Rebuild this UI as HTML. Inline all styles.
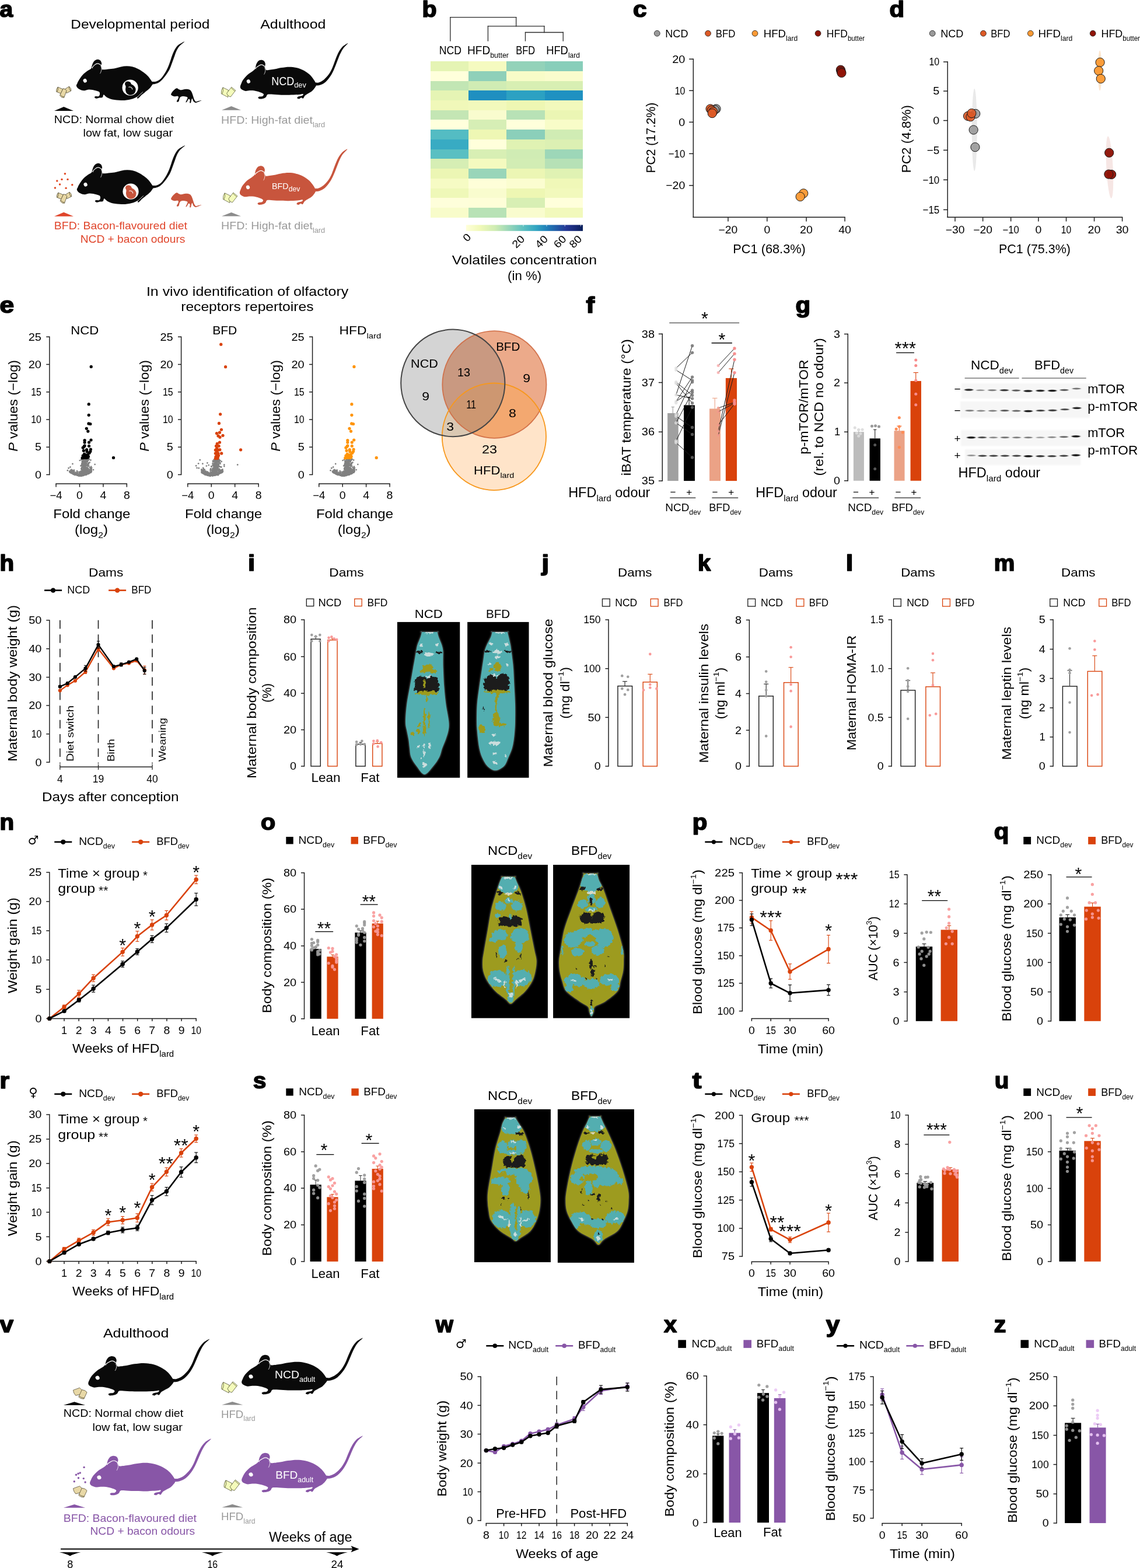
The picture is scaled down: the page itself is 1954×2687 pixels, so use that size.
<!DOCTYPE html>
<html lang="en"><head><meta charset="utf-8"><title>Figure</title>
<style>html,body{margin:0;padding:0;background:#fff}svg{display:block}text{font-family:"Liberation Sans", "DejaVu Sans", sans-serif;white-space:pre}</style>
</head><body>
<svg width="1954" height="2687" viewBox="0 0 1954 2687" font-family='"Liberation Sans", "DejaVu Sans", sans-serif'>
<rect width="1954" height="2687" fill="#fff"/>
<defs>
<path id="mouse" d="M299.6 510.9C298.4 502.7 305.1 496.2 308.7 488.1C312.3 480 312.5 476.2 321.3 462.4C330 448.6 347 421.4 361.3 405.2C375.6 389 392.7 376.2 407 365.2C421.3 354.3 438.9 348.1 447 339.5C455.1 330.9 452.2 323.3 455.5 313.8C458.9 304.3 461.7 291.9 467 282.4C472.2 272.9 478.9 262.9 487 256.7C495.1 250.5 506.5 245.2 515.5 245.2C524.6 245.2 534.8 250 541.3 256.7C547.7 263.3 552.7 276.2 554.4 285.2C556.1 294.3 551.4 302.4 551.5 310.9C551.7 319.5 553 330.3 555.5 336.7C558.1 343 553.6 348.3 567 349.2C580.3 350.2 614.6 344.7 635.5 342.4C656.5 340.1 673.6 339.1 692.7 335.5C711.7 331.9 730.8 324.3 749.8 320.7C768.9 317 787.9 314 807 313.8C826 313.6 845.1 314.9 864.1 319.5C883.1 324.1 902.2 331.7 921.2 341.2C940.3 350.8 961.2 364.1 978.4 376.7C995.5 389.2 1011.2 402.8 1024.1 416.7C1036.9 430.5 1048.9 450.4 1055.5 459.5C1062.1 468.6 1062.4 469.4 1063.8 471.4C1065.2 473.4 1056.7 471.9 1063.8 471.4C1071 470.9 1091.9 473.8 1106.7 468.5C1121.4 463.3 1137.2 455.2 1152.4 440C1167.6 424.7 1185.7 397.1 1198.1 377.1C1210.5 357.1 1218.1 340 1226.7 320C1235.2 300 1242.9 276.2 1249.5 257.1C1256.2 238.1 1259.1 224.8 1266.7 205.7C1274.3 186.7 1284.8 160.5 1295.2 142.8C1305.7 125.2 1314.8 112.4 1329.5 100C1344.3 87.6 1374.6 73 1383.8 68.6C1393 64.1 1392.6 65.5 1385 73.1C1377.3 80.8 1351 98.9 1338.1 114.3C1325.2 129.7 1316.7 146.7 1307.8 165.7C1299 184.8 1292.6 207.6 1285 228.6C1277.3 249.5 1269.2 272.4 1262.1 291.4C1255 310.5 1250.7 325.7 1242.1 342.8C1233.5 360 1223.5 376.2 1210.7 394.3C1197.8 412.4 1180.2 436.2 1165 451.4C1149.7 466.6 1135.2 477.9 1119.3 485.7C1103.3 493.5 1077.8 496.2 1069.5 498.3C1061.3 500.4 1071.4 495.7 1069.5 498.3C1067.7 500.9 1064 506.4 1058.4 513.8C1052.7 521.1 1046.9 531.4 1035.5 542.4C1024.1 553.3 1002.2 569.5 989.8 579.5C977.4 589.5 970.3 594.3 961.2 602.4C952.2 610.5 942.7 621.7 935.5 628.1C928.4 634.5 922.2 640.2 918.4 640.6C914.6 641.1 912.2 634.5 912.7 630.9C913.1 627.4 929.3 617.1 921.2 619.5C913.1 621.9 883.1 639 864.1 645.2C845.1 651.4 826 654.3 807 656.6C787.9 659 773.6 660.5 749.8 659.5C726 658.6 687.9 656.2 664.1 650.9C640.3 645.7 621.7 636.2 607 628.1C592.2 620 582.7 602.4 575.5 602.4C568.4 602.4 571.3 622.8 564.1 628.1C557 633.3 542.7 631.7 532.7 633.8C522.7 635.9 512.2 641.1 504.1 640.6C496 640.2 486.5 634.5 484.1 630.9C481.7 627.4 483.6 621.4 489.8 619.5C496 617.6 513.6 622.4 521.3 619.5C528.9 616.6 533.6 609.5 535.5 602.4C537.4 595.2 537 582.8 532.7 576.6C528.4 570.5 521.3 569 509.8 565.2C498.4 561.4 478.4 556.2 464.1 553.8C449.8 551.4 437.5 549.8 424.1 550.9C410.8 552.1 396.5 559.7 384.1 560.7C371.7 561.6 361.3 560.5 349.8 556.7C338.4 552.8 323.9 545.4 315.6 537.8C307.2 530.2 300.7 519.2 299.6 510.9Z"/>
<path id="mouse2" d="M305 520C305.8 511.7 310 501.7 315 490C320 478.3 324.2 465 335 450C345.8 435 364.2 414.2 380 400C395.8 385.8 417.5 375 430 365C442.5 355 449.2 350.8 455 340C460.8 329.2 460 312.5 465 300C470 287.5 476.7 273 485 265C493.3 257 505 252.5 515 252C525 251.5 537.8 255.7 545 262C552.2 268.3 556.3 280.3 558 290C559.7 299.7 554.3 310.8 555 320C555.7 329.2 558.7 339.2 562 345C565.3 350.8 560.3 355 575 355C589.7 355 625.8 349.2 650 345C674.2 340.8 695 333.8 720 330C745 326.2 775 322 800 322C825 322 846.7 324.5 870 330C893.3 335.5 918.3 344.2 940 355C961.7 365.8 983.3 380.8 1000 395C1016.7 409.2 1029.2 425.8 1040 440C1050.8 454.2 1060.8 473.3 1065 480C1069.2 486.7 1059.2 480.3 1065 480C1070.8 479.7 1085.8 483 1100 478C1114.2 473 1133.3 463.8 1150 450C1166.7 436.2 1185.8 415 1200 395C1214.2 375 1224.2 354.2 1235 330C1245.8 305.8 1254.2 276.7 1265 250C1275.8 223.3 1287.5 192.5 1300 170C1312.5 147.5 1325.8 129.2 1340 115C1354.2 100.8 1377.2 89.2 1385 85C1392.8 80.8 1393.7 81.7 1387 90C1380.3 98.3 1357.5 117.5 1345 135C1332.5 152.5 1322.5 172.5 1312 195C1301.5 217.5 1292.3 244.2 1282 270C1271.7 295.8 1261.2 325.8 1250 350C1238.8 374.2 1229.2 394.2 1215 415C1200.8 435.8 1182.5 460 1165 475C1147.5 490 1125.5 499.2 1110 505C1094.5 510.8 1078.3 509.2 1072 510C1065.7 510.8 1074 506.7 1072 510C1070 513.3 1067 520.8 1060 530C1053 539.2 1041.7 555 1030 565C1018.3 575 1001.7 582.5 990 590C978.3 597.5 968.3 601.7 960 610C951.7 618.3 946.7 636.3 940 640C933.3 643.7 926.7 631.2 920 632C913.3 632.8 906.7 644 900 645C893.3 646 881.7 641.8 880 638C878.3 634.2 881.7 626.3 890 622C898.3 617.7 921.7 616.5 930 612C938.3 607.5 945 597 940 595C935 593 923.3 598.3 900 600C876.7 601.7 833.3 604.5 800 605C766.7 605.5 730 604.2 700 603C670 601.8 640 598.5 620 598C600 597.5 589.2 595.5 580 600C570.8 604.5 571.7 618.3 565 625C558.3 631.7 550.8 636.7 540 640C529.2 643.3 509.2 646.3 500 645C490.8 643.7 485 635.8 485 632C485 628.2 492.5 624.3 500 622C507.5 619.7 523.3 622.5 530 618C536.7 613.5 545 602.2 540 595C535 587.8 515 580.5 500 575C485 569.5 466.7 564.5 450 562C433.3 559.5 415 559.5 400 560C385 560.5 371.7 565.8 360 565C348.3 564.2 338.3 559.2 330 555C321.7 550.8 314.2 545.8 310 540C305.8 534.2 304.2 528.3 305 520Z"/>
<path id="pup" d="M1255.2 597.1C1257.1 591.4 1262.9 580 1269.5 571.4C1276.2 562.8 1287.6 551.4 1295.2 545.7C1302.9 540 1308.6 536.6 1315.2 537.1C1321.9 537.6 1328.1 545.7 1335.2 548.5C1342.4 551.4 1348.6 554.4 1358.1 554.3C1367.6 554.1 1381 548.5 1392.4 547.4C1403.8 546.3 1417.1 545.8 1426.7 547.4C1436.2 549 1442.9 551.2 1449.5 557.1C1456.2 563 1461.9 572.8 1466.7 582.8C1471.4 592.8 1474.3 605.7 1478.1 617.1C1481.9 628.5 1485.2 642.3 1489.5 651.4C1493.8 660.4 1498.1 668.5 1503.8 671.4C1509.5 674.3 1514.8 670.4 1523.8 668.5C1532.8 666.6 1552.4 660.9 1558.1 660C1563.8 659 1563.8 660 1558.1 662.8C1552.4 665.7 1533.3 673.8 1523.8 677.1C1514.3 680.4 1508.1 684.3 1500.9 682.8C1493.8 681.4 1486.2 675.7 1480.9 668.5C1475.7 661.4 1472.9 641.9 1469.5 640C1466.2 638.1 1463.3 650 1460.9 657.1C1458.6 664.3 1458.1 678.5 1455.2 682.8C1452.4 687.1 1445.2 687.1 1443.8 682.8C1442.4 678.5 1448.6 663.3 1446.7 657.1C1444.8 650.9 1437.6 642.8 1432.4 645.7C1427.1 648.5 1420 669 1415.2 674.3C1410.5 679.5 1403.3 681.9 1403.8 677.1C1404.3 672.3 1415.2 653.8 1418.1 645.7C1421 637.6 1425.2 632.8 1421 628.5C1416.7 624.3 1401.9 621.4 1392.4 620C1382.9 618.5 1371.9 617.6 1363.8 620C1355.7 622.3 1349 625.7 1343.8 634.3C1338.6 642.8 1337.6 665.2 1332.4 671.4C1327.1 677.6 1312.9 677.6 1312.4 671.4C1311.9 665.2 1327.6 643.3 1329.5 634.3C1331.4 625.2 1330.5 619.5 1323.8 617.1C1317.1 614.7 1298.6 620.4 1289.5 620C1280.5 619.5 1274.8 616.6 1269.5 614.3C1264.3 611.9 1260.5 608.5 1258.1 605.7C1255.7 602.8 1253.3 602.8 1255.2 597.1Z"/>
<g id="pellet" stroke-width="13" stroke-linejoin="round"><path d="M290 395 L470 470 L400 625 L240 560 Q228 470 290 395 Z"/><path d="M290 395 Q320 480 262 570" fill="none"/><path d="M540 470 L690 375 Q775 440 760 530 L600 610 Z"/><path d="M690 375 Q670 460 745 535" fill="none"/><path d="M480 445 Q560 462 602 522 L510 770 Q430 790 360 690 Z"/><path d="M378 662 Q440 740 515 745" fill="none"/></g>
<g id="pellet2" stroke-width="13" stroke-linejoin="round"><path d="M350 410 L545 505 L530 755 L295 630 Q285 500 350 410 Z"/><path d="M350 410 Q385 520 325 645" fill="none"/><path d="M655 395 L800 515 L625 740 Q520 725 488 612 Z"/><path d="M640 425 L775 545" fill="none"/></g>
<g id="pellet3" stroke-width="3.6" stroke-linejoin="round"><path d="M150 602 L215 578 L240 602 L232 642 L175 656 Q152 632 150 602 Z"/><path d="M238 598 Q272 600 289 624 L258 690 Q225 692 205 670 Z"/><path d="M210 662 Q235 682 262 682" fill="none"/></g>
</defs>
<!-- panel_a -->
<text x="-0.4" y="29.3" font-size="38" textLength="22.6" lengthAdjust="spacingAndGlyphs" font-weight="bold" stroke="#000" stroke-width="1.7" stroke-linejoin="round">a</text>
<text x="121.27" y="48.83" font-size="21.5" textLength="238.14" lengthAdjust="spacingAndGlyphs">Developmental period</text>
<text x="446.27" y="48.83" font-size="21.5" textLength="112.07" lengthAdjust="spacingAndGlyphs">Adulthood</text>
<g transform="translate(80 60) scale(0.16980)">
<use href="#mouse" fill="#0a0a0a"/>
<path d="M463 332.1C452.7 329.7 478.2 306.9 487 299.5C495.7 292.2 506.5 288.1 515.5 288.1C524.6 288.1 535.7 295.2 541.3 299.5C546.8 303.8 561.7 308.4 548.7 313.8" fill="none" stroke="#fff" stroke-width="7" stroke-linecap="round"/>
<path d="M547 313.8C549.3 306.9 554.5 335.5 553.3 348.1C552 360.7 540.6 394.9 539.5 389.2" fill="none" stroke="#fff" stroke-width="4.5" stroke-linecap="round"/>
<path d="M920.1 621.2C920.1 621.2 969.8 574.9 969.8 574.9" fill="none" stroke="#fff" stroke-width="5" stroke-linecap="round"/>
<ellipse cx="386.98" cy="460.66" rx="18" ry="20" fill="#fff" transform="rotate(-25 386.98 460.66)"/>
<circle cx="842.96" cy="530.94" r="80" fill="#fff"/>
<path d="M798.4 473.8C804.1 469 816 467.1 824.1 468.1C832.2 469 841.7 474.8 847 479.5C852.2 484.3 849.8 490.9 855.5 496.7C861.2 502.4 874.1 506.2 881.2 513.8C888.4 521.4 896.5 531.9 898.4 542.4C900.3 552.8 897.4 567.1 892.7 576.6C887.9 586.2 879.3 594.7 869.8 599.5C860.3 604.3 846 607.1 835.5 605.2C825.1 603.3 813.6 596.6 807 588.1C800.3 579.5 797 565.2 795.5 553.8C794.1 542.4 799.3 529 798.4 519.5C797.4 510 789.8 504.3 789.8 496.7C789.8 489 792.7 478.6 798.4 473.8Z" fill="#0a0a0a"/>
<path d="M829.8 526.4C827.9 523 847 524.5 852.7 528.1C858.4 531.7 867.9 548.4 864.1 548.1" fill="none" stroke="#fff" stroke-width="6" stroke-linecap="round"/>
</g>
<use href="#pup" fill="#0a0a0a" transform="translate(80.02 60.01) scale(0.16980)"/>
<g transform="translate(360.01 60) scale(0.16980 0.16980)">
<use href="#mouse2" fill="#0a0a0a"/>
<path d="M462 340C451.5 337.3 480.3 318.7 490 312C499.7 305.3 510.8 300 520 300C529.2 300 539.5 307.3 545 312C550.5 316.7 566.8 323.3 553 328" fill="none" stroke="#fff" stroke-width="7" stroke-linecap="round"/>
<path d="M552 330C554.2 324 559.2 350.7 558 362C556.8 373.3 546 403.3 545 398" fill="none" stroke="#fff" stroke-width="4.5" stroke-linecap="round"/>
<ellipse cx="388" cy="468" rx="18" ry="20" fill="#fff" transform="rotate(-25 388 468)"/>
</g>
<g transform="translate(80.9 238) scale(0.16980)">
<use href="#mouse" fill="#0a0a0a"/>
<path d="M463 332.1C452.7 329.7 478.2 306.9 487 299.5C495.7 292.2 506.5 288.1 515.5 288.1C524.6 288.1 535.7 295.2 541.3 299.5C546.8 303.8 561.7 308.4 548.7 313.8" fill="none" stroke="#fff" stroke-width="7" stroke-linecap="round"/>
<path d="M547 313.8C549.3 306.9 554.5 335.5 553.3 348.1C552 360.7 540.6 394.9 539.5 389.2" fill="none" stroke="#fff" stroke-width="4.5" stroke-linecap="round"/>
<path d="M920.1 621.2C920.1 621.2 969.8 574.9 969.8 574.9" fill="none" stroke="#fff" stroke-width="5" stroke-linecap="round"/>
<ellipse cx="386.98" cy="460.66" rx="18" ry="20" fill="#fff" transform="rotate(-25 386.98 460.66)"/>
<circle cx="842.96" cy="530.94" r="80" fill="#fff"/>
<path d="M798.4 473.8C804.1 469 816 467.1 824.1 468.1C832.2 469 841.7 474.8 847 479.5C852.2 484.3 849.8 490.9 855.5 496.7C861.2 502.4 874.1 506.2 881.2 513.8C888.4 521.4 896.5 531.9 898.4 542.4C900.3 552.8 897.4 567.1 892.7 576.6C887.9 586.2 879.3 594.7 869.8 599.5C860.3 604.3 846 607.1 835.5 605.2C825.1 603.3 813.6 596.6 807 588.1C800.3 579.5 797 565.2 795.5 553.8C794.1 542.4 799.3 529 798.4 519.5C797.4 510 789.8 504.3 789.8 496.7C789.8 489 792.7 478.6 798.4 473.8Z" fill="#c8553d"/>
<path d="M829.8 526.4C827.9 523 847 524.5 852.7 528.1C858.4 531.7 867.9 548.4 864.1 548.1" fill="none" stroke="#fff" stroke-width="6" stroke-linecap="round"/>
</g>
<use href="#pup" fill="#c8553d" transform="translate(80.02 239.01) scale(0.16980)"/>
<g transform="translate(359.11 241.4) scale(0.16980 0.16980)">
<use href="#mouse2" fill="#c8553d"/>
<path d="M462 340C451.5 337.3 480.3 318.7 490 312C499.7 305.3 510.8 300 520 300C529.2 300 539.5 307.3 545 312C550.5 316.7 566.8 323.3 553 328" fill="none" stroke="#fff" stroke-width="7" stroke-linecap="round"/>
<path d="M552 330C554.2 324 559.2 350.7 558 362C556.8 373.3 546 403.3 545 398" fill="none" stroke="#fff" stroke-width="4.5" stroke-linecap="round"/>
<ellipse cx="388" cy="468" rx="18" ry="20" fill="#fff" transform="rotate(-25 388 468)"/>
</g>
<use href="#pellet" fill="#e8d8a6" stroke="#2a2412" transform="translate(85 130) scale(0.04851)"/>
<use href="#pellet" fill="#e8d8a6" stroke="#2a2412" transform="translate(85.7 311) scale(0.04851)"/>
<use href="#pellet2" fill="#f4fbbb" stroke="#3a3a1a" transform="translate(365 130) scale(0.04851)"/>
<use href="#pellet2" fill="#f4fbbb" stroke="#3a3a1a" transform="translate(368.1 310.9) scale(0.04851)"/>
<circle cx="111.41" cy="297.73" r="1.7" fill="#e0451f"/>
<circle cx="105.98" cy="307.41" r="1.7" fill="#e0451f"/>
<circle cx="116" cy="307.41" r="1.7" fill="#e0451f"/>
<circle cx="97.83" cy="309.96" r="1.7" fill="#e0451f"/>
<circle cx="102.58" cy="316.07" r="1.7" fill="#e0451f"/>
<circle cx="123.81" cy="316.75" r="1.7" fill="#e0451f"/>
<circle cx="94.43" cy="322.01" r="1.7" fill="#e0451f"/>
<circle cx="113.11" cy="322.35" r="1.7" fill="#e0451f"/>
<polygon points="93,189.9 109.3,183 126,189.9" fill="#0a0a0a"/>
<polygon points="380,188.7 396.5,182.1 413,188.7" fill="#8c8c8c"/>
<polygon points="93,370.7 109.3,363.8 126,370.7" fill="#e0452b"/>
<polygon points="380,370.5 396.5,363.9 413,370.5" fill="#8c8c8c"/>
<text x="92.86" y="210.93" font-size="19" textLength="205.32" lengthAdjust="spacingAndGlyphs">NCD: Normal chow diet</text>
<text x="142.49" y="233.74" font-size="19" textLength="153.69" lengthAdjust="spacingAndGlyphs">low fat, low sugar</text>
<text x="379.03" y="212.13" font-size="19" textLength="178.11" lengthAdjust="spacingAndGlyphs" fill="#9a9a9a">HFD: High-fat diet<tspan font-size="12.35" dy="5.7">lard</tspan><tspan dy="-5.7">&#8203;</tspan></text>
<text x="92.86" y="393.04" font-size="19" textLength="228.14" lengthAdjust="spacingAndGlyphs" fill="#e0452b">BFD: Bacon-flavoured diet</text>
<text x="137.68" y="416.25" font-size="19" textLength="179.71" lengthAdjust="spacingAndGlyphs" fill="#e0452b">NCD + bacon odours</text>
<text x="379.03" y="393.04" font-size="19" textLength="178.11" lengthAdjust="spacingAndGlyphs" fill="#9a9a9a">HFD: High-fat diet<tspan font-size="12.35" dy="5.7">lard</tspan><tspan dy="-5.7">&#8203;</tspan></text>
<text x="465.3" y="145.8" font-size="19.5" textLength="59.4" lengthAdjust="spacingAndGlyphs" fill="#fff">NCD<tspan font-size="13.65" dy="4.68">dev</tspan><tspan dy="-4.68">&#8203;</tspan></text>
<text x="466.1" y="324.4" font-size="14" textLength="48.1" lengthAdjust="spacingAndGlyphs" fill="#fff">BFD<tspan font-size="11.9" dy="3.92">dev</tspan><tspan dy="-3.92">&#8203;</tspan></text>
<!-- panel_b -->
<text x="723.6" y="29.3" font-size="38" textLength="25.1" lengthAdjust="spacingAndGlyphs" font-weight="bold" stroke="#000" stroke-width="1.7" stroke-linejoin="round">b</text>
<line x1="771.85" y1="29.65" x2="771.85" y2="70.04" stroke="#2a2a2a" stroke-width="1.3" stroke-linecap="square"/>
<line x1="771.85" y1="29.65" x2="884.65" y2="29.65" stroke="#2a2a2a" stroke-width="1.3" stroke-linecap="square"/>
<line x1="884.65" y1="29.65" x2="884.65" y2="44.94" stroke="#2a2a2a" stroke-width="1.3" stroke-linecap="square"/>
<line x1="836.43" y1="44.94" x2="932.86" y2="44.94" stroke="#2a2a2a" stroke-width="1.3" stroke-linecap="square"/>
<line x1="836.43" y1="44.94" x2="836.43" y2="70.04" stroke="#2a2a2a" stroke-width="1.3" stroke-linecap="square"/>
<line x1="932.86" y1="44.94" x2="932.86" y2="55.49" stroke="#2a2a2a" stroke-width="1.3" stroke-linecap="square"/>
<line x1="900.47" y1="55.49" x2="965.24" y2="55.49" stroke="#2a2a2a" stroke-width="1.3" stroke-linecap="square"/>
<line x1="900.47" y1="55.49" x2="900.47" y2="70.04" stroke="#2a2a2a" stroke-width="1.3" stroke-linecap="square"/>
<line x1="965.24" y1="55.49" x2="965.24" y2="70.04" stroke="#2a2a2a" stroke-width="1.3" stroke-linecap="square"/>
<text x="752.75" y="92.78" font-size="19.5" textLength="38.2" lengthAdjust="spacingAndGlyphs">NCD</text>
<text x="800.96" y="92.78" font-size="19.5" textLength="70.95" lengthAdjust="spacingAndGlyphs">HFD<tspan font-size="12.68" dy="5.85">butter</tspan><tspan dy="-5.85">&#8203;</tspan></text>
<text x="884.28" y="92.78" font-size="19.5" textLength="32.75" lengthAdjust="spacingAndGlyphs">BFD</text>
<text x="936.13" y="92.78" font-size="19.5" textLength="57.67" lengthAdjust="spacingAndGlyphs">HFD<tspan font-size="12.68" dy="5.85">lard</tspan><tspan dy="-5.85">&#8203;</tspan></text>
<g shape-rendering="crispEdges">
<rect x="738.2" y="105.1" width="65.42" height="17.03" fill="#e5f4b4"/>
<rect x="803.33" y="105.1" width="65.42" height="17.03" fill="#f5fac0"/>
<rect x="868.45" y="105.1" width="65.42" height="17.03" fill="#93d2b9"/>
<rect x="933.58" y="105.1" width="65.42" height="17.03" fill="#88ceba"/>
<rect x="738.2" y="121.82" width="65.42" height="17.03" fill="#ffffdb"/>
<rect x="803.33" y="121.82" width="65.42" height="17.03" fill="#8fd0b9"/>
<rect x="868.45" y="121.82" width="65.42" height="17.03" fill="#f8fcc8"/>
<rect x="933.58" y="121.82" width="65.42" height="17.03" fill="#fafccd"/>
<rect x="738.2" y="138.55" width="65.42" height="17.03" fill="#c2e6b4"/>
<rect x="803.33" y="138.55" width="65.42" height="17.03" fill="#d0ecb4"/>
<rect x="868.45" y="138.55" width="65.42" height="17.03" fill="#d8efb3"/>
<rect x="933.58" y="138.55" width="65.42" height="17.03" fill="#d8efb3"/>
<rect x="738.2" y="155.28" width="65.42" height="17.03" fill="#e5f4b4"/>
<rect x="803.33" y="155.28" width="65.42" height="17.03" fill="#1f8fc0"/>
<rect x="868.45" y="155.28" width="65.42" height="17.03" fill="#2ca1c2"/>
<rect x="933.58" y="155.28" width="65.42" height="17.03" fill="#1f91c1"/>
<rect x="738.2" y="172" width="65.42" height="17.03" fill="#f0f8b9"/>
<rect x="803.33" y="172" width="65.42" height="17.03" fill="#f2f9bc"/>
<rect x="868.45" y="172" width="65.42" height="17.03" fill="#eef7b3"/>
<rect x="933.58" y="172" width="65.42" height="17.03" fill="#f2f9bc"/>
<rect x="738.2" y="188.72" width="65.42" height="17.03" fill="#c4e6b4"/>
<rect x="803.33" y="188.72" width="65.42" height="17.03" fill="#f9fcce"/>
<rect x="868.45" y="188.72" width="65.42" height="17.03" fill="#b8e2b6"/>
<rect x="933.58" y="188.72" width="65.42" height="17.03" fill="#ebf6b4"/>
<rect x="738.2" y="205.45" width="65.42" height="17.03" fill="#ffffdc"/>
<rect x="803.33" y="205.45" width="65.42" height="17.03" fill="#d6eeb5"/>
<rect x="868.45" y="205.45" width="65.42" height="17.03" fill="#ffffdb"/>
<rect x="933.58" y="205.45" width="65.42" height="17.03" fill="#f8fcc8"/>
<rect x="738.2" y="222.18" width="65.42" height="17.03" fill="#54bcc3"/>
<rect x="803.33" y="222.18" width="65.42" height="17.03" fill="#eef7b4"/>
<rect x="868.45" y="222.18" width="65.42" height="17.03" fill="#8bcfba"/>
<rect x="933.58" y="222.18" width="65.42" height="17.03" fill="#d0ecb4"/>
<rect x="738.2" y="238.9" width="65.42" height="17.03" fill="#38abc3"/>
<rect x="803.33" y="238.9" width="65.42" height="17.03" fill="#ffffdb"/>
<rect x="868.45" y="238.9" width="65.42" height="17.03" fill="#e0f2b3"/>
<rect x="933.58" y="238.9" width="65.42" height="17.03" fill="#dcf0b3"/>
<rect x="738.2" y="255.62" width="65.42" height="17.03" fill="#5abfc2"/>
<rect x="803.33" y="255.62" width="65.42" height="17.03" fill="#d8efb4"/>
<rect x="868.45" y="255.62" width="65.42" height="17.03" fill="#d0ecb4"/>
<rect x="933.58" y="255.62" width="65.42" height="17.03" fill="#9dd7b8"/>
<rect x="738.2" y="272.35" width="65.42" height="17.03" fill="#d6eeb4"/>
<rect x="803.33" y="272.35" width="65.42" height="17.03" fill="#f4fabf"/>
<rect x="868.45" y="272.35" width="65.42" height="17.03" fill="#d2edb4"/>
<rect x="933.58" y="272.35" width="65.42" height="17.03" fill="#b6e1b6"/>
<rect x="738.2" y="289.08" width="65.42" height="17.03" fill="#ecf6b4"/>
<rect x="803.33" y="289.08" width="65.42" height="17.03" fill="#99d5b9"/>
<rect x="868.45" y="289.08" width="65.42" height="17.03" fill="#ecf6b4"/>
<rect x="933.58" y="289.08" width="65.42" height="17.03" fill="#e0f2b3"/>
<rect x="738.2" y="305.8" width="65.42" height="17.03" fill="#f6fbc4"/>
<rect x="803.33" y="305.8" width="65.42" height="17.03" fill="#fefed8"/>
<rect x="868.45" y="305.8" width="65.42" height="17.03" fill="#fbfdd0"/>
<rect x="933.58" y="305.8" width="65.42" height="17.03" fill="#f0f8b8"/>
<rect x="738.2" y="322.52" width="65.42" height="17.03" fill="#eff8b8"/>
<rect x="803.33" y="322.52" width="65.42" height="17.03" fill="#f9fcce"/>
<rect x="868.45" y="322.52" width="65.42" height="17.03" fill="#eef7b3"/>
<rect x="933.58" y="322.52" width="65.42" height="17.03" fill="#f2f9bc"/>
<rect x="738.2" y="339.25" width="65.42" height="17.03" fill="#fefeda"/>
<rect x="803.33" y="339.25" width="65.42" height="17.03" fill="#fefed8"/>
<rect x="868.45" y="339.25" width="65.42" height="17.03" fill="#d8efb4"/>
<rect x="933.58" y="339.25" width="65.42" height="17.03" fill="#ffffdb"/>
<rect x="738.2" y="355.98" width="65.42" height="17.03" fill="#f8fcca"/>
<rect x="803.33" y="355.98" width="65.42" height="17.03" fill="#b8e2b6"/>
<rect x="868.45" y="355.98" width="65.42" height="17.03" fill="#f9fcce"/>
<rect x="933.58" y="355.98" width="65.42" height="17.03" fill="#f2f9bc"/>
</g>
<defs><linearGradient id="cbar" x1="0" x2="1" y1="0" y2="0"><stop offset="0" stop-color="#ffffd9"/><stop offset="0.12" stop-color="#f0f9b8"/><stop offset="0.25" stop-color="#cfecb3"/><stop offset="0.37" stop-color="#97d6b9"/><stop offset="0.49" stop-color="#5dc0c0"/><stop offset="0.60" stop-color="#32a5c2"/><stop offset="0.69" stop-color="#2080b9"/><stop offset="0.78" stop-color="#2259a6"/><stop offset="0.86" stop-color="#253795"/><stop offset="0.94" stop-color="#172875"/><stop offset="1" stop-color="#081d58"/></linearGradient></defs>
<rect x="798.9" y="385.43" width="200.12" height="10.41" fill="url(#cbar)"/>
<line x1="896.96" y1="385.43" x2="896.96" y2="387.84" stroke="#fff" stroke-width="0.8"/>
<line x1="936.98" y1="385.43" x2="936.98" y2="387.84" stroke="#fff" stroke-width="0.8"/>
<line x1="968.2" y1="385.43" x2="968.2" y2="387.84" stroke="#fff" stroke-width="0.8"/>
<line x1="995.42" y1="385.43" x2="995.42" y2="387.84" stroke="#fff" stroke-width="0.8"/>
<text font-size="18" text-anchor="end" textLength="11.01" lengthAdjust="spacingAndGlyphs" transform="translate(808.5 407.45) rotate(-45)">0</text>
<text font-size="18" text-anchor="end" textLength="22.02" lengthAdjust="spacingAndGlyphs" transform="translate(900.56 410.65) rotate(-45)">20</text>
<text font-size="18" text-anchor="end" textLength="22.02" lengthAdjust="spacingAndGlyphs" transform="translate(940.18 410.65) rotate(-45)">40</text>
<text font-size="18" text-anchor="end" textLength="22.02" lengthAdjust="spacingAndGlyphs" transform="translate(971.8 410.65) rotate(-45)">60</text>
<text font-size="18" text-anchor="end" textLength="22.02" lengthAdjust="spacingAndGlyphs" transform="translate(998.62 410.65) rotate(-45)">80</text>
<text x="774.88" y="453.07" font-size="21.5" textLength="248.15" lengthAdjust="spacingAndGlyphs">Volatiles concentration</text>
<text x="870.14" y="480.29" font-size="21.5" textLength="58.04" lengthAdjust="spacingAndGlyphs">(in %)</text>
<!-- panel_c -->
<text x="1085.1" y="29.3" font-size="38" textLength="23.6" lengthAdjust="spacingAndGlyphs" font-weight="bold" stroke="#000" stroke-width="1.7" stroke-linejoin="round">c</text>
<circle cx="1126.29" cy="57.23" r="4.9" fill="#999999" stroke="#1a1a1a" stroke-width="0.8"/>
<text x="1140.3" y="64.04" font-size="19" textLength="39.22" lengthAdjust="spacingAndGlyphs">NCD</text>
<circle cx="1213.55" cy="57.23" r="4.9" fill="#dd5a26" stroke="#1a1a1a" stroke-width="0.8"/>
<text x="1226.76" y="64.04" font-size="19" textLength="33.62" lengthAdjust="spacingAndGlyphs">BFD</text>
<circle cx="1294" cy="57.23" r="4.9" fill="#fb9a35" stroke="#1a1a1a" stroke-width="0.8"/>
<text x="1308.81" y="64.04" font-size="19" textLength="58.44" lengthAdjust="spacingAndGlyphs">HFD<tspan font-size="12.35" dy="5.7">lard</tspan><tspan dy="-5.7">&#8203;</tspan></text>
<circle cx="1402.07" cy="57.23" r="4.9" fill="#8f1407" stroke="#1a1a1a" stroke-width="0.8"/>
<text x="1416.87" y="64.04" font-size="19" textLength="65.24" lengthAdjust="spacingAndGlyphs">HFD<tspan font-size="12.35" dy="5.7">butter</tspan><tspan dy="-5.7">&#8203;</tspan></text>
<line x1="1188.33" y1="100.54" x2="1188.33" y2="372.95" stroke="#1a1a1a" stroke-width="1.45"/>
<line x1="1181.13" y1="101.26" x2="1188.33" y2="101.26" stroke="#1a1a1a" stroke-width="1.45"/>
<text x="1174.33" y="107.57" font-size="18.29" text-anchor="end" textLength="22.18" lengthAdjust="spacingAndGlyphs">20</text>
<line x1="1181.13" y1="155.29" x2="1188.33" y2="155.29" stroke="#1a1a1a" stroke-width="1.45"/>
<text x="1174.33" y="161.6" font-size="18.29" text-anchor="end" textLength="17.69" lengthAdjust="spacingAndGlyphs">10</text>
<line x1="1181.13" y1="209.33" x2="1188.33" y2="209.33" stroke="#1a1a1a" stroke-width="1.45"/>
<text x="1174.33" y="215.64" font-size="18.29" text-anchor="end" textLength="10.98" lengthAdjust="spacingAndGlyphs">0</text>
<line x1="1181.13" y1="263.36" x2="1188.33" y2="263.36" stroke="#1a1a1a" stroke-width="1.45"/>
<text x="1174.33" y="269.67" font-size="18.29" text-anchor="end" textLength="28.68" lengthAdjust="spacingAndGlyphs">−10</text>
<line x1="1181.13" y1="317.79" x2="1188.33" y2="317.79" stroke="#1a1a1a" stroke-width="1.45"/>
<text x="1174.33" y="324.1" font-size="18.29" text-anchor="end" textLength="33.18" lengthAdjust="spacingAndGlyphs">−20</text>
<line x1="1187.61" y1="372.23" x2="1448.82" y2="372.23" stroke="#1a1a1a" stroke-width="1.45"/>
<line x1="1247.97" y1="372.23" x2="1247.97" y2="379.43" stroke="#1a1a1a" stroke-width="1.45"/>
<text x="1247.97" y="400.24" font-size="18.03" text-anchor="middle" textLength="32.7" lengthAdjust="spacingAndGlyphs">−20</text>
<line x1="1314.81" y1="372.23" x2="1314.81" y2="379.43" stroke="#1a1a1a" stroke-width="1.45"/>
<text x="1314.81" y="400.24" font-size="18.03" text-anchor="middle" textLength="10.83" lengthAdjust="spacingAndGlyphs">0</text>
<line x1="1382.05" y1="372.23" x2="1382.05" y2="379.43" stroke="#1a1a1a" stroke-width="1.45"/>
<text x="1382.05" y="400.24" font-size="18.03" text-anchor="middle" textLength="21.87" lengthAdjust="spacingAndGlyphs">20</text>
<line x1="1448.09" y1="372.23" x2="1448.09" y2="379.43" stroke="#1a1a1a" stroke-width="1.45"/>
<text x="1448.09" y="400.24" font-size="18.03" text-anchor="middle" textLength="21.87" lengthAdjust="spacingAndGlyphs">40</text>
<text font-size="22" text-anchor="middle" textLength="120.87" lengthAdjust="spacingAndGlyphs" transform="translate(1122.79 236.14) rotate(-90)">PC2 (17.2%)</text>
<text x="1318.61" y="434.26" font-size="22" text-anchor="middle" textLength="124.48" lengthAdjust="spacingAndGlyphs">PC1 (68.3%)</text>
<circle cx="1227.56" cy="186.51" r="7.6" fill="#999999" stroke="#1a1a1a" stroke-width="1" fill-opacity="0.9700000000000001"/>
<circle cx="1225.15" cy="188.11" r="7.6" fill="#999999" stroke="#1a1a1a" stroke-width="1" fill-opacity="0.9700000000000001"/>
<circle cx="1217.55" cy="186.51" r="7.6" fill="#dd5a26" stroke="#1a1a1a" stroke-width="1" fill-opacity="0.9700000000000001"/>
<circle cx="1219.95" cy="188.91" r="7.6" fill="#dd5a26" stroke="#1a1a1a" stroke-width="1" fill-opacity="0.9700000000000001"/>
<circle cx="1222.35" cy="191.32" r="7.6" fill="#dd5a26" stroke="#1a1a1a" stroke-width="1" fill-opacity="0.9700000000000001"/>
<circle cx="1220.75" cy="194.12" r="7.6" fill="#dd5a26" stroke="#1a1a1a" stroke-width="1" fill-opacity="0.9700000000000001"/>
<circle cx="1440.89" cy="119.67" r="7.6" fill="#8f1407" stroke="#1a1a1a" stroke-width="1" fill-opacity="0.9700000000000001"/>
<circle cx="1441.69" cy="122.47" r="7.6" fill="#8f1407" stroke="#1a1a1a" stroke-width="1" fill-opacity="0.9700000000000001"/>
<circle cx="1442.49" cy="124.88" r="7.6" fill="#8f1407" stroke="#1a1a1a" stroke-width="1" fill-opacity="0.9700000000000001"/>
<circle cx="1377.25" cy="331.4" r="7.6" fill="#fb9a35" stroke="#1a1a1a" stroke-width="1" fill-opacity="0.9700000000000001"/>
<circle cx="1371.65" cy="337" r="7.6" fill="#fb9a35" stroke="#1a1a1a" stroke-width="1" fill-opacity="0.9700000000000001"/>
<!-- panel_d -->
<text x="1524.6" y="29.3" font-size="38" textLength="25.6" lengthAdjust="spacingAndGlyphs" font-weight="bold" stroke="#000" stroke-width="1.7" stroke-linejoin="round">d</text>
<circle cx="1598.18" cy="57.23" r="4.9" fill="#999999" stroke="#1a1a1a" stroke-width="0.8"/>
<text x="1612.19" y="64.04" font-size="19" textLength="39.22" lengthAdjust="spacingAndGlyphs">NCD</text>
<circle cx="1685.44" cy="57.23" r="4.9" fill="#dd5a26" stroke="#1a1a1a" stroke-width="0.8"/>
<text x="1698.24" y="64.04" font-size="19" textLength="33.22" lengthAdjust="spacingAndGlyphs">BFD</text>
<circle cx="1766.29" cy="57.23" r="4.9" fill="#fb9a35" stroke="#1a1a1a" stroke-width="0.8"/>
<text x="1779.49" y="64.04" font-size="19" textLength="58.84" lengthAdjust="spacingAndGlyphs">HFD<tspan font-size="12.35" dy="5.7">lard</tspan><tspan dy="-5.7">&#8203;</tspan></text>
<circle cx="1873.15" cy="57.23" r="4.9" fill="#8f1407" stroke="#1a1a1a" stroke-width="0.8"/>
<text x="1887.56" y="64.04" font-size="19" textLength="66.44" lengthAdjust="spacingAndGlyphs">HFD<tspan font-size="12.35" dy="5.7">butter</tspan><tspan dy="-5.7">&#8203;</tspan></text>
<line x1="1624.2" y1="105.34" x2="1624.2" y2="372.95" stroke="#1a1a1a" stroke-width="1.45"/>
<line x1="1617" y1="106.06" x2="1624.2" y2="106.06" stroke="#1a1a1a" stroke-width="1.45"/>
<text x="1610.2" y="112.37" font-size="18.29" text-anchor="end" textLength="17.69" lengthAdjust="spacingAndGlyphs">10</text>
<line x1="1617" y1="156.09" x2="1624.2" y2="156.09" stroke="#1a1a1a" stroke-width="1.45"/>
<text x="1610.2" y="162.4" font-size="18.29" text-anchor="end" textLength="10.98" lengthAdjust="spacingAndGlyphs">5</text>
<line x1="1617" y1="206.53" x2="1624.2" y2="206.53" stroke="#1a1a1a" stroke-width="1.45"/>
<text x="1610.2" y="212.83" font-size="18.29" text-anchor="end" textLength="10.98" lengthAdjust="spacingAndGlyphs">0</text>
<line x1="1617" y1="257.36" x2="1624.2" y2="257.36" stroke="#1a1a1a" stroke-width="1.45"/>
<text x="1610.2" y="263.67" font-size="18.29" text-anchor="end" textLength="21.49" lengthAdjust="spacingAndGlyphs">−5</text>
<line x1="1617" y1="308.19" x2="1624.2" y2="308.19" stroke="#1a1a1a" stroke-width="1.45"/>
<text x="1610.2" y="314.5" font-size="18.29" text-anchor="end" textLength="28.68" lengthAdjust="spacingAndGlyphs">−10</text>
<line x1="1617" y1="359.42" x2="1624.2" y2="359.42" stroke="#1a1a1a" stroke-width="1.45"/>
<text x="1610.2" y="365.73" font-size="18.29" text-anchor="end" textLength="28.68" lengthAdjust="spacingAndGlyphs">−15</text>
<line x1="1623.48" y1="372.23" x2="1924.31" y2="372.23" stroke="#1a1a1a" stroke-width="1.45"/>
<line x1="1637.01" y1="372.23" x2="1637.01" y2="379.43" stroke="#1a1a1a" stroke-width="1.45"/>
<text x="1637.01" y="400.24" font-size="18.03" text-anchor="middle" textLength="32.7" lengthAdjust="spacingAndGlyphs">−30</text>
<line x1="1684.64" y1="372.23" x2="1684.64" y2="379.43" stroke="#1a1a1a" stroke-width="1.45"/>
<text x="1684.64" y="400.24" font-size="18.03" text-anchor="middle" textLength="32.7" lengthAdjust="spacingAndGlyphs">−20</text>
<line x1="1732.67" y1="372.23" x2="1732.67" y2="379.43" stroke="#1a1a1a" stroke-width="1.45"/>
<text x="1732.67" y="400.24" font-size="18.03" text-anchor="middle" textLength="28.27" lengthAdjust="spacingAndGlyphs">−10</text>
<line x1="1779.89" y1="372.23" x2="1779.89" y2="379.43" stroke="#1a1a1a" stroke-width="1.45"/>
<text x="1779.89" y="400.24" font-size="18.03" text-anchor="middle" textLength="10.83" lengthAdjust="spacingAndGlyphs">0</text>
<line x1="1827.52" y1="372.23" x2="1827.52" y2="379.43" stroke="#1a1a1a" stroke-width="1.45"/>
<text x="1827.52" y="400.24" font-size="18.03" text-anchor="middle" textLength="17.43" lengthAdjust="spacingAndGlyphs">10</text>
<line x1="1875.55" y1="372.23" x2="1875.55" y2="379.43" stroke="#1a1a1a" stroke-width="1.45"/>
<text x="1875.55" y="400.24" font-size="18.03" text-anchor="middle" textLength="21.87" lengthAdjust="spacingAndGlyphs">20</text>
<line x1="1923.58" y1="372.23" x2="1923.58" y2="379.43" stroke="#1a1a1a" stroke-width="1.45"/>
<text x="1923.58" y="400.24" font-size="18.03" text-anchor="middle" textLength="21.87" lengthAdjust="spacingAndGlyphs">30</text>
<text font-size="22" text-anchor="middle" textLength="116.07" lengthAdjust="spacingAndGlyphs" transform="translate(1561.46 238.14) rotate(-90)">PC2 (4.8%)</text>
<text x="1773.49" y="434.26" font-size="22" text-anchor="middle" textLength="122.87" lengthAdjust="spacingAndGlyphs">PC1 (75.3%)</text>
<ellipse cx="1670.23" cy="222.53" rx="4.4" ry="70.44" fill="#e9e9e9"/>
<ellipse cx="1885.16" cy="120.87" rx="3.2" ry="34.42" fill="#fde6cf"/>
<ellipse cx="1901.97" cy="286.57" rx="5.6" ry="53.23" fill="#f6e6e4" transform="rotate(-3 1901.97 286.57)"/>
<circle cx="1672.23" cy="194.92" r="7.6" fill="#999999" stroke="#1a1a1a" stroke-width="1" fill-opacity="0.9"/>
<circle cx="1668.63" cy="222.53" r="7.6" fill="#999999" stroke="#1a1a1a" stroke-width="1" fill-opacity="0.9"/>
<circle cx="1671.43" cy="252.15" r="7.6" fill="#999999" stroke="#1a1a1a" stroke-width="1" fill-opacity="0.9"/>
<circle cx="1659.02" cy="198.92" r="7.6" fill="#dd5a26" stroke="#1a1a1a" stroke-width="1" fill-opacity="0.9"/>
<circle cx="1663.42" cy="200.12" r="7.6" fill="#dd5a26" stroke="#1a1a1a" stroke-width="1" fill-opacity="0.9"/>
<circle cx="1665.43" cy="194.12" r="7.6" fill="#dd5a26" stroke="#1a1a1a" stroke-width="1" fill-opacity="0.9"/>
<circle cx="1885.56" cy="106.86" r="7.6" fill="#fb9a35" stroke="#1a1a1a" stroke-width="1" fill-opacity="0.9700000000000001"/>
<circle cx="1883.16" cy="121.27" r="7.6" fill="#fb9a35" stroke="#1a1a1a" stroke-width="1" fill-opacity="0.9700000000000001"/>
<circle cx="1886.76" cy="134.88" r="7.6" fill="#fb9a35" stroke="#1a1a1a" stroke-width="1" fill-opacity="0.9700000000000001"/>
<circle cx="1901.17" cy="261.76" r="7.6" fill="#8f1407" stroke="#1a1a1a" stroke-width="1" fill-opacity="0.9700000000000001"/>
<circle cx="1905.17" cy="298.98" r="7.6" fill="#8f1407" stroke="#1a1a1a" stroke-width="1" fill-opacity="0.9700000000000001"/>
<circle cx="1900.37" cy="298.58" r="7.6" fill="#8f1407" stroke="#1a1a1a" stroke-width="1" fill-opacity="0.9700000000000001"/>
<!-- panel_e -->
<text x="-0.4" y="536.3" font-size="38" textLength="24.6" lengthAdjust="spacingAndGlyphs" font-weight="bold" stroke="#000" stroke-width="1.7" stroke-linejoin="round">e</text>
<text x="250.95" y="507.22" font-size="22" textLength="346.21" lengthAdjust="spacingAndGlyphs">In vivo identification of olfactory</text>
<text x="310.19" y="533.24" font-size="22" textLength="227.34" lengthAdjust="spacingAndGlyphs">receptors repertoires</text>
<line x1="84.85" y1="576.54" x2="84.85" y2="814.13" stroke="#1a1a1a" stroke-width="1.45"/>
<line x1="79.25" y1="577.27" x2="84.85" y2="577.27" stroke="#1a1a1a" stroke-width="1.45"/>
<text x="70.95" y="583.57" font-size="18.29" text-anchor="end" textLength="22.18" lengthAdjust="spacingAndGlyphs">25</text>
<line x1="79.25" y1="624.49" x2="84.85" y2="624.49" stroke="#1a1a1a" stroke-width="1.45"/>
<text x="70.95" y="630.8" font-size="18.29" text-anchor="end" textLength="22.18" lengthAdjust="spacingAndGlyphs">20</text>
<line x1="79.25" y1="671.72" x2="84.85" y2="671.72" stroke="#1a1a1a" stroke-width="1.45"/>
<text x="70.95" y="678.03" font-size="18.29" text-anchor="end" textLength="17.69" lengthAdjust="spacingAndGlyphs">15</text>
<line x1="79.25" y1="718.95" x2="84.85" y2="718.95" stroke="#1a1a1a" stroke-width="1.45"/>
<text x="70.95" y="725.26" font-size="18.29" text-anchor="end" textLength="17.69" lengthAdjust="spacingAndGlyphs">10</text>
<line x1="79.25" y1="766.18" x2="84.85" y2="766.18" stroke="#1a1a1a" stroke-width="1.45"/>
<text x="70.95" y="772.49" font-size="18.29" text-anchor="end" textLength="10.98" lengthAdjust="spacingAndGlyphs">5</text>
<line x1="79.25" y1="813.41" x2="84.85" y2="813.41" stroke="#1a1a1a" stroke-width="1.45"/>
<text x="70.95" y="819.72" font-size="18.29" text-anchor="end" textLength="10.98" lengthAdjust="spacingAndGlyphs">0</text>
<line x1="95.33" y1="829.02" x2="218.06" y2="829.02" stroke="#1a1a1a" stroke-width="1.45"/>
<line x1="96.06" y1="829.02" x2="96.06" y2="834.62" stroke="#1a1a1a" stroke-width="1.45"/>
<text x="96.06" y="855.03" font-size="18.03" text-anchor="middle" textLength="21.18" lengthAdjust="spacingAndGlyphs">−4</text>
<line x1="136.48" y1="829.02" x2="136.48" y2="834.62" stroke="#1a1a1a" stroke-width="1.45"/>
<text x="136.48" y="855.03" font-size="18.03" text-anchor="middle" textLength="10.83" lengthAdjust="spacingAndGlyphs">0</text>
<line x1="176.91" y1="829.02" x2="176.91" y2="834.62" stroke="#1a1a1a" stroke-width="1.45"/>
<text x="176.91" y="855.03" font-size="18.03" text-anchor="middle" textLength="10.83" lengthAdjust="spacingAndGlyphs">4</text>
<line x1="217.33" y1="829.02" x2="217.33" y2="834.62" stroke="#1a1a1a" stroke-width="1.45"/>
<text x="217.33" y="855.03" font-size="18.03" text-anchor="middle" textLength="10.83" lengthAdjust="spacingAndGlyphs">8</text>
<text font-size="22" text-anchor="middle" textLength="156.9" lengthAdjust="spacingAndGlyphs" transform="translate(29.72 695.34) rotate(-90)"><tspan font-style="italic">P</tspan> values (−log)</text>
<text x="157.3" y="888.25" font-size="22" text-anchor="middle" textLength="132.08" lengthAdjust="spacingAndGlyphs">Fold change</text>
<text x="156.49" y="915.07" font-size="22" text-anchor="middle" textLength="56.83" lengthAdjust="spacingAndGlyphs">(log<tspan font-size="14.3" dy="6.6">2</tspan><tspan dy="-6.6">&#8203;</tspan>)</text>
<text x="121.27" y="573.26" font-size="21" textLength="48.03" lengthAdjust="spacingAndGlyphs">NCD</text>
<g fill="#808080">
<circle cx="142.38" cy="793.24" r="1.35"/>
<circle cx="143.6" cy="803.31" r="1.35"/>
<circle cx="144.96" cy="803.91" r="1.35"/>
<circle cx="144.07" cy="809.73" r="1.35"/>
<circle cx="146.61" cy="793.82" r="1.35"/>
<circle cx="156.18" cy="799.63" r="1.35"/>
<circle cx="138.99" cy="809.7" r="1.35"/>
<circle cx="146.54" cy="790.83" r="1.35"/>
<circle cx="147.25" cy="804.16" r="1.35"/>
<circle cx="141.03" cy="807.08" r="1.35"/>
<circle cx="149.65" cy="805.16" r="1.35"/>
<circle cx="146.82" cy="802.95" r="1.35"/>
<circle cx="152.14" cy="794.98" r="1.35"/>
<circle cx="146.22" cy="799.7" r="1.35"/>
<circle cx="148.12" cy="806.47" r="1.35"/>
<circle cx="139.85" cy="812.03" r="1.35"/>
<circle cx="146.28" cy="797.56" r="1.35"/>
<circle cx="140.02" cy="812.43" r="1.35"/>
<circle cx="145.24" cy="810.87" r="1.35"/>
<circle cx="146.69" cy="792.66" r="1.35"/>
<circle cx="139.03" cy="813.25" r="1.35"/>
<circle cx="147.26" cy="794.97" r="1.35"/>
<circle cx="142.38" cy="800.65" r="1.35"/>
<circle cx="146.67" cy="802.79" r="1.35"/>
<circle cx="148.86" cy="802.76" r="1.35"/>
<circle cx="140.63" cy="812.25" r="1.35"/>
<circle cx="148.91" cy="810.25" r="1.35"/>
<circle cx="145.48" cy="791.18" r="1.35"/>
<circle cx="151.05" cy="810.37" r="1.35"/>
<circle cx="142.97" cy="802.35" r="1.35"/>
<circle cx="145.77" cy="806.33" r="1.35"/>
<circle cx="150.9" cy="802.47" r="1.35"/>
<circle cx="151.64" cy="794.53" r="1.35"/>
<circle cx="146.02" cy="813.92" r="1.35"/>
<circle cx="147.09" cy="789.12" r="1.35"/>
<circle cx="142.45" cy="790.84" r="1.35"/>
<circle cx="146.22" cy="794.77" r="1.35"/>
<circle cx="139.18" cy="787.9" r="1.35"/>
<circle cx="149.74" cy="803.6" r="1.35"/>
<circle cx="146.82" cy="795.79" r="1.35"/>
<circle cx="147.77" cy="810.93" r="1.35"/>
<circle cx="142.88" cy="814.16" r="1.35"/>
<circle cx="149.48" cy="795.21" r="1.35"/>
<circle cx="148.32" cy="787.55" r="1.35"/>
<circle cx="141.72" cy="792.12" r="1.35"/>
<circle cx="148.38" cy="790.99" r="1.35"/>
<circle cx="148.13" cy="787.86" r="1.35"/>
<circle cx="141.29" cy="813.07" r="1.35"/>
<circle cx="140.92" cy="811.36" r="1.35"/>
<circle cx="147.41" cy="801" r="1.35"/>
<circle cx="140.77" cy="804.41" r="1.35"/>
<circle cx="141.97" cy="803.75" r="1.35"/>
<circle cx="139.9" cy="812.57" r="1.35"/>
<circle cx="144.02" cy="806.51" r="1.35"/>
<circle cx="142.57" cy="793.23" r="1.35"/>
<circle cx="153.76" cy="801.03" r="1.35"/>
<circle cx="148.22" cy="801.78" r="1.35"/>
<circle cx="144.84" cy="802.65" r="1.35"/>
<circle cx="142.55" cy="787.24" r="1.35"/>
<circle cx="142.83" cy="788.34" r="1.35"/>
<circle cx="139.37" cy="803.95" r="1.35"/>
<circle cx="146.32" cy="796.39" r="1.35"/>
<circle cx="144.16" cy="806.14" r="1.35"/>
<circle cx="145.34" cy="788.35" r="1.35"/>
<circle cx="146.85" cy="805.29" r="1.35"/>
<circle cx="144.34" cy="799.24" r="1.35"/>
<circle cx="143.15" cy="803" r="1.35"/>
<circle cx="148.31" cy="795.29" r="1.35"/>
<circle cx="142.79" cy="796.85" r="1.35"/>
<circle cx="143.52" cy="797.07" r="1.35"/>
<circle cx="148.43" cy="807.94" r="1.35"/>
<circle cx="144.89" cy="806.92" r="1.35"/>
<circle cx="146.42" cy="795.22" r="1.35"/>
<circle cx="151.67" cy="793.26" r="1.35"/>
<circle cx="140.82" cy="791.84" r="1.35"/>
<circle cx="148.06" cy="789.49" r="1.35"/>
<circle cx="142.05" cy="795.55" r="1.35"/>
<circle cx="150.62" cy="798.75" r="1.35"/>
<circle cx="145.3" cy="810.23" r="1.35"/>
<circle cx="147.1" cy="804.58" r="1.35"/>
<circle cx="141.36" cy="811.04" r="1.35"/>
<circle cx="146.64" cy="790.02" r="1.35"/>
<circle cx="146.99" cy="801.26" r="1.35"/>
<circle cx="149.65" cy="809.76" r="1.35"/>
<circle cx="144.6" cy="791.74" r="1.35"/>
<circle cx="150.54" cy="804.35" r="1.35"/>
<circle cx="142.91" cy="808.87" r="1.35"/>
<circle cx="146.9" cy="794.72" r="1.35"/>
<circle cx="143.55" cy="808.53" r="1.35"/>
<circle cx="148.19" cy="798.16" r="1.35"/>
<circle cx="138.51" cy="798.24" r="1.35"/>
<circle cx="149.96" cy="790.98" r="1.35"/>
<circle cx="152.87" cy="786.82" r="1.35"/>
<circle cx="140.94" cy="813.84" r="1.35"/>
<circle cx="152.49" cy="798.64" r="1.35"/>
<circle cx="143.18" cy="792.8" r="1.35"/>
<circle cx="146.73" cy="807.2" r="1.35"/>
<circle cx="140.42" cy="800.97" r="1.35"/>
<circle cx="144.08" cy="794.64" r="1.35"/>
<circle cx="148.12" cy="788.56" r="1.35"/>
<circle cx="143.11" cy="802.89" r="1.35"/>
<circle cx="152.21" cy="787.93" r="1.35"/>
<circle cx="140.95" cy="811.55" r="1.35"/>
<circle cx="136.35" cy="811.36" r="1.35"/>
<circle cx="143.17" cy="811.44" r="1.35"/>
<circle cx="143.85" cy="807.2" r="1.35"/>
<circle cx="144.19" cy="791.42" r="1.35"/>
<circle cx="149.56" cy="801.13" r="1.35"/>
<circle cx="149.45" cy="798.07" r="1.35"/>
<circle cx="143.49" cy="796.08" r="1.35"/>
<circle cx="148.05" cy="793.63" r="1.35"/>
<circle cx="141.01" cy="808.21" r="1.35"/>
<circle cx="146.62" cy="796.37" r="1.35"/>
<circle cx="147.92" cy="809.16" r="1.35"/>
<circle cx="147.76" cy="791.4" r="1.35"/>
<circle cx="136.43" cy="808.87" r="1.35"/>
<circle cx="148.72" cy="809.35" r="1.35"/>
<circle cx="144" cy="810.42" r="1.35"/>
<circle cx="145.73" cy="788.06" r="1.35"/>
<circle cx="147.43" cy="801.2" r="1.35"/>
<circle cx="139.16" cy="798.33" r="1.35"/>
<circle cx="147.25" cy="786.74" r="1.35"/>
<circle cx="147.32" cy="788.2" r="1.35"/>
<circle cx="147.32" cy="788.57" r="1.35"/>
<circle cx="144.34" cy="813.51" r="1.35"/>
<circle cx="143.65" cy="800.5" r="1.35"/>
<circle cx="144.07" cy="795.38" r="1.35"/>
<circle cx="147.33" cy="804.49" r="1.35"/>
<circle cx="143.12" cy="802.83" r="1.35"/>
<circle cx="147.02" cy="795.73" r="1.35"/>
<circle cx="140.76" cy="790.09" r="1.35"/>
<circle cx="143.29" cy="797.15" r="1.35"/>
<circle cx="147.46" cy="788.89" r="1.35"/>
<circle cx="147.51" cy="803.32" r="1.35"/>
<circle cx="139.49" cy="808.22" r="1.35"/>
<circle cx="148.68" cy="803.83" r="1.35"/>
<circle cx="142.2" cy="798.56" r="1.35"/>
<circle cx="147.12" cy="806.03" r="1.35"/>
<circle cx="143.72" cy="798.26" r="1.35"/>
<circle cx="141.95" cy="793.43" r="1.35"/>
<circle cx="144.26" cy="801.43" r="1.35"/>
<circle cx="143.78" cy="798.38" r="1.35"/>
<circle cx="150.9" cy="798.41" r="1.35"/>
<circle cx="139.63" cy="796.99" r="1.35"/>
<circle cx="144.35" cy="811.39" r="1.35"/>
<circle cx="142.32" cy="799.46" r="1.35"/>
<circle cx="147.85" cy="790.08" r="1.35"/>
<circle cx="139.03" cy="811.1" r="1.35"/>
<circle cx="141.2" cy="808.49" r="1.35"/>
<circle cx="139.76" cy="802.2" r="1.35"/>
<circle cx="145.66" cy="789.53" r="1.35"/>
<circle cx="145.65" cy="790.64" r="1.35"/>
<circle cx="145.47" cy="807.99" r="1.35"/>
<circle cx="146.37" cy="789.42" r="1.35"/>
<circle cx="144.04" cy="810.91" r="1.35"/>
<circle cx="144.51" cy="809.84" r="1.35"/>
<circle cx="148.76" cy="790.03" r="1.35"/>
<circle cx="139.57" cy="809.7" r="1.35"/>
<circle cx="138.1" cy="812.89" r="1.35"/>
<circle cx="143.2" cy="787.69" r="1.35"/>
<circle cx="138.61" cy="807.8" r="1.35"/>
<circle cx="145.55" cy="789.63" r="1.35"/>
<circle cx="145.22" cy="807.3" r="1.35"/>
<circle cx="144.82" cy="795.61" r="1.35"/>
<circle cx="145.83" cy="802.21" r="1.35"/>
<circle cx="143.47" cy="791.63" r="1.35"/>
<circle cx="141.23" cy="793.57" r="1.35"/>
<circle cx="141.28" cy="797.52" r="1.35"/>
<circle cx="142.64" cy="796.8" r="1.35"/>
<circle cx="146.97" cy="798.2" r="1.35"/>
<circle cx="136.76" cy="788.98" r="1.35"/>
<circle cx="145.04" cy="798.05" r="1.35"/>
<circle cx="146.91" cy="807.25" r="1.35"/>
<circle cx="148.54" cy="807.49" r="1.35"/>
<circle cx="140.38" cy="805.23" r="1.35"/>
<circle cx="143.98" cy="804.38" r="1.35"/>
<circle cx="144.58" cy="811.38" r="1.35"/>
<circle cx="145.34" cy="807.27" r="1.35"/>
<circle cx="139.92" cy="811.91" r="1.35"/>
<circle cx="143.78" cy="806.47" r="1.35"/>
<circle cx="145.46" cy="791.81" r="1.35"/>
<circle cx="146.84" cy="802.8" r="1.35"/>
<circle cx="145.92" cy="795.35" r="1.35"/>
<circle cx="148.75" cy="812.92" r="1.35"/>
<circle cx="144.41" cy="794.83" r="1.35"/>
<circle cx="140.38" cy="810.18" r="1.35"/>
<circle cx="144.31" cy="802.78" r="1.35"/>
<circle cx="148.57" cy="787.32" r="1.35"/>
<circle cx="143.3" cy="799.88" r="1.35"/>
<circle cx="146.63" cy="796.61" r="1.35"/>
<circle cx="145.61" cy="795.55" r="1.35"/>
<circle cx="141.51" cy="813.96" r="1.35"/>
<circle cx="141.73" cy="799.88" r="1.35"/>
<circle cx="141.6" cy="809.65" r="1.35"/>
<circle cx="140.2" cy="809.3" r="1.35"/>
<circle cx="142.79" cy="806.52" r="1.35"/>
<circle cx="139.26" cy="810.26" r="1.35"/>
<circle cx="146.77" cy="813.11" r="1.35"/>
<circle cx="145.22" cy="799.55" r="1.35"/>
<circle cx="146.68" cy="806.44" r="1.35"/>
<circle cx="150.83" cy="805.27" r="1.35"/>
<circle cx="143.82" cy="793.35" r="1.35"/>
<circle cx="145.58" cy="791.91" r="1.35"/>
<circle cx="146.43" cy="806.08" r="1.35"/>
<circle cx="145.91" cy="810.31" r="1.35"/>
<circle cx="142.21" cy="810.49" r="1.35"/>
<circle cx="140.42" cy="795.31" r="1.35"/>
<circle cx="148.57" cy="789.05" r="1.35"/>
<circle cx="147.41" cy="789.24" r="1.35"/>
<circle cx="142.75" cy="796.5" r="1.35"/>
<circle cx="144.4" cy="802.66" r="1.35"/>
<circle cx="144.92" cy="795.9" r="1.35"/>
<circle cx="142.64" cy="798.69" r="1.35"/>
<circle cx="144.77" cy="802.79" r="1.35"/>
<circle cx="140.17" cy="812.97" r="1.35"/>
<circle cx="148.63" cy="789.97" r="1.35"/>
<circle cx="144.6" cy="794.25" r="1.35"/>
<circle cx="142.25" cy="811.1" r="1.35"/>
<circle cx="150.36" cy="811.69" r="1.35"/>
<circle cx="149.85" cy="796.99" r="1.35"/>
<circle cx="144.16" cy="807.94" r="1.35"/>
<circle cx="141.43" cy="805.29" r="1.35"/>
<circle cx="145.3" cy="804.69" r="1.35"/>
<circle cx="141.54" cy="807.44" r="1.35"/>
<circle cx="141.5" cy="813.14" r="1.35"/>
<circle cx="142.15" cy="789.81" r="1.35"/>
<circle cx="141.55" cy="800.28" r="1.35"/>
<circle cx="148.68" cy="805.36" r="1.35"/>
<circle cx="146.67" cy="802.27" r="1.35"/>
<circle cx="148.94" cy="804.05" r="1.35"/>
<circle cx="149.6" cy="791.62" r="1.35"/>
<circle cx="142.69" cy="790.08" r="1.35"/>
<circle cx="145.52" cy="812.33" r="1.35"/>
<circle cx="146.57" cy="806.51" r="1.35"/>
<circle cx="139.86" cy="803.13" r="1.35"/>
<circle cx="143.25" cy="799.28" r="1.35"/>
<circle cx="145.93" cy="795.29" r="1.35"/>
<circle cx="145.35" cy="806.38" r="1.35"/>
<circle cx="138.64" cy="807.45" r="1.35"/>
<circle cx="143.7" cy="796.57" r="1.35"/>
<circle cx="140.29" cy="794" r="1.35"/>
<circle cx="150.79" cy="787.85" r="1.35"/>
<circle cx="144.9" cy="800.58" r="1.35"/>
<circle cx="151.11" cy="796.43" r="1.35"/>
<circle cx="141.76" cy="795.85" r="1.35"/>
<circle cx="146.48" cy="807.92" r="1.35"/>
<circle cx="146.19" cy="796.4" r="1.35"/>
<circle cx="144.09" cy="794.13" r="1.35"/>
<circle cx="150.5" cy="789.43" r="1.35"/>
<circle cx="148.04" cy="806.7" r="1.35"/>
<circle cx="147.04" cy="791.77" r="1.35"/>
<circle cx="147.42" cy="807.14" r="1.35"/>
<circle cx="143.87" cy="809.13" r="1.35"/>
<circle cx="141.22" cy="790.72" r="1.35"/>
<circle cx="146.56" cy="797.65" r="1.35"/>
<circle cx="148.56" cy="802.33" r="1.35"/>
<circle cx="145.66" cy="792.25" r="1.35"/>
<circle cx="152.16" cy="787.52" r="1.35"/>
<circle cx="150.45" cy="808.79" r="1.35"/>
<circle cx="139.84" cy="797.23" r="1.35"/>
<circle cx="140.21" cy="811.75" r="1.35"/>
<circle cx="156.26" cy="807.18" r="1.35"/>
<circle cx="145.28" cy="812.62" r="1.35"/>
<circle cx="137.61" cy="809.95" r="1.35"/>
<circle cx="142.05" cy="815.13" r="1.35"/>
<circle cx="148.45" cy="813.16" r="1.35"/>
<circle cx="144.34" cy="811.05" r="1.35"/>
<circle cx="136.72" cy="815.39" r="1.35"/>
<circle cx="126.62" cy="812.44" r="1.35"/>
<circle cx="138.23" cy="815.41" r="1.35"/>
<circle cx="143.74" cy="811.2" r="1.35"/>
<circle cx="155.58" cy="808.4" r="1.35"/>
<circle cx="153.05" cy="807.74" r="1.35"/>
<circle cx="142.88" cy="811.03" r="1.35"/>
<circle cx="121.21" cy="808.82" r="1.35"/>
<circle cx="122.24" cy="809.21" r="1.35"/>
<circle cx="139.69" cy="813.08" r="1.35"/>
<circle cx="152.23" cy="810.53" r="1.35"/>
<circle cx="145.58" cy="810.43" r="1.35"/>
<circle cx="142.04" cy="810.75" r="1.35"/>
<circle cx="154.37" cy="809.43" r="1.35"/>
<circle cx="132.3" cy="810.31" r="1.35"/>
<circle cx="149.82" cy="807.41" r="1.35"/>
<circle cx="135.83" cy="813.08" r="1.35"/>
<circle cx="147.93" cy="812.14" r="1.35"/>
<circle cx="120.91" cy="809.87" r="1.35"/>
<circle cx="122.25" cy="810.34" r="1.35"/>
<circle cx="138.11" cy="813.88" r="1.35"/>
<circle cx="145.76" cy="811.25" r="1.35"/>
<circle cx="143.86" cy="814.06" r="1.35"/>
<circle cx="130.83" cy="809.86" r="1.35"/>
<circle cx="134.49" cy="814.33" r="1.35"/>
<circle cx="126.13" cy="809.19" r="1.35"/>
<circle cx="133.18" cy="812.45" r="1.35"/>
<circle cx="133.33" cy="811.33" r="1.35"/>
<circle cx="127.77" cy="813" r="1.35"/>
<circle cx="119.4" cy="807.58" r="1.35"/>
<circle cx="124.73" cy="807.29" r="1.35"/>
<circle cx="136.7" cy="814.89" r="1.35"/>
<circle cx="125.76" cy="810.92" r="1.35"/>
<circle cx="134.57" cy="815.1" r="1.35"/>
<circle cx="123.46" cy="811.01" r="1.35"/>
<circle cx="125.66" cy="811.76" r="1.35"/>
<circle cx="120.15" cy="809.4" r="1.35"/>
<circle cx="136.25" cy="811.68" r="1.35"/>
<circle cx="121.23" cy="807.68" r="1.35"/>
<circle cx="134.56" cy="814.89" r="1.35"/>
<circle cx="155.83" cy="809.15" r="1.35"/>
<circle cx="127.58" cy="810.85" r="1.35"/>
<circle cx="125.53" cy="810.85" r="1.35"/>
<circle cx="142.85" cy="814.14" r="1.35"/>
<circle cx="121.26" cy="808.98" r="1.35"/>
<circle cx="146.83" cy="813.13" r="1.35"/>
<circle cx="136.91" cy="810.4" r="1.35"/>
<circle cx="154.6" cy="809.62" r="1.35"/>
<circle cx="129.36" cy="812.16" r="1.35"/>
<circle cx="150.12" cy="810.78" r="1.35"/>
<circle cx="122.85" cy="809.27" r="1.35"/>
<circle cx="145.12" cy="810.55" r="1.35"/>
<circle cx="119.44" cy="808.17" r="1.35"/>
<circle cx="120.45" cy="808.14" r="1.35"/>
<circle cx="120.68" cy="808.86" r="1.35"/>
<circle cx="121.34" cy="806.67" r="1.35"/>
<circle cx="126.89" cy="808.09" r="1.35"/>
<circle cx="156.14" cy="804.04" r="1.35"/>
<circle cx="154.01" cy="809.9" r="1.35"/>
<circle cx="154.87" cy="807.68" r="1.35"/>
<circle cx="142.26" cy="814.58" r="1.35"/>
<circle cx="155.11" cy="807.9" r="1.35"/>
<circle cx="151.46" cy="810.74" r="1.35"/>
<circle cx="123.64" cy="809.66" r="1.35"/>
<circle cx="145.03" cy="812.78" r="1.35"/>
<circle cx="154.43" cy="808.2" r="1.35"/>
<circle cx="147.07" cy="809.52" r="1.35"/>
<circle cx="150.92" cy="805.92" r="1.35"/>
<circle cx="133.03" cy="813.01" r="1.35"/>
<circle cx="134.99" cy="814.82" r="1.35"/>
<circle cx="137.48" cy="810.44" r="1.35"/>
<circle cx="129.49" cy="812.05" r="1.35"/>
<circle cx="142.22" cy="810.96" r="1.35"/>
<circle cx="146.19" cy="811.55" r="1.35"/>
<circle cx="125.12" cy="810.28" r="1.35"/>
<circle cx="146.19" cy="810.85" r="1.35"/>
<circle cx="147.99" cy="813.06" r="1.35"/>
<circle cx="144.93" cy="812.73" r="1.35"/>
<circle cx="151.22" cy="810.9" r="1.35"/>
<circle cx="143.6" cy="810.48" r="1.35"/>
<circle cx="136.32" cy="811.39" r="1.35"/>
<circle cx="153.23" cy="810.83" r="1.35"/>
<circle cx="133.3" cy="812.61" r="1.35"/>
<circle cx="122.03" cy="804.74" r="1.35"/>
<circle cx="123.27" cy="807.11" r="1.35"/>
<circle cx="140.82" cy="814.4" r="1.35"/>
<circle cx="143.86" cy="814.01" r="1.35"/>
<circle cx="128.41" cy="812.34" r="1.35"/>
<circle cx="143.69" cy="814.31" r="1.35"/>
<circle cx="141.45" cy="813.1" r="1.35"/>
<circle cx="155.89" cy="809.37" r="1.35"/>
<circle cx="127.63" cy="810.8" r="1.35"/>
<circle cx="148.85" cy="812.02" r="1.35"/>
<circle cx="142.16" cy="814.25" r="1.35"/>
<circle cx="126.42" cy="809.57" r="1.35"/>
<circle cx="126.02" cy="808.08" r="1.35"/>
<circle cx="123.56" cy="809.02" r="1.35"/>
<circle cx="120.21" cy="807.56" r="1.35"/>
<circle cx="153.1" cy="810.77" r="1.35"/>
<circle cx="122.54" cy="809.01" r="1.35"/>
<circle cx="150.68" cy="811.95" r="1.35"/>
<circle cx="142.58" cy="811.89" r="1.35"/>
<circle cx="152.28" cy="807.7" r="1.35"/>
<circle cx="132.39" cy="812.53" r="1.35"/>
<circle cx="123.5" cy="809.69" r="1.35"/>
<circle cx="150.91" cy="807.77" r="1.35"/>
<circle cx="127.09" cy="810.39" r="1.35"/>
<circle cx="139.7" cy="810.77" r="1.35"/>
<circle cx="122.22" cy="809.8" r="1.35"/>
<circle cx="132.4" cy="813.97" r="1.35"/>
<circle cx="140.21" cy="815.3" r="1.35"/>
<circle cx="147.12" cy="810.04" r="1.35"/>
<circle cx="142.22" cy="813.12" r="1.35"/>
<circle cx="127.4" cy="807.77" r="1.35"/>
<circle cx="131.98" cy="807.08" r="1.35"/>
<circle cx="135.6" cy="813.73" r="1.35"/>
<circle cx="125.55" cy="811.69" r="1.35"/>
<circle cx="154.52" cy="809.48" r="1.35"/>
<circle cx="156.63" cy="803.04" r="1.35"/>
<circle cx="142.46" cy="811.73" r="1.35"/>
<circle cx="135.14" cy="813.96" r="1.35"/>
<circle cx="155.17" cy="804.01" r="1.35"/>
<circle cx="137.62" cy="811.41" r="1.35"/>
<circle cx="148.56" cy="804.77" r="1.35"/>
<circle cx="154.12" cy="804.96" r="1.35"/>
<circle cx="130.35" cy="812.87" r="1.35"/>
<circle cx="122.93" cy="810.54" r="1.35"/>
<circle cx="146.63" cy="813.03" r="1.35"/>
<circle cx="143.49" cy="811.41" r="1.35"/>
<circle cx="120.83" cy="809.88" r="1.35"/>
<circle cx="135.66" cy="813.14" r="1.35"/>
<circle cx="132.34" cy="814.86" r="1.35"/>
<circle cx="130.17" cy="809.63" r="1.35"/>
<circle cx="123.21" cy="810.54" r="1.35"/>
<circle cx="122.23" cy="807.96" r="1.35"/>
<circle cx="125.1" cy="812.15" r="1.35"/>
<circle cx="156.24" cy="804.69" r="1.35"/>
<circle cx="156.36" cy="807.17" r="1.35"/>
<circle cx="125.4" cy="810.65" r="1.35"/>
<circle cx="131.1" cy="811.27" r="1.35"/>
<circle cx="139.81" cy="814.62" r="1.35"/>
<circle cx="132.91" cy="813.74" r="1.35"/>
<circle cx="136.82" cy="813.63" r="1.35"/>
<circle cx="152.85" cy="810.44" r="1.35"/>
<circle cx="128.48" cy="811.66" r="1.35"/>
<circle cx="149.82" cy="811.22" r="1.35"/>
<circle cx="139.38" cy="815.39" r="1.35"/>
<circle cx="139.57" cy="814.99" r="1.35"/>
<circle cx="127.02" cy="812.59" r="1.35"/>
<circle cx="148.43" cy="805.26" r="1.35"/>
<circle cx="149.02" cy="811.37" r="1.35"/>
<circle cx="156.35" cy="807.37" r="1.35"/>
<circle cx="119.8" cy="808.79" r="1.35"/>
<circle cx="135.66" cy="815.03" r="1.35"/>
<circle cx="139.96" cy="814.62" r="1.35"/>
<circle cx="122.85" cy="810.41" r="1.35"/>
<circle cx="149.65" cy="810.8" r="1.35"/>
<circle cx="135.12" cy="815.44" r="1.35"/>
<circle cx="135.55" cy="814.64" r="1.35"/>
<circle cx="143.04" cy="811.99" r="1.35"/>
<circle cx="149.89" cy="806.9" r="1.35"/>
<circle cx="128.66" cy="810.76" r="1.35"/>
<circle cx="149.17" cy="809.3" r="1.35"/>
<circle cx="138.55" cy="813.7" r="1.35"/>
<circle cx="129.88" cy="811.18" r="1.35"/>
<circle cx="125.68" cy="808.56" r="1.35"/>
<circle cx="153.24" cy="810.66" r="1.35"/>
<circle cx="153.58" cy="806.6" r="1.35"/>
<circle cx="154.43" cy="809.53" r="1.35"/>
<circle cx="150.1" cy="810.22" r="1.35"/>
<circle cx="138.91" cy="813.67" r="1.35"/>
<circle cx="125.76" cy="811" r="1.35"/>
<circle cx="156.84" cy="804.78" r="1.35"/>
<circle cx="140" cy="813.11" r="1.35"/>
<circle cx="136.51" cy="814.06" r="1.35"/>
<circle cx="149.68" cy="805.65" r="1.35"/>
<circle cx="125.18" cy="810.34" r="1.35"/>
<circle cx="131.21" cy="811.8" r="1.35"/>
<circle cx="151.5" cy="811.6" r="1.35"/>
<circle cx="150.61" cy="808.72" r="1.35"/>
<circle cx="120.46" cy="807.97" r="1.35"/>
<circle cx="141.04" cy="812.03" r="1.35"/>
<circle cx="129.89" cy="813.42" r="1.35"/>
<circle cx="146.14" cy="813" r="1.35"/>
<circle cx="144.6" cy="813.88" r="1.35"/>
<circle cx="133.35" cy="808.97" r="1.35"/>
<circle cx="155.63" cy="809.1" r="1.35"/>
<circle cx="143.65" cy="812.57" r="1.35"/>
<circle cx="126.15" cy="806.72" r="1.35"/>
<circle cx="133.8" cy="814.13" r="1.35"/>
<circle cx="129.55" cy="812.08" r="1.35"/>
<circle cx="155.24" cy="807.49" r="1.35"/>
<circle cx="134.15" cy="814.5" r="1.35"/>
<circle cx="129.97" cy="812.97" r="1.35"/>
<circle cx="156.38" cy="807.54" r="1.35"/>
<circle cx="122.3" cy="810.67" r="1.35"/>
<circle cx="122.31" cy="808.95" r="1.35"/>
<circle cx="139.21" cy="815.25" r="1.35"/>
<circle cx="143.18" cy="809.26" r="1.35"/>
<circle cx="150.24" cy="810.19" r="1.35"/>
<circle cx="155.66" cy="809.59" r="1.35"/>
<circle cx="121.92" cy="810.3" r="1.35"/>
<circle cx="129.43" cy="810.93" r="1.35"/>
<circle cx="139.96" cy="813.35" r="1.35"/>
<circle cx="155.53" cy="809.12" r="1.35"/>
<circle cx="124.76" cy="810.79" r="1.35"/>
<circle cx="156.86" cy="807.84" r="1.35"/>
<circle cx="144.82" cy="813.56" r="1.35"/>
<circle cx="121.36" cy="808.99" r="1.35"/>
<circle cx="148.03" cy="812.66" r="1.35"/>
<circle cx="150.43" cy="810.8" r="1.35"/>
<circle cx="152.4" cy="804.33" r="1.35"/>
<circle cx="139.53" cy="813.19" r="1.35"/>
<circle cx="133.77" cy="813.03" r="1.35"/>
<circle cx="156.66" cy="807.17" r="1.35"/>
<circle cx="129.92" cy="813.36" r="1.35"/>
<circle cx="124.1" cy="810.76" r="1.35"/>
<circle cx="132.63" cy="814.13" r="1.35"/>
<circle cx="126.56" cy="812.61" r="1.35"/>
<circle cx="154.84" cy="801.85" r="1.35"/>
<circle cx="128.6" cy="813.89" r="1.35"/>
<circle cx="132.71" cy="811.9" r="1.35"/>
<circle cx="145.91" cy="813.2" r="1.35"/>
<circle cx="131.15" cy="812.11" r="1.35"/>
<circle cx="147.61" cy="813.32" r="1.35"/>
<circle cx="148.88" cy="810.17" r="1.35"/>
<circle cx="139.66" cy="814.07" r="1.35"/>
<circle cx="136.03" cy="810.05" r="1.35"/>
<circle cx="126.88" cy="812.15" r="1.35"/>
<circle cx="141.78" cy="809.92" r="1.35"/>
<circle cx="126.09" cy="810.63" r="1.35"/>
<circle cx="155.75" cy="808.65" r="1.35"/>
<circle cx="129.36" cy="812.78" r="1.35"/>
<circle cx="126.96" cy="805.59" r="1.35"/>
<circle cx="134.78" cy="812.77" r="1.35"/>
<circle cx="152.32" cy="811.23" r="1.35"/>
<circle cx="152.21" cy="811.34" r="1.35"/>
<circle cx="149.34" cy="808.48" r="1.35"/>
<circle cx="139.17" cy="815.26" r="1.35"/>
<circle cx="148.28" cy="810.33" r="1.35"/>
<circle cx="135.99" cy="813.51" r="1.35"/>
<circle cx="124.84" cy="810.26" r="1.35"/>
<circle cx="138.46" cy="813.99" r="1.35"/>
<circle cx="133.43" cy="814.13" r="1.35"/>
<circle cx="142.04" cy="812.6" r="1.35"/>
<circle cx="156.4" cy="803.73" r="1.35"/>
<circle cx="150.9" cy="809.99" r="1.35"/>
<circle cx="130.15" cy="812.22" r="1.35"/>
<circle cx="123.96" cy="811.56" r="1.35"/>
<circle cx="138.25" cy="815.25" r="1.35"/>
<circle cx="143.71" cy="812.12" r="1.35"/>
<circle cx="129.98" cy="811.3" r="1.35"/>
<circle cx="137.38" cy="814.9" r="1.35"/>
<circle cx="139.41" cy="809.3" r="1.35"/>
<circle cx="139.29" cy="809.3" r="1.35"/>
<circle cx="136.01" cy="814.72" r="1.35"/>
<circle cx="135.4" cy="814.76" r="1.35"/>
<circle cx="151.36" cy="811.91" r="1.35"/>
<circle cx="151.63" cy="810.93" r="1.35"/>
<circle cx="133.83" cy="812.53" r="1.35"/>
<circle cx="127.42" cy="813.26" r="1.35"/>
<circle cx="140.06" cy="813.07" r="1.35"/>
<circle cx="152.12" cy="809.6" r="1.35"/>
<circle cx="146.21" cy="812.53" r="1.35"/>
<circle cx="138.42" cy="813.62" r="1.35"/>
<circle cx="134.4" cy="812.41" r="1.35"/>
<circle cx="152.41" cy="808.45" r="1.35"/>
<circle cx="141.41" cy="813.98" r="1.35"/>
<circle cx="133.33" cy="813.61" r="1.35"/>
<circle cx="142.56" cy="814.28" r="1.35"/>
<circle cx="131.43" cy="813.96" r="1.35"/>
<circle cx="130.01" cy="810.87" r="1.35"/>
<circle cx="154.16" cy="809.91" r="1.35"/>
<circle cx="139.52" cy="815.04" r="1.35"/>
<circle cx="150.99" cy="806.69" r="1.35"/>
<circle cx="153.84" cy="806.56" r="1.35"/>
<circle cx="123.87" cy="810.23" r="1.35"/>
<circle cx="152.59" cy="809.02" r="1.35"/>
<circle cx="152.98" cy="808.91" r="1.35"/>
<circle cx="130.15" cy="812.51" r="1.35"/>
<circle cx="141.96" cy="810.01" r="1.35"/>
<circle cx="122.51" cy="808.32" r="1.35"/>
<circle cx="119.58" cy="808.56" r="1.35"/>
<circle cx="150.79" cy="811.39" r="1.35"/>
<circle cx="134.01" cy="813.2" r="1.35"/>
<circle cx="138.66" cy="811.71" r="1.35"/>
<circle cx="144.26" cy="812.96" r="1.35"/>
<circle cx="135.8" cy="808.75" r="1.35"/>
<circle cx="145.45" cy="809.63" r="1.35"/>
<circle cx="122.46" cy="806.36" r="1.35"/>
<circle cx="156.82" cy="807.12" r="1.35"/>
<circle cx="121.8" cy="807.19" r="1.35"/>
<circle cx="135.27" cy="815.31" r="1.35"/>
<circle cx="153.14" cy="809.93" r="1.35"/>
<circle cx="135.14" cy="813.13" r="1.35"/>
<circle cx="141.35" cy="813.77" r="1.35"/>
<circle cx="134.13" cy="814.06" r="1.35"/>
<circle cx="122.65" cy="810.7" r="1.35"/>
<circle cx="154.68" cy="809.75" r="1.35"/>
<circle cx="139.11" cy="814.38" r="1.35"/>
<circle cx="128.09" cy="813.29" r="1.35"/>
<circle cx="137.04" cy="813.26" r="1.35"/>
<circle cx="130.07" cy="811.63" r="1.35"/>
<circle cx="156.46" cy="807.23" r="1.35"/>
<circle cx="126.96" cy="810.29" r="1.35"/>
<circle cx="130.6" cy="813.4" r="1.35"/>
<circle cx="139.41" cy="814.55" r="1.35"/>
<circle cx="142.76" cy="811.9" r="1.35"/>
<circle cx="153.73" cy="806.81" r="1.35"/>
<circle cx="151.74" cy="811.75" r="1.35"/>
<circle cx="121.56" cy="808.44" r="1.35"/>
<circle cx="135.68" cy="814.79" r="1.35"/>
<circle cx="152.27" cy="809.82" r="1.35"/>
<circle cx="127.47" cy="810.51" r="1.35"/>
<circle cx="123.83" cy="805.53" r="1.35"/>
<circle cx="153.86" cy="809.12" r="1.35"/>
<circle cx="126.35" cy="811.89" r="1.35"/>
<circle cx="120.73" cy="806.94" r="1.35"/>
<circle cx="151.51" cy="811.99" r="1.35"/>
<circle cx="150.82" cy="809.52" r="1.35"/>
<circle cx="134.02" cy="814.32" r="1.35"/>
<circle cx="126.02" cy="812.96" r="1.35"/>
<circle cx="145.56" cy="812.02" r="1.35"/>
<circle cx="124.46" cy="794.94" r="1.35"/>
<circle cx="162.64" cy="795.86" r="1.35"/>
<circle cx="155.41" cy="788.41" r="1.35"/>
<circle cx="120.45" cy="800.45" r="1.35"/>
<circle cx="117.58" cy="802.17" r="1.35"/>
<circle cx="115.86" cy="806.18" r="1.35"/>
<circle cx="157.13" cy="801.59" r="1.35"/>
<circle cx="160" cy="805.03" r="1.35"/>
<circle cx="153.69" cy="792.42" r="1.35"/>
</g>
<g fill="#000">
<circle cx="156.22" cy="628.47" r="2.6"/>
<circle cx="152.2" cy="692.68" r="2.6"/>
<circle cx="152.2" cy="711.36" r="2.6"/>
<circle cx="151.97" cy="725.92" r="2.6"/>
<circle cx="154.84" cy="726.5" r="2.6"/>
<circle cx="148.31" cy="734.29" r="2.6"/>
<circle cx="150.83" cy="739.11" r="2.6"/>
<circle cx="155.99" cy="754.01" r="2.6"/>
<circle cx="145.1" cy="754.59" r="2.6"/>
<circle cx="145.1" cy="758.03" r="2.6"/>
<circle cx="152.55" cy="758.03" r="2.6"/>
<circle cx="145.1" cy="763.76" r="2.6"/>
<circle cx="152.55" cy="764.33" r="2.6"/>
<circle cx="142.23" cy="767.2" r="2.6"/>
<circle cx="144.29" cy="764.9" r="2.6"/>
<circle cx="155.41" cy="770.06" r="2.6"/>
<circle cx="148.54" cy="770.64" r="2.6"/>
<circle cx="143.38" cy="772.36" r="2.6"/>
<circle cx="154.84" cy="773.5" r="2.6"/>
<circle cx="149.11" cy="774.08" r="2.6"/>
<circle cx="153.12" cy="776.37" r="2.6"/>
<circle cx="144.52" cy="778.09" r="2.6"/>
<circle cx="146.82" cy="779.81" r="2.6"/>
<circle cx="150.25" cy="779.24" r="2.6"/>
<circle cx="142.23" cy="780.96" r="2.6"/>
<circle cx="145.67" cy="782.1" r="2.6"/>
<circle cx="149.11" cy="782.68" r="2.6"/>
<circle cx="151.4" cy="782.1" r="2.6"/>
<circle cx="143.38" cy="783.25" r="2.6"/>
<circle cx="141.08" cy="784.97" r="2.6"/>
<circle cx="145.1" cy="784.39" r="2.6"/>
<circle cx="148.54" cy="784.39" r="2.6"/>
<circle cx="150.83" cy="783.82" r="2.6"/>
<circle cx="194.51" cy="784.39" r="2.6"/>
</g>
<line x1="310.6" y1="576.54" x2="310.6" y2="814.13" stroke="#1a1a1a" stroke-width="1.45"/>
<line x1="305" y1="577.27" x2="310.6" y2="577.27" stroke="#1a1a1a" stroke-width="1.45"/>
<text x="296.7" y="583.57" font-size="18.29" text-anchor="end" textLength="22.18" lengthAdjust="spacingAndGlyphs">25</text>
<line x1="305" y1="624.49" x2="310.6" y2="624.49" stroke="#1a1a1a" stroke-width="1.45"/>
<text x="296.7" y="630.8" font-size="18.29" text-anchor="end" textLength="22.18" lengthAdjust="spacingAndGlyphs">20</text>
<line x1="305" y1="671.72" x2="310.6" y2="671.72" stroke="#1a1a1a" stroke-width="1.45"/>
<text x="296.7" y="678.03" font-size="18.29" text-anchor="end" textLength="17.69" lengthAdjust="spacingAndGlyphs">15</text>
<line x1="305" y1="718.95" x2="310.6" y2="718.95" stroke="#1a1a1a" stroke-width="1.45"/>
<text x="296.7" y="725.26" font-size="18.29" text-anchor="end" textLength="17.69" lengthAdjust="spacingAndGlyphs">10</text>
<line x1="305" y1="766.18" x2="310.6" y2="766.18" stroke="#1a1a1a" stroke-width="1.45"/>
<text x="296.7" y="772.49" font-size="18.29" text-anchor="end" textLength="10.98" lengthAdjust="spacingAndGlyphs">5</text>
<line x1="305" y1="813.41" x2="310.6" y2="813.41" stroke="#1a1a1a" stroke-width="1.45"/>
<text x="296.7" y="819.72" font-size="18.29" text-anchor="end" textLength="10.98" lengthAdjust="spacingAndGlyphs">0</text>
<line x1="321.08" y1="829.02" x2="443.81" y2="829.02" stroke="#1a1a1a" stroke-width="1.45"/>
<line x1="321.81" y1="829.02" x2="321.81" y2="834.62" stroke="#1a1a1a" stroke-width="1.45"/>
<text x="321.81" y="855.03" font-size="18.03" text-anchor="middle" textLength="21.18" lengthAdjust="spacingAndGlyphs">−4</text>
<line x1="362.23" y1="829.02" x2="362.23" y2="834.62" stroke="#1a1a1a" stroke-width="1.45"/>
<text x="362.23" y="855.03" font-size="18.03" text-anchor="middle" textLength="10.83" lengthAdjust="spacingAndGlyphs">0</text>
<line x1="402.66" y1="829.02" x2="402.66" y2="834.62" stroke="#1a1a1a" stroke-width="1.45"/>
<text x="402.66" y="855.03" font-size="18.03" text-anchor="middle" textLength="10.83" lengthAdjust="spacingAndGlyphs">4</text>
<line x1="443.08" y1="829.02" x2="443.08" y2="834.62" stroke="#1a1a1a" stroke-width="1.45"/>
<text x="443.08" y="855.03" font-size="18.03" text-anchor="middle" textLength="10.83" lengthAdjust="spacingAndGlyphs">8</text>
<text font-size="22" text-anchor="middle" textLength="156.9" lengthAdjust="spacingAndGlyphs" transform="translate(255.47 695.34) rotate(-90)"><tspan font-style="italic">P</tspan> values (−log)</text>
<text x="383.05" y="888.25" font-size="22" text-anchor="middle" textLength="132.08" lengthAdjust="spacingAndGlyphs">Fold change</text>
<text x="382.24" y="915.07" font-size="22" text-anchor="middle" textLength="56.83" lengthAdjust="spacingAndGlyphs">(log<tspan font-size="14.3" dy="6.6">2</tspan><tspan dy="-6.6">&#8203;</tspan>)</text>
<text x="364.23" y="573.26" font-size="21" textLength="42.03" lengthAdjust="spacingAndGlyphs">BFD</text>
<g fill="#808080">
<circle cx="368.99" cy="803.83" r="1.35"/>
<circle cx="362.27" cy="812.62" r="1.35"/>
<circle cx="369.71" cy="807.05" r="1.35"/>
<circle cx="369.37" cy="799.5" r="1.35"/>
<circle cx="364" cy="812.65" r="1.35"/>
<circle cx="364.81" cy="789.8" r="1.35"/>
<circle cx="369.84" cy="799.59" r="1.35"/>
<circle cx="373.75" cy="802.48" r="1.35"/>
<circle cx="371.63" cy="787.05" r="1.35"/>
<circle cx="371.19" cy="811.9" r="1.35"/>
<circle cx="372.2" cy="807.76" r="1.35"/>
<circle cx="375.87" cy="790.51" r="1.35"/>
<circle cx="369.47" cy="803.68" r="1.35"/>
<circle cx="368.74" cy="810.67" r="1.35"/>
<circle cx="372.6" cy="792.45" r="1.35"/>
<circle cx="378.14" cy="810.69" r="1.35"/>
<circle cx="374.42" cy="794.65" r="1.35"/>
<circle cx="368.12" cy="805.34" r="1.35"/>
<circle cx="375.42" cy="792.32" r="1.35"/>
<circle cx="366.41" cy="813.28" r="1.35"/>
<circle cx="367.55" cy="811.28" r="1.35"/>
<circle cx="373.72" cy="791.25" r="1.35"/>
<circle cx="373.35" cy="790.7" r="1.35"/>
<circle cx="370.52" cy="803.28" r="1.35"/>
<circle cx="369.72" cy="786.78" r="1.35"/>
<circle cx="367.39" cy="795.22" r="1.35"/>
<circle cx="365.77" cy="809.21" r="1.35"/>
<circle cx="370.07" cy="799.93" r="1.35"/>
<circle cx="377.83" cy="806.08" r="1.35"/>
<circle cx="374.3" cy="787.32" r="1.35"/>
<circle cx="369.31" cy="807.32" r="1.35"/>
<circle cx="368.29" cy="808.36" r="1.35"/>
<circle cx="369.63" cy="796.76" r="1.35"/>
<circle cx="370.74" cy="787.97" r="1.35"/>
<circle cx="372.76" cy="791.67" r="1.35"/>
<circle cx="368.29" cy="807.48" r="1.35"/>
<circle cx="371.38" cy="812.27" r="1.35"/>
<circle cx="368.95" cy="796.45" r="1.35"/>
<circle cx="369.85" cy="801.13" r="1.35"/>
<circle cx="367.32" cy="807.28" r="1.35"/>
<circle cx="369.4" cy="808.62" r="1.35"/>
<circle cx="367.66" cy="812.71" r="1.35"/>
<circle cx="368.28" cy="789.2" r="1.35"/>
<circle cx="372.44" cy="811.95" r="1.35"/>
<circle cx="373.95" cy="796.04" r="1.35"/>
<circle cx="368.22" cy="795.29" r="1.35"/>
<circle cx="370.79" cy="795.4" r="1.35"/>
<circle cx="371.91" cy="790.78" r="1.35"/>
<circle cx="371.16" cy="805.65" r="1.35"/>
<circle cx="370.91" cy="788.02" r="1.35"/>
<circle cx="364.83" cy="813.84" r="1.35"/>
<circle cx="369.68" cy="793.22" r="1.35"/>
<circle cx="371.14" cy="803.03" r="1.35"/>
<circle cx="366.52" cy="798.29" r="1.35"/>
<circle cx="371.7" cy="788.22" r="1.35"/>
<circle cx="369.23" cy="800.27" r="1.35"/>
<circle cx="372.49" cy="809.76" r="1.35"/>
<circle cx="372.45" cy="812.82" r="1.35"/>
<circle cx="369.67" cy="804.03" r="1.35"/>
<circle cx="368.26" cy="798.65" r="1.35"/>
<circle cx="372.28" cy="790.79" r="1.35"/>
<circle cx="367.41" cy="799.16" r="1.35"/>
<circle cx="373.86" cy="814.18" r="1.35"/>
<circle cx="362.27" cy="799.17" r="1.35"/>
<circle cx="369.19" cy="800.12" r="1.35"/>
<circle cx="366.36" cy="794.7" r="1.35"/>
<circle cx="371.96" cy="797.8" r="1.35"/>
<circle cx="370.92" cy="813.88" r="1.35"/>
<circle cx="365.52" cy="813.1" r="1.35"/>
<circle cx="367.23" cy="796" r="1.35"/>
<circle cx="370" cy="789.14" r="1.35"/>
<circle cx="374.55" cy="810.55" r="1.35"/>
<circle cx="371.39" cy="796.63" r="1.35"/>
<circle cx="363.31" cy="805.8" r="1.35"/>
<circle cx="369.39" cy="804.96" r="1.35"/>
<circle cx="365.81" cy="806.07" r="1.35"/>
<circle cx="364.42" cy="794.42" r="1.35"/>
<circle cx="369.64" cy="805.7" r="1.35"/>
<circle cx="374.94" cy="794.77" r="1.35"/>
<circle cx="367.76" cy="802.67" r="1.35"/>
<circle cx="368.56" cy="787.01" r="1.35"/>
<circle cx="368.41" cy="805.17" r="1.35"/>
<circle cx="371.79" cy="799.43" r="1.35"/>
<circle cx="364.27" cy="808.64" r="1.35"/>
<circle cx="366.62" cy="796.26" r="1.35"/>
<circle cx="364.29" cy="809.48" r="1.35"/>
<circle cx="373.92" cy="796.32" r="1.35"/>
<circle cx="363.32" cy="805.63" r="1.35"/>
<circle cx="372.3" cy="813.55" r="1.35"/>
<circle cx="368.45" cy="801.25" r="1.35"/>
<circle cx="374.81" cy="791.26" r="1.35"/>
<circle cx="362.8" cy="799.82" r="1.35"/>
<circle cx="368.06" cy="805.71" r="1.35"/>
<circle cx="365.13" cy="791.42" r="1.35"/>
<circle cx="364.41" cy="808.16" r="1.35"/>
<circle cx="367.41" cy="798.27" r="1.35"/>
<circle cx="370.06" cy="803.85" r="1.35"/>
<circle cx="364.19" cy="806.51" r="1.35"/>
<circle cx="373" cy="787.45" r="1.35"/>
<circle cx="372.36" cy="804.58" r="1.35"/>
<circle cx="368.56" cy="792.71" r="1.35"/>
<circle cx="366.5" cy="787.84" r="1.35"/>
<circle cx="369.91" cy="799.66" r="1.35"/>
<circle cx="371.84" cy="790.36" r="1.35"/>
<circle cx="371.12" cy="795.42" r="1.35"/>
<circle cx="373.04" cy="787.67" r="1.35"/>
<circle cx="366.3" cy="799.49" r="1.35"/>
<circle cx="372.63" cy="802.93" r="1.35"/>
<circle cx="370.51" cy="793.23" r="1.35"/>
<circle cx="369.86" cy="797.84" r="1.35"/>
<circle cx="368.86" cy="794.35" r="1.35"/>
<circle cx="369.62" cy="809.56" r="1.35"/>
<circle cx="374.64" cy="796.98" r="1.35"/>
<circle cx="371.89" cy="789.3" r="1.35"/>
<circle cx="367.11" cy="801.69" r="1.35"/>
<circle cx="372.18" cy="813.06" r="1.35"/>
<circle cx="363.24" cy="809.21" r="1.35"/>
<circle cx="372.32" cy="804.36" r="1.35"/>
<circle cx="372.94" cy="796.85" r="1.35"/>
<circle cx="373.08" cy="802.2" r="1.35"/>
<circle cx="372.96" cy="813.03" r="1.35"/>
<circle cx="369.14" cy="796.35" r="1.35"/>
<circle cx="370.17" cy="811.27" r="1.35"/>
<circle cx="369.48" cy="802.26" r="1.35"/>
<circle cx="372.4" cy="803.61" r="1.35"/>
<circle cx="372.29" cy="811.21" r="1.35"/>
<circle cx="367.77" cy="797.03" r="1.35"/>
<circle cx="371.28" cy="794.71" r="1.35"/>
<circle cx="361.92" cy="813.45" r="1.35"/>
<circle cx="374.48" cy="811.83" r="1.35"/>
<circle cx="368.79" cy="803.08" r="1.35"/>
<circle cx="379.33" cy="800.34" r="1.35"/>
<circle cx="365.73" cy="798.12" r="1.35"/>
<circle cx="378.67" cy="800.22" r="1.35"/>
<circle cx="368.54" cy="794.57" r="1.35"/>
<circle cx="369.56" cy="803.79" r="1.35"/>
<circle cx="368.22" cy="798.89" r="1.35"/>
<circle cx="374.5" cy="809.44" r="1.35"/>
<circle cx="368.36" cy="787.05" r="1.35"/>
<circle cx="367.85" cy="812.42" r="1.35"/>
<circle cx="368.92" cy="808.2" r="1.35"/>
<circle cx="373.36" cy="790.95" r="1.35"/>
<circle cx="367" cy="813.9" r="1.35"/>
<circle cx="374.27" cy="799.75" r="1.35"/>
<circle cx="364.74" cy="804.43" r="1.35"/>
<circle cx="367.31" cy="789.94" r="1.35"/>
<circle cx="367.58" cy="807.61" r="1.35"/>
<circle cx="374.16" cy="795.94" r="1.35"/>
<circle cx="366.47" cy="794.86" r="1.35"/>
<circle cx="369.34" cy="796.62" r="1.35"/>
<circle cx="368.17" cy="807.19" r="1.35"/>
<circle cx="369.86" cy="793.63" r="1.35"/>
<circle cx="376.02" cy="799.22" r="1.35"/>
<circle cx="365.93" cy="801.7" r="1.35"/>
<circle cx="371.69" cy="787.09" r="1.35"/>
<circle cx="365.87" cy="802.53" r="1.35"/>
<circle cx="366.4" cy="806.17" r="1.35"/>
<circle cx="365.57" cy="811.77" r="1.35"/>
<circle cx="364.76" cy="797.29" r="1.35"/>
<circle cx="374.75" cy="792.09" r="1.35"/>
<circle cx="370.86" cy="794.84" r="1.35"/>
<circle cx="367.58" cy="809.7" r="1.35"/>
<circle cx="366.52" cy="805.8" r="1.35"/>
<circle cx="370.01" cy="808.17" r="1.35"/>
<circle cx="370.93" cy="811.75" r="1.35"/>
<circle cx="372.58" cy="801.8" r="1.35"/>
<circle cx="368.7" cy="800.38" r="1.35"/>
<circle cx="371.15" cy="802.81" r="1.35"/>
<circle cx="371.03" cy="809.03" r="1.35"/>
<circle cx="369.78" cy="809.24" r="1.35"/>
<circle cx="368.42" cy="808.47" r="1.35"/>
<circle cx="368.35" cy="806.57" r="1.35"/>
<circle cx="373.63" cy="813.62" r="1.35"/>
<circle cx="370.9" cy="788.03" r="1.35"/>
<circle cx="369.63" cy="809.86" r="1.35"/>
<circle cx="373.23" cy="812.89" r="1.35"/>
<circle cx="370.95" cy="806.29" r="1.35"/>
<circle cx="370.6" cy="811.95" r="1.35"/>
<circle cx="367.93" cy="790.81" r="1.35"/>
<circle cx="368.35" cy="791.12" r="1.35"/>
<circle cx="370.89" cy="803.81" r="1.35"/>
<circle cx="370.45" cy="797.12" r="1.35"/>
<circle cx="375.1" cy="788.67" r="1.35"/>
<circle cx="370.56" cy="807.11" r="1.35"/>
<circle cx="371" cy="810.86" r="1.35"/>
<circle cx="372.92" cy="795.34" r="1.35"/>
<circle cx="361.27" cy="803.2" r="1.35"/>
<circle cx="370.55" cy="796.98" r="1.35"/>
<circle cx="370.29" cy="788.22" r="1.35"/>
<circle cx="367.42" cy="804.06" r="1.35"/>
<circle cx="373.34" cy="800.61" r="1.35"/>
<circle cx="366.98" cy="803.77" r="1.35"/>
<circle cx="367.84" cy="793.93" r="1.35"/>
<circle cx="368.1" cy="807.34" r="1.35"/>
<circle cx="371.29" cy="800.91" r="1.35"/>
<circle cx="371.9" cy="796.9" r="1.35"/>
<circle cx="371.32" cy="806.96" r="1.35"/>
<circle cx="374.12" cy="804.71" r="1.35"/>
<circle cx="370.11" cy="789.03" r="1.35"/>
<circle cx="369.43" cy="790.12" r="1.35"/>
<circle cx="369.89" cy="803.03" r="1.35"/>
<circle cx="376.74" cy="799.91" r="1.35"/>
<circle cx="370.41" cy="795.58" r="1.35"/>
<circle cx="368.21" cy="806.64" r="1.35"/>
<circle cx="375.89" cy="788.16" r="1.35"/>
<circle cx="376.02" cy="805.43" r="1.35"/>
<circle cx="377.33" cy="792.83" r="1.35"/>
<circle cx="375.34" cy="804.99" r="1.35"/>
<circle cx="371.82" cy="809.27" r="1.35"/>
<circle cx="373.78" cy="796.44" r="1.35"/>
<circle cx="368.05" cy="793.15" r="1.35"/>
<circle cx="374.2" cy="796.28" r="1.35"/>
<circle cx="374.23" cy="797.3" r="1.35"/>
<circle cx="374.14" cy="804.52" r="1.35"/>
<circle cx="362.65" cy="808.82" r="1.35"/>
<circle cx="372.34" cy="800.93" r="1.35"/>
<circle cx="364.33" cy="802.99" r="1.35"/>
<circle cx="367.45" cy="797.57" r="1.35"/>
<circle cx="373.08" cy="789.36" r="1.35"/>
<circle cx="371.46" cy="787.77" r="1.35"/>
<circle cx="362.77" cy="811.16" r="1.35"/>
<circle cx="371.78" cy="786.7" r="1.35"/>
<circle cx="373.42" cy="799.63" r="1.35"/>
<circle cx="366.81" cy="798.48" r="1.35"/>
<circle cx="371.37" cy="799.5" r="1.35"/>
<circle cx="371.81" cy="791.06" r="1.35"/>
<circle cx="364.68" cy="797" r="1.35"/>
<circle cx="375.32" cy="790.87" r="1.35"/>
<circle cx="370.01" cy="793.68" r="1.35"/>
<circle cx="372.28" cy="794.59" r="1.35"/>
<circle cx="369.55" cy="793.16" r="1.35"/>
<circle cx="368.54" cy="812.13" r="1.35"/>
<circle cx="374.89" cy="796.84" r="1.35"/>
<circle cx="367.17" cy="805.23" r="1.35"/>
<circle cx="371.36" cy="799.67" r="1.35"/>
<circle cx="368.6" cy="805.08" r="1.35"/>
<circle cx="367.72" cy="794.7" r="1.35"/>
<circle cx="365.68" cy="791.18" r="1.35"/>
<circle cx="372.98" cy="792.22" r="1.35"/>
<circle cx="371.26" cy="788.84" r="1.35"/>
<circle cx="373.17" cy="797.72" r="1.35"/>
<circle cx="369.66" cy="795.27" r="1.35"/>
<circle cx="368.6" cy="799.57" r="1.35"/>
<circle cx="374.5" cy="806.44" r="1.35"/>
<circle cx="370.93" cy="791.18" r="1.35"/>
<circle cx="373.52" cy="812.57" r="1.35"/>
<circle cx="360.75" cy="804.46" r="1.35"/>
<circle cx="375.03" cy="786.86" r="1.35"/>
<circle cx="371.56" cy="788.36" r="1.35"/>
<circle cx="367.49" cy="787.92" r="1.35"/>
<circle cx="373.67" cy="801.78" r="1.35"/>
<circle cx="369.82" cy="796.32" r="1.35"/>
<circle cx="377.46" cy="789.27" r="1.35"/>
<circle cx="372.87" cy="800.2" r="1.35"/>
<circle cx="370.83" cy="812.44" r="1.35"/>
<circle cx="371.8" cy="788.08" r="1.35"/>
<circle cx="372.41" cy="797.62" r="1.35"/>
<circle cx="370.9" cy="797.9" r="1.35"/>
<circle cx="371.12" cy="795.11" r="1.35"/>
<circle cx="368.61" cy="813.42" r="1.35"/>
<circle cx="351.88" cy="810.41" r="1.35"/>
<circle cx="364.79" cy="815.28" r="1.35"/>
<circle cx="348.39" cy="811.11" r="1.35"/>
<circle cx="365.18" cy="814.09" r="1.35"/>
<circle cx="379.1" cy="805.75" r="1.35"/>
<circle cx="353.16" cy="810.54" r="1.35"/>
<circle cx="345.93" cy="806.79" r="1.35"/>
<circle cx="366.26" cy="814.41" r="1.35"/>
<circle cx="359.11" cy="812.02" r="1.35"/>
<circle cx="378.79" cy="807.32" r="1.35"/>
<circle cx="356.58" cy="809.68" r="1.35"/>
<circle cx="353.51" cy="812.31" r="1.35"/>
<circle cx="349.54" cy="811.82" r="1.35"/>
<circle cx="373.63" cy="812.05" r="1.35"/>
<circle cx="375.36" cy="811.89" r="1.35"/>
<circle cx="348.3" cy="810.17" r="1.35"/>
<circle cx="354.28" cy="811.61" r="1.35"/>
<circle cx="366.46" cy="813.63" r="1.35"/>
<circle cx="354.3" cy="810.05" r="1.35"/>
<circle cx="347.06" cy="809.12" r="1.35"/>
<circle cx="352.63" cy="813.09" r="1.35"/>
<circle cx="348.91" cy="809.15" r="1.35"/>
<circle cx="360.73" cy="813.6" r="1.35"/>
<circle cx="365.7" cy="810.75" r="1.35"/>
<circle cx="378.17" cy="808.21" r="1.35"/>
<circle cx="366.38" cy="811.09" r="1.35"/>
<circle cx="361.52" cy="813.8" r="1.35"/>
<circle cx="380.32" cy="805.82" r="1.35"/>
<circle cx="372.01" cy="813.13" r="1.35"/>
<circle cx="375.09" cy="810.37" r="1.35"/>
<circle cx="359.33" cy="814.68" r="1.35"/>
<circle cx="351.51" cy="812.46" r="1.35"/>
<circle cx="354.93" cy="813.44" r="1.35"/>
<circle cx="347.63" cy="809.03" r="1.35"/>
<circle cx="373.32" cy="812.7" r="1.35"/>
<circle cx="347.15" cy="810.67" r="1.35"/>
<circle cx="350.07" cy="808.9" r="1.35"/>
<circle cx="380.12" cy="805.3" r="1.35"/>
<circle cx="367.75" cy="814.63" r="1.35"/>
<circle cx="358.59" cy="812.21" r="1.35"/>
<circle cx="357.42" cy="811.21" r="1.35"/>
<circle cx="375.63" cy="812.06" r="1.35"/>
<circle cx="371.96" cy="810.83" r="1.35"/>
<circle cx="351.58" cy="811.23" r="1.35"/>
<circle cx="371.32" cy="807.43" r="1.35"/>
<circle cx="374.45" cy="810.56" r="1.35"/>
<circle cx="349.63" cy="809.65" r="1.35"/>
<circle cx="362.21" cy="809.54" r="1.35"/>
<circle cx="361.22" cy="810.82" r="1.35"/>
<circle cx="379.65" cy="808.38" r="1.35"/>
<circle cx="364.84" cy="811.49" r="1.35"/>
<circle cx="349.1" cy="811.31" r="1.35"/>
<circle cx="375.17" cy="811.73" r="1.35"/>
<circle cx="381.18" cy="808.77" r="1.35"/>
<circle cx="346.5" cy="807.48" r="1.35"/>
<circle cx="377.65" cy="809.76" r="1.35"/>
<circle cx="359.7" cy="814.96" r="1.35"/>
<circle cx="352.68" cy="811.41" r="1.35"/>
<circle cx="365.93" cy="812.21" r="1.35"/>
<circle cx="354.16" cy="810.4" r="1.35"/>
<circle cx="358.2" cy="815.19" r="1.35"/>
<circle cx="376.12" cy="803.66" r="1.35"/>
<circle cx="376.47" cy="809.74" r="1.35"/>
<circle cx="350.54" cy="810.78" r="1.35"/>
<circle cx="375.81" cy="811.46" r="1.35"/>
<circle cx="351.52" cy="813.22" r="1.35"/>
<circle cx="348.92" cy="810.68" r="1.35"/>
<circle cx="352.61" cy="807.46" r="1.35"/>
<circle cx="374.54" cy="810.83" r="1.35"/>
<circle cx="376.96" cy="807.68" r="1.35"/>
<circle cx="368.16" cy="814.01" r="1.35"/>
<circle cx="345.67" cy="807.18" r="1.35"/>
<circle cx="364.07" cy="813.87" r="1.35"/>
<circle cx="359.57" cy="814.47" r="1.35"/>
<circle cx="356.93" cy="812.51" r="1.35"/>
<circle cx="359.34" cy="815" r="1.35"/>
<circle cx="362.76" cy="814.7" r="1.35"/>
<circle cx="381.34" cy="806.26" r="1.35"/>
<circle cx="375.22" cy="808.49" r="1.35"/>
<circle cx="369.88" cy="812.39" r="1.35"/>
<circle cx="364.99" cy="814.57" r="1.35"/>
<circle cx="367.07" cy="812.43" r="1.35"/>
<circle cx="370.22" cy="811.99" r="1.35"/>
<circle cx="348.15" cy="811.19" r="1.35"/>
<circle cx="348.5" cy="809.31" r="1.35"/>
<circle cx="373.16" cy="810.33" r="1.35"/>
<circle cx="371.51" cy="811.61" r="1.35"/>
<circle cx="355.37" cy="808.24" r="1.35"/>
<circle cx="371.57" cy="809.5" r="1.35"/>
<circle cx="369.87" cy="812.32" r="1.35"/>
<circle cx="380.4" cy="806.11" r="1.35"/>
<circle cx="376.05" cy="809.43" r="1.35"/>
<circle cx="372.39" cy="812.14" r="1.35"/>
<circle cx="364.25" cy="814.18" r="1.35"/>
<circle cx="378.17" cy="810.51" r="1.35"/>
<circle cx="365.25" cy="807.33" r="1.35"/>
<circle cx="359.73" cy="812.51" r="1.35"/>
<circle cx="351.83" cy="813.35" r="1.35"/>
<circle cx="369.26" cy="809.38" r="1.35"/>
<circle cx="367.8" cy="811.13" r="1.35"/>
<circle cx="359.48" cy="811.92" r="1.35"/>
<circle cx="365.6" cy="812.47" r="1.35"/>
<circle cx="371.54" cy="809.63" r="1.35"/>
<circle cx="353.1" cy="809.49" r="1.35"/>
<circle cx="356.51" cy="814.49" r="1.35"/>
<circle cx="378.21" cy="806.91" r="1.35"/>
<circle cx="351.44" cy="809.82" r="1.35"/>
<circle cx="353.54" cy="810.31" r="1.35"/>
<circle cx="347.6" cy="806.06" r="1.35"/>
<circle cx="377.53" cy="809.16" r="1.35"/>
<circle cx="372.01" cy="811.12" r="1.35"/>
<circle cx="364.7" cy="813.88" r="1.35"/>
<circle cx="378.49" cy="810.11" r="1.35"/>
<circle cx="367.51" cy="812.76" r="1.35"/>
<circle cx="380.76" cy="809.23" r="1.35"/>
<circle cx="349.54" cy="811.62" r="1.35"/>
<circle cx="365.94" cy="813.79" r="1.35"/>
<circle cx="352.28" cy="812.44" r="1.35"/>
<circle cx="367.11" cy="812.35" r="1.35"/>
<circle cx="372.04" cy="810.2" r="1.35"/>
<circle cx="347.55" cy="805.54" r="1.35"/>
<circle cx="380.41" cy="809.19" r="1.35"/>
<circle cx="356.98" cy="812.53" r="1.35"/>
<circle cx="379.3" cy="806.95" r="1.35"/>
<circle cx="353.7" cy="812.26" r="1.35"/>
<circle cx="362.79" cy="810.17" r="1.35"/>
<circle cx="348.99" cy="811.41" r="1.35"/>
<circle cx="348.7" cy="810.22" r="1.35"/>
<circle cx="350.87" cy="811.92" r="1.35"/>
<circle cx="373.11" cy="812.51" r="1.35"/>
<circle cx="372.31" cy="811.56" r="1.35"/>
<circle cx="371.46" cy="809.11" r="1.35"/>
<circle cx="379.2" cy="806.45" r="1.35"/>
<circle cx="380.7" cy="808.43" r="1.35"/>
<circle cx="349.09" cy="811.19" r="1.35"/>
<circle cx="352.87" cy="813.17" r="1.35"/>
<circle cx="359.03" cy="811.05" r="1.35"/>
<circle cx="372.55" cy="812.49" r="1.35"/>
<circle cx="348.37" cy="808.59" r="1.35"/>
<circle cx="359.06" cy="813.27" r="1.35"/>
<circle cx="349.61" cy="809.98" r="1.35"/>
<circle cx="370.38" cy="812.7" r="1.35"/>
<circle cx="363.48" cy="808.55" r="1.35"/>
<circle cx="347.94" cy="809.74" r="1.35"/>
<circle cx="373.17" cy="812.97" r="1.35"/>
<circle cx="349.58" cy="809.87" r="1.35"/>
<circle cx="362.87" cy="812.6" r="1.35"/>
<circle cx="378.99" cy="806.73" r="1.35"/>
<circle cx="359.31" cy="814.55" r="1.35"/>
<circle cx="370.86" cy="810.82" r="1.35"/>
<circle cx="374.24" cy="810.76" r="1.35"/>
<circle cx="357.66" cy="814.05" r="1.35"/>
<circle cx="376.41" cy="811.04" r="1.35"/>
<circle cx="360.73" cy="815.43" r="1.35"/>
<circle cx="354.02" cy="813.66" r="1.35"/>
<circle cx="355.24" cy="813.62" r="1.35"/>
<circle cx="348.82" cy="803.38" r="1.35"/>
<circle cx="365.16" cy="814.19" r="1.35"/>
<circle cx="359.47" cy="814.25" r="1.35"/>
<circle cx="358.35" cy="814.78" r="1.35"/>
<circle cx="375.04" cy="807.56" r="1.35"/>
<circle cx="358.54" cy="815.17" r="1.35"/>
<circle cx="345.9" cy="810.08" r="1.35"/>
<circle cx="359.34" cy="812.14" r="1.35"/>
<circle cx="364.25" cy="813.51" r="1.35"/>
<circle cx="381.04" cy="808.65" r="1.35"/>
<circle cx="361.54" cy="814.34" r="1.35"/>
<circle cx="355.54" cy="814.49" r="1.35"/>
<circle cx="380.32" cy="808.42" r="1.35"/>
<circle cx="347.24" cy="807.7" r="1.35"/>
<circle cx="359.7" cy="814.91" r="1.35"/>
<circle cx="367.07" cy="811.99" r="1.35"/>
<circle cx="378.4" cy="808.34" r="1.35"/>
<circle cx="346.62" cy="807.23" r="1.35"/>
<circle cx="346.17" cy="809.9" r="1.35"/>
<circle cx="377.37" cy="808.45" r="1.35"/>
<circle cx="375.59" cy="809.88" r="1.35"/>
<circle cx="381.95" cy="807.25" r="1.35"/>
<circle cx="373.04" cy="812.15" r="1.35"/>
<circle cx="373.95" cy="812.05" r="1.35"/>
<circle cx="360.78" cy="806.14" r="1.35"/>
<circle cx="353.25" cy="812.3" r="1.35"/>
<circle cx="360.76" cy="815.11" r="1.35"/>
<circle cx="355.81" cy="811.45" r="1.35"/>
<circle cx="369.75" cy="813.24" r="1.35"/>
<circle cx="362.09" cy="814.31" r="1.35"/>
<circle cx="348.01" cy="806.78" r="1.35"/>
<circle cx="377.78" cy="806.96" r="1.35"/>
<circle cx="352.51" cy="808.13" r="1.35"/>
<circle cx="380.54" cy="809" r="1.35"/>
<circle cx="367.27" cy="813.66" r="1.35"/>
<circle cx="379.06" cy="808.91" r="1.35"/>
<circle cx="379.69" cy="808.31" r="1.35"/>
<circle cx="361.04" cy="815.19" r="1.35"/>
<circle cx="355.08" cy="814.51" r="1.35"/>
<circle cx="373.74" cy="810.31" r="1.35"/>
<circle cx="350.87" cy="804.93" r="1.35"/>
<circle cx="371.05" cy="813.23" r="1.35"/>
<circle cx="348.6" cy="808.51" r="1.35"/>
<circle cx="359.05" cy="812.65" r="1.35"/>
<circle cx="358.82" cy="811.48" r="1.35"/>
<circle cx="380.73" cy="808.98" r="1.35"/>
<circle cx="354.13" cy="812.17" r="1.35"/>
<circle cx="365.3" cy="814.41" r="1.35"/>
<circle cx="372.13" cy="811.52" r="1.35"/>
<circle cx="371.19" cy="811.57" r="1.35"/>
<circle cx="345.59" cy="809.48" r="1.35"/>
<circle cx="363.79" cy="812.44" r="1.35"/>
<circle cx="367.69" cy="814.74" r="1.35"/>
<circle cx="363.66" cy="814.55" r="1.35"/>
<circle cx="346.7" cy="808.57" r="1.35"/>
<circle cx="346.08" cy="808.41" r="1.35"/>
<circle cx="356.22" cy="810.75" r="1.35"/>
<circle cx="379.22" cy="809.12" r="1.35"/>
<circle cx="358.89" cy="810.76" r="1.35"/>
<circle cx="379.68" cy="809.3" r="1.35"/>
<circle cx="380.14" cy="807.39" r="1.35"/>
<circle cx="351.41" cy="813.03" r="1.35"/>
<circle cx="379.48" cy="807.43" r="1.35"/>
<circle cx="372.31" cy="812.22" r="1.35"/>
<circle cx="364.69" cy="810.26" r="1.35"/>
<circle cx="356.27" cy="810.54" r="1.35"/>
<circle cx="365.54" cy="814.58" r="1.35"/>
<circle cx="358.17" cy="813.85" r="1.35"/>
<circle cx="363.43" cy="813.68" r="1.35"/>
<circle cx="361.95" cy="814.76" r="1.35"/>
<circle cx="347.49" cy="808.81" r="1.35"/>
<circle cx="350.57" cy="811.4" r="1.35"/>
<circle cx="380.79" cy="809.29" r="1.35"/>
<circle cx="374.05" cy="810.68" r="1.35"/>
<circle cx="372.49" cy="813.25" r="1.35"/>
<circle cx="368.25" cy="809.31" r="1.35"/>
<circle cx="359.55" cy="813.92" r="1.35"/>
<circle cx="354.96" cy="812.92" r="1.35"/>
<circle cx="377.45" cy="805.56" r="1.35"/>
<circle cx="351.79" cy="810.99" r="1.35"/>
<circle cx="350.33" cy="808.08" r="1.35"/>
<circle cx="365.89" cy="813.74" r="1.35"/>
<circle cx="345.65" cy="804.57" r="1.35"/>
<circle cx="363.43" cy="814.05" r="1.35"/>
<circle cx="377.26" cy="807.71" r="1.35"/>
<circle cx="349.6" cy="811.36" r="1.35"/>
<circle cx="371.75" cy="810.79" r="1.35"/>
<circle cx="353.42" cy="811.4" r="1.35"/>
<circle cx="380.11" cy="809.09" r="1.35"/>
<circle cx="370.39" cy="813.66" r="1.35"/>
<circle cx="348.7" cy="808.82" r="1.35"/>
<circle cx="369.1" cy="813.35" r="1.35"/>
<circle cx="378.02" cy="810.94" r="1.35"/>
<circle cx="368.89" cy="813.64" r="1.35"/>
<circle cx="376.25" cy="808.44" r="1.35"/>
<circle cx="354.79" cy="811.06" r="1.35"/>
<circle cx="356.25" cy="809.87" r="1.35"/>
<circle cx="364.22" cy="815.44" r="1.35"/>
<circle cx="378.39" cy="809.25" r="1.35"/>
<circle cx="353.24" cy="813.6" r="1.35"/>
<circle cx="354.96" cy="812.64" r="1.35"/>
<circle cx="348.53" cy="811.09" r="1.35"/>
<circle cx="358.24" cy="812.53" r="1.35"/>
<circle cx="368.1" cy="813.43" r="1.35"/>
<circle cx="369.17" cy="813.94" r="1.35"/>
<circle cx="363.32" cy="814.1" r="1.35"/>
<circle cx="370.51" cy="810.64" r="1.35"/>
<circle cx="378.76" cy="809.47" r="1.35"/>
<circle cx="350.62" cy="812.46" r="1.35"/>
<circle cx="364.96" cy="811.96" r="1.35"/>
<circle cx="378.32" cy="806.85" r="1.35"/>
<circle cx="360.69" cy="814.05" r="1.35"/>
<circle cx="374.07" cy="811.78" r="1.35"/>
<circle cx="349.25" cy="810.02" r="1.35"/>
<circle cx="354.81" cy="810.58" r="1.35"/>
<circle cx="355" cy="809.67" r="1.35"/>
<circle cx="368.39" cy="810.14" r="1.35"/>
<circle cx="349.57" cy="806.56" r="1.35"/>
<circle cx="373.54" cy="812.55" r="1.35"/>
<circle cx="368.48" cy="813.65" r="1.35"/>
<circle cx="376.27" cy="811.23" r="1.35"/>
<circle cx="380.96" cy="808.91" r="1.35"/>
<circle cx="359.39" cy="812.31" r="1.35"/>
<circle cx="354.86" cy="810.9" r="1.35"/>
<circle cx="360.28" cy="814.88" r="1.35"/>
<circle cx="347.66" cy="810.06" r="1.35"/>
<circle cx="371.6" cy="808.89" r="1.35"/>
<circle cx="347.6" cy="807.99" r="1.35"/>
<circle cx="356.35" cy="811.88" r="1.35"/>
<circle cx="374.3" cy="806.49" r="1.35"/>
<circle cx="378.18" cy="809.66" r="1.35"/>
<circle cx="360.56" cy="815.48" r="1.35"/>
<circle cx="353.59" cy="810.31" r="1.35"/>
<circle cx="355.93" cy="814.17" r="1.35"/>
<circle cx="349.25" cy="805.24" r="1.35"/>
<circle cx="380" cy="809.49" r="1.35"/>
<circle cx="362.4" cy="811.5" r="1.35"/>
<circle cx="349.51" cy="809.22" r="1.35"/>
<circle cx="365.01" cy="807.8" r="1.35"/>
<circle cx="365.21" cy="810.98" r="1.35"/>
<circle cx="361.35" cy="815.05" r="1.35"/>
<circle cx="380.99" cy="805.63" r="1.35"/>
<circle cx="360.99" cy="814.65" r="1.35"/>
<circle cx="378.98" cy="807.14" r="1.35"/>
<circle cx="359.3" cy="810.98" r="1.35"/>
<circle cx="357.24" cy="810.13" r="1.35"/>
<circle cx="375.05" cy="811.03" r="1.35"/>
<circle cx="347.26" cy="810.69" r="1.35"/>
<circle cx="379.75" cy="807" r="1.35"/>
<circle cx="378.96" cy="809.93" r="1.35"/>
<circle cx="366.35" cy="812.81" r="1.35"/>
<circle cx="372.6" cy="813.63" r="1.35"/>
<circle cx="354.7" cy="809.53" r="1.35"/>
<circle cx="367.49" cy="814.12" r="1.35"/>
<circle cx="350.22" cy="811.31" r="1.35"/>
<circle cx="372.04" cy="809.44" r="1.35"/>
<circle cx="349.06" cy="810.45" r="1.35"/>
<circle cx="351.45" cy="813.21" r="1.35"/>
<circle cx="348.59" cy="807.87" r="1.35"/>
<circle cx="376.75" cy="810.45" r="1.35"/>
<circle cx="351.28" cy="812.72" r="1.35"/>
<circle cx="366.59" cy="813.87" r="1.35"/>
<circle cx="354.54" cy="813.81" r="1.35"/>
<circle cx="371.73" cy="813.17" r="1.35"/>
<circle cx="349.78" cy="812.19" r="1.35"/>
<circle cx="367" cy="812.45" r="1.35"/>
<circle cx="368.74" cy="808.74" r="1.35"/>
<circle cx="379.03" cy="810.15" r="1.35"/>
<circle cx="355.64" cy="811.67" r="1.35"/>
<circle cx="350.17" cy="807.35" r="1.35"/>
<circle cx="360.71" cy="808.53" r="1.35"/>
<circle cx="350" cy="808.38" r="1.35"/>
<circle cx="369.33" cy="814.43" r="1.35"/>
<circle cx="345.33" cy="804.9" r="1.35"/>
<circle cx="342.77" cy="788.18" r="1.35"/>
<circle cx="340.14" cy="794.37" r="1.35"/>
<circle cx="347.36" cy="794.71" r="1.35"/>
<circle cx="355.39" cy="793.34" r="1.35"/>
<circle cx="336.12" cy="798.15" r="1.35"/>
<circle cx="357.68" cy="797.01" r="1.35"/>
<circle cx="353.89" cy="798.5" r="1.35"/>
<circle cx="337.5" cy="801.82" r="1.35"/>
<circle cx="340.71" cy="802.17" r="1.35"/>
<circle cx="348.16" cy="801.82" r="1.35"/>
<circle cx="384.28" cy="796.43" r="1.35"/>
<circle cx="384.28" cy="799.07" r="1.35"/>
<circle cx="379.69" cy="790.93" r="1.35"/>
<circle cx="407.21" cy="796.43" r="1.35"/>
<circle cx="377.4" cy="794.71" r="1.35"/>
<circle cx="381.41" cy="804.46" r="1.35"/>
<circle cx="381.41" cy="807.9" r="1.35"/>
</g>
<g fill="#d9420b">
<circle cx="378.77" cy="590.18" r="2.6"/>
<circle cx="386.57" cy="628.7" r="2.6"/>
<circle cx="377.63" cy="709.87" r="2.6"/>
<circle cx="375.45" cy="725.46" r="2.6"/>
<circle cx="379.46" cy="736.24" r="2.6"/>
<circle cx="376.48" cy="741.17" r="2.6"/>
<circle cx="371.44" cy="742.55" r="2.6"/>
<circle cx="381.98" cy="746.33" r="2.6"/>
<circle cx="373.96" cy="746.9" r="2.6"/>
<circle cx="376.94" cy="749.2" r="2.6"/>
<circle cx="376.48" cy="758.03" r="2.6"/>
<circle cx="372.24" cy="760.32" r="2.6"/>
<circle cx="370.52" cy="764.33" r="2.6"/>
<circle cx="375.1" cy="764.33" r="2.6"/>
<circle cx="371.67" cy="768.34" r="2.6"/>
<circle cx="369.37" cy="771.21" r="2.6"/>
<circle cx="373.96" cy="771.21" r="2.6"/>
<circle cx="376.82" cy="770.64" r="2.6"/>
<circle cx="371.67" cy="774.08" r="2.6"/>
<circle cx="369.37" cy="776.94" r="2.6"/>
<circle cx="373.96" cy="776.94" r="2.6"/>
<circle cx="379.69" cy="776.94" r="2.6"/>
<circle cx="371.67" cy="779.81" r="2.6"/>
<circle cx="374.53" cy="780.38" r="2.6"/>
<circle cx="369.95" cy="782.68" r="2.6"/>
<circle cx="373.39" cy="783.25" r="2.6"/>
<circle cx="369.37" cy="785.54" r="2.6"/>
<circle cx="372.81" cy="785.54" r="2.6"/>
<circle cx="412.6" cy="770.87" r="2.6"/>
</g>
<line x1="535.55" y1="576.54" x2="535.55" y2="814.13" stroke="#1a1a1a" stroke-width="1.45"/>
<line x1="529.95" y1="577.27" x2="535.55" y2="577.27" stroke="#1a1a1a" stroke-width="1.45"/>
<text x="521.65" y="583.57" font-size="18.29" text-anchor="end" textLength="22.18" lengthAdjust="spacingAndGlyphs">25</text>
<line x1="529.95" y1="624.49" x2="535.55" y2="624.49" stroke="#1a1a1a" stroke-width="1.45"/>
<text x="521.65" y="630.8" font-size="18.29" text-anchor="end" textLength="22.18" lengthAdjust="spacingAndGlyphs">20</text>
<line x1="529.95" y1="671.72" x2="535.55" y2="671.72" stroke="#1a1a1a" stroke-width="1.45"/>
<text x="521.65" y="678.03" font-size="18.29" text-anchor="end" textLength="17.69" lengthAdjust="spacingAndGlyphs">15</text>
<line x1="529.95" y1="718.95" x2="535.55" y2="718.95" stroke="#1a1a1a" stroke-width="1.45"/>
<text x="521.65" y="725.26" font-size="18.29" text-anchor="end" textLength="17.69" lengthAdjust="spacingAndGlyphs">10</text>
<line x1="529.95" y1="766.18" x2="535.55" y2="766.18" stroke="#1a1a1a" stroke-width="1.45"/>
<text x="521.65" y="772.49" font-size="18.29" text-anchor="end" textLength="10.98" lengthAdjust="spacingAndGlyphs">5</text>
<line x1="529.95" y1="813.41" x2="535.55" y2="813.41" stroke="#1a1a1a" stroke-width="1.45"/>
<text x="521.65" y="819.72" font-size="18.29" text-anchor="end" textLength="10.98" lengthAdjust="spacingAndGlyphs">0</text>
<line x1="546.03" y1="829.02" x2="668.76" y2="829.02" stroke="#1a1a1a" stroke-width="1.45"/>
<line x1="546.76" y1="829.02" x2="546.76" y2="834.62" stroke="#1a1a1a" stroke-width="1.45"/>
<text x="546.76" y="855.03" font-size="18.03" text-anchor="middle" textLength="21.18" lengthAdjust="spacingAndGlyphs">−4</text>
<line x1="587.18" y1="829.02" x2="587.18" y2="834.62" stroke="#1a1a1a" stroke-width="1.45"/>
<text x="587.18" y="855.03" font-size="18.03" text-anchor="middle" textLength="10.83" lengthAdjust="spacingAndGlyphs">0</text>
<line x1="627.61" y1="829.02" x2="627.61" y2="834.62" stroke="#1a1a1a" stroke-width="1.45"/>
<text x="627.61" y="855.03" font-size="18.03" text-anchor="middle" textLength="10.83" lengthAdjust="spacingAndGlyphs">4</text>
<line x1="668.03" y1="829.02" x2="668.03" y2="834.62" stroke="#1a1a1a" stroke-width="1.45"/>
<text x="668.03" y="855.03" font-size="18.03" text-anchor="middle" textLength="10.83" lengthAdjust="spacingAndGlyphs">8</text>
<text font-size="22" text-anchor="middle" textLength="156.9" lengthAdjust="spacingAndGlyphs" transform="translate(480.42 695.34) rotate(-90)"><tspan font-style="italic">P</tspan> values (−log)</text>
<text x="608" y="888.25" font-size="22" text-anchor="middle" textLength="132.08" lengthAdjust="spacingAndGlyphs">Fold change</text>
<text x="607.19" y="915.07" font-size="22" text-anchor="middle" textLength="56.83" lengthAdjust="spacingAndGlyphs">(log<tspan font-size="14.3" dy="6.6">2</tspan><tspan dy="-6.6">&#8203;</tspan>)</text>
<text x="581.58" y="573.26" font-size="21" textLength="71.64" lengthAdjust="spacingAndGlyphs">HFD<tspan font-size="13.65" dy="6.3">lard</tspan><tspan dy="-6.3">&#8203;</tspan></text>
<g fill="#808080">
<circle cx="593.08" cy="793.24" r="1.35"/>
<circle cx="594.3" cy="803.31" r="1.35"/>
<circle cx="595.66" cy="803.91" r="1.35"/>
<circle cx="594.77" cy="809.73" r="1.35"/>
<circle cx="597.31" cy="793.82" r="1.35"/>
<circle cx="606.88" cy="799.63" r="1.35"/>
<circle cx="589.69" cy="809.7" r="1.35"/>
<circle cx="597.24" cy="790.83" r="1.35"/>
<circle cx="597.95" cy="804.16" r="1.35"/>
<circle cx="591.73" cy="807.08" r="1.35"/>
<circle cx="600.35" cy="805.16" r="1.35"/>
<circle cx="597.52" cy="802.95" r="1.35"/>
<circle cx="602.84" cy="794.98" r="1.35"/>
<circle cx="596.92" cy="799.7" r="1.35"/>
<circle cx="598.82" cy="806.47" r="1.35"/>
<circle cx="590.55" cy="812.03" r="1.35"/>
<circle cx="596.98" cy="797.56" r="1.35"/>
<circle cx="590.72" cy="812.43" r="1.35"/>
<circle cx="595.94" cy="810.87" r="1.35"/>
<circle cx="597.39" cy="792.66" r="1.35"/>
<circle cx="589.73" cy="813.25" r="1.35"/>
<circle cx="597.96" cy="794.97" r="1.35"/>
<circle cx="593.08" cy="800.65" r="1.35"/>
<circle cx="597.37" cy="802.79" r="1.35"/>
<circle cx="599.56" cy="802.76" r="1.35"/>
<circle cx="591.33" cy="812.25" r="1.35"/>
<circle cx="599.61" cy="810.25" r="1.35"/>
<circle cx="596.18" cy="791.18" r="1.35"/>
<circle cx="601.75" cy="810.37" r="1.35"/>
<circle cx="593.67" cy="802.35" r="1.35"/>
<circle cx="596.47" cy="806.33" r="1.35"/>
<circle cx="601.6" cy="802.47" r="1.35"/>
<circle cx="602.34" cy="794.53" r="1.35"/>
<circle cx="596.72" cy="813.92" r="1.35"/>
<circle cx="597.79" cy="789.12" r="1.35"/>
<circle cx="593.15" cy="790.84" r="1.35"/>
<circle cx="596.92" cy="794.77" r="1.35"/>
<circle cx="589.88" cy="787.9" r="1.35"/>
<circle cx="600.44" cy="803.6" r="1.35"/>
<circle cx="597.52" cy="795.79" r="1.35"/>
<circle cx="598.47" cy="810.93" r="1.35"/>
<circle cx="593.58" cy="814.16" r="1.35"/>
<circle cx="600.18" cy="795.21" r="1.35"/>
<circle cx="599.02" cy="787.55" r="1.35"/>
<circle cx="592.42" cy="792.12" r="1.35"/>
<circle cx="599.08" cy="790.99" r="1.35"/>
<circle cx="598.83" cy="787.86" r="1.35"/>
<circle cx="591.99" cy="813.07" r="1.35"/>
<circle cx="591.62" cy="811.36" r="1.35"/>
<circle cx="598.11" cy="801" r="1.35"/>
<circle cx="591.47" cy="804.41" r="1.35"/>
<circle cx="592.67" cy="803.75" r="1.35"/>
<circle cx="590.6" cy="812.57" r="1.35"/>
<circle cx="594.72" cy="806.51" r="1.35"/>
<circle cx="593.27" cy="793.23" r="1.35"/>
<circle cx="604.46" cy="801.03" r="1.35"/>
<circle cx="598.92" cy="801.78" r="1.35"/>
<circle cx="595.54" cy="802.65" r="1.35"/>
<circle cx="593.25" cy="787.24" r="1.35"/>
<circle cx="593.53" cy="788.34" r="1.35"/>
<circle cx="590.07" cy="803.95" r="1.35"/>
<circle cx="597.02" cy="796.39" r="1.35"/>
<circle cx="594.86" cy="806.14" r="1.35"/>
<circle cx="596.04" cy="788.35" r="1.35"/>
<circle cx="597.55" cy="805.29" r="1.35"/>
<circle cx="595.04" cy="799.24" r="1.35"/>
<circle cx="593.85" cy="803" r="1.35"/>
<circle cx="599.01" cy="795.29" r="1.35"/>
<circle cx="593.49" cy="796.85" r="1.35"/>
<circle cx="594.22" cy="797.07" r="1.35"/>
<circle cx="599.13" cy="807.94" r="1.35"/>
<circle cx="595.59" cy="806.92" r="1.35"/>
<circle cx="597.12" cy="795.22" r="1.35"/>
<circle cx="602.37" cy="793.26" r="1.35"/>
<circle cx="591.52" cy="791.84" r="1.35"/>
<circle cx="598.76" cy="789.49" r="1.35"/>
<circle cx="592.75" cy="795.55" r="1.35"/>
<circle cx="601.32" cy="798.75" r="1.35"/>
<circle cx="596" cy="810.23" r="1.35"/>
<circle cx="597.8" cy="804.58" r="1.35"/>
<circle cx="592.06" cy="811.04" r="1.35"/>
<circle cx="597.34" cy="790.02" r="1.35"/>
<circle cx="597.69" cy="801.26" r="1.35"/>
<circle cx="600.35" cy="809.76" r="1.35"/>
<circle cx="595.3" cy="791.74" r="1.35"/>
<circle cx="601.24" cy="804.35" r="1.35"/>
<circle cx="593.61" cy="808.87" r="1.35"/>
<circle cx="597.6" cy="794.72" r="1.35"/>
<circle cx="594.25" cy="808.53" r="1.35"/>
<circle cx="598.89" cy="798.16" r="1.35"/>
<circle cx="589.21" cy="798.24" r="1.35"/>
<circle cx="600.66" cy="790.98" r="1.35"/>
<circle cx="603.57" cy="786.82" r="1.35"/>
<circle cx="591.64" cy="813.84" r="1.35"/>
<circle cx="603.19" cy="798.64" r="1.35"/>
<circle cx="593.88" cy="792.8" r="1.35"/>
<circle cx="597.43" cy="807.2" r="1.35"/>
<circle cx="591.12" cy="800.97" r="1.35"/>
<circle cx="594.78" cy="794.64" r="1.35"/>
<circle cx="598.82" cy="788.56" r="1.35"/>
<circle cx="593.81" cy="802.89" r="1.35"/>
<circle cx="602.91" cy="787.93" r="1.35"/>
<circle cx="591.65" cy="811.55" r="1.35"/>
<circle cx="587.05" cy="811.36" r="1.35"/>
<circle cx="593.87" cy="811.44" r="1.35"/>
<circle cx="594.55" cy="807.2" r="1.35"/>
<circle cx="594.89" cy="791.42" r="1.35"/>
<circle cx="600.26" cy="801.13" r="1.35"/>
<circle cx="600.15" cy="798.07" r="1.35"/>
<circle cx="594.19" cy="796.08" r="1.35"/>
<circle cx="598.75" cy="793.63" r="1.35"/>
<circle cx="591.71" cy="808.21" r="1.35"/>
<circle cx="597.32" cy="796.37" r="1.35"/>
<circle cx="598.62" cy="809.16" r="1.35"/>
<circle cx="598.46" cy="791.4" r="1.35"/>
<circle cx="587.13" cy="808.87" r="1.35"/>
<circle cx="599.42" cy="809.35" r="1.35"/>
<circle cx="594.7" cy="810.42" r="1.35"/>
<circle cx="596.43" cy="788.06" r="1.35"/>
<circle cx="598.13" cy="801.2" r="1.35"/>
<circle cx="589.86" cy="798.33" r="1.35"/>
<circle cx="597.95" cy="786.74" r="1.35"/>
<circle cx="598.02" cy="788.2" r="1.35"/>
<circle cx="598.02" cy="788.57" r="1.35"/>
<circle cx="595.04" cy="813.51" r="1.35"/>
<circle cx="594.35" cy="800.5" r="1.35"/>
<circle cx="594.77" cy="795.38" r="1.35"/>
<circle cx="598.03" cy="804.49" r="1.35"/>
<circle cx="593.82" cy="802.83" r="1.35"/>
<circle cx="597.72" cy="795.73" r="1.35"/>
<circle cx="591.46" cy="790.09" r="1.35"/>
<circle cx="593.99" cy="797.15" r="1.35"/>
<circle cx="598.16" cy="788.89" r="1.35"/>
<circle cx="598.21" cy="803.32" r="1.35"/>
<circle cx="590.19" cy="808.22" r="1.35"/>
<circle cx="599.38" cy="803.83" r="1.35"/>
<circle cx="592.9" cy="798.56" r="1.35"/>
<circle cx="597.82" cy="806.03" r="1.35"/>
<circle cx="594.42" cy="798.26" r="1.35"/>
<circle cx="592.65" cy="793.43" r="1.35"/>
<circle cx="594.96" cy="801.43" r="1.35"/>
<circle cx="594.48" cy="798.38" r="1.35"/>
<circle cx="601.6" cy="798.41" r="1.35"/>
<circle cx="590.33" cy="796.99" r="1.35"/>
<circle cx="595.05" cy="811.39" r="1.35"/>
<circle cx="593.02" cy="799.46" r="1.35"/>
<circle cx="598.55" cy="790.08" r="1.35"/>
<circle cx="589.73" cy="811.1" r="1.35"/>
<circle cx="591.9" cy="808.49" r="1.35"/>
<circle cx="590.46" cy="802.2" r="1.35"/>
<circle cx="596.36" cy="789.53" r="1.35"/>
<circle cx="596.35" cy="790.64" r="1.35"/>
<circle cx="596.17" cy="807.99" r="1.35"/>
<circle cx="597.07" cy="789.42" r="1.35"/>
<circle cx="594.74" cy="810.91" r="1.35"/>
<circle cx="595.21" cy="809.84" r="1.35"/>
<circle cx="599.46" cy="790.03" r="1.35"/>
<circle cx="590.27" cy="809.7" r="1.35"/>
<circle cx="588.8" cy="812.89" r="1.35"/>
<circle cx="593.9" cy="787.69" r="1.35"/>
<circle cx="589.31" cy="807.8" r="1.35"/>
<circle cx="596.25" cy="789.63" r="1.35"/>
<circle cx="595.92" cy="807.3" r="1.35"/>
<circle cx="595.52" cy="795.61" r="1.35"/>
<circle cx="596.53" cy="802.21" r="1.35"/>
<circle cx="594.17" cy="791.63" r="1.35"/>
<circle cx="591.93" cy="793.57" r="1.35"/>
<circle cx="591.98" cy="797.52" r="1.35"/>
<circle cx="593.34" cy="796.8" r="1.35"/>
<circle cx="597.67" cy="798.2" r="1.35"/>
<circle cx="587.46" cy="788.98" r="1.35"/>
<circle cx="595.74" cy="798.05" r="1.35"/>
<circle cx="597.61" cy="807.25" r="1.35"/>
<circle cx="599.24" cy="807.49" r="1.35"/>
<circle cx="591.08" cy="805.23" r="1.35"/>
<circle cx="594.68" cy="804.38" r="1.35"/>
<circle cx="595.28" cy="811.38" r="1.35"/>
<circle cx="596.04" cy="807.27" r="1.35"/>
<circle cx="590.62" cy="811.91" r="1.35"/>
<circle cx="594.48" cy="806.47" r="1.35"/>
<circle cx="596.16" cy="791.81" r="1.35"/>
<circle cx="597.54" cy="802.8" r="1.35"/>
<circle cx="596.62" cy="795.35" r="1.35"/>
<circle cx="599.45" cy="812.92" r="1.35"/>
<circle cx="595.11" cy="794.83" r="1.35"/>
<circle cx="591.08" cy="810.18" r="1.35"/>
<circle cx="595.01" cy="802.78" r="1.35"/>
<circle cx="599.27" cy="787.32" r="1.35"/>
<circle cx="594" cy="799.88" r="1.35"/>
<circle cx="597.33" cy="796.61" r="1.35"/>
<circle cx="596.31" cy="795.55" r="1.35"/>
<circle cx="592.21" cy="813.96" r="1.35"/>
<circle cx="592.43" cy="799.88" r="1.35"/>
<circle cx="592.3" cy="809.65" r="1.35"/>
<circle cx="590.9" cy="809.3" r="1.35"/>
<circle cx="593.49" cy="806.52" r="1.35"/>
<circle cx="589.96" cy="810.26" r="1.35"/>
<circle cx="597.47" cy="813.11" r="1.35"/>
<circle cx="595.92" cy="799.55" r="1.35"/>
<circle cx="597.38" cy="806.44" r="1.35"/>
<circle cx="601.53" cy="805.27" r="1.35"/>
<circle cx="594.52" cy="793.35" r="1.35"/>
<circle cx="596.28" cy="791.91" r="1.35"/>
<circle cx="597.13" cy="806.08" r="1.35"/>
<circle cx="596.61" cy="810.31" r="1.35"/>
<circle cx="592.91" cy="810.49" r="1.35"/>
<circle cx="591.12" cy="795.31" r="1.35"/>
<circle cx="599.27" cy="789.05" r="1.35"/>
<circle cx="598.11" cy="789.24" r="1.35"/>
<circle cx="593.45" cy="796.5" r="1.35"/>
<circle cx="595.1" cy="802.66" r="1.35"/>
<circle cx="595.62" cy="795.9" r="1.35"/>
<circle cx="593.34" cy="798.69" r="1.35"/>
<circle cx="595.47" cy="802.79" r="1.35"/>
<circle cx="590.87" cy="812.97" r="1.35"/>
<circle cx="599.33" cy="789.97" r="1.35"/>
<circle cx="595.3" cy="794.25" r="1.35"/>
<circle cx="592.95" cy="811.1" r="1.35"/>
<circle cx="601.06" cy="811.69" r="1.35"/>
<circle cx="600.55" cy="796.99" r="1.35"/>
<circle cx="594.86" cy="807.94" r="1.35"/>
<circle cx="592.13" cy="805.29" r="1.35"/>
<circle cx="596" cy="804.69" r="1.35"/>
<circle cx="592.24" cy="807.44" r="1.35"/>
<circle cx="592.2" cy="813.14" r="1.35"/>
<circle cx="592.85" cy="789.81" r="1.35"/>
<circle cx="592.25" cy="800.28" r="1.35"/>
<circle cx="599.38" cy="805.36" r="1.35"/>
<circle cx="597.37" cy="802.27" r="1.35"/>
<circle cx="599.64" cy="804.05" r="1.35"/>
<circle cx="600.3" cy="791.62" r="1.35"/>
<circle cx="593.39" cy="790.08" r="1.35"/>
<circle cx="596.22" cy="812.33" r="1.35"/>
<circle cx="597.27" cy="806.51" r="1.35"/>
<circle cx="590.56" cy="803.13" r="1.35"/>
<circle cx="593.95" cy="799.28" r="1.35"/>
<circle cx="596.63" cy="795.29" r="1.35"/>
<circle cx="596.05" cy="806.38" r="1.35"/>
<circle cx="589.34" cy="807.45" r="1.35"/>
<circle cx="594.4" cy="796.57" r="1.35"/>
<circle cx="590.99" cy="794" r="1.35"/>
<circle cx="601.49" cy="787.85" r="1.35"/>
<circle cx="595.6" cy="800.58" r="1.35"/>
<circle cx="601.81" cy="796.43" r="1.35"/>
<circle cx="592.46" cy="795.85" r="1.35"/>
<circle cx="597.18" cy="807.92" r="1.35"/>
<circle cx="596.89" cy="796.4" r="1.35"/>
<circle cx="594.79" cy="794.13" r="1.35"/>
<circle cx="601.2" cy="789.43" r="1.35"/>
<circle cx="598.74" cy="806.7" r="1.35"/>
<circle cx="597.74" cy="791.77" r="1.35"/>
<circle cx="598.12" cy="807.14" r="1.35"/>
<circle cx="594.57" cy="809.13" r="1.35"/>
<circle cx="591.92" cy="790.72" r="1.35"/>
<circle cx="597.26" cy="797.65" r="1.35"/>
<circle cx="599.26" cy="802.33" r="1.35"/>
<circle cx="596.36" cy="792.25" r="1.35"/>
<circle cx="602.86" cy="787.52" r="1.35"/>
<circle cx="601.15" cy="808.79" r="1.35"/>
<circle cx="590.54" cy="797.23" r="1.35"/>
<circle cx="590.91" cy="811.75" r="1.35"/>
<circle cx="606.96" cy="807.18" r="1.35"/>
<circle cx="595.98" cy="812.62" r="1.35"/>
<circle cx="588.31" cy="809.95" r="1.35"/>
<circle cx="592.75" cy="815.13" r="1.35"/>
<circle cx="599.15" cy="813.16" r="1.35"/>
<circle cx="595.04" cy="811.05" r="1.35"/>
<circle cx="587.42" cy="815.39" r="1.35"/>
<circle cx="577.32" cy="812.44" r="1.35"/>
<circle cx="588.93" cy="815.41" r="1.35"/>
<circle cx="594.44" cy="811.2" r="1.35"/>
<circle cx="606.28" cy="808.4" r="1.35"/>
<circle cx="603.75" cy="807.74" r="1.35"/>
<circle cx="593.58" cy="811.03" r="1.35"/>
<circle cx="571.91" cy="808.82" r="1.35"/>
<circle cx="572.94" cy="809.21" r="1.35"/>
<circle cx="590.39" cy="813.08" r="1.35"/>
<circle cx="602.93" cy="810.53" r="1.35"/>
<circle cx="596.28" cy="810.43" r="1.35"/>
<circle cx="592.74" cy="810.75" r="1.35"/>
<circle cx="605.07" cy="809.43" r="1.35"/>
<circle cx="583" cy="810.31" r="1.35"/>
<circle cx="600.52" cy="807.41" r="1.35"/>
<circle cx="586.53" cy="813.08" r="1.35"/>
<circle cx="598.63" cy="812.14" r="1.35"/>
<circle cx="571.61" cy="809.87" r="1.35"/>
<circle cx="572.95" cy="810.34" r="1.35"/>
<circle cx="588.81" cy="813.88" r="1.35"/>
<circle cx="596.46" cy="811.25" r="1.35"/>
<circle cx="594.56" cy="814.06" r="1.35"/>
<circle cx="581.53" cy="809.86" r="1.35"/>
<circle cx="585.19" cy="814.33" r="1.35"/>
<circle cx="576.83" cy="809.19" r="1.35"/>
<circle cx="583.88" cy="812.45" r="1.35"/>
<circle cx="584.03" cy="811.33" r="1.35"/>
<circle cx="578.47" cy="813" r="1.35"/>
<circle cx="570.1" cy="807.58" r="1.35"/>
<circle cx="575.43" cy="807.29" r="1.35"/>
<circle cx="587.4" cy="814.89" r="1.35"/>
<circle cx="576.46" cy="810.92" r="1.35"/>
<circle cx="585.27" cy="815.1" r="1.35"/>
<circle cx="574.16" cy="811.01" r="1.35"/>
<circle cx="576.36" cy="811.76" r="1.35"/>
<circle cx="570.85" cy="809.4" r="1.35"/>
<circle cx="586.95" cy="811.68" r="1.35"/>
<circle cx="571.93" cy="807.68" r="1.35"/>
<circle cx="585.26" cy="814.89" r="1.35"/>
<circle cx="606.53" cy="809.15" r="1.35"/>
<circle cx="578.28" cy="810.85" r="1.35"/>
<circle cx="576.23" cy="810.85" r="1.35"/>
<circle cx="593.55" cy="814.14" r="1.35"/>
<circle cx="571.96" cy="808.98" r="1.35"/>
<circle cx="597.53" cy="813.13" r="1.35"/>
<circle cx="587.61" cy="810.4" r="1.35"/>
<circle cx="605.3" cy="809.62" r="1.35"/>
<circle cx="580.06" cy="812.16" r="1.35"/>
<circle cx="600.82" cy="810.78" r="1.35"/>
<circle cx="573.55" cy="809.27" r="1.35"/>
<circle cx="595.82" cy="810.55" r="1.35"/>
<circle cx="570.14" cy="808.17" r="1.35"/>
<circle cx="571.15" cy="808.14" r="1.35"/>
<circle cx="571.38" cy="808.86" r="1.35"/>
<circle cx="572.04" cy="806.67" r="1.35"/>
<circle cx="577.59" cy="808.09" r="1.35"/>
<circle cx="606.84" cy="804.04" r="1.35"/>
<circle cx="604.71" cy="809.9" r="1.35"/>
<circle cx="605.57" cy="807.68" r="1.35"/>
<circle cx="592.96" cy="814.58" r="1.35"/>
<circle cx="605.81" cy="807.9" r="1.35"/>
<circle cx="602.16" cy="810.74" r="1.35"/>
<circle cx="574.34" cy="809.66" r="1.35"/>
<circle cx="595.73" cy="812.78" r="1.35"/>
<circle cx="605.13" cy="808.2" r="1.35"/>
<circle cx="597.77" cy="809.52" r="1.35"/>
<circle cx="601.62" cy="805.92" r="1.35"/>
<circle cx="583.73" cy="813.01" r="1.35"/>
<circle cx="585.69" cy="814.82" r="1.35"/>
<circle cx="588.18" cy="810.44" r="1.35"/>
<circle cx="580.19" cy="812.05" r="1.35"/>
<circle cx="592.92" cy="810.96" r="1.35"/>
<circle cx="596.89" cy="811.55" r="1.35"/>
<circle cx="575.82" cy="810.28" r="1.35"/>
<circle cx="596.89" cy="810.85" r="1.35"/>
<circle cx="598.69" cy="813.06" r="1.35"/>
<circle cx="595.63" cy="812.73" r="1.35"/>
<circle cx="601.92" cy="810.9" r="1.35"/>
<circle cx="594.3" cy="810.48" r="1.35"/>
<circle cx="587.02" cy="811.39" r="1.35"/>
<circle cx="603.93" cy="810.83" r="1.35"/>
<circle cx="584" cy="812.61" r="1.35"/>
<circle cx="572.73" cy="804.74" r="1.35"/>
<circle cx="573.97" cy="807.11" r="1.35"/>
<circle cx="591.52" cy="814.4" r="1.35"/>
<circle cx="594.56" cy="814.01" r="1.35"/>
<circle cx="579.11" cy="812.34" r="1.35"/>
<circle cx="594.39" cy="814.31" r="1.35"/>
<circle cx="592.15" cy="813.1" r="1.35"/>
<circle cx="606.59" cy="809.37" r="1.35"/>
<circle cx="578.33" cy="810.8" r="1.35"/>
<circle cx="599.55" cy="812.02" r="1.35"/>
<circle cx="592.86" cy="814.25" r="1.35"/>
<circle cx="577.12" cy="809.57" r="1.35"/>
<circle cx="576.72" cy="808.08" r="1.35"/>
<circle cx="574.26" cy="809.02" r="1.35"/>
<circle cx="570.91" cy="807.56" r="1.35"/>
<circle cx="603.8" cy="810.77" r="1.35"/>
<circle cx="573.24" cy="809.01" r="1.35"/>
<circle cx="601.38" cy="811.95" r="1.35"/>
<circle cx="593.28" cy="811.89" r="1.35"/>
<circle cx="602.98" cy="807.7" r="1.35"/>
<circle cx="583.09" cy="812.53" r="1.35"/>
<circle cx="574.2" cy="809.69" r="1.35"/>
<circle cx="601.61" cy="807.77" r="1.35"/>
<circle cx="577.79" cy="810.39" r="1.35"/>
<circle cx="590.4" cy="810.77" r="1.35"/>
<circle cx="572.92" cy="809.8" r="1.35"/>
<circle cx="583.1" cy="813.97" r="1.35"/>
<circle cx="590.91" cy="815.3" r="1.35"/>
<circle cx="597.82" cy="810.04" r="1.35"/>
<circle cx="592.92" cy="813.12" r="1.35"/>
<circle cx="578.1" cy="807.77" r="1.35"/>
<circle cx="582.68" cy="807.08" r="1.35"/>
<circle cx="586.3" cy="813.73" r="1.35"/>
<circle cx="576.25" cy="811.69" r="1.35"/>
<circle cx="605.22" cy="809.48" r="1.35"/>
<circle cx="607.33" cy="803.04" r="1.35"/>
<circle cx="593.16" cy="811.73" r="1.35"/>
<circle cx="585.84" cy="813.96" r="1.35"/>
<circle cx="605.87" cy="804.01" r="1.35"/>
<circle cx="588.32" cy="811.41" r="1.35"/>
<circle cx="599.26" cy="804.77" r="1.35"/>
<circle cx="604.82" cy="804.96" r="1.35"/>
<circle cx="581.05" cy="812.87" r="1.35"/>
<circle cx="573.63" cy="810.54" r="1.35"/>
<circle cx="597.33" cy="813.03" r="1.35"/>
<circle cx="594.19" cy="811.41" r="1.35"/>
<circle cx="571.53" cy="809.88" r="1.35"/>
<circle cx="586.36" cy="813.14" r="1.35"/>
<circle cx="583.04" cy="814.86" r="1.35"/>
<circle cx="580.87" cy="809.63" r="1.35"/>
<circle cx="573.91" cy="810.54" r="1.35"/>
<circle cx="572.93" cy="807.96" r="1.35"/>
<circle cx="575.8" cy="812.15" r="1.35"/>
<circle cx="606.94" cy="804.69" r="1.35"/>
<circle cx="607.06" cy="807.17" r="1.35"/>
<circle cx="576.1" cy="810.65" r="1.35"/>
<circle cx="581.8" cy="811.27" r="1.35"/>
<circle cx="590.51" cy="814.62" r="1.35"/>
<circle cx="583.61" cy="813.74" r="1.35"/>
<circle cx="587.52" cy="813.63" r="1.35"/>
<circle cx="603.55" cy="810.44" r="1.35"/>
<circle cx="579.18" cy="811.66" r="1.35"/>
<circle cx="600.52" cy="811.22" r="1.35"/>
<circle cx="590.08" cy="815.39" r="1.35"/>
<circle cx="590.27" cy="814.99" r="1.35"/>
<circle cx="577.72" cy="812.59" r="1.35"/>
<circle cx="599.13" cy="805.26" r="1.35"/>
<circle cx="599.72" cy="811.37" r="1.35"/>
<circle cx="607.05" cy="807.37" r="1.35"/>
<circle cx="570.5" cy="808.79" r="1.35"/>
<circle cx="586.36" cy="815.03" r="1.35"/>
<circle cx="590.66" cy="814.62" r="1.35"/>
<circle cx="573.55" cy="810.41" r="1.35"/>
<circle cx="600.35" cy="810.8" r="1.35"/>
<circle cx="585.82" cy="815.44" r="1.35"/>
<circle cx="586.25" cy="814.64" r="1.35"/>
<circle cx="593.74" cy="811.99" r="1.35"/>
<circle cx="600.59" cy="806.9" r="1.35"/>
<circle cx="579.36" cy="810.76" r="1.35"/>
<circle cx="599.87" cy="809.3" r="1.35"/>
<circle cx="589.25" cy="813.7" r="1.35"/>
<circle cx="580.58" cy="811.18" r="1.35"/>
<circle cx="576.38" cy="808.56" r="1.35"/>
<circle cx="603.94" cy="810.66" r="1.35"/>
<circle cx="604.28" cy="806.6" r="1.35"/>
<circle cx="605.13" cy="809.53" r="1.35"/>
<circle cx="600.8" cy="810.22" r="1.35"/>
<circle cx="589.61" cy="813.67" r="1.35"/>
<circle cx="576.46" cy="811" r="1.35"/>
<circle cx="607.54" cy="804.78" r="1.35"/>
<circle cx="590.7" cy="813.11" r="1.35"/>
<circle cx="587.21" cy="814.06" r="1.35"/>
<circle cx="600.38" cy="805.65" r="1.35"/>
<circle cx="575.88" cy="810.34" r="1.35"/>
<circle cx="581.91" cy="811.8" r="1.35"/>
<circle cx="602.2" cy="811.6" r="1.35"/>
<circle cx="601.31" cy="808.72" r="1.35"/>
<circle cx="571.16" cy="807.97" r="1.35"/>
<circle cx="591.74" cy="812.03" r="1.35"/>
<circle cx="580.59" cy="813.42" r="1.35"/>
<circle cx="596.84" cy="813" r="1.35"/>
<circle cx="595.3" cy="813.88" r="1.35"/>
<circle cx="584.05" cy="808.97" r="1.35"/>
<circle cx="606.33" cy="809.1" r="1.35"/>
<circle cx="594.35" cy="812.57" r="1.35"/>
<circle cx="576.85" cy="806.72" r="1.35"/>
<circle cx="584.5" cy="814.13" r="1.35"/>
<circle cx="580.25" cy="812.08" r="1.35"/>
<circle cx="605.94" cy="807.49" r="1.35"/>
<circle cx="584.85" cy="814.5" r="1.35"/>
<circle cx="580.67" cy="812.97" r="1.35"/>
<circle cx="607.08" cy="807.54" r="1.35"/>
<circle cx="573" cy="810.67" r="1.35"/>
<circle cx="573.01" cy="808.95" r="1.35"/>
<circle cx="589.91" cy="815.25" r="1.35"/>
<circle cx="593.88" cy="809.26" r="1.35"/>
<circle cx="600.94" cy="810.19" r="1.35"/>
<circle cx="606.36" cy="809.59" r="1.35"/>
<circle cx="572.62" cy="810.3" r="1.35"/>
<circle cx="580.13" cy="810.93" r="1.35"/>
<circle cx="590.66" cy="813.35" r="1.35"/>
<circle cx="606.23" cy="809.12" r="1.35"/>
<circle cx="575.46" cy="810.79" r="1.35"/>
<circle cx="607.56" cy="807.84" r="1.35"/>
<circle cx="595.52" cy="813.56" r="1.35"/>
<circle cx="572.06" cy="808.99" r="1.35"/>
<circle cx="598.73" cy="812.66" r="1.35"/>
<circle cx="601.13" cy="810.8" r="1.35"/>
<circle cx="603.1" cy="804.33" r="1.35"/>
<circle cx="590.23" cy="813.19" r="1.35"/>
<circle cx="584.47" cy="813.03" r="1.35"/>
<circle cx="607.36" cy="807.17" r="1.35"/>
<circle cx="580.62" cy="813.36" r="1.35"/>
<circle cx="574.8" cy="810.76" r="1.35"/>
<circle cx="583.33" cy="814.13" r="1.35"/>
<circle cx="577.26" cy="812.61" r="1.35"/>
<circle cx="605.54" cy="801.85" r="1.35"/>
<circle cx="579.3" cy="813.89" r="1.35"/>
<circle cx="583.41" cy="811.9" r="1.35"/>
<circle cx="596.61" cy="813.2" r="1.35"/>
<circle cx="581.85" cy="812.11" r="1.35"/>
<circle cx="598.31" cy="813.32" r="1.35"/>
<circle cx="599.58" cy="810.17" r="1.35"/>
<circle cx="590.36" cy="814.07" r="1.35"/>
<circle cx="586.73" cy="810.05" r="1.35"/>
<circle cx="577.58" cy="812.15" r="1.35"/>
<circle cx="592.48" cy="809.92" r="1.35"/>
<circle cx="576.79" cy="810.63" r="1.35"/>
<circle cx="606.45" cy="808.65" r="1.35"/>
<circle cx="580.06" cy="812.78" r="1.35"/>
<circle cx="577.66" cy="805.59" r="1.35"/>
<circle cx="585.48" cy="812.77" r="1.35"/>
<circle cx="603.02" cy="811.23" r="1.35"/>
<circle cx="602.91" cy="811.34" r="1.35"/>
<circle cx="600.04" cy="808.48" r="1.35"/>
<circle cx="589.87" cy="815.26" r="1.35"/>
<circle cx="598.98" cy="810.33" r="1.35"/>
<circle cx="586.69" cy="813.51" r="1.35"/>
<circle cx="575.54" cy="810.26" r="1.35"/>
<circle cx="589.16" cy="813.99" r="1.35"/>
<circle cx="584.13" cy="814.13" r="1.35"/>
<circle cx="592.74" cy="812.6" r="1.35"/>
<circle cx="607.1" cy="803.73" r="1.35"/>
<circle cx="601.6" cy="809.99" r="1.35"/>
<circle cx="580.85" cy="812.22" r="1.35"/>
<circle cx="574.66" cy="811.56" r="1.35"/>
<circle cx="588.95" cy="815.25" r="1.35"/>
<circle cx="594.41" cy="812.12" r="1.35"/>
<circle cx="580.68" cy="811.3" r="1.35"/>
<circle cx="588.08" cy="814.9" r="1.35"/>
<circle cx="590.11" cy="809.3" r="1.35"/>
<circle cx="589.99" cy="809.3" r="1.35"/>
<circle cx="586.71" cy="814.72" r="1.35"/>
<circle cx="586.1" cy="814.76" r="1.35"/>
<circle cx="602.06" cy="811.91" r="1.35"/>
<circle cx="602.33" cy="810.93" r="1.35"/>
<circle cx="584.53" cy="812.53" r="1.35"/>
<circle cx="578.12" cy="813.26" r="1.35"/>
<circle cx="590.76" cy="813.07" r="1.35"/>
<circle cx="602.82" cy="809.6" r="1.35"/>
<circle cx="596.91" cy="812.53" r="1.35"/>
<circle cx="589.12" cy="813.62" r="1.35"/>
<circle cx="585.1" cy="812.41" r="1.35"/>
<circle cx="603.11" cy="808.45" r="1.35"/>
<circle cx="592.11" cy="813.98" r="1.35"/>
<circle cx="584.03" cy="813.61" r="1.35"/>
<circle cx="593.26" cy="814.28" r="1.35"/>
<circle cx="582.13" cy="813.96" r="1.35"/>
<circle cx="580.71" cy="810.87" r="1.35"/>
<circle cx="604.86" cy="809.91" r="1.35"/>
<circle cx="590.22" cy="815.04" r="1.35"/>
<circle cx="601.69" cy="806.69" r="1.35"/>
<circle cx="604.54" cy="806.56" r="1.35"/>
<circle cx="574.57" cy="810.23" r="1.35"/>
<circle cx="603.29" cy="809.02" r="1.35"/>
<circle cx="603.68" cy="808.91" r="1.35"/>
<circle cx="580.85" cy="812.51" r="1.35"/>
<circle cx="592.66" cy="810.01" r="1.35"/>
<circle cx="573.21" cy="808.32" r="1.35"/>
<circle cx="570.28" cy="808.56" r="1.35"/>
<circle cx="601.49" cy="811.39" r="1.35"/>
<circle cx="584.71" cy="813.2" r="1.35"/>
<circle cx="589.36" cy="811.71" r="1.35"/>
<circle cx="594.96" cy="812.96" r="1.35"/>
<circle cx="586.5" cy="808.75" r="1.35"/>
<circle cx="596.15" cy="809.63" r="1.35"/>
<circle cx="573.16" cy="806.36" r="1.35"/>
<circle cx="607.52" cy="807.12" r="1.35"/>
<circle cx="572.5" cy="807.19" r="1.35"/>
<circle cx="585.97" cy="815.31" r="1.35"/>
<circle cx="603.84" cy="809.93" r="1.35"/>
<circle cx="585.84" cy="813.13" r="1.35"/>
<circle cx="592.05" cy="813.77" r="1.35"/>
<circle cx="584.83" cy="814.06" r="1.35"/>
<circle cx="573.35" cy="810.7" r="1.35"/>
<circle cx="605.38" cy="809.75" r="1.35"/>
<circle cx="589.81" cy="814.38" r="1.35"/>
<circle cx="578.79" cy="813.29" r="1.35"/>
<circle cx="587.74" cy="813.26" r="1.35"/>
<circle cx="580.77" cy="811.63" r="1.35"/>
<circle cx="607.16" cy="807.23" r="1.35"/>
<circle cx="577.66" cy="810.29" r="1.35"/>
<circle cx="581.3" cy="813.4" r="1.35"/>
<circle cx="590.11" cy="814.55" r="1.35"/>
<circle cx="593.46" cy="811.9" r="1.35"/>
<circle cx="604.43" cy="806.81" r="1.35"/>
<circle cx="602.44" cy="811.75" r="1.35"/>
<circle cx="572.26" cy="808.44" r="1.35"/>
<circle cx="586.38" cy="814.79" r="1.35"/>
<circle cx="602.97" cy="809.82" r="1.35"/>
<circle cx="578.17" cy="810.51" r="1.35"/>
<circle cx="574.53" cy="805.53" r="1.35"/>
<circle cx="604.56" cy="809.12" r="1.35"/>
<circle cx="577.05" cy="811.89" r="1.35"/>
<circle cx="571.43" cy="806.94" r="1.35"/>
<circle cx="602.21" cy="811.99" r="1.35"/>
<circle cx="601.52" cy="809.52" r="1.35"/>
<circle cx="584.72" cy="814.32" r="1.35"/>
<circle cx="576.72" cy="812.96" r="1.35"/>
<circle cx="596.26" cy="812.02" r="1.35"/>
<circle cx="575.16" cy="794.94" r="1.35"/>
<circle cx="613.34" cy="795.86" r="1.35"/>
<circle cx="606.11" cy="788.41" r="1.35"/>
<circle cx="571.15" cy="800.45" r="1.35"/>
<circle cx="568.28" cy="802.17" r="1.35"/>
<circle cx="566.56" cy="806.18" r="1.35"/>
<circle cx="607.83" cy="801.59" r="1.35"/>
<circle cx="610.7" cy="805.03" r="1.35"/>
<circle cx="604.39" cy="792.42" r="1.35"/>
</g>
<g fill="#ff9407">
<circle cx="606.92" cy="628.47" r="2.6"/>
<circle cx="602.9" cy="692.68" r="2.6"/>
<circle cx="602.9" cy="711.36" r="2.6"/>
<circle cx="602.67" cy="725.92" r="2.6"/>
<circle cx="605.54" cy="726.5" r="2.6"/>
<circle cx="599.01" cy="734.29" r="2.6"/>
<circle cx="601.53" cy="739.11" r="2.6"/>
<circle cx="606.69" cy="754.01" r="2.6"/>
<circle cx="595.8" cy="754.59" r="2.6"/>
<circle cx="595.8" cy="758.03" r="2.6"/>
<circle cx="603.25" cy="758.03" r="2.6"/>
<circle cx="595.8" cy="763.76" r="2.6"/>
<circle cx="603.25" cy="764.33" r="2.6"/>
<circle cx="592.93" cy="767.2" r="2.6"/>
<circle cx="594.99" cy="764.9" r="2.6"/>
<circle cx="606.11" cy="770.06" r="2.6"/>
<circle cx="599.24" cy="770.64" r="2.6"/>
<circle cx="594.08" cy="772.36" r="2.6"/>
<circle cx="605.54" cy="773.5" r="2.6"/>
<circle cx="599.81" cy="774.08" r="2.6"/>
<circle cx="603.82" cy="776.37" r="2.6"/>
<circle cx="595.22" cy="778.09" r="2.6"/>
<circle cx="597.52" cy="779.81" r="2.6"/>
<circle cx="600.95" cy="779.24" r="2.6"/>
<circle cx="592.93" cy="780.96" r="2.6"/>
<circle cx="596.37" cy="782.1" r="2.6"/>
<circle cx="599.81" cy="782.68" r="2.6"/>
<circle cx="602.1" cy="782.1" r="2.6"/>
<circle cx="594.08" cy="783.25" r="2.6"/>
<circle cx="591.78" cy="784.97" r="2.6"/>
<circle cx="595.8" cy="784.39" r="2.6"/>
<circle cx="599.24" cy="784.39" r="2.6"/>
<circle cx="601.53" cy="783.82" r="2.6"/>
<circle cx="645.21" cy="784.39" r="2.6"/>
</g>
<!-- panel_e2 -->
<defs>
<clipPath id="vN">
<ellipse cx="776.3" cy="656.4" rx="89.1" ry="91.8" />
</clipPath>
<clipPath id="vB">
<ellipse cx="847.4" cy="659" rx="89.1" ry="91.8" />
</clipPath>
<clipPath id="vH">
<ellipse cx="846.9" cy="748.3" rx="89.1" ry="91.8" />
</clipPath>
</defs>
<ellipse cx="846.9" cy="748.3" rx="89.1" ry="91.8" fill="#ffe4c9"/>
<ellipse cx="847.4" cy="659" rx="89.1" ry="91.8" fill="#ecaa8a"/>
<g clip-path="url(#vH)">
<ellipse cx="847.4" cy="659" rx="89.1" ry="91.8" fill="#f3a870"/>
</g>
<ellipse cx="776.3" cy="656.4" rx="89.1" ry="91.8" fill="#d4d4d4"/>
<g clip-path="url(#vB)">
<ellipse cx="776.3" cy="656.4" rx="89.1" ry="91.8" fill="#c99981"/>
</g>
<g clip-path="url(#vH)">
<ellipse cx="776.3" cy="656.4" rx="89.1" ry="91.8" fill="#dac8b2"/>
</g>
<g clip-path="url(#vH)">
<g clip-path="url(#vB)">
<ellipse cx="776.3" cy="656.4" rx="89.1" ry="91.8" fill="#cd9771"/>
</g>
</g>
<ellipse cx="847.4" cy="659" rx="89.1" ry="91.8" fill="none" stroke="#cf6a42" stroke-width="1.8" stroke-opacity="0.9"/>
<ellipse cx="846.9" cy="748.3" rx="89.1" ry="91.8" fill="none" stroke="#f7981d" stroke-width="1.8"/>
<ellipse cx="776.3" cy="656.4" rx="89.1" ry="91.8" fill="none" stroke="#454545" stroke-width="2"/>
<text x="704.04" y="630.1" font-size="21" textLength="46.83" lengthAdjust="spacingAndGlyphs">NCD</text>
<text x="850.13" y="600.88" font-size="21" textLength="41.22" lengthAdjust="spacingAndGlyphs">BFD</text>
<text x="784.09" y="645.31" font-size="21" textLength="22.01" lengthAdjust="spacingAndGlyphs">13</text>
<text x="896.16" y="654.91" font-size="21" textLength="12.81" lengthAdjust="spacingAndGlyphs">9</text>
<text x="723.25" y="686.13" font-size="21" textLength="12.81" lengthAdjust="spacingAndGlyphs">9</text>
<text x="799.3" y="700.14" font-size="21" textLength="16.81" lengthAdjust="spacingAndGlyphs">11</text>
<text x="872.14" y="714.95" font-size="21" textLength="12.81" lengthAdjust="spacingAndGlyphs">8</text>
<text x="765.28" y="738.16" font-size="21" textLength="12.81" lengthAdjust="spacingAndGlyphs">3</text>
<text x="826.11" y="777.39" font-size="21" textLength="26.02" lengthAdjust="spacingAndGlyphs">23</text>
<text x="812.1" y="813.01" font-size="21" textLength="69.24" lengthAdjust="spacingAndGlyphs">HFD<tspan font-size="13.65" dy="6.3">lard</tspan><tspan dy="-6.3">&#8203;</tspan></text>
<!-- panel_f -->
<text x="1004.6" y="536.3" font-size="38" textLength="14.6" lengthAdjust="spacingAndGlyphs" font-weight="bold" stroke="#000" stroke-width="1.7" stroke-linejoin="round">f</text>
<line x1="1135.26" y1="571.59" x2="1135.26" y2="824.8" stroke="#1a1a1a" stroke-width="1.45"/>
<line x1="1128.86" y1="572.31" x2="1135.26" y2="572.31" stroke="#1a1a1a" stroke-width="1.45"/>
<text x="1122.06" y="578.62" font-size="18.29" text-anchor="end" textLength="22.18" lengthAdjust="spacingAndGlyphs">38</text>
<line x1="1128.86" y1="655.53" x2="1135.26" y2="655.53" stroke="#1a1a1a" stroke-width="1.45"/>
<text x="1122.06" y="661.84" font-size="18.29" text-anchor="end" textLength="22.18" lengthAdjust="spacingAndGlyphs">37</text>
<line x1="1128.86" y1="740.16" x2="1135.26" y2="740.16" stroke="#1a1a1a" stroke-width="1.45"/>
<text x="1122.06" y="746.46" font-size="18.29" text-anchor="end" textLength="22.18" lengthAdjust="spacingAndGlyphs">36</text>
<line x1="1128.86" y1="824.08" x2="1135.26" y2="824.08" stroke="#1a1a1a" stroke-width="1.45"/>
<text x="1122.06" y="830.39" font-size="18.29" text-anchor="end" textLength="22.18" lengthAdjust="spacingAndGlyphs">35</text>
<text font-size="22" text-anchor="middle" textLength="234.14" lengthAdjust="spacingAndGlyphs" transform="translate(1080.77 698.14) rotate(-90)">iBAT temperature (°C)</text>
<rect x="1144.15" y="708" width="18.62" height="116.08" fill="#a0a0a0"/>
<rect x="1172.07" y="694.32" width="18.9" height="129.76" fill="#000"/>
<rect x="1216.08" y="700.38" width="18.9" height="123.7" fill="#eba286"/>
<rect x="1243.86" y="647.91" width="19.18" height="176.16" fill="#d9420b"/>
<line x1="1153.31" y1="697.42" x2="1153.31" y2="708" stroke="#a0a0a0" stroke-width="1.1"/>
<line x1="1150.71" y1="697.42" x2="1155.91" y2="697.42" stroke="#a0a0a0" stroke-width="1.1"/>
<line x1="1181.1" y1="680.63" x2="1181.1" y2="694.32" stroke="#222" stroke-width="1.1"/>
<line x1="1178.5" y1="680.63" x2="1183.7" y2="680.63" stroke="#222" stroke-width="1.1"/>
<line x1="1225.25" y1="682.33" x2="1225.25" y2="700.38" stroke="#eba286" stroke-width="1.1"/>
<line x1="1221.05" y1="682.33" x2="1229.45" y2="682.33" stroke="#eba286" stroke-width="1.1"/>
<line x1="1253.46" y1="631.97" x2="1253.46" y2="647.91" stroke="#d9420b" stroke-width="1.1"/>
<line x1="1249.26" y1="631.97" x2="1257.66" y2="631.97" stroke="#d9420b" stroke-width="1.1"/>
<line x1="1158.82" y1="630.85" x2="1186.6" y2="604.33" stroke="#1c1c1c" stroke-width="1"/>
<line x1="1158.82" y1="634.09" x2="1186.6" y2="652" stroke="#1c1c1c" stroke-width="1"/>
<line x1="1158.82" y1="654.82" x2="1186.6" y2="677.39" stroke="#1c1c1c" stroke-width="1"/>
<line x1="1158.82" y1="656.94" x2="1186.6" y2="690.79" stroke="#1c1c1c" stroke-width="1"/>
<line x1="1158.82" y1="676.69" x2="1186.6" y2="592.48" stroke="#1c1c1c" stroke-width="1"/>
<line x1="1158.82" y1="676.69" x2="1186.6" y2="683.03" stroke="#1c1c1c" stroke-width="1"/>
<line x1="1158.82" y1="687.97" x2="1186.6" y2="646.08" stroke="#1c1c1c" stroke-width="1"/>
<line x1="1158.82" y1="687.97" x2="1186.6" y2="668.93" stroke="#1c1c1c" stroke-width="1"/>
<line x1="1158.82" y1="710.25" x2="1186.6" y2="652" stroke="#1c1c1c" stroke-width="1"/>
<line x1="1158.82" y1="713.36" x2="1186.6" y2="732.4" stroke="#1c1c1c" stroke-width="1"/>
<line x1="1158.82" y1="724.64" x2="1186.6" y2="672.45" stroke="#1c1c1c" stroke-width="1"/>
<line x1="1158.82" y1="724.64" x2="1186.6" y2="744.39" stroke="#1c1c1c" stroke-width="1"/>
<line x1="1158.82" y1="755.67" x2="1186.6" y2="698.12" stroke="#1c1c1c" stroke-width="1"/>
<line x1="1158.82" y1="758.49" x2="1186.6" y2="783.88" stroke="#1c1c1c" stroke-width="1"/>
<line x1="1231.17" y1="626.61" x2="1258.96" y2="597" stroke="#1c1c1c" stroke-width="1"/>
<line x1="1231.17" y1="638.6" x2="1258.96" y2="606.16" stroke="#1c1c1c" stroke-width="1"/>
<line x1="1231.17" y1="699.25" x2="1258.96" y2="689.38" stroke="#1c1c1c" stroke-width="1"/>
<line x1="1231.17" y1="705.6" x2="1258.96" y2="690.79" stroke="#1c1c1c" stroke-width="1"/>
<line x1="1231.17" y1="728.17" x2="1258.96" y2="692.2" stroke="#1c1c1c" stroke-width="1"/>
<line x1="1231.17" y1="738.74" x2="1258.96" y2="616.32" stroke="#1c1c1c" stroke-width="1"/>
<line x1="1231.17" y1="745.8" x2="1258.96" y2="638.6" stroke="#1c1c1c" stroke-width="1"/>
<g fill="#e0e0e0" fill-opacity="0.8">
<circle cx="1158.82" cy="630.85" r="2.7"/>
<circle cx="1158.82" cy="634.09" r="2.7"/>
<circle cx="1158.82" cy="654.82" r="2.7"/>
<circle cx="1158.82" cy="656.94" r="2.7"/>
<circle cx="1158.82" cy="676.69" r="2.7"/>
<circle cx="1158.82" cy="687.97" r="2.7"/>
<circle cx="1158.82" cy="690.51" r="2.7"/>
<circle cx="1158.82" cy="710.25" r="2.7"/>
<circle cx="1158.82" cy="713.36" r="2.7"/>
<circle cx="1158.82" cy="724.64" r="2.7"/>
<circle cx="1158.82" cy="755.67" r="2.7"/>
<circle cx="1158.82" cy="758.49" r="2.7"/>
</g>
<g fill="#7a7a7a" fill-opacity="0.9">
<circle cx="1186.6" cy="592.48" r="2.7"/>
<circle cx="1186.6" cy="604.33" r="2.7"/>
<circle cx="1186.6" cy="646.08" r="2.7"/>
<circle cx="1186.6" cy="652" r="2.7"/>
<circle cx="1186.6" cy="654.82" r="2.7"/>
<circle cx="1186.6" cy="668.93" r="2.7"/>
<circle cx="1186.6" cy="672.45" r="2.7"/>
<circle cx="1186.6" cy="677.39" r="2.7"/>
<circle cx="1186.6" cy="683.03" r="2.7"/>
<circle cx="1186.6" cy="690.79" r="2.7"/>
</g>
<g fill="#555">
<circle cx="1186.6" cy="698.12" r="2.7"/>
<circle cx="1186.6" cy="732.4" r="2.7"/>
<circle cx="1186.6" cy="744.39" r="2.7"/>
<circle cx="1186.6" cy="783.88" r="2.7"/>
</g>
<g fill="#f9b4b4" fill-opacity="0.9">
<circle cx="1231.17" cy="626.61" r="2.5"/>
<circle cx="1231.17" cy="638.6" r="2.5"/>
</g>
<g fill="#f49a8c" fill-opacity="0.8">
<circle cx="1231.17" cy="699.25" r="2.5"/>
<circle cx="1231.17" cy="705.6" r="2.5"/>
<circle cx="1231.17" cy="728.17" r="2.5"/>
<circle cx="1231.17" cy="738.74" r="2.5"/>
<circle cx="1231.17" cy="745.8" r="2.5"/>
</g>
<g fill="#f88c8c" fill-opacity="0.95">
<circle cx="1258.96" cy="597" r="2.7"/>
<circle cx="1258.96" cy="606.16" r="2.7"/>
<circle cx="1258.96" cy="616.32" r="2.7"/>
<circle cx="1258.96" cy="638.6" r="2.7"/>
<circle cx="1258.96" cy="685.85" r="2.7"/>
<circle cx="1258.96" cy="689.38" r="2.7"/>
<circle cx="1258.96" cy="692.2" r="2.7"/>
</g>
<line x1="1147.25" y1="553.27" x2="1267.14" y2="553.27" stroke="#000" stroke-width="0.9"/>
<text x="1207.9" y="556.92" font-size="30.43" text-anchor="middle">*</text>
<line x1="1219.61" y1="587.83" x2="1254.87" y2="587.83" stroke="#000" stroke-width="1.5"/>
<text x="1237.52" y="592.61" font-size="30.43" text-anchor="middle">*</text>
<text x="1153.51" y="848.81" font-size="17" text-anchor="middle">−</text>
<text x="1181.13" y="848.81" font-size="17" text-anchor="middle">+</text>
<text x="1225.55" y="848.81" font-size="17" text-anchor="middle">−</text>
<text x="1253.17" y="848.81" font-size="17" text-anchor="middle">+</text>
<line x1="1148.31" y1="853.03" x2="1192.33" y2="853.03" stroke="#222" stroke-width="1.2"/>
<line x1="1220.35" y1="853.03" x2="1265.18" y2="853.03" stroke="#222" stroke-width="1.2"/>
<text x="1140.3" y="876.25" font-size="19" textLength="60.84" lengthAdjust="spacingAndGlyphs">NCD<tspan font-size="12.35" dy="5.7">dev</tspan><tspan dy="-5.7">&#8203;</tspan></text>
<text x="1215.15" y="876.25" font-size="19" textLength="55.23" lengthAdjust="spacingAndGlyphs">BFD<tspan font-size="12.35" dy="5.7">dev</tspan><tspan dy="-5.7">&#8203;</tspan></text>
<text x="974.2" y="852.23" font-size="23" textLength="140.08" lengthAdjust="spacingAndGlyphs">HFD<tspan font-size="14.95" dy="6.9">lard</tspan><tspan dy="-6.9">&#8203;</tspan> odour</text>
<!-- panel_g -->
<text x="1363.64" y="536.3" font-size="38" textLength="25.6" lengthAdjust="spacingAndGlyphs" font-weight="bold" stroke="#000" stroke-width="1.7" stroke-linejoin="round">g</text>
<line x1="1453.3" y1="571.74" x2="1453.3" y2="824.54" stroke="#1a1a1a" stroke-width="1.45"/>
<line x1="1446.9" y1="572.46" x2="1453.3" y2="572.46" stroke="#1a1a1a" stroke-width="1.45"/>
<text x="1440.1" y="578.77" font-size="18.29" text-anchor="end" textLength="10.98" lengthAdjust="spacingAndGlyphs">3</text>
<line x1="1446.9" y1="656.11" x2="1453.3" y2="656.11" stroke="#1a1a1a" stroke-width="1.45"/>
<text x="1440.1" y="662.42" font-size="18.29" text-anchor="end" textLength="10.98" lengthAdjust="spacingAndGlyphs">2</text>
<line x1="1446.9" y1="740.16" x2="1453.3" y2="740.16" stroke="#1a1a1a" stroke-width="1.45"/>
<text x="1440.1" y="746.47" font-size="18.29" text-anchor="end">1</text>
<line x1="1446.9" y1="823.81" x2="1453.3" y2="823.81" stroke="#1a1a1a" stroke-width="1.45"/>
<text x="1440.1" y="830.12" font-size="18.29" text-anchor="end" textLength="10.98" lengthAdjust="spacingAndGlyphs">0</text>
<text font-size="22" text-anchor="middle" textLength="162.1" lengthAdjust="spacingAndGlyphs" transform="translate(1385.36 697.34) rotate(-90)">p-mTOR/mTOR</text>
<text font-size="22" text-anchor="middle" textLength="236.14" lengthAdjust="spacingAndGlyphs" transform="translate(1410.57 697.34) rotate(-90)">(rel. to NCD no odour)</text>
<rect x="1462.9" y="740.16" width="18.01" height="83.65" fill="#bcbcbc"/>
<rect x="1490.52" y="751.37" width="18.41" height="72.44" fill="#000"/>
<rect x="1532.54" y="738.16" width="18.01" height="85.65" fill="#eba286"/>
<rect x="1560.56" y="652.91" width="18.41" height="170.9" fill="#d9420b"/>
<line x1="1471.71" y1="736.96" x2="1471.71" y2="740.16" stroke="#bcbcbc" stroke-width="1.1"/>
<line x1="1469.11" y1="736.96" x2="1474.31" y2="736.96" stroke="#bcbcbc" stroke-width="1.1"/>
<line x1="1499.72" y1="736.16" x2="1499.72" y2="751.37" stroke="#222" stroke-width="1.1"/>
<line x1="1497.12" y1="736.16" x2="1502.32" y2="736.16" stroke="#222" stroke-width="1.1"/>
<line x1="1541.35" y1="730.16" x2="1541.35" y2="738.16" stroke="#f0703a" stroke-width="1.1"/>
<line x1="1537.15" y1="730.16" x2="1545.55" y2="730.16" stroke="#f0703a" stroke-width="1.1"/>
<line x1="1569.77" y1="638.5" x2="1569.77" y2="652.91" stroke="#d9420b" stroke-width="1.1"/>
<line x1="1565.57" y1="638.5" x2="1573.97" y2="638.5" stroke="#d9420b" stroke-width="1.1"/>
<g fill="#dcdcdc" fill-opacity="0.9">
<circle cx="1465.3" cy="732.96" r="2.5"/>
<circle cx="1471.71" cy="736.16" r="2.5"/>
<circle cx="1478.11" cy="736.16" r="2.5"/>
<circle cx="1468.51" cy="742.16" r="2.5"/>
<circle cx="1474.91" cy="743.37" r="2.5"/>
<circle cx="1471.71" cy="747.37" r="2.5"/>
</g>
<g fill="#999">
<circle cx="1494.52" cy="730.16" r="2.5"/>
<circle cx="1500.53" cy="729.76" r="2.5"/>
<circle cx="1506.53" cy="730.96" r="2.5"/>
</g>
<g fill="#555">
<circle cx="1499.72" cy="762.58" r="2.5"/>
<circle cx="1499.72" cy="803.4" r="2.5"/>
</g>
<g fill="#ff8c55">
<circle cx="1541.35" cy="715.75" r="2.5"/>
<circle cx="1536.15" cy="735.36" r="2.5"/>
<circle cx="1541.35" cy="730.96" r="2.5"/>
<circle cx="1547.35" cy="740.96" r="2.5"/>
<circle cx="1541.35" cy="766.58" r="2.5"/>
</g>
<g fill="#f88c8c">
<circle cx="1569.77" cy="616.89" r="2.5"/>
<circle cx="1569.77" cy="626.49" r="2.5"/>
</g>
<g fill="#f88c8c">
<circle cx="1569.77" cy="652.11" r="2.5"/>
<circle cx="1569.77" cy="675.32" r="2.5"/>
<circle cx="1569.77" cy="693.74" r="2.5"/>
</g>
<line x1="1536.15" y1="604.48" x2="1566.97" y2="604.48" stroke="#000" stroke-width="1.3"/>
<text x="1551.76" y="607.87" font-size="30.43" text-anchor="middle" textLength="36.64" lengthAdjust="spacingAndGlyphs">***</text>
<text x="1466.9" y="848.81" font-size="17" text-anchor="middle">−</text>
<text x="1494.52" y="848.81" font-size="17" text-anchor="middle">+</text>
<text x="1539.35" y="848.81" font-size="17" text-anchor="middle">−</text>
<text x="1566.57" y="848.81" font-size="17" text-anchor="middle">+</text>
<line x1="1461.3" y1="853.03" x2="1506.13" y2="853.03" stroke="#222" stroke-width="1.2"/>
<line x1="1533.35" y1="853.03" x2="1578.17" y2="853.03" stroke="#222" stroke-width="1.2"/>
<text x="1453.3" y="876.25" font-size="19" textLength="60.84" lengthAdjust="spacingAndGlyphs">NCD<tspan font-size="12.35" dy="5.7">dev</tspan><tspan dy="-5.7">&#8203;</tspan></text>
<text x="1528.14" y="876.25" font-size="19" textLength="56.03" lengthAdjust="spacingAndGlyphs">BFD<tspan font-size="12.35" dy="5.7">dev</tspan><tspan dy="-5.7">&#8203;</tspan></text>
<text x="1295.2" y="852.23" font-size="23" textLength="139.68" lengthAdjust="spacingAndGlyphs">HFD<tspan font-size="14.95" dy="6.9">lard</tspan><tspan dy="-6.9">&#8203;</tspan> odour</text>
<!-- panel_g2 -->
<defs><filter id="blur1" x="-20%" y="-60%" width="140%" height="220%"><feGaussianBlur stdDeviation="1.0 0.65"/></filter><filter id="blur2" x="-5%" y="-5%" width="110%" height="110%"><feGaussianBlur stdDeviation="1.2"/></filter></defs>
<text x="1664.02" y="633.02" font-size="22.5" textLength="72.44" lengthAdjust="spacingAndGlyphs">NCD<tspan font-size="14.62" dy="6.75">dev</tspan><tspan dy="-6.75">&#8203;</tspan></text>
<text x="1773.09" y="633.02" font-size="22.5" textLength="67.04" lengthAdjust="spacingAndGlyphs">BFD<tspan font-size="14.62" dy="6.75">dev</tspan><tspan dy="-6.75">&#8203;</tspan></text>
<line x1="1653.62" y1="648.03" x2="1746.67" y2="648.03" stroke="#333" stroke-width="1.1"/>
<line x1="1751.48" y1="648.03" x2="1861.74" y2="648.03" stroke="#333" stroke-width="1.1"/>
<rect x="1648.01" y="657.03" width="221.13" height="26.02" fill="#f6f6f6" filter="url(#blur2)"/>
<g filter="url(#blur1)">
<ellipse cx="1660.62" cy="668.04" rx="7.4" ry="1.73" fill="rgb(43,43,43)"/>
<ellipse cx="1680.43" cy="668.64" rx="7.4" ry="1.42" fill="rgb(149,149,149)"/>
<ellipse cx="1700.65" cy="668.64" rx="7.4" ry="1.49" fill="rgb(125,125,125)"/>
<ellipse cx="1721.46" cy="668.64" rx="7.4" ry="1.7" fill="rgb(55,55,55)"/>
<ellipse cx="1741.67" cy="669.04" rx="7.4" ry="1.59" fill="rgb(90,90,90)"/>
<ellipse cx="1762.08" cy="670.04" rx="7.4" ry="1.77" fill="rgb(31,31,31)"/>
<ellipse cx="1783.1" cy="669.44" rx="7.4" ry="1.73" fill="rgb(43,43,43)"/>
<ellipse cx="1803.71" cy="669.44" rx="7.4" ry="1.77" fill="rgb(31,31,31)"/>
<ellipse cx="1824.12" cy="668.44" rx="7.4" ry="1.59" fill="rgb(90,90,90)"/>
<ellipse cx="1845.13" cy="666.04" rx="7.4" ry="1.52" fill="rgb(114,114,114)"/>
</g>
<rect x="1646.01" y="688.05" width="222.13" height="28.02" fill="#f6f6f6" filter="url(#blur2)"/>
<g filter="url(#blur1)">
<ellipse cx="1662.02" cy="703.66" rx="7.4" ry="1.49" fill="rgb(125,125,125)"/>
<ellipse cx="1681.43" cy="704.06" rx="7.4" ry="1.45" fill="rgb(137,137,137)"/>
<ellipse cx="1701.45" cy="704.06" rx="7.4" ry="1.49" fill="rgb(125,125,125)"/>
<ellipse cx="1722.06" cy="703.66" rx="7.4" ry="1.59" fill="rgb(90,90,90)"/>
<ellipse cx="1742.07" cy="704.06" rx="7.4" ry="1.56" fill="rgb(102,102,102)"/>
<ellipse cx="1762.48" cy="704.46" rx="7.4" ry="1.77" fill="rgb(31,31,31)"/>
<ellipse cx="1783.5" cy="703.66" rx="7.4" ry="1.66" fill="rgb(67,67,67)"/>
<ellipse cx="1804.11" cy="703.26" rx="7.4" ry="1.66" fill="rgb(67,67,67)"/>
<ellipse cx="1825.12" cy="701.66" rx="7.4" ry="1.63" fill="rgb(78,78,78)"/>
<ellipse cx="1845.73" cy="699.26" rx="7.4" ry="1.73" fill="rgb(43,43,43)"/>
</g>
<rect x="1647.01" y="737.08" width="222.13" height="27.02" fill="#f6f6f6" filter="url(#blur2)"/>
<g filter="url(#blur1)">
<ellipse cx="1664.62" cy="749.69" rx="7.4" ry="1.8" fill="rgb(20,20,20)"/>
<ellipse cx="1683.44" cy="749.69" rx="7.4" ry="1.63" fill="rgb(78,78,78)"/>
<ellipse cx="1702.65" cy="749.69" rx="7.4" ry="1.45" fill="rgb(137,137,137)"/>
<ellipse cx="1722.46" cy="749.69" rx="7.4" ry="1.52" fill="rgb(114,114,114)"/>
<ellipse cx="1742.47" cy="749.69" rx="7.4" ry="1.49" fill="rgb(125,125,125)"/>
<ellipse cx="1762.48" cy="749.69" rx="7.4" ry="1.49" fill="rgb(125,125,125)"/>
<ellipse cx="1783.1" cy="749.69" rx="7.4" ry="1.38" fill="rgb(161,161,161)"/>
<ellipse cx="1803.11" cy="749.29" rx="7.4" ry="1.45" fill="rgb(137,137,137)"/>
<ellipse cx="1823.52" cy="748.69" rx="7.4" ry="1.56" fill="rgb(102,102,102)"/>
<ellipse cx="1844.13" cy="747.69" rx="7.4" ry="1.77" fill="rgb(31,31,31)"/>
</g>
<rect x="1654.02" y="770.1" width="198.12" height="27.02" fill="#f6f6f6" filter="url(#blur2)"/>
<g filter="url(#blur1)">
<ellipse cx="1665.02" cy="780.51" rx="7.4" ry="1.42" fill="rgb(149,149,149)"/>
<ellipse cx="1684.04" cy="781.11" rx="7.4" ry="1.66" fill="rgb(67,67,67)"/>
<ellipse cx="1703.05" cy="781.11" rx="7.4" ry="1.66" fill="rgb(67,67,67)"/>
<ellipse cx="1722.46" cy="781.11" rx="7.4" ry="1.66" fill="rgb(67,67,67)"/>
<ellipse cx="1742.47" cy="781.11" rx="7.4" ry="1.66" fill="rgb(67,67,67)"/>
<ellipse cx="1762.48" cy="781.71" rx="7.4" ry="1.8" fill="rgb(20,20,20)"/>
<ellipse cx="1783.1" cy="781.71" rx="7.4" ry="1.7" fill="rgb(55,55,55)"/>
<ellipse cx="1803.11" cy="781.71" rx="7.4" ry="1.66" fill="rgb(67,67,67)"/>
<ellipse cx="1823.52" cy="781.11" rx="7.4" ry="1.66" fill="rgb(67,67,67)"/>
<ellipse cx="1844.13" cy="780.11" rx="7.4" ry="1.77" fill="rgb(31,31,31)"/>
</g>
<text x="1864.15" y="673.64" font-size="22" textLength="64.04" lengthAdjust="spacingAndGlyphs">mTOR</text>
<text x="1864.15" y="704.06" font-size="22" textLength="86.05" lengthAdjust="spacingAndGlyphs">p-mTOR</text>
<text x="1864.15" y="748.69" font-size="22" textLength="64.04" lengthAdjust="spacingAndGlyphs">mTOR</text>
<text x="1864.15" y="778.71" font-size="22" textLength="86.05" lengthAdjust="spacingAndGlyphs">p-mTOR</text>
<text x="1641.01" y="673.1" font-size="19" text-anchor="middle">−</text>
<text x="1641.01" y="710.12" font-size="19" text-anchor="middle">−</text>
<text x="1641.01" y="757.55" font-size="19" text-anchor="middle">+</text>
<text x="1641.01" y="786.97" font-size="19" text-anchor="middle">+</text>
<text x="1642.41" y="818.13" font-size="23" textLength="140.69" lengthAdjust="spacingAndGlyphs">HFD<tspan font-size="14.95" dy="6.9">lard</tspan><tspan dy="-6.9">&#8203;</tspan> odour</text>
<!-- panel_h -->
<text x="-0.4" y="978.3" font-size="38" textLength="24.6" lengthAdjust="spacingAndGlyphs" font-weight="bold" stroke="#000" stroke-width="1.7" stroke-linejoin="round">h</text>
<text x="152.09" y="988.03" font-size="21" textLength="59.24" lengthAdjust="spacingAndGlyphs">Dams</text>
<line x1="76.05" y1="1011.64" x2="106.06" y2="1011.64" stroke="#000" stroke-width="2.6"/>
<circle cx="91.06" cy="1011.64" r="4.2" fill="#000"/>
<text x="115.27" y="1017.25" font-size="18.5" textLength="38.82" lengthAdjust="spacingAndGlyphs">NCD</text>
<line x1="186.11" y1="1011.64" x2="216.13" y2="1011.64" stroke="#d9420b" stroke-width="2.6"/>
<circle cx="201.12" cy="1011.64" r="4.2" fill="#d9420b"/>
<text x="225.34" y="1017.25" font-size="18.5" textLength="34.02" lengthAdjust="spacingAndGlyphs">BFD</text>
<line x1="84.85" y1="1062.15" x2="84.85" y2="1306.95" stroke="#1a1a1a" stroke-width="1.45"/>
<line x1="79.25" y1="1062.87" x2="84.85" y2="1062.87" stroke="#1a1a1a" stroke-width="1.45"/>
<text x="71.45" y="1069.18" font-size="18.29" text-anchor="end" textLength="22.18" lengthAdjust="spacingAndGlyphs">50</text>
<line x1="79.25" y1="1111.7" x2="84.85" y2="1111.7" stroke="#1a1a1a" stroke-width="1.45"/>
<text x="71.45" y="1118.01" font-size="18.29" text-anchor="end" textLength="22.18" lengthAdjust="spacingAndGlyphs">40</text>
<line x1="79.25" y1="1160.53" x2="84.85" y2="1160.53" stroke="#1a1a1a" stroke-width="1.45"/>
<text x="71.45" y="1166.84" font-size="18.29" text-anchor="end" textLength="22.18" lengthAdjust="spacingAndGlyphs">30</text>
<line x1="79.25" y1="1208.96" x2="84.85" y2="1208.96" stroke="#1a1a1a" stroke-width="1.45"/>
<text x="71.45" y="1215.27" font-size="18.29" text-anchor="end" textLength="22.18" lengthAdjust="spacingAndGlyphs">20</text>
<line x1="79.25" y1="1257.79" x2="84.85" y2="1257.79" stroke="#1a1a1a" stroke-width="1.45"/>
<text x="71.45" y="1264.1" font-size="18.29" text-anchor="end" textLength="17.69" lengthAdjust="spacingAndGlyphs">10</text>
<line x1="79.25" y1="1306.22" x2="84.85" y2="1306.22" stroke="#1a1a1a" stroke-width="1.45"/>
<text x="71.45" y="1312.53" font-size="18.29" text-anchor="end" textLength="10.98" lengthAdjust="spacingAndGlyphs">0</text>
<line x1="102.86" y1="1314.23" x2="260.96" y2="1314.23" stroke="#222" stroke-width="1.3"/>
<line x1="102.86" y1="1309.82" x2="102.86" y2="1319.03" stroke="#222" stroke-width="1.3"/>
<line x1="168.5" y1="1309.82" x2="168.5" y2="1319.03" stroke="#222" stroke-width="1.3"/>
<line x1="260.96" y1="1309.82" x2="260.96" y2="1319.03" stroke="#222" stroke-width="1.3"/>
<text x="102.86" y="1341.44" font-size="17.5" text-anchor="middle">4</text>
<text x="168.5" y="1341.44" font-size="17.5" text-anchor="middle">19</text>
<text x="260.96" y="1341.44" font-size="17.5" text-anchor="middle">40</text>
<line x1="102.86" y1="1062.87" x2="102.86" y2="1308.62" stroke="#2a2a2a" stroke-width="1.7" stroke-dasharray="14.6 9.8"/>
<line x1="168.5" y1="1062.87" x2="168.5" y2="1308.62" stroke="#2a2a2a" stroke-width="1.7" stroke-dasharray="14.6 9.8"/>
<line x1="260.96" y1="1062.87" x2="260.96" y2="1308.62" stroke="#2a2a2a" stroke-width="1.7" stroke-dasharray="14.6 9.8"/>
<text font-size="17" textLength="96.06" lengthAdjust="spacingAndGlyphs" transform="translate(126.08 1305.02) rotate(-90)">Diet switch</text>
<text font-size="17" textLength="38.82" lengthAdjust="spacingAndGlyphs" transform="translate(196.12 1305.02) rotate(-90)">Birth</text>
<text font-size="17" textLength="74.85" lengthAdjust="spacingAndGlyphs" transform="translate(284.17 1305.02) rotate(-90)">Weaning</text>
<text font-size="22" text-anchor="middle" textLength="268.16" lengthAdjust="spacingAndGlyphs" transform="translate(28.52 1170.94) rotate(-90)">Maternal body weight (g)</text>
<text x="72.04" y="1373.06" font-size="22" textLength="234.54" lengthAdjust="spacingAndGlyphs">Days after conception</text>
<line x1="128.88" y1="1164.54" x2="128.88" y2="1168.54" stroke="#d9420b" stroke-width="1"/>
<line x1="126.28" y1="1164.54" x2="131.48" y2="1164.54" stroke="#d9420b" stroke-width="1"/>
<line x1="126.28" y1="1168.54" x2="131.48" y2="1168.54" stroke="#d9420b" stroke-width="1"/>
<line x1="146.49" y1="1148.33" x2="146.49" y2="1154.33" stroke="#d9420b" stroke-width="1"/>
<line x1="143.89" y1="1148.33" x2="149.09" y2="1148.33" stroke="#d9420b" stroke-width="1"/>
<line x1="143.89" y1="1154.33" x2="149.09" y2="1154.33" stroke="#d9420b" stroke-width="1"/>
<line x1="168.5" y1="1108.1" x2="168.5" y2="1116.1" stroke="#d9420b" stroke-width="1"/>
<line x1="165.9" y1="1108.1" x2="171.1" y2="1108.1" stroke="#d9420b" stroke-width="1"/>
<line x1="165.9" y1="1116.1" x2="171.1" y2="1116.1" stroke="#d9420b" stroke-width="1"/>
<line x1="207.73" y1="1136.92" x2="207.73" y2="1140.92" stroke="#d9420b" stroke-width="1"/>
<line x1="205.13" y1="1136.92" x2="210.33" y2="1136.92" stroke="#d9420b" stroke-width="1"/>
<line x1="205.13" y1="1140.92" x2="210.33" y2="1140.92" stroke="#d9420b" stroke-width="1"/>
<line x1="234.14" y1="1130.12" x2="234.14" y2="1134.12" stroke="#d9420b" stroke-width="1"/>
<line x1="231.54" y1="1130.12" x2="236.74" y2="1130.12" stroke="#d9420b" stroke-width="1"/>
<line x1="231.54" y1="1134.12" x2="236.74" y2="1134.12" stroke="#d9420b" stroke-width="1"/>
<line x1="247.75" y1="1141.13" x2="247.75" y2="1155.13" stroke="#d9420b" stroke-width="1"/>
<line x1="245.15" y1="1141.13" x2="250.35" y2="1141.13" stroke="#d9420b" stroke-width="1"/>
<line x1="245.15" y1="1155.13" x2="250.35" y2="1155.13" stroke="#d9420b" stroke-width="1"/>
<polyline points="102.86,1183.35 115.67,1174.14 128.88,1166.54 146.49,1151.33 168.5,1112.1 194.92,1145.32 207.73,1138.92 220.93,1136.52 234.14,1132.12 247.75,1148.13" fill="none" stroke="#d9420b" stroke-width="2.4" stroke-linejoin="round"/>
<g fill="#d9420b">
<circle cx="102.86" cy="1183.35" r="3.1"/>
<circle cx="115.67" cy="1174.14" r="3.1"/>
<circle cx="128.88" cy="1166.54" r="3.1"/>
<circle cx="146.49" cy="1151.33" r="3.1"/>
<circle cx="168.5" cy="1112.1" r="3.1"/>
<circle cx="194.92" cy="1145.32" r="3.1"/>
<circle cx="207.73" cy="1138.92" r="3.1"/>
<circle cx="220.93" cy="1136.52" r="3.1"/>
<circle cx="234.14" cy="1132.12" r="3.1"/>
<circle cx="247.75" cy="1148.13" r="3.1"/>
</g>
<line x1="102.86" y1="1174.54" x2="102.86" y2="1178.54" stroke="#000" stroke-width="1"/>
<line x1="100.26" y1="1174.54" x2="105.46" y2="1174.54" stroke="#000" stroke-width="1"/>
<line x1="100.26" y1="1178.54" x2="105.46" y2="1178.54" stroke="#000" stroke-width="1"/>
<line x1="146.49" y1="1140.32" x2="146.49" y2="1150.32" stroke="#000" stroke-width="1"/>
<line x1="143.89" y1="1140.32" x2="149.09" y2="1140.32" stroke="#000" stroke-width="1"/>
<line x1="143.89" y1="1150.32" x2="149.09" y2="1150.32" stroke="#000" stroke-width="1"/>
<line x1="168.5" y1="1098.9" x2="168.5" y2="1110.9" stroke="#000" stroke-width="1"/>
<line x1="165.9" y1="1098.9" x2="171.1" y2="1098.9" stroke="#000" stroke-width="1"/>
<line x1="165.9" y1="1110.9" x2="171.1" y2="1110.9" stroke="#000" stroke-width="1"/>
<line x1="207.73" y1="1135.92" x2="207.73" y2="1141.92" stroke="#000" stroke-width="1"/>
<line x1="205.13" y1="1135.92" x2="210.33" y2="1135.92" stroke="#000" stroke-width="1"/>
<line x1="205.13" y1="1141.92" x2="210.33" y2="1141.92" stroke="#000" stroke-width="1"/>
<line x1="247.75" y1="1143.33" x2="247.75" y2="1155.33" stroke="#000" stroke-width="1"/>
<line x1="245.15" y1="1143.33" x2="250.35" y2="1143.33" stroke="#000" stroke-width="1"/>
<line x1="245.15" y1="1155.33" x2="250.35" y2="1155.33" stroke="#000" stroke-width="1"/>
<polyline points="102.86,1176.54 115.67,1170.94 128.88,1160.13 146.49,1145.32 168.5,1104.9 194.92,1142.12 207.73,1138.92 220.93,1134.52 234.14,1129.31 247.75,1149.33" fill="none" stroke="#000" stroke-width="2.4" stroke-linejoin="round"/>
<g fill="#000">
<circle cx="102.86" cy="1176.54" r="3.1"/>
<circle cx="115.67" cy="1170.94" r="3.1"/>
<circle cx="128.88" cy="1160.13" r="3.1"/>
<circle cx="146.49" cy="1145.32" r="3.1"/>
<circle cx="168.5" cy="1104.9" r="3.1"/>
<circle cx="194.92" cy="1142.12" r="3.1"/>
<circle cx="207.73" cy="1138.92" r="3.1"/>
<circle cx="220.93" cy="1134.52" r="3.1"/>
<circle cx="234.14" cy="1129.31" r="3.1"/>
<circle cx="247.75" cy="1149.33" r="3.1"/>
</g>
<!-- panel_i -->
<text x="425.06" y="978.3" font-size="38" textLength="12.1" lengthAdjust="spacingAndGlyphs" font-weight="bold" stroke="#000" stroke-width="1.7" stroke-linejoin="round">i</text>
<text x="564.34" y="988.03" font-size="21" textLength="59.24" lengthAdjust="spacingAndGlyphs">Dams</text>
<rect x="525.32" y="1026.25" width="12.41" height="12.41" fill="none" stroke="#1a1a1a" stroke-width="1.3"/>
<text x="545.53" y="1038.86" font-size="18.5" textLength="39.62" lengthAdjust="spacingAndGlyphs">NCD</text>
<rect x="607.77" y="1026.25" width="12.41" height="12.41" fill="none" stroke="#d9420b" stroke-width="1.3"/>
<text x="629.58" y="1038.86" font-size="18.5" textLength="34.82" lengthAdjust="spacingAndGlyphs">BFD</text>
<line x1="521.52" y1="1061.35" x2="521.52" y2="1313.75" stroke="#1a1a1a" stroke-width="1.45"/>
<line x1="515.92" y1="1062.07" x2="521.52" y2="1062.07" stroke="#1a1a1a" stroke-width="1.45"/>
<text x="508.12" y="1068.38" font-size="18.29" text-anchor="end" textLength="22.18" lengthAdjust="spacingAndGlyphs">80</text>
<line x1="515.92" y1="1125.31" x2="521.52" y2="1125.31" stroke="#1a1a1a" stroke-width="1.45"/>
<text x="508.12" y="1131.62" font-size="18.29" text-anchor="end" textLength="22.18" lengthAdjust="spacingAndGlyphs">60</text>
<line x1="515.92" y1="1188.15" x2="521.52" y2="1188.15" stroke="#1a1a1a" stroke-width="1.45"/>
<text x="508.12" y="1194.46" font-size="18.29" text-anchor="end" textLength="22.18" lengthAdjust="spacingAndGlyphs">40</text>
<line x1="515.92" y1="1250.59" x2="521.52" y2="1250.59" stroke="#1a1a1a" stroke-width="1.45"/>
<text x="508.12" y="1256.9" font-size="18.29" text-anchor="end" textLength="22.18" lengthAdjust="spacingAndGlyphs">20</text>
<line x1="515.92" y1="1313.03" x2="521.52" y2="1313.03" stroke="#1a1a1a" stroke-width="1.45"/>
<text x="508.12" y="1319.34" font-size="18.29" text-anchor="end" textLength="10.98" lengthAdjust="spacingAndGlyphs">0</text>
<text font-size="22" text-anchor="middle" textLength="293.38" lengthAdjust="spacingAndGlyphs" transform="translate(438.77 1187.35) rotate(-90)">Maternal body composition</text>
<text font-size="22" text-anchor="middle" textLength="32.82" lengthAdjust="spacingAndGlyphs" transform="translate(464.78 1187.35) rotate(-90)">(%)</text>
<rect x="533.02" y="1095.19" width="16.21" height="217.83" fill="#fff" stroke="#1a1a1a" stroke-width="1.4"/>
<rect x="561.84" y="1096.79" width="16.21" height="216.23" fill="#fff" stroke="#d9420b" stroke-width="1.4"/>
<rect x="609.87" y="1275.3" width="16.21" height="37.72" fill="#fff" stroke="#1a1a1a" stroke-width="1.4"/>
<rect x="638.69" y="1274.1" width="16.21" height="38.92" fill="#fff" stroke="#d9420b" stroke-width="1.4"/>
<line x1="541.13" y1="1091.29" x2="541.13" y2="1094.49" stroke="#222" stroke-width="1"/>
<line x1="538.53" y1="1091.29" x2="543.73" y2="1091.29" stroke="#222" stroke-width="1"/>
<line x1="569.95" y1="1094.09" x2="569.95" y2="1096.09" stroke="#d9420b" stroke-width="1"/>
<line x1="567.35" y1="1094.09" x2="572.55" y2="1094.09" stroke="#d9420b" stroke-width="1"/>
<line x1="617.97" y1="1272.2" x2="617.97" y2="1274.6" stroke="#222" stroke-width="1"/>
<line x1="615.37" y1="1272.2" x2="620.57" y2="1272.2" stroke="#222" stroke-width="1"/>
<line x1="646.79" y1="1270.6" x2="646.79" y2="1273.4" stroke="#d9420b" stroke-width="1"/>
<line x1="644.19" y1="1270.6" x2="649.39" y2="1270.6" stroke="#d9420b" stroke-width="1"/>
<g fill="#a0a0a0">
<circle cx="534.32" cy="1088.09" r="2.3"/>
<circle cx="541.13" cy="1090.49" r="2.3"/>
<circle cx="548.33" cy="1088.09" r="2.3"/>
<circle cx="534.32" cy="1098.5" r="2.3"/>
<circle cx="548.33" cy="1098.5" r="2.3"/>
</g>
<g fill="#f99a9a">
<circle cx="563.54" cy="1092.89" r="2.3"/>
<circle cx="568.34" cy="1091.29" r="2.3"/>
<circle cx="572.75" cy="1094.49" r="2.3"/>
<circle cx="577.15" cy="1096.09" r="2.3"/>
<circle cx="563.54" cy="1098.5" r="2.3"/>
</g>
<g fill="#a0a0a0">
<circle cx="611.17" cy="1271.4" r="2.3"/>
<circle cx="620.38" cy="1269.8" r="2.3"/>
<circle cx="611.17" cy="1276.2" r="2.3"/>
<circle cx="617.97" cy="1275.4" r="2.3"/>
<circle cx="624.78" cy="1275.4" r="2.3"/>
</g>
<g fill="#f99a9a">
<circle cx="640.39" cy="1269.8" r="2.3"/>
<circle cx="646.79" cy="1269" r="2.3"/>
<circle cx="653.2" cy="1272.2" r="2.3"/>
<circle cx="640.39" cy="1274.6" r="2.3"/>
<circle cx="647.59" cy="1279.41" r="2.3"/>
</g>
<text x="533.52" y="1340.24" font-size="22" textLength="50.03" lengthAdjust="spacingAndGlyphs">Lean</text>
<text x="618.37" y="1340.24" font-size="22" textLength="32.02" lengthAdjust="spacingAndGlyphs">Fat</text>
<text x="710.84" y="1058.87" font-size="21" textLength="48.03" lengthAdjust="spacingAndGlyphs">NCD</text>
<text x="832.92" y="1058.87" font-size="21" textLength="41.22" lengthAdjust="spacingAndGlyphs">BFD</text>
<!-- panel_j -->
<text x="928.58" y="978.3" font-size="38" textLength="12.6" lengthAdjust="spacingAndGlyphs" font-weight="bold" stroke="#000" stroke-width="1.7" stroke-linejoin="round">j</text>
<text x="1059.05" y="988.03" font-size="21" textLength="58.44" lengthAdjust="spacingAndGlyphs">Dams</text>
<rect x="1032.44" y="1026.25" width="12.81" height="12.81" fill="none" stroke="#1a1a1a" stroke-width="1.3"/>
<text x="1054.25" y="1038.86" font-size="18.5" textLength="38.02" lengthAdjust="spacingAndGlyphs">NCD</text>
<rect x="1115.29" y="1026.25" width="12.81" height="12.81" fill="none" stroke="#d9420b" stroke-width="1.3"/>
<text x="1137.5" y="1038.86" font-size="18.5" textLength="32.82" lengthAdjust="spacingAndGlyphs">BFD</text>
<line x1="1043.04" y1="1061.35" x2="1043.04" y2="1313.75" stroke="#1a1a1a" stroke-width="1.45"/>
<line x1="1037.44" y1="1062.07" x2="1043.04" y2="1062.07" stroke="#1a1a1a" stroke-width="1.45"/>
<text x="1029.64" y="1068.38" font-size="18.29" text-anchor="end" textLength="29.38" lengthAdjust="spacingAndGlyphs">150</text>
<line x1="1037.44" y1="1145.72" x2="1043.04" y2="1145.72" stroke="#1a1a1a" stroke-width="1.45"/>
<text x="1029.64" y="1152.03" font-size="18.29" text-anchor="end" textLength="29.38" lengthAdjust="spacingAndGlyphs">100</text>
<line x1="1037.44" y1="1229.38" x2="1043.04" y2="1229.38" stroke="#1a1a1a" stroke-width="1.45"/>
<text x="1029.64" y="1235.68" font-size="18.29" text-anchor="end" textLength="22.18" lengthAdjust="spacingAndGlyphs">50</text>
<line x1="1037.44" y1="1313.03" x2="1043.04" y2="1313.03" stroke="#1a1a1a" stroke-width="1.45"/>
<text x="1029.64" y="1319.34" font-size="18.29" text-anchor="end" textLength="10.98" lengthAdjust="spacingAndGlyphs">0</text>
<text font-size="22" text-anchor="middle" textLength="254.15" lengthAdjust="spacingAndGlyphs" transform="translate(946.69 1187.35) rotate(-90)">Maternal blood glucose</text>
<text font-size="22" text-anchor="middle" textLength="88.85" lengthAdjust="spacingAndGlyphs" transform="translate(975.9 1187.35) rotate(-90)">(mg dl<tspan font-size="13.64" dy="-10.12">−1</tspan><tspan dy="10.12">&#8203;</tspan>)</text>
<rect x="1058.95" y="1175.64" width="24.62" height="137.38" fill="#fff" stroke="#1a1a1a" stroke-width="1.4"/>
<rect x="1102.18" y="1168.84" width="24.22" height="144.19" fill="#fff" stroke="#d9420b" stroke-width="1.4"/>
<line x1="1071.06" y1="1167.74" x2="1071.06" y2="1174.94" stroke="#222" stroke-width="1.1"/>
<line x1="1067.06" y1="1167.74" x2="1075.06" y2="1167.74" stroke="#222" stroke-width="1.1"/>
<line x1="1114.29" y1="1155.33" x2="1114.29" y2="1168.14" stroke="#d9420b" stroke-width="1.1"/>
<line x1="1110.29" y1="1155.33" x2="1118.29" y2="1155.33" stroke="#d9420b" stroke-width="1.1"/>
<g fill="#a0a0a0">
<circle cx="1066.26" cy="1158.13" r="2.3"/>
<circle cx="1076.26" cy="1159.73" r="2.3"/>
<circle cx="1066.26" cy="1180.15" r="2.3"/>
<circle cx="1076.26" cy="1182.15" r="2.3"/>
<circle cx="1071.06" cy="1190.15" r="2.3"/>
</g>
<g fill="#f99a9a">
<circle cx="1114.29" cy="1120.91" r="2.3"/>
<circle cx="1114.29" cy="1172.94" r="2.3"/>
<circle cx="1103.08" cy="1182.55" r="2.3"/>
<circle cx="1114.29" cy="1178.54" r="2.3"/>
<circle cx="1125.49" cy="1180.15" r="2.3"/>
</g>
<!-- panel_k -->
<text x="1195.94" y="978.3" font-size="38" textLength="22.1" lengthAdjust="spacingAndGlyphs" font-weight="bold" stroke="#000" stroke-width="1.7" stroke-linejoin="round">k</text>
<text x="1300.8" y="988.03" font-size="21" textLength="58.44" lengthAdjust="spacingAndGlyphs">Dams</text>
<rect x="1281.79" y="1026.25" width="12.81" height="12.81" fill="none" stroke="#1a1a1a" stroke-width="1.3"/>
<text x="1304.01" y="1038.86" font-size="18.5" textLength="38.02" lengthAdjust="spacingAndGlyphs">NCD</text>
<rect x="1365.04" y="1026.25" width="12.81" height="12.81" fill="none" stroke="#d9420b" stroke-width="1.3"/>
<text x="1386.86" y="1038.86" font-size="18.5" textLength="33.22" lengthAdjust="spacingAndGlyphs">BFD</text>
<line x1="1284.39" y1="1061.75" x2="1284.39" y2="1313.75" stroke="#1a1a1a" stroke-width="1.45"/>
<line x1="1278.79" y1="1062.47" x2="1284.39" y2="1062.47" stroke="#1a1a1a" stroke-width="1.45"/>
<text x="1270.99" y="1068.78" font-size="18.29" text-anchor="end" textLength="10.98" lengthAdjust="spacingAndGlyphs">8</text>
<line x1="1278.79" y1="1125.71" x2="1284.39" y2="1125.71" stroke="#1a1a1a" stroke-width="1.45"/>
<text x="1270.99" y="1132.02" font-size="18.29" text-anchor="end" textLength="10.98" lengthAdjust="spacingAndGlyphs">6</text>
<line x1="1278.79" y1="1188.55" x2="1284.39" y2="1188.55" stroke="#1a1a1a" stroke-width="1.45"/>
<text x="1270.99" y="1194.86" font-size="18.29" text-anchor="end" textLength="10.98" lengthAdjust="spacingAndGlyphs">4</text>
<line x1="1278.79" y1="1251.39" x2="1284.39" y2="1251.39" stroke="#1a1a1a" stroke-width="1.45"/>
<text x="1270.99" y="1257.7" font-size="18.29" text-anchor="end" textLength="10.98" lengthAdjust="spacingAndGlyphs">2</text>
<line x1="1278.79" y1="1313.03" x2="1284.39" y2="1313.03" stroke="#1a1a1a" stroke-width="1.45"/>
<text x="1270.99" y="1319.34" font-size="18.29" text-anchor="end" textLength="10.98" lengthAdjust="spacingAndGlyphs">0</text>
<text font-size="22" text-anchor="middle" textLength="238.54" lengthAdjust="spacingAndGlyphs" transform="translate(1213.65 1188.15) rotate(-90)">Maternal insulin levels</text>
<text font-size="22" text-anchor="middle" textLength="88.85" lengthAdjust="spacingAndGlyphs" transform="translate(1242.07 1188.15) rotate(-90)">(ng ml<tspan font-size="13.64" dy="-10.12">−1</tspan><tspan dy="10.12">&#8203;</tspan>)</text>
<rect x="1300.7" y="1192.85" width="24.62" height="120.17" fill="#fff" stroke="#1a1a1a" stroke-width="1.4"/>
<rect x="1343.53" y="1169.64" width="24.62" height="143.39" fill="#fff" stroke="#d9420b" stroke-width="1.4"/>
<line x1="1313.21" y1="1172.14" x2="1313.21" y2="1192.15" stroke="#222" stroke-width="1.1"/>
<line x1="1309.21" y1="1172.14" x2="1317.21" y2="1172.14" stroke="#222" stroke-width="1.1"/>
<line x1="1355.64" y1="1143.72" x2="1355.64" y2="1168.94" stroke="#d9420b" stroke-width="1.1"/>
<line x1="1351.64" y1="1143.72" x2="1359.64" y2="1143.72" stroke="#d9420b" stroke-width="1.1"/>
<g fill="#a0a0a0">
<circle cx="1313.21" cy="1150.53" r="2.3"/>
<circle cx="1313.21" cy="1168.54" r="2.3"/>
<circle cx="1313.21" cy="1182.55" r="2.3"/>
<circle cx="1313.21" cy="1192.95" r="2.3"/>
<circle cx="1313.21" cy="1261.39" r="2.3"/>
</g>
<g fill="#f99a9a">
<circle cx="1355.64" cy="1109.3" r="2.3"/>
<circle cx="1355.64" cy="1125.71" r="2.3"/>
<circle cx="1355.64" cy="1172.94" r="2.3"/>
<circle cx="1355.64" cy="1184.15" r="2.3"/>
<circle cx="1355.64" cy="1245.39" r="2.3"/>
</g>
<!-- panel_l -->
<text x="1449.69" y="978.3" font-size="38" textLength="12.6" lengthAdjust="spacingAndGlyphs" font-weight="bold" stroke="#000" stroke-width="1.7" stroke-linejoin="round">l</text>
<text x="1544.15" y="988.03" font-size="21" textLength="58.44" lengthAdjust="spacingAndGlyphs">Dams</text>
<rect x="1531.54" y="1026.25" width="12.81" height="12.81" fill="none" stroke="#1a1a1a" stroke-width="1.3"/>
<text x="1554.16" y="1038.86" font-size="18.5" textLength="38.02" lengthAdjust="spacingAndGlyphs">NCD</text>
<rect x="1615.59" y="1026.25" width="12.81" height="12.81" fill="none" stroke="#d9420b" stroke-width="1.3"/>
<text x="1637.01" y="1038.86" font-size="18.5" textLength="33.22" lengthAdjust="spacingAndGlyphs">BFD</text>
<line x1="1528.14" y1="1061.35" x2="1528.14" y2="1313.75" stroke="#1a1a1a" stroke-width="1.45"/>
<line x1="1522.54" y1="1062.07" x2="1528.14" y2="1062.07" stroke="#1a1a1a" stroke-width="1.45"/>
<text x="1514.74" y="1068.38" font-size="18.29" text-anchor="end" textLength="22.68" lengthAdjust="spacingAndGlyphs">1.5</text>
<line x1="1522.54" y1="1145.72" x2="1528.14" y2="1145.72" stroke="#1a1a1a" stroke-width="1.45"/>
<text x="1514.74" y="1152.03" font-size="18.29" text-anchor="end" textLength="22.68" lengthAdjust="spacingAndGlyphs">1.0</text>
<line x1="1522.54" y1="1229.38" x2="1528.14" y2="1229.38" stroke="#1a1a1a" stroke-width="1.45"/>
<text x="1514.74" y="1235.68" font-size="18.29" text-anchor="end" textLength="27.18" lengthAdjust="spacingAndGlyphs">0.5</text>
<line x1="1522.54" y1="1313.03" x2="1528.14" y2="1313.03" stroke="#1a1a1a" stroke-width="1.45"/>
<text x="1514.74" y="1319.34" font-size="18.29" text-anchor="end" textLength="10.98" lengthAdjust="spacingAndGlyphs">0</text>
<text font-size="22" text-anchor="middle" textLength="197.32" lengthAdjust="spacingAndGlyphs" transform="translate(1467.41 1187.35) rotate(-90)">Maternal HOMA-IR</text>
<rect x="1544.05" y="1182.85" width="24.62" height="130.18" fill="#fff" stroke="#1a1a1a" stroke-width="1.4"/>
<rect x="1586.88" y="1176.84" width="24.62" height="136.18" fill="#fff" stroke="#d9420b" stroke-width="1.4"/>
<line x1="1556.16" y1="1166.14" x2="1556.16" y2="1182.15" stroke="#222" stroke-width="1.1"/>
<line x1="1552.16" y1="1166.14" x2="1560.16" y2="1166.14" stroke="#222" stroke-width="1.1"/>
<line x1="1598.98" y1="1152.93" x2="1598.98" y2="1176.14" stroke="#d9420b" stroke-width="1.1"/>
<line x1="1594.98" y1="1152.93" x2="1602.98" y2="1152.93" stroke="#d9420b" stroke-width="1.1"/>
<g fill="#a0a0a0">
<circle cx="1556.16" cy="1145.32" r="2.3"/>
<circle cx="1556.16" cy="1166.14" r="2.3"/>
<circle cx="1556.16" cy="1176.14" r="2.3"/>
<circle cx="1556.16" cy="1184.95" r="2.3"/>
<circle cx="1556.16" cy="1231.78" r="2.3"/>
</g>
<g fill="#f99a9a">
<circle cx="1598.98" cy="1120.11" r="2.3"/>
<circle cx="1598.98" cy="1131.32" r="2.3"/>
<circle cx="1598.98" cy="1174.14" r="2.3"/>
<circle cx="1593.78" cy="1225.77" r="2.3"/>
<circle cx="1604.19" cy="1223.37" r="2.3"/>
</g>
<!-- panel_m -->
<text x="1703.85" y="978.3" font-size="38" textLength="35.6" lengthAdjust="spacingAndGlyphs" font-weight="bold" stroke="#000" stroke-width="1.7" stroke-linejoin="round">m</text>
<text x="1819.12" y="988.03" font-size="21" textLength="58.44" lengthAdjust="spacingAndGlyphs">Dams</text>
<rect x="1799.71" y="1026.25" width="12.81" height="12.81" fill="none" stroke="#1a1a1a" stroke-width="1.3"/>
<text x="1822.32" y="1038.86" font-size="18.5" textLength="38.02" lengthAdjust="spacingAndGlyphs">NCD</text>
<rect x="1883.76" y="1026.25" width="12.81" height="12.81" fill="none" stroke="#d9420b" stroke-width="1.3"/>
<text x="1905.17" y="1038.86" font-size="18.5" textLength="33.22" lengthAdjust="spacingAndGlyphs">BFD</text>
<line x1="1805.11" y1="1061.35" x2="1805.11" y2="1313.75" stroke="#1a1a1a" stroke-width="1.45"/>
<line x1="1799.51" y1="1062.07" x2="1805.11" y2="1062.07" stroke="#1a1a1a" stroke-width="1.45"/>
<text x="1791.71" y="1068.38" font-size="18.29" text-anchor="end" textLength="10.98" lengthAdjust="spacingAndGlyphs">5</text>
<line x1="1799.51" y1="1112.5" x2="1805.11" y2="1112.5" stroke="#1a1a1a" stroke-width="1.45"/>
<text x="1791.71" y="1118.81" font-size="18.29" text-anchor="end" textLength="10.98" lengthAdjust="spacingAndGlyphs">4</text>
<line x1="1799.51" y1="1162.53" x2="1805.11" y2="1162.53" stroke="#1a1a1a" stroke-width="1.45"/>
<text x="1791.71" y="1168.84" font-size="18.29" text-anchor="end" textLength="10.98" lengthAdjust="spacingAndGlyphs">3</text>
<line x1="1799.51" y1="1212.97" x2="1805.11" y2="1212.97" stroke="#1a1a1a" stroke-width="1.45"/>
<text x="1791.71" y="1219.27" font-size="18.29" text-anchor="end" textLength="10.98" lengthAdjust="spacingAndGlyphs">2</text>
<line x1="1799.51" y1="1263" x2="1805.11" y2="1263" stroke="#1a1a1a" stroke-width="1.45"/>
<text x="1791.71" y="1269.3" font-size="18.29" text-anchor="end">1</text>
<line x1="1799.51" y1="1313.03" x2="1805.11" y2="1313.03" stroke="#1a1a1a" stroke-width="1.45"/>
<text x="1791.71" y="1319.34" font-size="18.29" text-anchor="end" textLength="10.98" lengthAdjust="spacingAndGlyphs">0</text>
<text font-size="22" text-anchor="middle" textLength="228.14" lengthAdjust="spacingAndGlyphs" transform="translate(1732.77 1188.15) rotate(-90)">Maternal leptin levels</text>
<text font-size="22" text-anchor="middle" textLength="88.85" lengthAdjust="spacingAndGlyphs" transform="translate(1762.79 1188.15) rotate(-90)">(ng ml<tspan font-size="13.64" dy="-10.12">−1</tspan><tspan dy="10.12">&#8203;</tspan>)</text>
<rect x="1821.42" y="1176.04" width="24.62" height="136.98" fill="#fff" stroke="#1a1a1a" stroke-width="1.4"/>
<rect x="1864.25" y="1150.43" width="24.62" height="162.6" fill="#fff" stroke="#d9420b" stroke-width="1.4"/>
<line x1="1833.53" y1="1148.93" x2="1833.53" y2="1175.34" stroke="#222" stroke-width="1.1"/>
<line x1="1829.53" y1="1148.93" x2="1837.53" y2="1148.93" stroke="#222" stroke-width="1.1"/>
<line x1="1876.35" y1="1123.71" x2="1876.35" y2="1149.73" stroke="#d9420b" stroke-width="1.1"/>
<line x1="1872.35" y1="1123.71" x2="1880.35" y2="1123.71" stroke="#d9420b" stroke-width="1.1"/>
<g fill="#a0a0a0">
<circle cx="1833.53" cy="1111.3" r="2.3"/>
<circle cx="1833.53" cy="1147.73" r="2.3"/>
<circle cx="1833.53" cy="1153.33" r="2.3"/>
<circle cx="1833.53" cy="1203.76" r="2.3"/>
<circle cx="1833.53" cy="1254.99" r="2.3"/>
</g>
<g fill="#f99a9a">
<circle cx="1876.35" cy="1098.5" r="2.3"/>
<circle cx="1876.35" cy="1113.31" r="2.3"/>
<circle cx="1871.15" cy="1191.75" r="2.3"/>
<circle cx="1881.56" cy="1190.15" r="2.3"/>
</g>
<defs><filter id="rough" x="-5%" y="-5%" width="110%" height="110%"><feTurbulence type="fractalNoise" baseFrequency="0.22" numOctaves="2" seed="7" result="n"/><feDisplacementMap in="SourceGraphic" in2="n" scale="7" xChannelSelector="R" yChannelSelector="G"/></filter><filter id="halo" x="-10%" y="-10%" width="120%" height="120%"><feGaussianBlur stdDeviation="1.3"/></filter><filter id="soft" x="-10%" y="-10%" width="120%" height="120%"><feGaussianBlur stdDeviation="0.5"/></filter></defs>
<!-- panel_scan_i -->
<rect x="680.92" y="1065.92" width="107.34" height="266.83" fill="#000"/>
<clipPath id="sc1"><path d="M723.06 1083.05 C718.64 1083.05 723.44 1081.66 723.06 1083.05 C722.68 1084.44 722.05 1087.72 720.79 1091.39 C719.52 1095.05 716.75 1100.99 715.48 1105.03 C714.22 1109.07 714.02 1111.35 713.21 1115.64 C712.4 1119.94 711.52 1125.75 710.63 1130.8 C709.75 1135.86 709.24 1138.38 707.9 1145.96 C706.56 1153.54 704.36 1166.18 702.6 1176.29 C700.83 1186.39 698.55 1196.5 697.29 1206.61 C696.03 1216.71 695.02 1229.35 695.02 1236.93 C695.02 1244.51 696.4 1247.04 697.29 1252.09 C698.17 1257.14 699.51 1262.2 700.32 1267.25 C701.13 1272.3 701.43 1277.36 702.14 1282.41 C702.85 1287.46 702.6 1292.52 704.57 1297.57 C706.54 1302.62 710.13 1307.8 713.97 1312.73 C717.81 1317.66 722.81 1327.13 727.61 1327.13 C732.41 1327.13 738.53 1317.66 742.77 1312.73 C747.02 1307.8 750.55 1302.62 753.08 1297.57 C755.61 1292.52 756.11 1287.46 757.93 1282.41 C759.75 1277.36 762.23 1272.3 764 1267.25 C765.77 1262.2 767.66 1257.14 768.54 1252.09 C769.43 1247.04 770.01 1244.51 769.3 1236.93 C768.6 1229.35 765.64 1216.71 764.3 1206.61 C762.96 1196.5 762.03 1186.39 761.27 1176.29 C760.51 1166.18 760.05 1153.54 759.75 1145.96 C759.45 1138.38 759.5 1135.86 759.45 1130.8 C759.4 1125.75 759.83 1119.94 759.45 1115.64 C759.07 1111.35 758.44 1109.07 757.17 1105.03 C755.91 1100.99 753.13 1095.05 751.87 1091.39 C750.6 1087.72 749.97 1084.44 749.59 1083.05 C749.21 1081.66 754.02 1083.05 749.59 1083.05 C745.17 1083.05 727.48 1083.05 723.06 1083.05Z"/></clipPath>
<path d="M723.06 1083.05 C718.64 1083.05 723.44 1081.66 723.06 1083.05 C722.68 1084.44 722.05 1087.72 720.79 1091.39 C719.52 1095.05 716.75 1100.99 715.48 1105.03 C714.22 1109.07 714.02 1111.35 713.21 1115.64 C712.4 1119.94 711.52 1125.75 710.63 1130.8 C709.75 1135.86 709.24 1138.38 707.9 1145.96 C706.56 1153.54 704.36 1166.18 702.6 1176.29 C700.83 1186.39 698.55 1196.5 697.29 1206.61 C696.03 1216.71 695.02 1229.35 695.02 1236.93 C695.02 1244.51 696.4 1247.04 697.29 1252.09 C698.17 1257.14 699.51 1262.2 700.32 1267.25 C701.13 1272.3 701.43 1277.36 702.14 1282.41 C702.85 1287.46 702.6 1292.52 704.57 1297.57 C706.54 1302.62 710.13 1307.8 713.97 1312.73 C717.81 1317.66 722.81 1327.13 727.61 1327.13 C732.41 1327.13 738.53 1317.66 742.77 1312.73 C747.02 1307.8 750.55 1302.62 753.08 1297.57 C755.61 1292.52 756.11 1287.46 757.93 1282.41 C759.75 1277.36 762.23 1272.3 764 1267.25 C765.77 1262.2 767.66 1257.14 768.54 1252.09 C769.43 1247.04 770.01 1244.51 769.3 1236.93 C768.6 1229.35 765.64 1216.71 764.3 1206.61 C762.96 1196.5 762.03 1186.39 761.27 1176.29 C760.51 1166.18 760.05 1153.54 759.75 1145.96 C759.45 1138.38 759.5 1135.86 759.45 1130.8 C759.4 1125.75 759.83 1119.94 759.45 1115.64 C759.07 1111.35 758.44 1109.07 757.17 1105.03 C755.91 1100.99 753.13 1095.05 751.87 1091.39 C750.6 1087.72 749.97 1084.44 749.59 1083.05 C749.21 1081.66 754.02 1083.05 749.59 1083.05 C745.17 1083.05 727.48 1083.05 723.06 1083.05Z" fill="#777" stroke="#777" stroke-width="2.4" filter="url(#halo)" opacity="0.6"/>
<path d="M723.06 1083.05 C718.64 1083.05 723.44 1081.66 723.06 1083.05 C722.68 1084.44 722.05 1087.72 720.79 1091.39 C719.52 1095.05 716.75 1100.99 715.48 1105.03 C714.22 1109.07 714.02 1111.35 713.21 1115.64 C712.4 1119.94 711.52 1125.75 710.63 1130.8 C709.75 1135.86 709.24 1138.38 707.9 1145.96 C706.56 1153.54 704.36 1166.18 702.6 1176.29 C700.83 1186.39 698.55 1196.5 697.29 1206.61 C696.03 1216.71 695.02 1229.35 695.02 1236.93 C695.02 1244.51 696.4 1247.04 697.29 1252.09 C698.17 1257.14 699.51 1262.2 700.32 1267.25 C701.13 1272.3 701.43 1277.36 702.14 1282.41 C702.85 1287.46 702.6 1292.52 704.57 1297.57 C706.54 1302.62 710.13 1307.8 713.97 1312.73 C717.81 1317.66 722.81 1327.13 727.61 1327.13 C732.41 1327.13 738.53 1317.66 742.77 1312.73 C747.02 1307.8 750.55 1302.62 753.08 1297.57 C755.61 1292.52 756.11 1287.46 757.93 1282.41 C759.75 1277.36 762.23 1272.3 764 1267.25 C765.77 1262.2 767.66 1257.14 768.54 1252.09 C769.43 1247.04 770.01 1244.51 769.3 1236.93 C768.6 1229.35 765.64 1216.71 764.3 1206.61 C762.96 1196.5 762.03 1186.39 761.27 1176.29 C760.51 1166.18 760.05 1153.54 759.75 1145.96 C759.45 1138.38 759.5 1135.86 759.45 1130.8 C759.4 1125.75 759.83 1119.94 759.45 1115.64 C759.07 1111.35 758.44 1109.07 757.17 1105.03 C755.91 1100.99 753.13 1095.05 751.87 1091.39 C750.6 1087.72 749.97 1084.44 749.59 1083.05 C749.21 1081.66 754.02 1083.05 749.59 1083.05 C745.17 1083.05 727.48 1083.05 723.06 1083.05Z" fill="#52aeb0"/>
<g clip-path="url(#sc1)">
<g filter="url(#rough)">
<ellipse cx="722.3" cy="1171.74" rx="12.13" ry="12.89" fill="#1c1c1c"/>
<ellipse cx="741.26" cy="1171.74" rx="11.83" ry="12.89" fill="#1c1c1c"/>
<ellipse cx="731.4" cy="1180.83" rx="21.22" ry="6.82" fill="#1c1c1c"/>
<ellipse cx="732.16" cy="1187.66" rx="19.71" ry="3.34" fill="#9d9b1f"/>
<ellipse cx="731.4" cy="1195.99" rx="1.21" ry="7.58" fill="#9d9b1f"/>
<ellipse cx="733.67" cy="1144.45" rx="9.1" ry="6.82" fill="#9d9b1f"/>
<ellipse cx="724.58" cy="1150.51" rx="6.06" ry="2.73" fill="#9d9b1f"/>
<ellipse cx="742.77" cy="1150.51" rx="6.06" ry="2.73" fill="#9d9b1f"/>
<ellipse cx="727.61" cy="1171.74" rx="2.12" ry="6.06" fill="#9d9b1f"/>
<ellipse cx="727.61" cy="1236.93" rx="2.12" ry="24.26" fill="#9d9b1f"/>
<ellipse cx="735.19" cy="1233.9" rx="1.52" ry="13.64" fill="#9d9b1f"/>
<ellipse cx="717" cy="1253.61" rx="3.34" ry="4.55" fill="#9d9b1f"/>
<ellipse cx="707.14" cy="1257.4" rx="3.79" ry="3.34" fill="#9d9b1f" transform="rotate(30 707.14 1257.4)"/>
<ellipse cx="718.51" cy="1242.99" rx="2.12" ry="3.03" fill="#9d9b1f" transform="rotate(30 718.51 1242.99)"/>
<ellipse cx="718.51" cy="1117.16" rx="6.06" ry="2.12" fill="#1c1c1c"/>
<ellipse cx="751.87" cy="1117.92" rx="6.06" ry="2.12" fill="#1c1c1c"/>
<ellipse cx="735.19" cy="1083.81" rx="7.58" ry="1.82" fill="#e8e8e8" opacity="0.8"/>
<ellipse cx="722.3" cy="1105.03" rx="2.43" ry="3.34" fill="#e8e8e8" opacity="0.8"/>
<ellipse cx="749.59" cy="1105.03" rx="2.43" ry="3.34" fill="#e8e8e8" opacity="0.8"/>
<ellipse cx="735.19" cy="1121.71" rx="8.34" ry="3.34" fill="#e8e8e8" opacity="0.8"/>
<ellipse cx="733.67" cy="1159.61" rx="5.31" ry="1.52" fill="#e8e8e8" opacity="0.8"/>
<ellipse cx="717" cy="1279.38" rx="2.27" ry="1.82" fill="#e8e8e8" opacity="0.8"/>
<ellipse cx="726.85" cy="1277.86" rx="1.52" ry="3.79" fill="#e8e8e8" opacity="0.8"/>
<ellipse cx="735.95" cy="1277.86" rx="1.82" ry="4.55" fill="#e8e8e8" opacity="0.8"/>
<ellipse cx="726.85" cy="1291.51" rx="1.82" ry="5.31" fill="#e8e8e8" opacity="0.8"/>
<ellipse cx="727.61" cy="1311.22" rx="2.73" ry="4.55" fill="#e8e8e8" opacity="0.8"/>
<ellipse cx="722.3" cy="1299.09" rx="1.82" ry="1.21" fill="#e8e8e8" opacity="0.8"/>
</g>
</g>
<rect x="801.14" y="1065.92" width="105.37" height="266.83" fill="#000"/>
<clipPath id="sc2"><path d="M843.59 1083.05 C839.22 1083.05 843.97 1081.66 843.59 1083.05 C843.21 1084.44 842.83 1087.72 841.32 1091.39 C839.8 1095.05 836.26 1100.99 834.49 1105.03 C832.72 1109.07 831.71 1111.35 830.7 1115.64 C829.69 1119.94 829.19 1125.75 828.43 1130.8 C827.67 1135.86 827.29 1138.38 826.16 1145.96 C825.02 1153.54 823 1166.18 821.61 1176.29 C820.22 1186.39 818.57 1196.5 817.82 1206.61 C817.06 1216.71 817.06 1229.35 817.06 1236.93 C817.06 1244.51 817.44 1247.04 817.82 1252.09 C818.2 1257.14 818.7 1262.2 819.33 1267.25 C819.96 1272.3 820.47 1277.36 821.61 1282.41 C822.74 1287.46 823.88 1292.52 826.16 1297.57 C828.43 1302.62 831.46 1308.94 835.25 1312.73 C839.04 1316.52 844.1 1320.31 848.9 1320.31 C853.7 1320.31 860.27 1316.52 864.06 1312.73 C867.85 1308.94 869.36 1302.62 871.64 1297.57 C873.91 1292.52 876.19 1287.46 877.7 1282.41 C879.22 1277.36 879.98 1272.3 880.73 1267.25 C881.49 1262.2 881.87 1257.14 882.25 1252.09 C882.63 1247.04 882.88 1244.51 883.01 1236.93 C883.13 1229.35 883.26 1216.71 883.01 1206.61 C882.76 1196.5 882 1186.39 881.49 1176.29 C880.99 1166.18 880.48 1153.54 879.98 1145.96 C879.47 1138.38 879.04 1135.86 878.46 1130.8 C877.88 1125.75 877.07 1119.94 876.49 1115.64 C875.91 1111.35 875.73 1109.07 874.97 1105.03 C874.21 1100.99 872.8 1095.05 871.94 1091.39 C871.08 1087.72 870.17 1084.44 869.82 1083.05 C869.46 1081.66 874.19 1083.05 869.82 1083.05 C865.45 1083.05 847.96 1083.05 843.59 1083.05Z"/></clipPath>
<path d="M843.59 1083.05 C839.22 1083.05 843.97 1081.66 843.59 1083.05 C843.21 1084.44 842.83 1087.72 841.32 1091.39 C839.8 1095.05 836.26 1100.99 834.49 1105.03 C832.72 1109.07 831.71 1111.35 830.7 1115.64 C829.69 1119.94 829.19 1125.75 828.43 1130.8 C827.67 1135.86 827.29 1138.38 826.16 1145.96 C825.02 1153.54 823 1166.18 821.61 1176.29 C820.22 1186.39 818.57 1196.5 817.82 1206.61 C817.06 1216.71 817.06 1229.35 817.06 1236.93 C817.06 1244.51 817.44 1247.04 817.82 1252.09 C818.2 1257.14 818.7 1262.2 819.33 1267.25 C819.96 1272.3 820.47 1277.36 821.61 1282.41 C822.74 1287.46 823.88 1292.52 826.16 1297.57 C828.43 1302.62 831.46 1308.94 835.25 1312.73 C839.04 1316.52 844.1 1320.31 848.9 1320.31 C853.7 1320.31 860.27 1316.52 864.06 1312.73 C867.85 1308.94 869.36 1302.62 871.64 1297.57 C873.91 1292.52 876.19 1287.46 877.7 1282.41 C879.22 1277.36 879.98 1272.3 880.73 1267.25 C881.49 1262.2 881.87 1257.14 882.25 1252.09 C882.63 1247.04 882.88 1244.51 883.01 1236.93 C883.13 1229.35 883.26 1216.71 883.01 1206.61 C882.76 1196.5 882 1186.39 881.49 1176.29 C880.99 1166.18 880.48 1153.54 879.98 1145.96 C879.47 1138.38 879.04 1135.86 878.46 1130.8 C877.88 1125.75 877.07 1119.94 876.49 1115.64 C875.91 1111.35 875.73 1109.07 874.97 1105.03 C874.21 1100.99 872.8 1095.05 871.94 1091.39 C871.08 1087.72 870.17 1084.44 869.82 1083.05 C869.46 1081.66 874.19 1083.05 869.82 1083.05 C865.45 1083.05 847.96 1083.05 843.59 1083.05Z" fill="#777" stroke="#777" stroke-width="2.4" filter="url(#halo)" opacity="0.6"/>
<path d="M843.59 1083.05 C839.22 1083.05 843.97 1081.66 843.59 1083.05 C843.21 1084.44 842.83 1087.72 841.32 1091.39 C839.8 1095.05 836.26 1100.99 834.49 1105.03 C832.72 1109.07 831.71 1111.35 830.7 1115.64 C829.69 1119.94 829.19 1125.75 828.43 1130.8 C827.67 1135.86 827.29 1138.38 826.16 1145.96 C825.02 1153.54 823 1166.18 821.61 1176.29 C820.22 1186.39 818.57 1196.5 817.82 1206.61 C817.06 1216.71 817.06 1229.35 817.06 1236.93 C817.06 1244.51 817.44 1247.04 817.82 1252.09 C818.2 1257.14 818.7 1262.2 819.33 1267.25 C819.96 1272.3 820.47 1277.36 821.61 1282.41 C822.74 1287.46 823.88 1292.52 826.16 1297.57 C828.43 1302.62 831.46 1308.94 835.25 1312.73 C839.04 1316.52 844.1 1320.31 848.9 1320.31 C853.7 1320.31 860.27 1316.52 864.06 1312.73 C867.85 1308.94 869.36 1302.62 871.64 1297.57 C873.91 1292.52 876.19 1287.46 877.7 1282.41 C879.22 1277.36 879.98 1272.3 880.73 1267.25 C881.49 1262.2 881.87 1257.14 882.25 1252.09 C882.63 1247.04 882.88 1244.51 883.01 1236.93 C883.13 1229.35 883.26 1216.71 883.01 1206.61 C882.76 1196.5 882 1186.39 881.49 1176.29 C880.99 1166.18 880.48 1153.54 879.98 1145.96 C879.47 1138.38 879.04 1135.86 878.46 1130.8 C877.88 1125.75 877.07 1119.94 876.49 1115.64 C875.91 1111.35 875.73 1109.07 874.97 1105.03 C874.21 1100.99 872.8 1095.05 871.94 1091.39 C871.08 1087.72 870.17 1084.44 869.82 1083.05 C869.46 1081.66 874.19 1083.05 869.82 1083.05 C865.45 1083.05 847.96 1083.05 843.59 1083.05Z" fill="#52aeb0"/>
<g clip-path="url(#sc2)">
<g filter="url(#rough)">
<ellipse cx="841.32" cy="1170.22" rx="12.13" ry="12.89" fill="#1c1c1c"/>
<ellipse cx="861.78" cy="1167.95" rx="11.37" ry="13.64" fill="#1c1c1c"/>
<ellipse cx="851.17" cy="1178.56" rx="22.74" ry="6.37" fill="#1c1c1c"/>
<ellipse cx="851.93" cy="1185.38" rx="21.98" ry="3.03" fill="#9d9b1f"/>
<ellipse cx="852.69" cy="1142.93" rx="6.06" ry="8.34" fill="#9d9b1f"/>
<ellipse cx="841.32" cy="1147.48" rx="3.79" ry="3.03" fill="#9d9b1f"/>
<ellipse cx="850.41" cy="1206.61" rx="1.82" ry="16.68" fill="#9d9b1f"/>
<ellipse cx="850.41" cy="1232.38" rx="6.06" ry="12.13" fill="#9d9b1f"/>
<ellipse cx="861.02" cy="1241.78" rx="7.58" ry="2.73" fill="#9d9b1f"/>
<ellipse cx="826.16" cy="1249.06" rx="5.76" ry="6.82" fill="#9d9b1f" transform="rotate(-20 826.16 1249.06)"/>
<ellipse cx="852.69" cy="1191.45" rx="3.03" ry="4.55" fill="#9d9b1f"/>
<ellipse cx="834.49" cy="1116.4" rx="6.06" ry="1.82" fill="#1c1c1c"/>
<ellipse cx="870.12" cy="1116.4" rx="6.06" ry="1.82" fill="#1c1c1c"/>
<ellipse cx="828.43" cy="1214.19" rx="0.76" ry="3.79" fill="#1c1c1c"/>
<ellipse cx="856.48" cy="1083.81" rx="7.58" ry="1.82" fill="#e8e8e8" opacity="0.8"/>
<ellipse cx="841.32" cy="1103.51" rx="3.03" ry="2.12" fill="#e8e8e8" opacity="0.8"/>
<ellipse cx="868.61" cy="1105.03" rx="2.73" ry="2.73" fill="#e8e8e8" opacity="0.8"/>
<ellipse cx="852.69" cy="1117.16" rx="9.1" ry="3.34" fill="#e8e8e8" opacity="0.8"/>
<ellipse cx="852.69" cy="1126.26" rx="4.55" ry="2.73" fill="#e8e8e8" opacity="0.8"/>
<ellipse cx="848.14" cy="1157.33" rx="6.06" ry="1.52" fill="#e8e8e8" opacity="0.8"/>
<ellipse cx="839.8" cy="1137.63" rx="2.73" ry="1.52" fill="#e8e8e8" opacity="0.8"/>
<ellipse cx="870.12" cy="1139.9" rx="1.52" ry="2.73" fill="#e8e8e8" opacity="0.8"/>
<ellipse cx="847.38" cy="1273.31" rx="10.61" ry="3.79" fill="#e8e8e8" opacity="0.8"/>
<ellipse cx="845.86" cy="1259.67" rx="3.79" ry="2.12" fill="#e8e8e8" opacity="0.8"/>
<ellipse cx="847.38" cy="1291.51" rx="3.03" ry="2.43" fill="#e8e8e8" opacity="0.8"/>
<ellipse cx="848.9" cy="1306.67" rx="3.79" ry="2.73" fill="#e8e8e8" opacity="0.8"/>
<ellipse cx="866.33" cy="1294.54" rx="2.12" ry="1.52" fill="#e8e8e8" opacity="0.8"/>
</g>
</g>
<!-- panel_scan_o -->
<rect x="807.91" y="1481.96" width="131.02" height="262.74" fill="#000"/>
<clipPath id="sc3"><path d="M860.67 1502.53 C857.07 1502.53 861.41 1500.92 860.67 1502.53 C859.94 1504.15 857.89 1507.96 856.28 1512.21 C854.66 1516.46 853.35 1520.41 851 1528.04 C848.66 1535.66 844.7 1547.09 842.21 1557.93 C839.72 1568.78 838.1 1581.38 836.05 1593.1 C834 1604.83 831.36 1619.48 829.9 1628.28 C828.43 1637.07 827.55 1640 827.26 1645.86 C826.97 1651.73 826.82 1657.59 828.14 1663.45 C829.46 1669.31 831.66 1675.17 835.17 1681.04 C838.69 1686.9 843.97 1693.35 849.24 1698.62 C854.52 1703.9 862.49 1709.12 866.83 1712.69 C871.17 1716.27 872.34 1720.08 875.27 1720.08 C878.2 1720.08 880.25 1716.27 884.41 1712.69 C888.58 1709.12 895.55 1703.9 900.24 1698.62 C904.93 1693.35 909.62 1686.9 912.55 1681.04 C915.48 1675.17 916.66 1669.31 917.83 1663.45 C919 1657.59 919.88 1651.73 919.59 1645.86 C919.29 1640 917.83 1637.07 916.07 1628.28 C914.31 1619.48 911.38 1604.83 909.04 1593.1 C906.69 1581.38 904.64 1568.78 902 1557.93 C899.36 1547.09 895.85 1535.66 893.21 1528.04 C890.57 1520.41 887.99 1516.46 886.17 1512.21 C884.36 1507.96 882.95 1504.15 882.3 1502.53 C881.66 1500.92 885.91 1502.53 882.3 1502.53 C878.7 1502.53 864.28 1502.53 860.67 1502.53Z"/></clipPath>
<path d="M860.67 1502.53 C857.07 1502.53 861.41 1500.92 860.67 1502.53 C859.94 1504.15 857.89 1507.96 856.28 1512.21 C854.66 1516.46 853.35 1520.41 851 1528.04 C848.66 1535.66 844.7 1547.09 842.21 1557.93 C839.72 1568.78 838.1 1581.38 836.05 1593.1 C834 1604.83 831.36 1619.48 829.9 1628.28 C828.43 1637.07 827.55 1640 827.26 1645.86 C826.97 1651.73 826.82 1657.59 828.14 1663.45 C829.46 1669.31 831.66 1675.17 835.17 1681.04 C838.69 1686.9 843.97 1693.35 849.24 1698.62 C854.52 1703.9 862.49 1709.12 866.83 1712.69 C871.17 1716.27 872.34 1720.08 875.27 1720.08 C878.2 1720.08 880.25 1716.27 884.41 1712.69 C888.58 1709.12 895.55 1703.9 900.24 1698.62 C904.93 1693.35 909.62 1686.9 912.55 1681.04 C915.48 1675.17 916.66 1669.31 917.83 1663.45 C919 1657.59 919.88 1651.73 919.59 1645.86 C919.29 1640 917.83 1637.07 916.07 1628.28 C914.31 1619.48 911.38 1604.83 909.04 1593.1 C906.69 1581.38 904.64 1568.78 902 1557.93 C899.36 1547.09 895.85 1535.66 893.21 1528.04 C890.57 1520.41 887.99 1516.46 886.17 1512.21 C884.36 1507.96 882.95 1504.15 882.3 1502.53 C881.66 1500.92 885.91 1502.53 882.3 1502.53 C878.7 1502.53 864.28 1502.53 860.67 1502.53Z" fill="#777" stroke="#777" stroke-width="2.4" filter="url(#halo)" opacity="0.6"/>
<path d="M860.67 1502.53 C857.07 1502.53 861.41 1500.92 860.67 1502.53 C859.94 1504.15 857.89 1507.96 856.28 1512.21 C854.66 1516.46 853.35 1520.41 851 1528.04 C848.66 1535.66 844.7 1547.09 842.21 1557.93 C839.72 1568.78 838.1 1581.38 836.05 1593.1 C834 1604.83 831.36 1619.48 829.9 1628.28 C828.43 1637.07 827.55 1640 827.26 1645.86 C826.97 1651.73 826.82 1657.59 828.14 1663.45 C829.46 1669.31 831.66 1675.17 835.17 1681.04 C838.69 1686.9 843.97 1693.35 849.24 1698.62 C854.52 1703.9 862.49 1709.12 866.83 1712.69 C871.17 1716.27 872.34 1720.08 875.27 1720.08 C878.2 1720.08 880.25 1716.27 884.41 1712.69 C888.58 1709.12 895.55 1703.9 900.24 1698.62 C904.93 1693.35 909.62 1686.9 912.55 1681.04 C915.48 1675.17 916.66 1669.31 917.83 1663.45 C919 1657.59 919.88 1651.73 919.59 1645.86 C919.29 1640 917.83 1637.07 916.07 1628.28 C914.31 1619.48 911.38 1604.83 909.04 1593.1 C906.69 1581.38 904.64 1568.78 902 1557.93 C899.36 1547.09 895.85 1535.66 893.21 1528.04 C890.57 1520.41 887.99 1516.46 886.17 1512.21 C884.36 1507.96 882.95 1504.15 882.3 1502.53 C881.66 1500.92 885.91 1502.53 882.3 1502.53 C878.7 1502.53 864.28 1502.53 860.67 1502.53Z" fill="#9d9b1f"/>
<g clip-path="url(#sc3)">
<g filter="url(#rough)">
<ellipse cx="871.22" cy="1515.72" rx="19.35" ry="14.95" fill="#52aeb0"/>
<ellipse cx="858.04" cy="1552.66" rx="9.67" ry="7.91" fill="#52aeb0"/>
<ellipse cx="886.17" cy="1552.66" rx="9.67" ry="8.79" fill="#52aeb0"/>
<ellipse cx="872.1" cy="1543.86" rx="7.03" ry="5.28" fill="#52aeb0"/>
<ellipse cx="852.76" cy="1568.48" rx="5.28" ry="3.52" fill="#52aeb0"/>
<ellipse cx="856.28" cy="1601.9" rx="13.19" ry="9.67" fill="#52aeb0"/>
<ellipse cx="891.45" cy="1603.66" rx="15.83" ry="13.19" fill="#52aeb0"/>
<ellipse cx="861.55" cy="1630.92" rx="7.39" ry="11.43" fill="#52aeb0"/>
<ellipse cx="889.69" cy="1623" rx="6.16" ry="9.67" fill="#52aeb0"/>
<ellipse cx="845.72" cy="1610.69" rx="7.03" ry="4.4" fill="#52aeb0"/>
<ellipse cx="852.76" cy="1677.52" rx="16.71" ry="14.95" fill="#52aeb0"/>
<ellipse cx="894.97" cy="1675.76" rx="15.83" ry="14.07" fill="#52aeb0"/>
<ellipse cx="870.35" cy="1681.04" rx="3.17" ry="26.38" fill="#52aeb0"/>
<ellipse cx="880.9" cy="1681.04" rx="2.46" ry="26.38" fill="#52aeb0"/>
<ellipse cx="875.27" cy="1709.18" rx="5.28" ry="8.79" fill="#52aeb0"/>
<ellipse cx="852.76" cy="1696.86" rx="10.55" ry="4.4" fill="#9d9b1f" transform="rotate(30 852.76 1696.86)"/>
<ellipse cx="898.48" cy="1696.86" rx="10.55" ry="4.4" fill="#9d9b1f" transform="rotate(-30 898.48 1696.86)"/>
<ellipse cx="875.62" cy="1681.04" rx="1.41" ry="10.55" fill="#9d9b1f"/>
<ellipse cx="865.07" cy="1578.16" rx="10.55" ry="7.91" fill="#1c1c1c"/>
<ellipse cx="884.41" cy="1577.28" rx="9.67" ry="8.79" fill="#1c1c1c"/>
<ellipse cx="873.86" cy="1584.31" rx="20.22" ry="3.17" fill="#1c1c1c"/>
<ellipse cx="874.74" cy="1570.24" rx="2.11" ry="5.28" fill="#52aeb0"/>
<ellipse cx="857.16" cy="1529.79" rx="4.22" ry="2.81" fill="#1c1c1c"/>
<ellipse cx="887.05" cy="1530.67" rx="4.92" ry="2.46" fill="#1c1c1c"/>
<ellipse cx="851.35" cy="1635.31" rx="0.88" ry="5.28" fill="#1c1c1c"/>
<ellipse cx="892.33" cy="1638.83" rx="0.88" ry="5.28" fill="#1c1c1c"/>
<ellipse cx="866.83" cy="1645.86" rx="2.11" ry="1.41" fill="#1c1c1c" transform="rotate(-40 866.83 1645.86)"/>
<ellipse cx="886.17" cy="1643.23" rx="1.76" ry="1.06" fill="#1c1c1c"/>
<ellipse cx="871.22" cy="1504.29" rx="7.91" ry="1.76" fill="#e8e8e8" opacity="0.8"/>
<ellipse cx="872.1" cy="1531.55" rx="7.03" ry="2.11" fill="#e8e8e8" opacity="0.8"/>
<ellipse cx="858.04" cy="1521" rx="2.11" ry="2.46" fill="#e8e8e8" opacity="0.8"/>
<ellipse cx="882.66" cy="1521" rx="2.11" ry="2.46" fill="#e8e8e8" opacity="0.8"/>
<ellipse cx="872.1" cy="1542.1" rx="3.17" ry="1.76" fill="#e8e8e8" opacity="0.8"/>
<ellipse cx="852.76" cy="1679.28" rx="8.79" ry="1.58" fill="#e8e8e8" opacity="0.8" transform="rotate(25 852.76 1679.28)"/>
<ellipse cx="894.09" cy="1680.16" rx="7.91" ry="1.58" fill="#e8e8e8" opacity="0.8" transform="rotate(-25 894.09 1680.16)"/>
<ellipse cx="865.07" cy="1686.31" rx="1.41" ry="7.03" fill="#e8e8e8" opacity="0.8"/>
<ellipse cx="885.82" cy="1685.43" rx="1.41" ry="7.03" fill="#e8e8e8" opacity="0.8"/>
<ellipse cx="875.27" cy="1705.66" rx="3.52" ry="4.4" fill="#e8e8e8" opacity="0.8"/>
</g>
</g>
<rect x="948.08" y="1481.96" width="131.02" height="262.74" fill="#000"/>
<clipPath id="sc4"><path d="M1000.49 1496.73 C996.62 1496.73 1001.07 1494.74 1000.49 1496.73 C999.9 1498.72 998.29 1504.35 996.97 1508.69 C995.65 1513.03 995.5 1514.55 992.57 1522.76 C989.64 1530.97 983.63 1546.21 979.38 1557.93 C975.13 1569.66 970.15 1581.38 967.07 1593.1 C963.99 1604.83 962.38 1619.48 960.92 1628.28 C959.45 1637.07 958.57 1640 958.28 1645.86 C957.98 1651.73 958.28 1657.59 959.16 1663.45 C960.04 1669.31 961.65 1675.17 963.55 1681.04 C965.46 1686.9 965.61 1692.76 970.59 1698.62 C975.57 1704.49 987.3 1711.81 993.45 1716.21 C999.61 1720.61 1004.74 1722.07 1007.52 1725 C1010.3 1727.93 1009.13 1731.01 1010.16 1733.8 C1011.18 1736.58 1012.41 1741.71 1013.67 1741.71 C1014.94 1741.71 1016.69 1736.58 1017.72 1733.8 C1018.75 1731.01 1016.55 1727.93 1019.83 1725 C1023.11 1722.07 1030.97 1720.61 1037.42 1716.21 C1043.86 1711.81 1054.12 1704.49 1058.52 1698.62 C1062.92 1692.76 1062.18 1686.9 1063.8 1681.04 C1065.41 1675.17 1067.31 1669.31 1068.19 1663.45 C1069.07 1657.59 1069.07 1651.73 1069.07 1645.86 C1069.07 1640 1069.95 1637.07 1068.19 1628.28 C1066.43 1619.48 1062.18 1604.83 1058.52 1593.1 C1054.86 1581.38 1050.31 1569.66 1046.21 1557.93 C1042.11 1546.21 1037.12 1530.97 1033.9 1522.76 C1030.68 1514.55 1028.56 1513.03 1026.86 1508.69 C1025.16 1504.35 1024.23 1498.72 1023.7 1496.73 C1023.17 1494.74 1027.57 1496.73 1023.7 1496.73 C1019.83 1496.73 1004.35 1496.73 1000.49 1496.73Z"/></clipPath>
<path d="M1000.49 1496.73 C996.62 1496.73 1001.07 1494.74 1000.49 1496.73 C999.9 1498.72 998.29 1504.35 996.97 1508.69 C995.65 1513.03 995.5 1514.55 992.57 1522.76 C989.64 1530.97 983.63 1546.21 979.38 1557.93 C975.13 1569.66 970.15 1581.38 967.07 1593.1 C963.99 1604.83 962.38 1619.48 960.92 1628.28 C959.45 1637.07 958.57 1640 958.28 1645.86 C957.98 1651.73 958.28 1657.59 959.16 1663.45 C960.04 1669.31 961.65 1675.17 963.55 1681.04 C965.46 1686.9 965.61 1692.76 970.59 1698.62 C975.57 1704.49 987.3 1711.81 993.45 1716.21 C999.61 1720.61 1004.74 1722.07 1007.52 1725 C1010.3 1727.93 1009.13 1731.01 1010.16 1733.8 C1011.18 1736.58 1012.41 1741.71 1013.67 1741.71 C1014.94 1741.71 1016.69 1736.58 1017.72 1733.8 C1018.75 1731.01 1016.55 1727.93 1019.83 1725 C1023.11 1722.07 1030.97 1720.61 1037.42 1716.21 C1043.86 1711.81 1054.12 1704.49 1058.52 1698.62 C1062.92 1692.76 1062.18 1686.9 1063.8 1681.04 C1065.41 1675.17 1067.31 1669.31 1068.19 1663.45 C1069.07 1657.59 1069.07 1651.73 1069.07 1645.86 C1069.07 1640 1069.95 1637.07 1068.19 1628.28 C1066.43 1619.48 1062.18 1604.83 1058.52 1593.1 C1054.86 1581.38 1050.31 1569.66 1046.21 1557.93 C1042.11 1546.21 1037.12 1530.97 1033.9 1522.76 C1030.68 1514.55 1028.56 1513.03 1026.86 1508.69 C1025.16 1504.35 1024.23 1498.72 1023.7 1496.73 C1023.17 1494.74 1027.57 1496.73 1023.7 1496.73 C1019.83 1496.73 1004.35 1496.73 1000.49 1496.73Z" fill="#777" stroke="#777" stroke-width="2.4" filter="url(#halo)" opacity="0.6"/>
<path d="M1000.49 1496.73 C996.62 1496.73 1001.07 1494.74 1000.49 1496.73 C999.9 1498.72 998.29 1504.35 996.97 1508.69 C995.65 1513.03 995.5 1514.55 992.57 1522.76 C989.64 1530.97 983.63 1546.21 979.38 1557.93 C975.13 1569.66 970.15 1581.38 967.07 1593.1 C963.99 1604.83 962.38 1619.48 960.92 1628.28 C959.45 1637.07 958.57 1640 958.28 1645.86 C957.98 1651.73 958.28 1657.59 959.16 1663.45 C960.04 1669.31 961.65 1675.17 963.55 1681.04 C965.46 1686.9 965.61 1692.76 970.59 1698.62 C975.57 1704.49 987.3 1711.81 993.45 1716.21 C999.61 1720.61 1004.74 1722.07 1007.52 1725 C1010.3 1727.93 1009.13 1731.01 1010.16 1733.8 C1011.18 1736.58 1012.41 1741.71 1013.67 1741.71 C1014.94 1741.71 1016.69 1736.58 1017.72 1733.8 C1018.75 1731.01 1016.55 1727.93 1019.83 1725 C1023.11 1722.07 1030.97 1720.61 1037.42 1716.21 C1043.86 1711.81 1054.12 1704.49 1058.52 1698.62 C1062.92 1692.76 1062.18 1686.9 1063.8 1681.04 C1065.41 1675.17 1067.31 1669.31 1068.19 1663.45 C1069.07 1657.59 1069.07 1651.73 1069.07 1645.86 C1069.07 1640 1069.95 1637.07 1068.19 1628.28 C1066.43 1619.48 1062.18 1604.83 1058.52 1593.1 C1054.86 1581.38 1050.31 1569.66 1046.21 1557.93 C1042.11 1546.21 1037.12 1530.97 1033.9 1522.76 C1030.68 1514.55 1028.56 1513.03 1026.86 1508.69 C1025.16 1504.35 1024.23 1498.72 1023.7 1496.73 C1023.17 1494.74 1027.57 1496.73 1023.7 1496.73 C1019.83 1496.73 1004.35 1496.73 1000.49 1496.73Z" fill="#9d9b1f"/>
<g clip-path="url(#sc4)">
<g filter="url(#rough)">
<ellipse cx="1012.8" cy="1512.21" rx="19.35" ry="15.83" fill="#52aeb0"/>
<ellipse cx="998.73" cy="1549.14" rx="8.79" ry="7.03" fill="#52aeb0"/>
<ellipse cx="1028.62" cy="1547.38" rx="8.79" ry="8.79" fill="#52aeb0"/>
<ellipse cx="1013.67" cy="1540.35" rx="7.03" ry="8.79" fill="#52aeb0"/>
<ellipse cx="1013.67" cy="1557.93" rx="10.55" ry="3.52" fill="#52aeb0"/>
<ellipse cx="982.9" cy="1610.69" rx="15.83" ry="13.19" fill="#52aeb0"/>
<ellipse cx="1035.66" cy="1607.17" rx="14.95" ry="15.83" fill="#52aeb0"/>
<ellipse cx="1007.52" cy="1598.38" rx="22.86" ry="7.91" fill="#52aeb0"/>
<ellipse cx="989.93" cy="1631.8" rx="10.55" ry="7.03" fill="#52aeb0"/>
<ellipse cx="1025.11" cy="1628.28" rx="10.55" ry="8.79" fill="#52aeb0"/>
<ellipse cx="1011.04" cy="1617.73" rx="8.79" ry="4.4" fill="#52aeb0"/>
<ellipse cx="963.55" cy="1628.28" rx="2.11" ry="7.03" fill="#52aeb0"/>
<ellipse cx="1066.43" cy="1628.28" rx="1.76" ry="8.79" fill="#52aeb0"/>
<ellipse cx="1011.04" cy="1607.17" rx="7.03" ry="4.4" fill="#9d9b1f"/>
<ellipse cx="996.97" cy="1619.48" rx="5.28" ry="3.17" fill="#9d9b1f"/>
<ellipse cx="1019.83" cy="1591.35" rx="5.28" ry="2.46" fill="#9d9b1f"/>
<ellipse cx="984.66" cy="1681.04" rx="17.59" ry="11.43" fill="#52aeb0"/>
<ellipse cx="1044.45" cy="1679.28" rx="16.71" ry="10.55" fill="#52aeb0"/>
<ellipse cx="1013.67" cy="1686.31" rx="14.07" ry="8.79" fill="#52aeb0"/>
<ellipse cx="975.86" cy="1693.35" rx="7.03" ry="7.03" fill="#52aeb0"/>
<ellipse cx="1053.24" cy="1691.59" rx="7.03" ry="7.03" fill="#52aeb0"/>
<ellipse cx="988.17" cy="1693.35" rx="8.79" ry="3.87" fill="#9d9b1f" transform="rotate(35 988.17 1693.35)"/>
<ellipse cx="1040.93" cy="1693.35" rx="8.79" ry="3.87" fill="#9d9b1f" transform="rotate(-35 1040.93 1693.35)"/>
<ellipse cx="1013.67" cy="1698.62" rx="7.03" ry="3.52" fill="#9d9b1f"/>
<ellipse cx="1013.67" cy="1733.8" rx="3.17" ry="8.79" fill="#52aeb0"/>
<ellipse cx="1004" cy="1572.88" rx="10.55" ry="8.79" fill="#1c1c1c"/>
<ellipse cx="1025.11" cy="1572" rx="10.55" ry="9.67" fill="#1c1c1c"/>
<ellipse cx="1015.43" cy="1578.16" rx="20.22" ry="4.4" fill="#1c1c1c"/>
<ellipse cx="997.85" cy="1522.76" rx="5.28" ry="2.46" fill="#1c1c1c"/>
<ellipse cx="1028.62" cy="1523.64" rx="5.28" ry="2.46" fill="#1c1c1c"/>
<ellipse cx="1012.8" cy="1543.86" rx="3.17" ry="7.03" fill="#1c1c1c"/>
<ellipse cx="1012.8" cy="1651.14" rx="3.17" ry="7.91" fill="#1c1c1c"/>
<ellipse cx="1015.43" cy="1666.97" rx="3.87" ry="7.03" fill="#1c1c1c"/>
<ellipse cx="1019.83" cy="1656.42" rx="3.17" ry="1.41" fill="#1c1c1c"/>
<ellipse cx="1037.42" cy="1654.66" rx="1.41" ry="1.76" fill="#1c1c1c"/>
<ellipse cx="988.17" cy="1659.93" rx="1.41" ry="1.06" fill="#1c1c1c"/>
<ellipse cx="1042.69" cy="1638.83" rx="1.06" ry="1.41" fill="#1c1c1c"/>
<ellipse cx="1004.88" cy="1677.52" rx="1.76" ry="1.41" fill="#1c1c1c"/>
<ellipse cx="1022.47" cy="1677.52" rx="1.41" ry="2.11" fill="#1c1c1c"/>
<ellipse cx="1013.67" cy="1717.97" rx="2.11" ry="6.16" fill="#1c1c1c"/>
<ellipse cx="1011.92" cy="1498.14" rx="8.79" ry="1.41" fill="#e8e8e8" opacity="0.8"/>
<ellipse cx="1013.67" cy="1529.79" rx="7.03" ry="3.17" fill="#e8e8e8" opacity="0.8"/>
<ellipse cx="1013.67" cy="1559.69" rx="5.28" ry="1.76" fill="#e8e8e8" opacity="0.8"/>
<ellipse cx="982.9" cy="1680.16" rx="5.28" ry="1.41" fill="#e8e8e8" opacity="0.8" transform="rotate(15 982.9 1680.16)"/>
<ellipse cx="1046.21" cy="1679.28" rx="5.28" ry="1.41" fill="#e8e8e8" opacity="0.8" transform="rotate(-15 1046.21 1679.28)"/>
<ellipse cx="1013.67" cy="1733.8" rx="1.76" ry="4.4" fill="#e8e8e8" opacity="0.8"/>
</g>
</g>
<!-- panel_scan_s -->
<rect x="812.91" y="1900.9" width="131.02" height="262.04" fill="#000"/>
<clipPath id="sc5"><path d="M866.55 1914.97 C863.77 1914.97 867.43 1913.27 866.55 1914.97 C865.67 1916.67 862.74 1921.13 861.28 1925.17 C859.81 1929.22 859.81 1931.91 857.76 1939.24 C855.71 1946.57 851.46 1958.29 848.97 1969.14 C846.47 1979.98 844.86 1992.59 842.81 2004.31 C840.76 2016.04 837.83 2030.69 836.66 2039.48 C835.48 2048.28 835.63 2051.21 835.78 2057.07 C835.92 2062.93 836.51 2068.8 837.53 2074.66 C838.56 2080.52 838.56 2086.38 841.93 2092.24 C845.3 2098.11 851.9 2104.85 857.76 2109.83 C863.62 2114.81 872.77 2119.3 877.1 2122.14 C881.44 2124.98 881.44 2126.89 883.79 2126.89 C886.13 2126.89 887.01 2124.98 891.17 2122.14 C895.34 2119.3 904.07 2114.81 908.76 2109.83 C913.45 2104.85 916.67 2098.11 919.31 2092.24 C921.95 2086.38 923.42 2080.52 924.59 2074.66 C925.76 2068.8 926.35 2062.93 926.35 2057.07 C926.35 2051.21 926.05 2048.28 924.59 2039.48 C923.12 2030.69 920.19 2016.04 917.55 2004.31 C914.92 1992.59 911.98 1979.98 908.76 1969.14 C905.54 1958.29 901.43 1946.57 898.21 1939.24 C894.98 1931.91 891.91 1929.22 889.41 1925.17 C886.92 1921.13 884.29 1916.67 883.26 1914.97 C882.23 1913.27 886.04 1914.97 883.26 1914.97 C880.48 1914.97 869.34 1914.97 866.55 1914.97Z"/></clipPath>
<path d="M866.55 1914.97 C863.77 1914.97 867.43 1913.27 866.55 1914.97 C865.67 1916.67 862.74 1921.13 861.28 1925.17 C859.81 1929.22 859.81 1931.91 857.76 1939.24 C855.71 1946.57 851.46 1958.29 848.97 1969.14 C846.47 1979.98 844.86 1992.59 842.81 2004.31 C840.76 2016.04 837.83 2030.69 836.66 2039.48 C835.48 2048.28 835.63 2051.21 835.78 2057.07 C835.92 2062.93 836.51 2068.8 837.53 2074.66 C838.56 2080.52 838.56 2086.38 841.93 2092.24 C845.3 2098.11 851.9 2104.85 857.76 2109.83 C863.62 2114.81 872.77 2119.3 877.1 2122.14 C881.44 2124.98 881.44 2126.89 883.79 2126.89 C886.13 2126.89 887.01 2124.98 891.17 2122.14 C895.34 2119.3 904.07 2114.81 908.76 2109.83 C913.45 2104.85 916.67 2098.11 919.31 2092.24 C921.95 2086.38 923.42 2080.52 924.59 2074.66 C925.76 2068.8 926.35 2062.93 926.35 2057.07 C926.35 2051.21 926.05 2048.28 924.59 2039.48 C923.12 2030.69 920.19 2016.04 917.55 2004.31 C914.92 1992.59 911.98 1979.98 908.76 1969.14 C905.54 1958.29 901.43 1946.57 898.21 1939.24 C894.98 1931.91 891.91 1929.22 889.41 1925.17 C886.92 1921.13 884.29 1916.67 883.26 1914.97 C882.23 1913.27 886.04 1914.97 883.26 1914.97 C880.48 1914.97 869.34 1914.97 866.55 1914.97Z" fill="#777" stroke="#777" stroke-width="2.4" filter="url(#halo)" opacity="0.6"/>
<path d="M866.55 1914.97 C863.77 1914.97 867.43 1913.27 866.55 1914.97 C865.67 1916.67 862.74 1921.13 861.28 1925.17 C859.81 1929.22 859.81 1931.91 857.76 1939.24 C855.71 1946.57 851.46 1958.29 848.97 1969.14 C846.47 1979.98 844.86 1992.59 842.81 2004.31 C840.76 2016.04 837.83 2030.69 836.66 2039.48 C835.48 2048.28 835.63 2051.21 835.78 2057.07 C835.92 2062.93 836.51 2068.8 837.53 2074.66 C838.56 2080.52 838.56 2086.38 841.93 2092.24 C845.3 2098.11 851.9 2104.85 857.76 2109.83 C863.62 2114.81 872.77 2119.3 877.1 2122.14 C881.44 2124.98 881.44 2126.89 883.79 2126.89 C886.13 2126.89 887.01 2124.98 891.17 2122.14 C895.34 2119.3 904.07 2114.81 908.76 2109.83 C913.45 2104.85 916.67 2098.11 919.31 2092.24 C921.95 2086.38 923.42 2080.52 924.59 2074.66 C925.76 2068.8 926.35 2062.93 926.35 2057.07 C926.35 2051.21 926.05 2048.28 924.59 2039.48 C923.12 2030.69 920.19 2016.04 917.55 2004.31 C914.92 1992.59 911.98 1979.98 908.76 1969.14 C905.54 1958.29 901.43 1946.57 898.21 1939.24 C894.98 1931.91 891.91 1929.22 889.41 1925.17 C886.92 1921.13 884.29 1916.67 883.26 1914.97 C882.23 1913.27 886.04 1914.97 883.26 1914.97 C880.48 1914.97 869.34 1914.97 866.55 1914.97Z" fill="#9d9b1f"/>
<g clip-path="url(#sc5)">
<g filter="url(#rough)">
<ellipse cx="876.22" cy="1928.69" rx="19.35" ry="14.95" fill="#52aeb0"/>
<ellipse cx="861.28" cy="1965.62" rx="8.79" ry="10.55" fill="#52aeb0"/>
<ellipse cx="892.93" cy="1963.86" rx="9.67" ry="10.55" fill="#52aeb0"/>
<ellipse cx="877.98" cy="1960.35" rx="7.91" ry="7.03" fill="#52aeb0"/>
<ellipse cx="880.62" cy="1974.41" rx="17.59" ry="4.4" fill="#52aeb0"/>
<ellipse cx="857.76" cy="2023.66" rx="15.83" ry="7.03" fill="#52aeb0"/>
<ellipse cx="896.45" cy="2018.38" rx="15.83" ry="15.83" fill="#52aeb0"/>
<ellipse cx="866.55" cy="2037.73" rx="7.03" ry="10.55" fill="#52aeb0"/>
<ellipse cx="899.97" cy="2035.97" rx="7.91" ry="8.79" fill="#52aeb0"/>
<ellipse cx="878.86" cy="2007.83" rx="26.38" ry="6.16" fill="#52aeb0"/>
<ellipse cx="863.04" cy="2011.35" rx="7.03" ry="3.52" fill="#9d9b1f"/>
<ellipse cx="880.62" cy="2023.66" rx="4.4" ry="10.55" fill="#9d9b1f"/>
<ellipse cx="859.52" cy="2088.73" rx="15.83" ry="15.83" fill="#52aeb0"/>
<ellipse cx="903.48" cy="2088.73" rx="14.95" ry="14.07" fill="#52aeb0"/>
<ellipse cx="878.86" cy="2092.24" rx="5.28" ry="31.66" fill="#52aeb0"/>
<ellipse cx="889.41" cy="2092.24" rx="3.52" ry="26.38" fill="#52aeb0"/>
<ellipse cx="884.14" cy="2116.86" rx="6.16" ry="8.79" fill="#52aeb0"/>
<ellipse cx="884.14" cy="2088.73" rx="1.41" ry="17.59" fill="#9d9b1f"/>
<ellipse cx="852.48" cy="2106.31" rx="8.79" ry="3.52" fill="#9d9b1f" transform="rotate(35 852.48 2106.31)"/>
<ellipse cx="912.28" cy="2106.31" rx="8.79" ry="3.52" fill="#9d9b1f" transform="rotate(-35 912.28 2106.31)"/>
<ellipse cx="872.71" cy="1990.24" rx="10.55" ry="9.67" fill="#1c1c1c"/>
<ellipse cx="891.17" cy="1989.36" rx="9.67" ry="10.55" fill="#1c1c1c"/>
<ellipse cx="882.38" cy="1997.28" rx="19.35" ry="3.52" fill="#1c1c1c"/>
<ellipse cx="877.98" cy="1986.73" rx="2.11" ry="5.28" fill="#9d9b1f"/>
<ellipse cx="891.17" cy="1942.76" rx="7.03" ry="2.46" fill="#1c1c1c"/>
<ellipse cx="862.16" cy="2053.55" rx="2.46" ry="2.11" fill="#1c1c1c"/>
<ellipse cx="871.83" cy="2053.55" rx="2.46" ry="1.76" fill="#1c1c1c"/>
<ellipse cx="905.24" cy="2048.28" rx="0.88" ry="6.16" fill="#1c1c1c"/>
<ellipse cx="859.52" cy="2064.11" rx="0.88" ry="2.11" fill="#1c1c1c"/>
<ellipse cx="892.93" cy="2071.14" rx="0.7" ry="3.52" fill="#1c1c1c"/>
<ellipse cx="875.35" cy="1916.38" rx="7.03" ry="1.41" fill="#e8e8e8" opacity="0.8"/>
<ellipse cx="889.41" cy="1931.33" rx="2.46" ry="2.81" fill="#e8e8e8" opacity="0.8"/>
<ellipse cx="864.79" cy="1933.09" rx="2.11" ry="1.76" fill="#e8e8e8" opacity="0.8"/>
<ellipse cx="878.86" cy="1956.83" rx="4.4" ry="1.76" fill="#e8e8e8" opacity="0.8"/>
<ellipse cx="878.86" cy="1976.17" rx="5.28" ry="1.41" fill="#e8e8e8" opacity="0.8"/>
<ellipse cx="861.28" cy="2086.97" rx="7.91" ry="1.58" fill="#e8e8e8" opacity="0.8" transform="rotate(25 861.28 2086.97)"/>
<ellipse cx="902.6" cy="2090.49" rx="7.03" ry="1.58" fill="#e8e8e8" opacity="0.8" transform="rotate(-20 902.6 2090.49)"/>
<ellipse cx="872.71" cy="2095.76" rx="1.23" ry="7.03" fill="#e8e8e8" opacity="0.8"/>
<ellipse cx="892.05" cy="2094" rx="1.23" ry="8.79" fill="#e8e8e8" opacity="0.8"/>
<ellipse cx="883.26" cy="2115.11" rx="2.11" ry="4.4" fill="#e8e8e8" opacity="0.8"/>
</g>
</g>
<rect x="955.89" y="1900.9" width="131.02" height="262.92" fill="#000"/>
<clipPath id="sc6"><path d="M1010.76 1913.21 C1007.68 1913.21 1011.64 1911.22 1010.76 1913.21 C1009.88 1915.21 1007.54 1920.83 1005.49 1925.17 C1003.43 1929.51 1001.38 1931.91 998.45 1939.24 C995.52 1946.57 991.27 1958.29 987.9 1969.14 C984.53 1979.98 981.01 1992.59 978.23 2004.31 C975.44 2016.04 972.66 2030.69 971.19 2039.48 C969.73 2048.28 969.43 2051.21 969.43 2057.07 C969.43 2062.93 969.58 2068.8 971.19 2074.66 C972.8 2080.52 975.73 2086.38 979.11 2092.24 C982.48 2098.11 985.26 2104.55 991.42 2109.83 C997.57 2115.11 1010.32 2120.03 1016.04 2123.9 C1021.75 2127.77 1022.49 2133.04 1025.71 2133.04 C1028.93 2133.04 1029.96 2127.77 1035.38 2123.9 C1040.8 2120.03 1052.68 2115.11 1058.24 2109.83 C1063.81 2104.55 1065.87 2098.11 1068.8 2092.24 C1071.73 2086.38 1074.37 2080.52 1075.83 2074.66 C1077.3 2068.8 1077.44 2062.93 1077.59 2057.07 C1077.74 2051.21 1078.47 2048.28 1076.71 2039.48 C1074.95 2030.69 1070.7 2016.04 1067.04 2004.31 C1063.37 1992.59 1058.98 1979.98 1054.73 1969.14 C1050.48 1958.29 1044.91 1946.57 1041.54 1939.24 C1038.17 1931.91 1036.55 1929.51 1034.5 1925.17 C1032.45 1920.83 1030.11 1915.21 1029.23 1913.21 C1028.35 1911.22 1032.3 1913.21 1029.23 1913.21 C1026.15 1913.21 1013.84 1913.21 1010.76 1913.21Z"/></clipPath>
<path d="M1010.76 1913.21 C1007.68 1913.21 1011.64 1911.22 1010.76 1913.21 C1009.88 1915.21 1007.54 1920.83 1005.49 1925.17 C1003.43 1929.51 1001.38 1931.91 998.45 1939.24 C995.52 1946.57 991.27 1958.29 987.9 1969.14 C984.53 1979.98 981.01 1992.59 978.23 2004.31 C975.44 2016.04 972.66 2030.69 971.19 2039.48 C969.73 2048.28 969.43 2051.21 969.43 2057.07 C969.43 2062.93 969.58 2068.8 971.19 2074.66 C972.8 2080.52 975.73 2086.38 979.11 2092.24 C982.48 2098.11 985.26 2104.55 991.42 2109.83 C997.57 2115.11 1010.32 2120.03 1016.04 2123.9 C1021.75 2127.77 1022.49 2133.04 1025.71 2133.04 C1028.93 2133.04 1029.96 2127.77 1035.38 2123.9 C1040.8 2120.03 1052.68 2115.11 1058.24 2109.83 C1063.81 2104.55 1065.87 2098.11 1068.8 2092.24 C1071.73 2086.38 1074.37 2080.52 1075.83 2074.66 C1077.3 2068.8 1077.44 2062.93 1077.59 2057.07 C1077.74 2051.21 1078.47 2048.28 1076.71 2039.48 C1074.95 2030.69 1070.7 2016.04 1067.04 2004.31 C1063.37 1992.59 1058.98 1979.98 1054.73 1969.14 C1050.48 1958.29 1044.91 1946.57 1041.54 1939.24 C1038.17 1931.91 1036.55 1929.51 1034.5 1925.17 C1032.45 1920.83 1030.11 1915.21 1029.23 1913.21 C1028.35 1911.22 1032.3 1913.21 1029.23 1913.21 C1026.15 1913.21 1013.84 1913.21 1010.76 1913.21Z" fill="#777" stroke="#777" stroke-width="2.4" filter="url(#halo)" opacity="0.6"/>
<path d="M1010.76 1913.21 C1007.68 1913.21 1011.64 1911.22 1010.76 1913.21 C1009.88 1915.21 1007.54 1920.83 1005.49 1925.17 C1003.43 1929.51 1001.38 1931.91 998.45 1939.24 C995.52 1946.57 991.27 1958.29 987.9 1969.14 C984.53 1979.98 981.01 1992.59 978.23 2004.31 C975.44 2016.04 972.66 2030.69 971.19 2039.48 C969.73 2048.28 969.43 2051.21 969.43 2057.07 C969.43 2062.93 969.58 2068.8 971.19 2074.66 C972.8 2080.52 975.73 2086.38 979.11 2092.24 C982.48 2098.11 985.26 2104.55 991.42 2109.83 C997.57 2115.11 1010.32 2120.03 1016.04 2123.9 C1021.75 2127.77 1022.49 2133.04 1025.71 2133.04 C1028.93 2133.04 1029.96 2127.77 1035.38 2123.9 C1040.8 2120.03 1052.68 2115.11 1058.24 2109.83 C1063.81 2104.55 1065.87 2098.11 1068.8 2092.24 C1071.73 2086.38 1074.37 2080.52 1075.83 2074.66 C1077.3 2068.8 1077.44 2062.93 1077.59 2057.07 C1077.74 2051.21 1078.47 2048.28 1076.71 2039.48 C1074.95 2030.69 1070.7 2016.04 1067.04 2004.31 C1063.37 1992.59 1058.98 1979.98 1054.73 1969.14 C1050.48 1958.29 1044.91 1946.57 1041.54 1939.24 C1038.17 1931.91 1036.55 1929.51 1034.5 1925.17 C1032.45 1920.83 1030.11 1915.21 1029.23 1913.21 C1028.35 1911.22 1032.3 1913.21 1029.23 1913.21 C1026.15 1913.21 1013.84 1913.21 1010.76 1913.21Z" fill="#9d9b1f"/>
<g clip-path="url(#sc6)">
<g filter="url(#rough)">
<ellipse cx="1020.43" cy="1925.17" rx="19.35" ry="14.07" fill="#52aeb0"/>
<ellipse cx="1005.49" cy="1962.1" rx="7.91" ry="8.79" fill="#52aeb0"/>
<ellipse cx="1038.9" cy="1963.86" rx="9.67" ry="9.67" fill="#52aeb0"/>
<ellipse cx="1021.31" cy="1956.83" rx="8.79" ry="7.03" fill="#52aeb0"/>
<ellipse cx="1021.31" cy="1972.66" rx="12.31" ry="3.52" fill="#52aeb0"/>
<ellipse cx="989.66" cy="2020.14" rx="12.31" ry="10.55" fill="#52aeb0"/>
<ellipse cx="1040.66" cy="2016.62" rx="19.35" ry="15.83" fill="#52aeb0"/>
<ellipse cx="1016.04" cy="2006.07" rx="31.66" ry="7.91" fill="#52aeb0"/>
<ellipse cx="1009" cy="2035.97" rx="7.03" ry="12.31" fill="#52aeb0"/>
<ellipse cx="1026.59" cy="2027.17" rx="10.55" ry="8.79" fill="#52aeb0"/>
<ellipse cx="1061.76" cy="2023.66" rx="7.03" ry="5.28" fill="#52aeb0"/>
<ellipse cx="1016.04" cy="2016.62" rx="8.79" ry="6.16" fill="#9d9b1f"/>
<ellipse cx="996.69" cy="2020.14" rx="4.4" ry="3.17" fill="#9d9b1f"/>
<ellipse cx="1030.11" cy="2034.21" rx="5.28" ry="2.46" fill="#9d9b1f"/>
<ellipse cx="994.93" cy="2088.73" rx="17.59" ry="12.31" fill="#52aeb0"/>
<ellipse cx="1054.73" cy="2086.97" rx="16.71" ry="11.43" fill="#52aeb0"/>
<ellipse cx="1024.83" cy="2095.76" rx="15.83" ry="8.79" fill="#52aeb0"/>
<ellipse cx="1025.71" cy="2118.62" rx="7.91" ry="10.55" fill="#52aeb0"/>
<ellipse cx="986.14" cy="2099.28" rx="7.03" ry="7.03" fill="#52aeb0"/>
<ellipse cx="1000.21" cy="2101.04" rx="7.91" ry="2.81" fill="#9d9b1f" transform="rotate(35 1000.21 2101.04)"/>
<ellipse cx="1051.21" cy="2101.04" rx="7.91" ry="2.81" fill="#9d9b1f" transform="rotate(-35 1051.21 2101.04)"/>
<ellipse cx="1024.83" cy="2085.21" rx="7.03" ry="3.87" fill="#9d9b1f"/>
<ellipse cx="1014.28" cy="1986.73" rx="10.55" ry="8.79" fill="#1c1c1c"/>
<ellipse cx="1031.86" cy="1985.85" rx="10.55" ry="8.79" fill="#1c1c1c"/>
<ellipse cx="1023.07" cy="1992.88" rx="19.35" ry="3.52" fill="#1c1c1c"/>
<ellipse cx="1018.67" cy="1983.21" rx="3.52" ry="2.46" fill="#9d9b1f"/>
<ellipse cx="1031.86" cy="1979.69" rx="2.46" ry="1.76" fill="#9d9b1f"/>
<ellipse cx="1004.61" cy="1941.88" rx="5.28" ry="2.11" fill="#1c1c1c"/>
<ellipse cx="1030.11" cy="1941" rx="5.28" ry="2.11" fill="#1c1c1c"/>
<ellipse cx="1025.71" cy="2051.8" rx="2.81" ry="7.03" fill="#1c1c1c"/>
<ellipse cx="1016.04" cy="2046.52" rx="3.52" ry="1.41" fill="#1c1c1c"/>
<ellipse cx="996.69" cy="2041.24" rx="0.88" ry="4.4" fill="#1c1c1c"/>
<ellipse cx="1000.21" cy="2065.86" rx="1.41" ry="1.41" fill="#1c1c1c"/>
<ellipse cx="1038.9" cy="2058.83" rx="1.41" ry="1.06" fill="#1c1c1c"/>
<ellipse cx="1047.69" cy="2071.14" rx="0.88" ry="1.41" fill="#1c1c1c"/>
<ellipse cx="1009" cy="2057.07" rx="1.41" ry="1.06" fill="#1c1c1c"/>
<ellipse cx="1030.11" cy="2064.11" rx="1.06" ry="1.06" fill="#1c1c1c"/>
<ellipse cx="1016.04" cy="2088.73" rx="2.11" ry="1.76" fill="#1c1c1c"/>
<ellipse cx="1032.74" cy="2088.73" rx="1.76" ry="1.76" fill="#1c1c1c"/>
<ellipse cx="1025.71" cy="2114.23" rx="1.76" ry="1.76" fill="#1c1c1c"/>
<ellipse cx="1020.43" cy="1914.62" rx="7.03" ry="1.41" fill="#e8e8e8" opacity="0.8"/>
<ellipse cx="1007.24" cy="1932.21" rx="2.46" ry="2.11" fill="#e8e8e8" opacity="0.8"/>
<ellipse cx="1031.86" cy="1932.21" rx="2.46" ry="2.81" fill="#e8e8e8" opacity="0.8"/>
<ellipse cx="1016.04" cy="1941.88" rx="4.4" ry="1.76" fill="#e8e8e8" opacity="0.8"/>
<ellipse cx="1020.43" cy="1953.31" rx="4.4" ry="1.76" fill="#e8e8e8" opacity="0.8"/>
<ellipse cx="995.81" cy="2088.73" rx="4.92" ry="1.41" fill="#e8e8e8" opacity="0.8" transform="rotate(20 995.81 2088.73)"/>
<ellipse cx="1055.61" cy="2088.73" rx="4.92" ry="1.41" fill="#e8e8e8" opacity="0.8" transform="rotate(-25 1055.61 2088.73)"/>
<ellipse cx="1025.71" cy="2122.14" rx="3.17" ry="3.87" fill="#e8e8e8" opacity="0.8"/>
</g>
</g>
<!-- panel_n -->
<text x="-0.4" y="1421.5" font-size="38" textLength="24.6" lengthAdjust="spacingAndGlyphs" font-weight="bold" stroke="#000" stroke-width="1.7" stroke-linejoin="round">n</text>
<text x="56.83" y="1446.83" font-size="21" text-anchor="middle" style="font-family:DejaVu Sans,sans-serif">♂</text>
<line x1="93.26" y1="1442.83" x2="123.27" y2="1442.83" stroke="#000" stroke-width="2.6"/>
<circle cx="108.27" cy="1442.83" r="4.2" fill="#000"/>
<text x="135.28" y="1448.04" font-size="18.5" textLength="61.64" lengthAdjust="spacingAndGlyphs">NCD<tspan font-size="12.03" dy="5.55">dev</tspan><tspan dy="-5.55">&#8203;</tspan></text>
<line x1="226.14" y1="1442.83" x2="256.16" y2="1442.83" stroke="#d9420b" stroke-width="2.6"/>
<circle cx="241.15" cy="1442.83" r="4.2" fill="#d9420b"/>
<text x="268.16" y="1448.04" font-size="18.5" textLength="56.03" lengthAdjust="spacingAndGlyphs">BFD<tspan font-size="12.03" dy="5.55">dev</tspan><tspan dy="-5.55">&#8203;</tspan></text>
<line x1="84.85" y1="1494.14" x2="84.85" y2="1746.14" stroke="#1a1a1a" stroke-width="1.45"/>
<line x1="79.25" y1="1494.86" x2="84.85" y2="1494.86" stroke="#1a1a1a" stroke-width="1.45"/>
<text x="71.45" y="1501.17" font-size="18.29" text-anchor="end" textLength="22.18" lengthAdjust="spacingAndGlyphs">25</text>
<line x1="79.25" y1="1544.89" x2="84.85" y2="1544.89" stroke="#1a1a1a" stroke-width="1.45"/>
<text x="71.45" y="1551.2" font-size="18.29" text-anchor="end" textLength="22.18" lengthAdjust="spacingAndGlyphs">20</text>
<line x1="79.25" y1="1594.92" x2="84.85" y2="1594.92" stroke="#1a1a1a" stroke-width="1.45"/>
<text x="71.45" y="1601.23" font-size="18.29" text-anchor="end" textLength="17.69" lengthAdjust="spacingAndGlyphs">15</text>
<line x1="79.25" y1="1644.95" x2="84.85" y2="1644.95" stroke="#1a1a1a" stroke-width="1.45"/>
<text x="71.45" y="1651.26" font-size="18.29" text-anchor="end" textLength="17.69" lengthAdjust="spacingAndGlyphs">10</text>
<line x1="79.25" y1="1695.39" x2="84.85" y2="1695.39" stroke="#1a1a1a" stroke-width="1.45"/>
<text x="71.45" y="1701.69" font-size="18.29" text-anchor="end" textLength="10.98" lengthAdjust="spacingAndGlyphs">5</text>
<line x1="79.25" y1="1745.42" x2="84.85" y2="1745.42" stroke="#1a1a1a" stroke-width="1.45"/>
<text x="71.45" y="1751.72" font-size="18.29" text-anchor="end" textLength="10.98" lengthAdjust="spacingAndGlyphs">0</text>
<line x1="84.13" y1="1745.42" x2="336.93" y2="1745.42" stroke="#1a1a1a" stroke-width="1.45"/>
<line x1="109.99" y1="1745.42" x2="109.99" y2="1749.92" stroke="#1a1a1a" stroke-width="1.45"/>
<text x="109.99" y="1772.23" font-size="18.03" text-anchor="middle">1</text>
<line x1="135.12" y1="1745.42" x2="135.12" y2="1749.92" stroke="#1a1a1a" stroke-width="1.45"/>
<text x="135.12" y="1772.23" font-size="18.03" text-anchor="middle" textLength="10.83" lengthAdjust="spacingAndGlyphs">2</text>
<line x1="160.26" y1="1745.42" x2="160.26" y2="1749.92" stroke="#1a1a1a" stroke-width="1.45"/>
<text x="160.26" y="1772.23" font-size="18.03" text-anchor="middle" textLength="10.83" lengthAdjust="spacingAndGlyphs">3</text>
<line x1="185.39" y1="1745.42" x2="185.39" y2="1749.92" stroke="#1a1a1a" stroke-width="1.45"/>
<text x="185.39" y="1772.23" font-size="18.03" text-anchor="middle" textLength="10.83" lengthAdjust="spacingAndGlyphs">4</text>
<line x1="210.53" y1="1745.42" x2="210.53" y2="1749.92" stroke="#1a1a1a" stroke-width="1.45"/>
<text x="210.53" y="1772.23" font-size="18.03" text-anchor="middle" textLength="10.83" lengthAdjust="spacingAndGlyphs">5</text>
<line x1="235.66" y1="1745.42" x2="235.66" y2="1749.92" stroke="#1a1a1a" stroke-width="1.45"/>
<text x="235.66" y="1772.23" font-size="18.03" text-anchor="middle" textLength="10.83" lengthAdjust="spacingAndGlyphs">6</text>
<line x1="260.8" y1="1745.42" x2="260.8" y2="1749.92" stroke="#1a1a1a" stroke-width="1.45"/>
<text x="260.8" y="1772.23" font-size="18.03" text-anchor="middle" textLength="10.83" lengthAdjust="spacingAndGlyphs">7</text>
<line x1="285.93" y1="1745.42" x2="285.93" y2="1749.92" stroke="#1a1a1a" stroke-width="1.45"/>
<text x="285.93" y="1772.23" font-size="18.03" text-anchor="middle" textLength="10.83" lengthAdjust="spacingAndGlyphs">8</text>
<line x1="311.07" y1="1745.42" x2="311.07" y2="1749.92" stroke="#1a1a1a" stroke-width="1.45"/>
<text x="311.07" y="1772.23" font-size="18.03" text-anchor="middle" textLength="10.83" lengthAdjust="spacingAndGlyphs">9</text>
<line x1="336.2" y1="1745.42" x2="336.2" y2="1749.92" stroke="#1a1a1a" stroke-width="1.45"/>
<text x="336.2" y="1772.23" font-size="18.03" text-anchor="middle" textLength="17.43" lengthAdjust="spacingAndGlyphs">10</text>
<text font-size="22" text-anchor="middle" textLength="164.1" lengthAdjust="spacingAndGlyphs" transform="translate(28.52 1620.14) rotate(-90)">Weight gain (g)</text>
<text x="124.08" y="1804.25" font-size="22" textLength="174.11" lengthAdjust="spacingAndGlyphs">Weeks of HFD<tspan font-size="14.3" dy="6.6">lard</tspan><tspan dy="-6.6">&#8203;</tspan></text>
<text x="99.26" y="1504.07" font-size="22" textLength="140.08" lengthAdjust="spacingAndGlyphs">Time × group</text>
<text x="248.95" y="1507.26" font-size="20.29" text-anchor="middle">*</text>
<text x="99.26" y="1530.08" font-size="22" textLength="64.04" lengthAdjust="spacingAndGlyphs">group</text>
<text x="177.31" y="1533.28" font-size="20.29" text-anchor="middle" textLength="16.39" lengthAdjust="spacingAndGlyphs">**</text>
<line x1="110.07" y1="1722.2" x2="110.07" y2="1728.61" stroke="#d9420b" stroke-width="1.1"/>
<line x1="107.07" y1="1722.2" x2="113.07" y2="1722.2" stroke="#d9420b" stroke-width="1.1"/>
<line x1="107.07" y1="1728.61" x2="113.07" y2="1728.61" stroke="#d9420b" stroke-width="1.1"/>
<line x1="135.28" y1="1696.99" x2="135.28" y2="1708.99" stroke="#d9420b" stroke-width="1.1"/>
<line x1="132.28" y1="1696.99" x2="138.28" y2="1696.99" stroke="#d9420b" stroke-width="1.1"/>
<line x1="132.28" y1="1708.99" x2="138.28" y2="1708.99" stroke="#d9420b" stroke-width="1.1"/>
<line x1="160.1" y1="1670.17" x2="160.1" y2="1682.18" stroke="#d9420b" stroke-width="1.1"/>
<line x1="157.1" y1="1670.17" x2="163.1" y2="1670.17" stroke="#d9420b" stroke-width="1.1"/>
<line x1="157.1" y1="1682.18" x2="163.1" y2="1682.18" stroke="#d9420b" stroke-width="1.1"/>
<line x1="210.13" y1="1624.54" x2="210.13" y2="1638.15" stroke="#d9420b" stroke-width="1.1"/>
<line x1="207.13" y1="1624.54" x2="213.13" y2="1624.54" stroke="#d9420b" stroke-width="1.1"/>
<line x1="207.13" y1="1638.15" x2="213.13" y2="1638.15" stroke="#d9420b" stroke-width="1.1"/>
<line x1="235.34" y1="1595.72" x2="235.34" y2="1613.34" stroke="#d9420b" stroke-width="1.1"/>
<line x1="232.34" y1="1595.72" x2="238.34" y2="1595.72" stroke="#d9420b" stroke-width="1.1"/>
<line x1="232.34" y1="1613.34" x2="238.34" y2="1613.34" stroke="#d9420b" stroke-width="1.1"/>
<line x1="260.56" y1="1576.11" x2="260.56" y2="1593.72" stroke="#d9420b" stroke-width="1.1"/>
<line x1="257.56" y1="1576.11" x2="263.56" y2="1576.11" stroke="#d9420b" stroke-width="1.1"/>
<line x1="257.56" y1="1593.72" x2="263.56" y2="1593.72" stroke="#d9420b" stroke-width="1.1"/>
<line x1="285.37" y1="1560.5" x2="285.37" y2="1576.51" stroke="#d9420b" stroke-width="1.1"/>
<line x1="282.37" y1="1560.5" x2="288.37" y2="1560.5" stroke="#d9420b" stroke-width="1.1"/>
<line x1="282.37" y1="1576.51" x2="288.37" y2="1576.51" stroke="#d9420b" stroke-width="1.1"/>
<line x1="336.2" y1="1500.07" x2="336.2" y2="1514.48" stroke="#d9420b" stroke-width="1.1"/>
<line x1="333.2" y1="1500.07" x2="339.2" y2="1500.07" stroke="#d9420b" stroke-width="1.1"/>
<line x1="333.2" y1="1514.48" x2="339.2" y2="1514.48" stroke="#d9420b" stroke-width="1.1"/>
<polyline points="84.85,1745.42 110.07,1725.4 135.28,1702.99 160.1,1676.17 210.13,1631.35 235.34,1604.53 260.56,1584.92 285.37,1568.51 336.2,1507.27" fill="none" stroke="#d9420b" stroke-width="2.6" stroke-linejoin="round"/>
<g fill="#d9420b">
<circle cx="84.85" cy="1745.42" r="3.7"/>
<circle cx="110.07" cy="1725.4" r="3.7"/>
<circle cx="135.28" cy="1702.99" r="3.7"/>
<circle cx="160.1" cy="1676.17" r="3.7"/>
<circle cx="210.13" cy="1631.35" r="3.7"/>
<circle cx="235.34" cy="1604.53" r="3.7"/>
<circle cx="260.56" cy="1584.92" r="3.7"/>
<circle cx="285.37" cy="1568.51" r="3.7"/>
<circle cx="336.2" cy="1507.27" r="3.7"/>
</g>
<line x1="110.07" y1="1730.61" x2="110.07" y2="1734.61" stroke="#000" stroke-width="1.1"/>
<line x1="107.07" y1="1730.61" x2="113.07" y2="1730.61" stroke="#000" stroke-width="1.1"/>
<line x1="107.07" y1="1734.61" x2="113.07" y2="1734.61" stroke="#000" stroke-width="1.1"/>
<line x1="135.28" y1="1710.59" x2="135.28" y2="1717" stroke="#000" stroke-width="1.1"/>
<line x1="132.28" y1="1710.59" x2="138.28" y2="1710.59" stroke="#000" stroke-width="1.1"/>
<line x1="132.28" y1="1717" x2="138.28" y2="1717" stroke="#000" stroke-width="1.1"/>
<line x1="160.1" y1="1688.18" x2="160.1" y2="1700.19" stroke="#000" stroke-width="1.1"/>
<line x1="157.1" y1="1688.18" x2="163.1" y2="1688.18" stroke="#000" stroke-width="1.1"/>
<line x1="157.1" y1="1700.19" x2="163.1" y2="1700.19" stroke="#000" stroke-width="1.1"/>
<line x1="210.13" y1="1646.96" x2="210.13" y2="1657.36" stroke="#000" stroke-width="1.1"/>
<line x1="207.13" y1="1646.96" x2="213.13" y2="1646.96" stroke="#000" stroke-width="1.1"/>
<line x1="207.13" y1="1657.36" x2="213.13" y2="1657.36" stroke="#000" stroke-width="1.1"/>
<line x1="235.34" y1="1625.74" x2="235.34" y2="1636.15" stroke="#000" stroke-width="1.1"/>
<line x1="232.34" y1="1625.74" x2="238.34" y2="1625.74" stroke="#000" stroke-width="1.1"/>
<line x1="232.34" y1="1636.15" x2="238.34" y2="1636.15" stroke="#000" stroke-width="1.1"/>
<line x1="260.56" y1="1603.33" x2="260.56" y2="1615.34" stroke="#000" stroke-width="1.1"/>
<line x1="257.56" y1="1603.33" x2="263.56" y2="1603.33" stroke="#000" stroke-width="1.1"/>
<line x1="257.56" y1="1615.34" x2="263.56" y2="1615.34" stroke="#000" stroke-width="1.1"/>
<line x1="285.37" y1="1582.92" x2="285.37" y2="1597.33" stroke="#000" stroke-width="1.1"/>
<line x1="282.37" y1="1582.92" x2="288.37" y2="1582.92" stroke="#000" stroke-width="1.1"/>
<line x1="282.37" y1="1597.33" x2="288.37" y2="1597.33" stroke="#000" stroke-width="1.1"/>
<line x1="336.2" y1="1530.49" x2="336.2" y2="1552.1" stroke="#000" stroke-width="1.1"/>
<line x1="333.2" y1="1530.49" x2="339.2" y2="1530.49" stroke="#000" stroke-width="1.1"/>
<line x1="333.2" y1="1552.1" x2="339.2" y2="1552.1" stroke="#000" stroke-width="1.1"/>
<polyline points="84.85,1745.42 110.07,1732.61 135.28,1713.8 160.1,1694.18 210.13,1652.16 235.34,1630.95 260.56,1609.33 285.37,1590.12 336.2,1541.29" fill="none" stroke="#000" stroke-width="2.6" stroke-linejoin="round"/>
<g fill="#000">
<circle cx="84.85" cy="1745.42" r="3.7"/>
<circle cx="110.07" cy="1732.61" r="3.7"/>
<circle cx="135.28" cy="1713.8" r="3.7"/>
<circle cx="160.1" cy="1694.18" r="3.7"/>
<circle cx="210.13" cy="1652.16" r="3.7"/>
<circle cx="235.34" cy="1630.95" r="3.7"/>
<circle cx="260.56" cy="1609.33" r="3.7"/>
<circle cx="285.37" cy="1590.12" r="3.7"/>
<circle cx="336.2" cy="1541.29" r="3.7"/>
</g>
<text x="210.13" y="1631.14" font-size="30.43" text-anchor="middle">*</text>
<text x="235.34" y="1601.92" font-size="30.43" text-anchor="middle">*</text>
<text x="260.56" y="1581.91" font-size="30.43" text-anchor="middle">*</text>
<text x="336.2" y="1505.86" font-size="30.43" text-anchor="middle">*</text>
<!-- panel_o -->
<text x="447.07" y="1421.5" font-size="38" textLength="25.1" lengthAdjust="spacingAndGlyphs" font-weight="bold" stroke="#000" stroke-width="1.7" stroke-linejoin="round">o</text>
<rect x="490.3" y="1434.03" width="12.41" height="12.41" fill="#000"/>
<text x="511.51" y="1446.03" font-size="18.5" textLength="61.64" lengthAdjust="spacingAndGlyphs">NCD<tspan font-size="12.03" dy="5.55">dev</tspan><tspan dy="-5.55">&#8203;</tspan></text>
<rect x="601.56" y="1434.03" width="12.41" height="12.41" fill="#d9420b"/>
<text x="622.38" y="1446.03" font-size="18.5" textLength="58.04" lengthAdjust="spacingAndGlyphs">BFD<tspan font-size="12.03" dy="5.55">dev</tspan><tspan dy="-5.55">&#8203;</tspan></text>
<line x1="521.52" y1="1494.94" x2="521.52" y2="1746.54" stroke="#1a1a1a" stroke-width="1.45"/>
<line x1="515.92" y1="1495.66" x2="521.52" y2="1495.66" stroke="#1a1a1a" stroke-width="1.45"/>
<text x="508.12" y="1501.97" font-size="18.29" text-anchor="end" textLength="22.18" lengthAdjust="spacingAndGlyphs">80</text>
<line x1="515.92" y1="1558.1" x2="521.52" y2="1558.1" stroke="#1a1a1a" stroke-width="1.45"/>
<text x="508.12" y="1564.41" font-size="18.29" text-anchor="end" textLength="22.18" lengthAdjust="spacingAndGlyphs">60</text>
<line x1="515.92" y1="1620.94" x2="521.52" y2="1620.94" stroke="#1a1a1a" stroke-width="1.45"/>
<text x="508.12" y="1627.25" font-size="18.29" text-anchor="end" textLength="22.18" lengthAdjust="spacingAndGlyphs">40</text>
<line x1="515.92" y1="1683.38" x2="521.52" y2="1683.38" stroke="#1a1a1a" stroke-width="1.45"/>
<text x="508.12" y="1689.69" font-size="18.29" text-anchor="end" textLength="22.18" lengthAdjust="spacingAndGlyphs">20</text>
<line x1="515.92" y1="1745.82" x2="521.52" y2="1745.82" stroke="#1a1a1a" stroke-width="1.45"/>
<text x="508.12" y="1752.12" font-size="18.29" text-anchor="end" textLength="10.98" lengthAdjust="spacingAndGlyphs">0</text>
<text font-size="22" text-anchor="middle" textLength="232.14" lengthAdjust="spacingAndGlyphs" transform="translate(464.78 1620.14) rotate(-90)">Body composition (%)</text>
<rect x="531.52" y="1626.14" width="19.21" height="119.67" fill="#000"/>
<line x1="541.13" y1="1623.74" x2="541.13" y2="1626.14" stroke="#333" stroke-width="1"/>
<line x1="538.33" y1="1623.74" x2="543.93" y2="1623.74" stroke="#333" stroke-width="1"/>
<g fill="#9a9a9a" fill-opacity="0.92">
<circle cx="534.44" cy="1609.52" r="2.6"/>
<circle cx="544.65" cy="1611.44" r="2.6"/>
<circle cx="544.65" cy="1613.9" r="2.6"/>
<circle cx="537.61" cy="1615.5" r="2.6"/>
<circle cx="534.44" cy="1616.47" r="2.6"/>
<circle cx="544.65" cy="1619.34" r="2.6"/>
<circle cx="534.44" cy="1620.45" r="2.6"/>
<circle cx="541.13" cy="1622.57" r="2.6"/>
<circle cx="537.61" cy="1624.35" r="2.6"/>
<circle cx="534.44" cy="1625.92" r="2.6"/>
<circle cx="534.44" cy="1628.11" r="2.6"/>
<circle cx="547.82" cy="1628.63" r="2.6"/>
<circle cx="544.65" cy="1630.36" r="2.6"/>
<circle cx="544.65" cy="1633.06" r="2.6"/>
<circle cx="547.82" cy="1634.86" r="2.6"/>
<circle cx="544.65" cy="1635.91" r="2.6"/>
</g>
<rect x="560.34" y="1639.35" width="19.21" height="106.46" fill="#d9420b"/>
<line x1="569.95" y1="1636.15" x2="569.95" y2="1639.35" stroke="#d9420b" stroke-width="1"/>
<line x1="567.15" y1="1636.15" x2="572.75" y2="1636.15" stroke="#d9420b" stroke-width="1"/>
<g fill="#f99a9a" fill-opacity="0.92">
<circle cx="563.25" cy="1624.5" r="2.6"/>
<circle cx="569.95" cy="1625.45" r="2.6"/>
<circle cx="569.95" cy="1630.36" r="2.6"/>
<circle cx="566.42" cy="1632" r="2.6"/>
<circle cx="576.64" cy="1635.95" r="2.6"/>
<circle cx="573.47" cy="1639.21" r="2.6"/>
<circle cx="576.64" cy="1642.19" r="2.6"/>
<circle cx="576.64" cy="1646.03" r="2.6"/>
<circle cx="576.64" cy="1649.08" r="2.6"/>
<circle cx="563.25" cy="1650.51" r="2.6"/>
<circle cx="569.95" cy="1655.07" r="2.6"/>
<circle cx="569.95" cy="1657.15" r="2.6"/>
<circle cx="573.47" cy="1661.32" r="2.6"/>
</g>
<rect x="608.37" y="1598.13" width="19.21" height="147.69" fill="#000"/>
<line x1="617.97" y1="1594.92" x2="617.97" y2="1598.13" stroke="#333" stroke-width="1"/>
<line x1="615.17" y1="1594.92" x2="620.77" y2="1594.92" stroke="#333" stroke-width="1"/>
<g fill="#9a9a9a" fill-opacity="0.92">
<circle cx="624.67" cy="1579.4" r="2.6"/>
<circle cx="624.67" cy="1581.76" r="2.6"/>
<circle cx="624.67" cy="1585.04" r="2.6"/>
<circle cx="611.28" cy="1586.78" r="2.6"/>
<circle cx="621.5" cy="1591.09" r="2.6"/>
<circle cx="614.45" cy="1592.33" r="2.6"/>
<circle cx="621.5" cy="1594.77" r="2.6"/>
<circle cx="624.67" cy="1598.07" r="2.6"/>
<circle cx="614.45" cy="1600.51" r="2.6"/>
<circle cx="614.45" cy="1602.58" r="2.6"/>
<circle cx="624.67" cy="1606.47" r="2.6"/>
<circle cx="611.28" cy="1608.06" r="2.6"/>
<circle cx="611.28" cy="1611.22" r="2.6"/>
<circle cx="624.67" cy="1612.74" r="2.6"/>
<circle cx="611.28" cy="1615.07" r="2.6"/>
<circle cx="617.97" cy="1619.26" r="2.6"/>
</g>
<rect x="637.59" y="1582.52" width="19.21" height="163.3" fill="#d9420b"/>
<line x1="647.19" y1="1578.51" x2="647.19" y2="1582.52" stroke="#d9420b" stroke-width="1"/>
<line x1="644.39" y1="1578.51" x2="649.99" y2="1578.51" stroke="#d9420b" stroke-width="1"/>
<g fill="#f99a9a" fill-opacity="0.92">
<circle cx="640.55" cy="1563.88" r="2.6"/>
<circle cx="650.99" cy="1568.13" r="2.6"/>
<circle cx="640.55" cy="1569.8" r="2.6"/>
<circle cx="654.24" cy="1572.53" r="2.6"/>
<circle cx="640.55" cy="1577.79" r="2.6"/>
<circle cx="654.24" cy="1579.14" r="2.6"/>
<circle cx="643.79" cy="1582.54" r="2.6"/>
<circle cx="647.39" cy="1586.74" r="2.6"/>
<circle cx="640.55" cy="1588.3" r="2.6"/>
<circle cx="647.39" cy="1592.86" r="2.6"/>
<circle cx="643.79" cy="1595.85" r="2.6"/>
<circle cx="647.39" cy="1597.36" r="2.6"/>
<circle cx="647.39" cy="1601.55" r="2.6"/>
<circle cx="654.24" cy="1603.28" r="2.6"/>
</g>
<text x="555.54" y="1601.92" font-size="30.43" text-anchor="middle" textLength="23.34" lengthAdjust="spacingAndGlyphs">**</text>
<line x1="540.33" y1="1596.53" x2="571.15" y2="1596.53" stroke="#000" stroke-width="1.3"/>
<text x="632.38" y="1555.89" font-size="30.43" text-anchor="middle" textLength="23.34" lengthAdjust="spacingAndGlyphs">**</text>
<line x1="617.57" y1="1550.1" x2="647.59" y2="1550.1" stroke="#000" stroke-width="1.3"/>
<text x="533.52" y="1774.23" font-size="22" textLength="48.83" lengthAdjust="spacingAndGlyphs">Lean</text>
<text x="618.37" y="1774.23" font-size="22" textLength="32.02" lengthAdjust="spacingAndGlyphs">Fat</text>
<text x="836.12" y="1465.25" font-size="21.5" textLength="76.05" lengthAdjust="spacingAndGlyphs">NCD<tspan font-size="13.97" dy="6.45">dev</tspan><tspan dy="-6.45">&#8203;</tspan></text>
<text x="979.01" y="1465.25" font-size="21.5" textLength="69.24" lengthAdjust="spacingAndGlyphs">BFD<tspan font-size="13.97" dy="6.45">dev</tspan><tspan dy="-6.45">&#8203;</tspan></text>
<!-- panel_p -->
<text x="1186.73" y="1421.5" font-size="38" textLength="25.6" lengthAdjust="spacingAndGlyphs" font-weight="bold" stroke="#000" stroke-width="1.7" stroke-linejoin="round">p</text>
<line x1="1208.34" y1="1442.83" x2="1238.36" y2="1442.83" stroke="#000" stroke-width="2.6"/>
<circle cx="1223.35" cy="1442.83" r="3.6" fill="#000"/>
<text x="1250.37" y="1448.04" font-size="18.5" textLength="61.24" lengthAdjust="spacingAndGlyphs">NCD<tspan font-size="12.03" dy="5.55">dev</tspan><tspan dy="-5.55">&#8203;</tspan></text>
<line x1="1340.83" y1="1442.83" x2="1370.85" y2="1442.83" stroke="#d9420b" stroke-width="2.6"/>
<circle cx="1355.84" cy="1442.83" r="3.6" fill="#d9420b"/>
<text x="1383.25" y="1448.04" font-size="18.5" textLength="55.63" lengthAdjust="spacingAndGlyphs">BFD<tspan font-size="12.03" dy="5.55">dev</tspan><tspan dy="-5.55">&#8203;</tspan></text>
<line x1="1272.38" y1="1494.94" x2="1272.38" y2="1733.33" stroke="#1a1a1a" stroke-width="1.45"/>
<line x1="1266.78" y1="1495.66" x2="1272.38" y2="1495.66" stroke="#1a1a1a" stroke-width="1.45"/>
<text x="1258.98" y="1501.97" font-size="18.29" text-anchor="end" textLength="33.88" lengthAdjust="spacingAndGlyphs">225</text>
<line x1="1266.78" y1="1542.89" x2="1272.38" y2="1542.89" stroke="#1a1a1a" stroke-width="1.45"/>
<text x="1258.98" y="1549.2" font-size="18.29" text-anchor="end" textLength="33.88" lengthAdjust="spacingAndGlyphs">200</text>
<line x1="1266.78" y1="1590.12" x2="1272.38" y2="1590.12" stroke="#1a1a1a" stroke-width="1.45"/>
<text x="1258.98" y="1596.43" font-size="18.29" text-anchor="end" textLength="29.38" lengthAdjust="spacingAndGlyphs">175</text>
<line x1="1266.78" y1="1637.75" x2="1272.38" y2="1637.75" stroke="#1a1a1a" stroke-width="1.45"/>
<text x="1258.98" y="1644.06" font-size="18.29" text-anchor="end" textLength="29.38" lengthAdjust="spacingAndGlyphs">150</text>
<line x1="1266.78" y1="1684.98" x2="1272.38" y2="1684.98" stroke="#1a1a1a" stroke-width="1.45"/>
<text x="1258.98" y="1691.29" font-size="18.29" text-anchor="end" textLength="29.38" lengthAdjust="spacingAndGlyphs">125</text>
<line x1="1266.78" y1="1732.61" x2="1272.38" y2="1732.61" stroke="#1a1a1a" stroke-width="1.45"/>
<text x="1258.98" y="1738.92" font-size="18.29" text-anchor="end" textLength="29.38" lengthAdjust="spacingAndGlyphs">100</text>
<line x1="1287.67" y1="1745.42" x2="1420.8" y2="1745.42" stroke="#1a1a1a" stroke-width="1.45"/>
<line x1="1288.39" y1="1745.42" x2="1288.39" y2="1749.92" stroke="#1a1a1a" stroke-width="1.45"/>
<text x="1288.39" y="1772.23" font-size="18.03" text-anchor="middle" textLength="10.83" lengthAdjust="spacingAndGlyphs">0</text>
<line x1="1321.22" y1="1745.42" x2="1321.22" y2="1749.92" stroke="#1a1a1a" stroke-width="1.45"/>
<text x="1321.22" y="1772.23" font-size="18.03" text-anchor="middle" textLength="17.43" lengthAdjust="spacingAndGlyphs">15</text>
<line x1="1354.04" y1="1745.42" x2="1354.04" y2="1749.92" stroke="#1a1a1a" stroke-width="1.45"/>
<text x="1354.04" y="1772.23" font-size="18.03" text-anchor="middle" textLength="21.87" lengthAdjust="spacingAndGlyphs">30</text>
<line x1="1420.08" y1="1745.42" x2="1420.08" y2="1749.92" stroke="#1a1a1a" stroke-width="1.45"/>
<text x="1420.08" y="1772.23" font-size="18.03" text-anchor="middle" textLength="21.87" lengthAdjust="spacingAndGlyphs">60</text>
<text font-size="22" text-anchor="middle" textLength="248.15" lengthAdjust="spacingAndGlyphs" transform="translate(1202.84 1614.14) rotate(-90)">Blood glucose (mg dl<tspan font-size="13.64" dy="-10.12">−1</tspan><tspan dy="10.12">&#8203;</tspan>)</text>
<text x="1298.8" y="1805.45" font-size="22" textLength="112.47" lengthAdjust="spacingAndGlyphs">Time (min)</text>
<line x1="1288.39" y1="1562.1" x2="1288.39" y2="1582.12" stroke="#d9420b" stroke-width="1.1"/>
<line x1="1285.39" y1="1562.1" x2="1291.39" y2="1562.1" stroke="#d9420b" stroke-width="1.1"/>
<line x1="1285.39" y1="1582.12" x2="1291.39" y2="1582.12" stroke="#d9420b" stroke-width="1.1"/>
<line x1="1321.22" y1="1577.71" x2="1321.22" y2="1611.33" stroke="#d9420b" stroke-width="1.1"/>
<line x1="1318.22" y1="1577.71" x2="1324.22" y2="1577.71" stroke="#d9420b" stroke-width="1.1"/>
<line x1="1318.22" y1="1611.33" x2="1324.22" y2="1611.33" stroke="#d9420b" stroke-width="1.1"/>
<line x1="1354.04" y1="1651.76" x2="1354.04" y2="1678.17" stroke="#d9420b" stroke-width="1.1"/>
<line x1="1351.04" y1="1651.76" x2="1357.04" y2="1651.76" stroke="#d9420b" stroke-width="1.1"/>
<line x1="1351.04" y1="1678.17" x2="1357.04" y2="1678.17" stroke="#d9420b" stroke-width="1.1"/>
<line x1="1420.08" y1="1602.53" x2="1420.08" y2="1650.56" stroke="#d9420b" stroke-width="1.1"/>
<line x1="1417.08" y1="1602.53" x2="1423.08" y2="1602.53" stroke="#d9420b" stroke-width="1.1"/>
<line x1="1417.08" y1="1650.56" x2="1423.08" y2="1650.56" stroke="#d9420b" stroke-width="1.1"/>
<polyline points="1288.39,1572.11 1321.22,1594.52 1354.04,1664.97 1420.08,1626.54" fill="none" stroke="#d9420b" stroke-width="2.6" stroke-linejoin="round"/>
<g fill="#d9420b">
<circle cx="1288.39" cy="1572.11" r="3.7"/>
<circle cx="1321.22" cy="1594.52" r="3.7"/>
<circle cx="1354.04" cy="1664.97" r="3.7"/>
<circle cx="1420.08" cy="1626.54" r="3.7"/>
</g>
<line x1="1288.39" y1="1566.11" x2="1288.39" y2="1586.12" stroke="#000" stroke-width="1.1"/>
<line x1="1285.39" y1="1566.11" x2="1291.39" y2="1566.11" stroke="#000" stroke-width="1.1"/>
<line x1="1285.39" y1="1586.12" x2="1291.39" y2="1586.12" stroke="#000" stroke-width="1.1"/>
<line x1="1321.22" y1="1676.97" x2="1321.22" y2="1692.98" stroke="#000" stroke-width="1.1"/>
<line x1="1318.22" y1="1676.97" x2="1324.22" y2="1676.97" stroke="#000" stroke-width="1.1"/>
<line x1="1318.22" y1="1692.98" x2="1324.22" y2="1692.98" stroke="#000" stroke-width="1.1"/>
<line x1="1354.04" y1="1687.78" x2="1354.04" y2="1715.8" stroke="#000" stroke-width="1.1"/>
<line x1="1351.04" y1="1687.78" x2="1357.04" y2="1687.78" stroke="#000" stroke-width="1.1"/>
<line x1="1351.04" y1="1715.8" x2="1357.04" y2="1715.8" stroke="#000" stroke-width="1.1"/>
<line x1="1420.08" y1="1687.38" x2="1420.08" y2="1705.79" stroke="#000" stroke-width="1.1"/>
<line x1="1417.08" y1="1687.38" x2="1423.08" y2="1687.38" stroke="#000" stroke-width="1.1"/>
<line x1="1417.08" y1="1705.79" x2="1423.08" y2="1705.79" stroke="#000" stroke-width="1.1"/>
<polyline points="1288.39,1576.11 1321.22,1684.98 1354.04,1701.79 1420.08,1696.59" fill="none" stroke="#000" stroke-width="2.6" stroke-linejoin="round"/>
<g fill="#000">
<circle cx="1288.39" cy="1576.11" r="3.7"/>
<circle cx="1321.22" cy="1684.98" r="3.7"/>
<circle cx="1354.04" cy="1701.79" r="3.7"/>
<circle cx="1420.08" cy="1696.59" r="3.7"/>
</g>
<text x="1321.22" y="1583.11" font-size="30.43" text-anchor="middle" textLength="37.84" lengthAdjust="spacingAndGlyphs">***</text>
<text x="1420.08" y="1605.92" font-size="30.43" text-anchor="middle">*</text>
<text x="1287.19" y="1504.07" font-size="22" textLength="138.89" lengthAdjust="spacingAndGlyphs">Time × group</text>
<text x="1451.3" y="1517.7" font-size="31.88" text-anchor="middle" textLength="38" lengthAdjust="spacingAndGlyphs">***</text>
<text x="1287.19" y="1530.08" font-size="22" textLength="62.84" lengthAdjust="spacingAndGlyphs">group</text>
<text x="1370.3" y="1542" font-size="31.88" text-anchor="middle" textLength="25" lengthAdjust="spacingAndGlyphs">**</text>
<line x1="1554.96" y1="1498.14" x2="1554.96" y2="1750.54" stroke="#1a1a1a" stroke-width="1.45"/>
<line x1="1549.36" y1="1498.87" x2="1554.96" y2="1498.87" stroke="#1a1a1a" stroke-width="1.45"/>
<text x="1541.56" y="1505.18" font-size="18.29" text-anchor="end" textLength="17.69" lengthAdjust="spacingAndGlyphs">15</text>
<line x1="1549.36" y1="1548.9" x2="1554.96" y2="1548.9" stroke="#1a1a1a" stroke-width="1.45"/>
<text x="1541.56" y="1555.21" font-size="18.29" text-anchor="end" textLength="17.69" lengthAdjust="spacingAndGlyphs">12</text>
<line x1="1549.36" y1="1599.33" x2="1554.96" y2="1599.33" stroke="#1a1a1a" stroke-width="1.45"/>
<text x="1541.56" y="1605.64" font-size="18.29" text-anchor="end" textLength="10.98" lengthAdjust="spacingAndGlyphs">9</text>
<line x1="1549.36" y1="1649.36" x2="1554.96" y2="1649.36" stroke="#1a1a1a" stroke-width="1.45"/>
<text x="1541.56" y="1655.67" font-size="18.29" text-anchor="end" textLength="10.98" lengthAdjust="spacingAndGlyphs">6</text>
<line x1="1549.36" y1="1699.79" x2="1554.96" y2="1699.79" stroke="#1a1a1a" stroke-width="1.45"/>
<text x="1541.56" y="1706.1" font-size="18.29" text-anchor="end" textLength="10.98" lengthAdjust="spacingAndGlyphs">3</text>
<line x1="1549.36" y1="1749.82" x2="1554.96" y2="1749.82" stroke="#1a1a1a" stroke-width="1.45"/>
<text x="1541.56" y="1756.13" font-size="18.29" text-anchor="end" textLength="10.98" lengthAdjust="spacingAndGlyphs">0</text>
<text font-size="22" text-anchor="middle" textLength="110.07" lengthAdjust="spacingAndGlyphs" transform="translate(1503.83 1625.34) rotate(-90)">AUC (×10<tspan font-size="13.64" dy="-10.12">3</tspan><tspan dy="10.12">&#8203;</tspan>)</text>
<rect x="1569.77" y="1622.14" width="28.42" height="127.68" fill="#000"/>
<line x1="1583.98" y1="1617.34" x2="1583.98" y2="1622.14" stroke="#222" stroke-width="1.1"/>
<line x1="1580.58" y1="1617.34" x2="1587.38" y2="1617.34" stroke="#222" stroke-width="1.1"/>
<g fill="#9a9a9a" fill-opacity="0.92">
<circle cx="1580.17" cy="1598.93" r="2.6"/>
<circle cx="1588.18" cy="1597.33" r="2.6"/>
<circle cx="1595.38" cy="1597.73" r="2.6"/>
<circle cx="1583.78" cy="1608.93" r="2.6"/>
<circle cx="1574.17" cy="1622.94" r="2.6"/>
<circle cx="1590.98" cy="1623.34" r="2.6"/>
<circle cx="1580.17" cy="1630.15" r="2.6"/>
<circle cx="1594.18" cy="1630.15" r="2.6"/>
<circle cx="1576.17" cy="1634.95" r="2.6"/>
<circle cx="1588.18" cy="1638.95" r="2.6"/>
<circle cx="1592.18" cy="1634.95" r="2.6"/>
<circle cx="1578.97" cy="1642.95" r="2.6"/>
<circle cx="1583.78" cy="1654.16" r="2.6"/>
</g>
<rect x="1612.59" y="1593.32" width="28.42" height="156.49" fill="#d9420b"/>
<line x1="1626.8" y1="1586.12" x2="1626.8" y2="1593.32" stroke="#d9420b" stroke-width="1.1"/>
<line x1="1623.4" y1="1586.12" x2="1630.2" y2="1586.12" stroke="#d9420b" stroke-width="1.1"/>
<g fill="#f99a9a" fill-opacity="0.92">
<circle cx="1626.6" cy="1558.1" r="2.6"/>
<circle cx="1626.6" cy="1570.91" r="2.6"/>
<circle cx="1622.2" cy="1590.12" r="2.6"/>
<circle cx="1632.2" cy="1596.12" r="2.6"/>
<circle cx="1626.6" cy="1606.13" r="2.6"/>
<circle cx="1621.4" cy="1617.34" r="2.6"/>
<circle cx="1632.2" cy="1617.34" r="2.6"/>
<circle cx="1626.6" cy="1582.12" r="2.6"/>
</g>
<text x="1601.39" y="1546.69" font-size="30.43" text-anchor="middle" textLength="23.34" lengthAdjust="spacingAndGlyphs">**</text>
<line x1="1580.17" y1="1543.29" x2="1624.2" y2="1543.29" stroke="#000" stroke-width="1.3"/>
<!-- panel_q -->
<text x="1703.85" y="1437.53" font-size="38" textLength="25.6" lengthAdjust="spacingAndGlyphs" font-weight="bold" stroke="#000" stroke-width="1.7" stroke-linejoin="round">q</text>
<rect x="1754.28" y="1434.03" width="12.81" height="12.81" fill="#000"/>
<text x="1776.29" y="1446.03" font-size="18.5" textLength="60.84" lengthAdjust="spacingAndGlyphs">NCD<tspan font-size="12.03" dy="5.55">dev</tspan><tspan dy="-5.55">&#8203;</tspan></text>
<rect x="1865.15" y="1434.03" width="12.81" height="12.81" fill="#d9420b"/>
<text x="1887.16" y="1446.03" font-size="18.5" textLength="55.23" lengthAdjust="spacingAndGlyphs">BFD<tspan font-size="12.03" dy="5.55">dev</tspan><tspan dy="-5.55">&#8203;</tspan></text>
<line x1="1801.51" y1="1498.14" x2="1801.51" y2="1750.54" stroke="#1a1a1a" stroke-width="1.45"/>
<line x1="1795.91" y1="1498.87" x2="1801.51" y2="1498.87" stroke="#1a1a1a" stroke-width="1.45"/>
<text x="1788.11" y="1505.18" font-size="18.29" text-anchor="end" textLength="33.88" lengthAdjust="spacingAndGlyphs">250</text>
<line x1="1795.91" y1="1548.9" x2="1801.51" y2="1548.9" stroke="#1a1a1a" stroke-width="1.45"/>
<text x="1788.11" y="1555.21" font-size="18.29" text-anchor="end" textLength="33.88" lengthAdjust="spacingAndGlyphs">200</text>
<line x1="1795.91" y1="1599.33" x2="1801.51" y2="1599.33" stroke="#1a1a1a" stroke-width="1.45"/>
<text x="1788.11" y="1605.64" font-size="18.29" text-anchor="end" textLength="29.38" lengthAdjust="spacingAndGlyphs">150</text>
<line x1="1795.91" y1="1649.36" x2="1801.51" y2="1649.36" stroke="#1a1a1a" stroke-width="1.45"/>
<text x="1788.11" y="1655.67" font-size="18.29" text-anchor="end" textLength="29.38" lengthAdjust="spacingAndGlyphs">100</text>
<line x1="1795.91" y1="1699.79" x2="1801.51" y2="1699.79" stroke="#1a1a1a" stroke-width="1.45"/>
<text x="1788.11" y="1706.1" font-size="18.29" text-anchor="end" textLength="22.18" lengthAdjust="spacingAndGlyphs">50</text>
<line x1="1795.91" y1="1749.82" x2="1801.51" y2="1749.82" stroke="#1a1a1a" stroke-width="1.45"/>
<text x="1788.11" y="1756.13" font-size="18.29" text-anchor="end" textLength="10.98" lengthAdjust="spacingAndGlyphs">0</text>
<text font-size="22" text-anchor="middle" textLength="250.15" lengthAdjust="spacingAndGlyphs" transform="translate(1732.77 1625.34) rotate(-90)">Blood glucose (mg dl<tspan font-size="13.64" dy="-10.12">−1</tspan><tspan dy="10.12">&#8203;</tspan>)</text>
<rect x="1815.52" y="1572.11" width="28.42" height="177.71" fill="#000"/>
<line x1="1829.72" y1="1567.31" x2="1829.72" y2="1572.11" stroke="#222" stroke-width="1.1"/>
<line x1="1826.32" y1="1567.31" x2="1833.12" y2="1567.31" stroke="#222" stroke-width="1.1"/>
<g fill="#9a9a9a" fill-opacity="0.92">
<circle cx="1829.52" cy="1538.89" r="2.6"/>
<circle cx="1829.52" cy="1554.9" r="2.6"/>
<circle cx="1822.32" cy="1561.3" r="2.6"/>
<circle cx="1836.33" cy="1561.3" r="2.6"/>
<circle cx="1818.32" cy="1568.11" r="2.6"/>
<circle cx="1841.53" cy="1568.11" r="2.6"/>
<circle cx="1824.32" cy="1574.91" r="2.6"/>
<circle cx="1834.33" cy="1576.11" r="2.6"/>
<circle cx="1818.32" cy="1584.12" r="2.6"/>
<circle cx="1841.53" cy="1585.32" r="2.6"/>
<circle cx="1829.52" cy="1588.12" r="2.6"/>
<circle cx="1829.52" cy="1596.12" r="2.6"/>
</g>
<rect x="1858.34" y="1553.7" width="28.42" height="196.12" fill="#d9420b"/>
<line x1="1872.55" y1="1547.3" x2="1872.55" y2="1553.7" stroke="#d9420b" stroke-width="1.1"/>
<line x1="1869.15" y1="1547.3" x2="1875.95" y2="1547.3" stroke="#d9420b" stroke-width="1.1"/>
<g fill="#f99a9a" fill-opacity="0.92">
<circle cx="1872.35" cy="1515.68" r="2.6"/>
<circle cx="1872.35" cy="1532.49" r="2.6"/>
<circle cx="1867.15" cy="1546.9" r="2.6"/>
<circle cx="1877.55" cy="1546.9" r="2.6"/>
<circle cx="1862.34" cy="1560.1" r="2.6"/>
<circle cx="1882.36" cy="1560.1" r="2.6"/>
<circle cx="1872.35" cy="1566.11" r="2.6"/>
<circle cx="1861.54" cy="1574.91" r="2.6"/>
<circle cx="1872.35" cy="1572.11" r="2.6"/>
<circle cx="1883.16" cy="1573.31" r="2.6"/>
</g>
<text x="1848.34" y="1509.06" font-size="30.43" text-anchor="middle">*</text>
<line x1="1827.52" y1="1502.87" x2="1871.55" y2="1502.87" stroke="#000" stroke-width="1.3"/>
<!-- panel_r -->
<text x="-0.4" y="1865.1" font-size="38" textLength="16.6" lengthAdjust="spacingAndGlyphs" font-weight="bold" stroke="#000" stroke-width="1.7" stroke-linejoin="round">r</text>
<text x="56.83" y="1878.84" font-size="21" text-anchor="middle" style="font-family:DejaVu Sans,sans-serif">♀</text>
<line x1="93.26" y1="1874.83" x2="123.27" y2="1874.83" stroke="#000" stroke-width="2.6"/>
<circle cx="108.27" cy="1874.83" r="4.2" fill="#000"/>
<text x="135.28" y="1880.04" font-size="18.5" textLength="61.64" lengthAdjust="spacingAndGlyphs">NCD<tspan font-size="12.03" dy="5.55">dev</tspan><tspan dy="-5.55">&#8203;</tspan></text>
<line x1="226.14" y1="1874.83" x2="256.16" y2="1874.83" stroke="#d9420b" stroke-width="2.6"/>
<circle cx="241.15" cy="1874.83" r="4.2" fill="#d9420b"/>
<text x="268.16" y="1880.04" font-size="18.5" textLength="56.03" lengthAdjust="spacingAndGlyphs">BFD<tspan font-size="12.03" dy="5.55">dev</tspan><tspan dy="-5.55">&#8203;</tspan></text>
<line x1="84.85" y1="1909.33" x2="84.85" y2="2162.13" stroke="#1a1a1a" stroke-width="1.45"/>
<line x1="79.25" y1="1910.05" x2="84.85" y2="1910.05" stroke="#1a1a1a" stroke-width="1.45"/>
<text x="71.45" y="1916.36" font-size="18.29" text-anchor="end" textLength="22.18" lengthAdjust="spacingAndGlyphs">30</text>
<line x1="79.25" y1="1952.08" x2="84.85" y2="1952.08" stroke="#1a1a1a" stroke-width="1.45"/>
<text x="71.45" y="1958.39" font-size="18.29" text-anchor="end" textLength="22.18" lengthAdjust="spacingAndGlyphs">25</text>
<line x1="79.25" y1="1993.71" x2="84.85" y2="1993.71" stroke="#1a1a1a" stroke-width="1.45"/>
<text x="71.45" y="2000.01" font-size="18.29" text-anchor="end" textLength="22.18" lengthAdjust="spacingAndGlyphs">20</text>
<line x1="79.25" y1="2035.73" x2="84.85" y2="2035.73" stroke="#1a1a1a" stroke-width="1.45"/>
<text x="71.45" y="2042.04" font-size="18.29" text-anchor="end" textLength="17.69" lengthAdjust="spacingAndGlyphs">15</text>
<line x1="79.25" y1="2077.36" x2="84.85" y2="2077.36" stroke="#1a1a1a" stroke-width="1.45"/>
<text x="71.45" y="2083.67" font-size="18.29" text-anchor="end" textLength="17.69" lengthAdjust="spacingAndGlyphs">10</text>
<line x1="79.25" y1="2119.38" x2="84.85" y2="2119.38" stroke="#1a1a1a" stroke-width="1.45"/>
<text x="71.45" y="2125.69" font-size="18.29" text-anchor="end" textLength="10.98" lengthAdjust="spacingAndGlyphs">5</text>
<line x1="79.25" y1="2161.41" x2="84.85" y2="2161.41" stroke="#1a1a1a" stroke-width="1.45"/>
<text x="71.45" y="2167.72" font-size="18.29" text-anchor="end" textLength="10.98" lengthAdjust="spacingAndGlyphs">0</text>
<line x1="84.13" y1="2161.41" x2="336.93" y2="2161.41" stroke="#1a1a1a" stroke-width="1.45"/>
<line x1="109.99" y1="2161.41" x2="109.99" y2="2165.91" stroke="#1a1a1a" stroke-width="1.45"/>
<text x="109.99" y="2188.22" font-size="18.03" text-anchor="middle">1</text>
<line x1="135.12" y1="2161.41" x2="135.12" y2="2165.91" stroke="#1a1a1a" stroke-width="1.45"/>
<text x="135.12" y="2188.22" font-size="18.03" text-anchor="middle" textLength="10.83" lengthAdjust="spacingAndGlyphs">2</text>
<line x1="160.26" y1="2161.41" x2="160.26" y2="2165.91" stroke="#1a1a1a" stroke-width="1.45"/>
<text x="160.26" y="2188.22" font-size="18.03" text-anchor="middle" textLength="10.83" lengthAdjust="spacingAndGlyphs">3</text>
<line x1="185.39" y1="2161.41" x2="185.39" y2="2165.91" stroke="#1a1a1a" stroke-width="1.45"/>
<text x="185.39" y="2188.22" font-size="18.03" text-anchor="middle" textLength="10.83" lengthAdjust="spacingAndGlyphs">4</text>
<line x1="210.53" y1="2161.41" x2="210.53" y2="2165.91" stroke="#1a1a1a" stroke-width="1.45"/>
<text x="210.53" y="2188.22" font-size="18.03" text-anchor="middle" textLength="10.83" lengthAdjust="spacingAndGlyphs">5</text>
<line x1="235.66" y1="2161.41" x2="235.66" y2="2165.91" stroke="#1a1a1a" stroke-width="1.45"/>
<text x="235.66" y="2188.22" font-size="18.03" text-anchor="middle" textLength="10.83" lengthAdjust="spacingAndGlyphs">6</text>
<line x1="260.8" y1="2161.41" x2="260.8" y2="2165.91" stroke="#1a1a1a" stroke-width="1.45"/>
<text x="260.8" y="2188.22" font-size="18.03" text-anchor="middle" textLength="10.83" lengthAdjust="spacingAndGlyphs">7</text>
<line x1="285.93" y1="2161.41" x2="285.93" y2="2165.91" stroke="#1a1a1a" stroke-width="1.45"/>
<text x="285.93" y="2188.22" font-size="18.03" text-anchor="middle" textLength="10.83" lengthAdjust="spacingAndGlyphs">8</text>
<line x1="311.07" y1="2161.41" x2="311.07" y2="2165.91" stroke="#1a1a1a" stroke-width="1.45"/>
<text x="311.07" y="2188.22" font-size="18.03" text-anchor="middle" textLength="10.83" lengthAdjust="spacingAndGlyphs">9</text>
<line x1="336.2" y1="2161.41" x2="336.2" y2="2165.91" stroke="#1a1a1a" stroke-width="1.45"/>
<text x="336.2" y="2188.22" font-size="18.03" text-anchor="middle" textLength="17.43" lengthAdjust="spacingAndGlyphs">10</text>
<text font-size="22" text-anchor="middle" textLength="164.1" lengthAdjust="spacingAndGlyphs" transform="translate(28.52 2036.13) rotate(-90)">Weight gain (g)</text>
<text x="124.08" y="2220.24" font-size="22" textLength="174.11" lengthAdjust="spacingAndGlyphs">Weeks of HFD<tspan font-size="14.3" dy="6.6">lard</tspan><tspan dy="-6.6">&#8203;</tspan></text>
<text x="99.26" y="1924.86" font-size="22" textLength="140.08" lengthAdjust="spacingAndGlyphs">Time × group</text>
<text x="248.95" y="1928.06" font-size="20.29" text-anchor="middle">*</text>
<text x="99.26" y="1952.08" font-size="22" textLength="64.04" lengthAdjust="spacingAndGlyphs">group</text>
<text x="177.31" y="1955.27" font-size="20.29" text-anchor="middle" textLength="16.39" lengthAdjust="spacingAndGlyphs">**</text>
<line x1="110.07" y1="2137.39" x2="110.07" y2="2143.8" stroke="#d9420b" stroke-width="1.1"/>
<line x1="107.07" y1="2137.39" x2="113.07" y2="2137.39" stroke="#d9420b" stroke-width="1.1"/>
<line x1="107.07" y1="2143.8" x2="113.07" y2="2143.8" stroke="#d9420b" stroke-width="1.1"/>
<line x1="135.28" y1="2121.78" x2="135.28" y2="2129.79" stroke="#d9420b" stroke-width="1.1"/>
<line x1="132.28" y1="2121.78" x2="138.28" y2="2121.78" stroke="#d9420b" stroke-width="1.1"/>
<line x1="132.28" y1="2129.79" x2="138.28" y2="2129.79" stroke="#d9420b" stroke-width="1.1"/>
<line x1="160.1" y1="2107.37" x2="160.1" y2="2116.98" stroke="#d9420b" stroke-width="1.1"/>
<line x1="157.1" y1="2107.37" x2="163.1" y2="2107.37" stroke="#d9420b" stroke-width="1.1"/>
<line x1="157.1" y1="2116.98" x2="163.1" y2="2116.98" stroke="#d9420b" stroke-width="1.1"/>
<line x1="185.31" y1="2088.16" x2="185.31" y2="2100.17" stroke="#d9420b" stroke-width="1.1"/>
<line x1="182.31" y1="2088.16" x2="188.31" y2="2088.16" stroke="#d9420b" stroke-width="1.1"/>
<line x1="182.31" y1="2100.17" x2="188.31" y2="2100.17" stroke="#d9420b" stroke-width="1.1"/>
<line x1="210.13" y1="2084.56" x2="210.13" y2="2097.37" stroke="#d9420b" stroke-width="1.1"/>
<line x1="207.13" y1="2084.56" x2="213.13" y2="2084.56" stroke="#d9420b" stroke-width="1.1"/>
<line x1="207.13" y1="2097.37" x2="213.13" y2="2097.37" stroke="#d9420b" stroke-width="1.1"/>
<line x1="235.34" y1="2079.76" x2="235.34" y2="2094.17" stroke="#d9420b" stroke-width="1.1"/>
<line x1="232.34" y1="2079.76" x2="238.34" y2="2079.76" stroke="#d9420b" stroke-width="1.1"/>
<line x1="232.34" y1="2094.17" x2="238.34" y2="2094.17" stroke="#d9420b" stroke-width="1.1"/>
<line x1="260.56" y1="2028.13" x2="260.56" y2="2040.93" stroke="#d9420b" stroke-width="1.1"/>
<line x1="257.56" y1="2028.13" x2="263.56" y2="2028.13" stroke="#d9420b" stroke-width="1.1"/>
<line x1="257.56" y1="2040.93" x2="263.56" y2="2040.93" stroke="#d9420b" stroke-width="1.1"/>
<line x1="285.37" y1="2000.91" x2="285.37" y2="2015.32" stroke="#d9420b" stroke-width="1.1"/>
<line x1="282.37" y1="2000.91" x2="288.37" y2="2000.91" stroke="#d9420b" stroke-width="1.1"/>
<line x1="282.37" y1="2015.32" x2="288.37" y2="2015.32" stroke="#d9420b" stroke-width="1.1"/>
<line x1="310.59" y1="1968.49" x2="310.59" y2="1982.9" stroke="#d9420b" stroke-width="1.1"/>
<line x1="307.59" y1="1968.49" x2="313.59" y2="1968.49" stroke="#d9420b" stroke-width="1.1"/>
<line x1="307.59" y1="1982.9" x2="313.59" y2="1982.9" stroke="#d9420b" stroke-width="1.1"/>
<line x1="336.2" y1="1944.88" x2="336.2" y2="1957.68" stroke="#d9420b" stroke-width="1.1"/>
<line x1="333.2" y1="1944.88" x2="339.2" y2="1944.88" stroke="#d9420b" stroke-width="1.1"/>
<line x1="333.2" y1="1957.68" x2="339.2" y2="1957.68" stroke="#d9420b" stroke-width="1.1"/>
<polyline points="84.85,2161.41 110.07,2140.59 135.28,2125.79 160.1,2112.18 185.31,2094.17 210.13,2090.96 235.34,2086.96 260.56,2034.53 285.37,2008.11 310.59,1975.69 336.2,1951.28" fill="none" stroke="#d9420b" stroke-width="2.6" stroke-linejoin="round"/>
<g fill="#d9420b">
<circle cx="84.85" cy="2161.41" r="3.7"/>
<circle cx="110.07" cy="2140.59" r="3.7"/>
<circle cx="135.28" cy="2125.79" r="3.7"/>
<circle cx="160.1" cy="2112.18" r="3.7"/>
<circle cx="185.31" cy="2094.17" r="3.7"/>
<circle cx="210.13" cy="2090.96" r="3.7"/>
<circle cx="235.34" cy="2086.96" r="3.7"/>
<circle cx="260.56" cy="2034.53" r="3.7"/>
<circle cx="285.37" cy="2008.11" r="3.7"/>
<circle cx="310.59" cy="1975.69" r="3.7"/>
<circle cx="336.2" cy="1951.28" r="3.7"/>
</g>
<line x1="110.07" y1="2144.6" x2="110.07" y2="2148.6" stroke="#000" stroke-width="1.1"/>
<line x1="107.07" y1="2144.6" x2="113.07" y2="2144.6" stroke="#000" stroke-width="1.1"/>
<line x1="107.07" y1="2148.6" x2="113.07" y2="2148.6" stroke="#000" stroke-width="1.1"/>
<line x1="135.28" y1="2129.79" x2="135.28" y2="2134.59" stroke="#000" stroke-width="1.1"/>
<line x1="132.28" y1="2129.79" x2="138.28" y2="2129.79" stroke="#000" stroke-width="1.1"/>
<line x1="132.28" y1="2134.59" x2="138.28" y2="2134.59" stroke="#000" stroke-width="1.1"/>
<line x1="160.1" y1="2120.58" x2="160.1" y2="2125.39" stroke="#000" stroke-width="1.1"/>
<line x1="157.1" y1="2120.58" x2="163.1" y2="2120.58" stroke="#000" stroke-width="1.1"/>
<line x1="157.1" y1="2125.39" x2="163.1" y2="2125.39" stroke="#000" stroke-width="1.1"/>
<line x1="185.31" y1="2109.38" x2="185.31" y2="2115.78" stroke="#000" stroke-width="1.1"/>
<line x1="182.31" y1="2109.38" x2="188.31" y2="2109.38" stroke="#000" stroke-width="1.1"/>
<line x1="182.31" y1="2115.78" x2="188.31" y2="2115.78" stroke="#000" stroke-width="1.1"/>
<line x1="210.13" y1="2102.97" x2="210.13" y2="2112.58" stroke="#000" stroke-width="1.1"/>
<line x1="207.13" y1="2102.97" x2="213.13" y2="2102.97" stroke="#000" stroke-width="1.1"/>
<line x1="207.13" y1="2112.58" x2="213.13" y2="2112.58" stroke="#000" stroke-width="1.1"/>
<line x1="235.34" y1="2099.37" x2="235.34" y2="2108.98" stroke="#000" stroke-width="1.1"/>
<line x1="232.34" y1="2099.37" x2="238.34" y2="2099.37" stroke="#000" stroke-width="1.1"/>
<line x1="232.34" y1="2108.98" x2="238.34" y2="2108.98" stroke="#000" stroke-width="1.1"/>
<line x1="260.56" y1="2048.54" x2="260.56" y2="2064.55" stroke="#000" stroke-width="1.1"/>
<line x1="257.56" y1="2048.54" x2="263.56" y2="2048.54" stroke="#000" stroke-width="1.1"/>
<line x1="257.56" y1="2064.55" x2="263.56" y2="2064.55" stroke="#000" stroke-width="1.1"/>
<line x1="285.37" y1="2034.53" x2="285.37" y2="2048.94" stroke="#000" stroke-width="1.1"/>
<line x1="282.37" y1="2034.53" x2="288.37" y2="2034.53" stroke="#000" stroke-width="1.1"/>
<line x1="282.37" y1="2048.94" x2="288.37" y2="2048.94" stroke="#000" stroke-width="1.1"/>
<line x1="310.59" y1="1999.71" x2="310.59" y2="2017.32" stroke="#000" stroke-width="1.1"/>
<line x1="307.59" y1="1999.71" x2="313.59" y2="1999.71" stroke="#000" stroke-width="1.1"/>
<line x1="307.59" y1="2017.32" x2="313.59" y2="2017.32" stroke="#000" stroke-width="1.1"/>
<line x1="336.2" y1="1974.89" x2="336.2" y2="1992.5" stroke="#000" stroke-width="1.1"/>
<line x1="333.2" y1="1974.89" x2="339.2" y2="1974.89" stroke="#000" stroke-width="1.1"/>
<line x1="333.2" y1="1992.5" x2="339.2" y2="1992.5" stroke="#000" stroke-width="1.1"/>
<polyline points="84.85,2161.41 110.07,2146.6 135.28,2132.19 160.1,2122.98 185.31,2112.58 210.13,2107.77 235.34,2104.17 260.56,2056.54 285.37,2041.73 310.59,2008.51 336.2,1983.7" fill="none" stroke="#000" stroke-width="2.6" stroke-linejoin="round"/>
<g fill="#000">
<circle cx="84.85" cy="2161.41" r="3.7"/>
<circle cx="110.07" cy="2146.6" r="3.7"/>
<circle cx="135.28" cy="2132.19" r="3.7"/>
<circle cx="160.1" cy="2122.98" r="3.7"/>
<circle cx="185.31" cy="2112.58" r="3.7"/>
<circle cx="210.13" cy="2107.77" r="3.7"/>
<circle cx="235.34" cy="2104.17" r="3.7"/>
<circle cx="260.56" cy="2056.54" r="3.7"/>
<circle cx="285.37" cy="2041.73" r="3.7"/>
<circle cx="310.59" cy="2008.51" r="3.7"/>
<circle cx="336.2" cy="1983.7" r="3.7"/>
</g>
<text x="185.31" y="2093.96" font-size="30.43" text-anchor="middle">*</text>
<text x="210.13" y="2089.15" font-size="30.43" text-anchor="middle">*</text>
<text x="235.34" y="2081.15" font-size="30.43" text-anchor="middle">*</text>
<text x="260.56" y="2033.12" font-size="30.43" text-anchor="middle">*</text>
<text x="284.17" y="2005.1" font-size="30.43" text-anchor="middle" textLength="24.84" lengthAdjust="spacingAndGlyphs">**</text>
<text x="310.19" y="1973.88" font-size="30.43" text-anchor="middle" textLength="24.84" lengthAdjust="spacingAndGlyphs">**</text>
<text x="336.2" y="1949.87" font-size="30.43" text-anchor="middle">*</text>
<!-- panel_s -->
<text x="433.86" y="1865.1" font-size="38" textLength="22.6" lengthAdjust="spacingAndGlyphs" font-weight="bold" stroke="#000" stroke-width="1.7" stroke-linejoin="round">s</text>
<rect x="490.3" y="1865.23" width="12.41" height="12.41" fill="#000"/>
<text x="512.31" y="1877.23" font-size="18.5" textLength="61.24" lengthAdjust="spacingAndGlyphs">NCD<tspan font-size="12.03" dy="5.55">dev</tspan><tspan dy="-5.55">&#8203;</tspan></text>
<rect x="602.37" y="1865.23" width="12.41" height="12.41" fill="#d9420b"/>
<text x="623.18" y="1877.23" font-size="18.5" textLength="57.23" lengthAdjust="spacingAndGlyphs">BFD<tspan font-size="12.03" dy="5.55">dev</tspan><tspan dy="-5.55">&#8203;</tspan></text>
<line x1="521.52" y1="1910.13" x2="521.52" y2="2162.53" stroke="#1a1a1a" stroke-width="1.45"/>
<line x1="515.92" y1="1910.86" x2="521.52" y2="1910.86" stroke="#1a1a1a" stroke-width="1.45"/>
<text x="508.12" y="1917.16" font-size="18.29" text-anchor="end" textLength="22.18" lengthAdjust="spacingAndGlyphs">80</text>
<line x1="515.92" y1="1973.69" x2="521.52" y2="1973.69" stroke="#1a1a1a" stroke-width="1.45"/>
<text x="508.12" y="1980" font-size="18.29" text-anchor="end" textLength="22.18" lengthAdjust="spacingAndGlyphs">60</text>
<line x1="515.92" y1="2036.13" x2="521.52" y2="2036.13" stroke="#1a1a1a" stroke-width="1.45"/>
<text x="508.12" y="2042.44" font-size="18.29" text-anchor="end" textLength="22.18" lengthAdjust="spacingAndGlyphs">40</text>
<line x1="515.92" y1="2098.97" x2="521.52" y2="2098.97" stroke="#1a1a1a" stroke-width="1.45"/>
<text x="508.12" y="2105.28" font-size="18.29" text-anchor="end" textLength="22.18" lengthAdjust="spacingAndGlyphs">20</text>
<line x1="515.92" y1="2161.81" x2="521.52" y2="2161.81" stroke="#1a1a1a" stroke-width="1.45"/>
<text x="508.12" y="2168.12" font-size="18.29" text-anchor="end" textLength="10.98" lengthAdjust="spacingAndGlyphs">0</text>
<text font-size="22" text-anchor="middle" textLength="232.14" lengthAdjust="spacingAndGlyphs" transform="translate(464.78 2036.13) rotate(-90)">Body composition (%)</text>
<rect x="531.52" y="2030.13" width="19.21" height="131.68" fill="#000"/>
<line x1="541.13" y1="2022.12" x2="541.13" y2="2030.13" stroke="#333" stroke-width="1"/>
<line x1="538.33" y1="2022.12" x2="543.93" y2="2022.12" stroke="#333" stroke-width="1"/>
<g fill="#9a9a9a" fill-opacity="0.92">
<circle cx="541.13" cy="1997.97" r="2.6"/>
<circle cx="547.82" cy="2004.06" r="2.6"/>
<circle cx="544.65" cy="2006.13" r="2.6"/>
<circle cx="537.61" cy="2014.67" r="2.6"/>
<circle cx="537.61" cy="2019.48" r="2.6"/>
<circle cx="544.65" cy="2022.53" r="2.6"/>
<circle cx="544.65" cy="2031.11" r="2.6"/>
<circle cx="547.82" cy="2035.07" r="2.6"/>
<circle cx="537.61" cy="2039.16" r="2.6"/>
<circle cx="537.61" cy="2045.19" r="2.6"/>
<circle cx="544.65" cy="2052.71" r="2.6"/>
</g>
<rect x="560.34" y="2051.34" width="19.21" height="110.47" fill="#d9420b"/>
<line x1="569.95" y1="2046.54" x2="569.95" y2="2051.34" stroke="#d9420b" stroke-width="1"/>
<line x1="567.15" y1="2046.54" x2="572.75" y2="2046.54" stroke="#d9420b" stroke-width="1"/>
<g fill="#f99a9a" fill-opacity="0.92">
<circle cx="563.25" cy="2016.82" r="2.6"/>
<circle cx="569.95" cy="2019.55" r="2.6"/>
<circle cx="566.42" cy="2021.88" r="2.6"/>
<circle cx="573.47" cy="2027.32" r="2.6"/>
<circle cx="569.95" cy="2031.82" r="2.6"/>
<circle cx="563.25" cy="2033.57" r="2.6"/>
<circle cx="566.42" cy="2037.06" r="2.6"/>
<circle cx="573.47" cy="2042.01" r="2.6"/>
<circle cx="576.64" cy="2046.16" r="2.6"/>
<circle cx="566.42" cy="2049.13" r="2.6"/>
<circle cx="569.95" cy="2052.41" r="2.6"/>
<circle cx="576.64" cy="2056.32" r="2.6"/>
<circle cx="573.47" cy="2060.02" r="2.6"/>
<circle cx="563.25" cy="2062.63" r="2.6"/>
<circle cx="573.47" cy="2066.33" r="2.6"/>
<circle cx="573.47" cy="2071.24" r="2.6"/>
<circle cx="566.42" cy="2074.56" r="2.6"/>
</g>
<rect x="608.37" y="2023.32" width="19.21" height="138.48" fill="#000"/>
<line x1="617.97" y1="2014.52" x2="617.97" y2="2023.32" stroke="#333" stroke-width="1"/>
<line x1="615.17" y1="2014.52" x2="620.77" y2="2014.52" stroke="#333" stroke-width="1"/>
<g fill="#9a9a9a" fill-opacity="0.92">
<circle cx="614.45" cy="2002.54" r="2.6"/>
<circle cx="611.28" cy="2009.19" r="2.6"/>
<circle cx="624.67" cy="2013.86" r="2.6"/>
<circle cx="624.67" cy="2020.27" r="2.6"/>
<circle cx="624.67" cy="2026.38" r="2.6"/>
<circle cx="611.28" cy="2033.46" r="2.6"/>
<circle cx="611.28" cy="2040.86" r="2.6"/>
<circle cx="624.67" cy="2046.18" r="2.6"/>
<circle cx="624.67" cy="2053.41" r="2.6"/>
<circle cx="614.45" cy="2058.19" r="2.6"/>
<circle cx="624.67" cy="2067.03" r="2.6"/>
</g>
<rect x="637.59" y="2002.91" width="19.21" height="158.9" fill="#d9420b"/>
<line x1="647.19" y1="1998.11" x2="647.19" y2="2002.91" stroke="#d9420b" stroke-width="1"/>
<line x1="644.39" y1="1998.11" x2="649.99" y2="1998.11" stroke="#d9420b" stroke-width="1"/>
<g fill="#f99a9a" fill-opacity="0.92">
<circle cx="650.99" cy="1977.56" r="2.6"/>
<circle cx="640.55" cy="1980.96" r="2.6"/>
<circle cx="643.79" cy="1984.53" r="2.6"/>
<circle cx="654.24" cy="1990.36" r="2.6"/>
<circle cx="640.55" cy="1992.28" r="2.6"/>
<circle cx="650.99" cy="1996.71" r="2.6"/>
<circle cx="654.24" cy="2000.19" r="2.6"/>
<circle cx="650.99" cy="2003.3" r="2.6"/>
<circle cx="643.79" cy="2006.69" r="2.6"/>
<circle cx="647.39" cy="2012.36" r="2.6"/>
<circle cx="650.99" cy="2015.34" r="2.6"/>
<circle cx="650.99" cy="2020.16" r="2.6"/>
<circle cx="647.39" cy="2023.33" r="2.6"/>
<circle cx="640.55" cy="2025.17" r="2.6"/>
<circle cx="650.99" cy="2029.71" r="2.6"/>
<circle cx="640.55" cy="2032.58" r="2.6"/>
<circle cx="640.55" cy="2036.95" r="2.6"/>
<circle cx="654.24" cy="2041.11" r="2.6"/>
</g>
<text x="555.54" y="1981.89" font-size="30.43" text-anchor="middle">*</text>
<line x1="542.33" y1="1978.5" x2="572.35" y2="1978.5" stroke="#000" stroke-width="1.3"/>
<text x="632.38" y="1964.68" font-size="30.43" text-anchor="middle">*</text>
<line x1="619.58" y1="1959.28" x2="649.59" y2="1959.28" stroke="#000" stroke-width="1.3"/>
<text x="533.52" y="2190.22" font-size="22" textLength="48.83" lengthAdjust="spacingAndGlyphs">Lean</text>
<text x="618.37" y="2190.22" font-size="22" textLength="32.02" lengthAdjust="spacingAndGlyphs">Fat</text>
<text x="836.12" y="1885.24" font-size="21.5" textLength="76.05" lengthAdjust="spacingAndGlyphs">NCD<tspan font-size="13.97" dy="6.45">dev</tspan><tspan dy="-6.45">&#8203;</tspan></text>
<text x="979.01" y="1885.24" font-size="21.5" textLength="69.24" lengthAdjust="spacingAndGlyphs">BFD<tspan font-size="13.97" dy="6.45">dev</tspan><tspan dy="-6.45">&#8203;</tspan></text>
<!-- panel_t -->
<text x="1186.73" y="1865.1" font-size="38" textLength="15.6" lengthAdjust="spacingAndGlyphs" font-weight="bold" stroke="#000" stroke-width="1.7" stroke-linejoin="round">t</text>
<line x1="1208.34" y1="1874.83" x2="1238.36" y2="1874.83" stroke="#000" stroke-width="2.6"/>
<circle cx="1223.35" cy="1874.83" r="3.6" fill="#000"/>
<text x="1250.37" y="1880.04" font-size="18.5" textLength="61.24" lengthAdjust="spacingAndGlyphs">NCD<tspan font-size="12.03" dy="5.55">dev</tspan><tspan dy="-5.55">&#8203;</tspan></text>
<line x1="1340.83" y1="1874.83" x2="1370.85" y2="1874.83" stroke="#d9420b" stroke-width="2.6"/>
<circle cx="1355.84" cy="1874.83" r="3.6" fill="#d9420b"/>
<text x="1383.25" y="1880.04" font-size="18.5" textLength="55.63" lengthAdjust="spacingAndGlyphs">BFD<tspan font-size="12.03" dy="5.55">dev</tspan><tspan dy="-5.55">&#8203;</tspan></text>
<line x1="1272.38" y1="1910.53" x2="1272.38" y2="2153.73" stroke="#1a1a1a" stroke-width="1.45"/>
<line x1="1266.78" y1="1911.26" x2="1272.38" y2="1911.26" stroke="#1a1a1a" stroke-width="1.45"/>
<text x="1258.98" y="1917.56" font-size="18.29" text-anchor="end" textLength="33.88" lengthAdjust="spacingAndGlyphs">200</text>
<line x1="1266.78" y1="1959.68" x2="1272.38" y2="1959.68" stroke="#1a1a1a" stroke-width="1.45"/>
<text x="1258.98" y="1965.99" font-size="18.29" text-anchor="end" textLength="29.38" lengthAdjust="spacingAndGlyphs">175</text>
<line x1="1266.78" y1="2008.11" x2="1272.38" y2="2008.11" stroke="#1a1a1a" stroke-width="1.45"/>
<text x="1258.98" y="2014.42" font-size="18.29" text-anchor="end" textLength="29.38" lengthAdjust="spacingAndGlyphs">150</text>
<line x1="1266.78" y1="2056.54" x2="1272.38" y2="2056.54" stroke="#1a1a1a" stroke-width="1.45"/>
<text x="1258.98" y="2062.85" font-size="18.29" text-anchor="end" textLength="29.38" lengthAdjust="spacingAndGlyphs">125</text>
<line x1="1266.78" y1="2104.97" x2="1272.38" y2="2104.97" stroke="#1a1a1a" stroke-width="1.45"/>
<text x="1258.98" y="2111.28" font-size="18.29" text-anchor="end" textLength="29.38" lengthAdjust="spacingAndGlyphs">100</text>
<line x1="1266.78" y1="2153" x2="1272.38" y2="2153" stroke="#1a1a1a" stroke-width="1.45"/>
<text x="1258.98" y="2159.31" font-size="18.29" text-anchor="end" textLength="22.18" lengthAdjust="spacingAndGlyphs">75</text>
<line x1="1287.67" y1="2162.21" x2="1420.8" y2="2162.21" stroke="#1a1a1a" stroke-width="1.45"/>
<line x1="1288.39" y1="2162.21" x2="1288.39" y2="2166.71" stroke="#1a1a1a" stroke-width="1.45"/>
<text x="1288.39" y="2188.22" font-size="18.03" text-anchor="middle" textLength="10.83" lengthAdjust="spacingAndGlyphs">0</text>
<line x1="1321.22" y1="2162.21" x2="1321.22" y2="2166.71" stroke="#1a1a1a" stroke-width="1.45"/>
<text x="1321.22" y="2188.22" font-size="18.03" text-anchor="middle" textLength="17.43" lengthAdjust="spacingAndGlyphs">15</text>
<line x1="1354.04" y1="2162.21" x2="1354.04" y2="2166.71" stroke="#1a1a1a" stroke-width="1.45"/>
<text x="1354.04" y="2188.22" font-size="18.03" text-anchor="middle" textLength="21.87" lengthAdjust="spacingAndGlyphs">30</text>
<line x1="1420.08" y1="2162.21" x2="1420.08" y2="2166.71" stroke="#1a1a1a" stroke-width="1.45"/>
<text x="1420.08" y="2188.22" font-size="18.03" text-anchor="middle" textLength="21.87" lengthAdjust="spacingAndGlyphs">60</text>
<text font-size="22" text-anchor="middle" textLength="248.15" lengthAdjust="spacingAndGlyphs" transform="translate(1202.84 2032.13) rotate(-90)">Blood glucose (mg dl<tspan font-size="13.64" dy="-10.12">−1</tspan><tspan dy="10.12">&#8203;</tspan>)</text>
<text x="1298.8" y="2221.44" font-size="22" textLength="112.47" lengthAdjust="spacingAndGlyphs">Time (min)</text>
<line x1="1288.39" y1="1992.9" x2="1288.39" y2="2007.31" stroke="#d9420b" stroke-width="1.1"/>
<line x1="1285.39" y1="1992.9" x2="1291.39" y2="1992.9" stroke="#d9420b" stroke-width="1.1"/>
<line x1="1285.39" y1="2007.31" x2="1291.39" y2="2007.31" stroke="#d9420b" stroke-width="1.1"/>
<line x1="1321.22" y1="2103.37" x2="1321.22" y2="2109.78" stroke="#d9420b" stroke-width="1.1"/>
<line x1="1318.22" y1="2103.37" x2="1324.22" y2="2103.37" stroke="#d9420b" stroke-width="1.1"/>
<line x1="1318.22" y1="2109.78" x2="1324.22" y2="2109.78" stroke="#d9420b" stroke-width="1.1"/>
<line x1="1354.04" y1="2119.78" x2="1354.04" y2="2129.39" stroke="#d9420b" stroke-width="1.1"/>
<line x1="1351.04" y1="2119.78" x2="1357.04" y2="2119.78" stroke="#d9420b" stroke-width="1.1"/>
<line x1="1351.04" y1="2129.39" x2="1357.04" y2="2129.39" stroke="#d9420b" stroke-width="1.1"/>
<line x1="1420.08" y1="2078.96" x2="1420.08" y2="2110.98" stroke="#d9420b" stroke-width="1.1"/>
<line x1="1417.08" y1="2078.96" x2="1423.08" y2="2078.96" stroke="#d9420b" stroke-width="1.1"/>
<line x1="1417.08" y1="2110.98" x2="1423.08" y2="2110.98" stroke="#d9420b" stroke-width="1.1"/>
<polyline points="1288.39,2000.11 1321.22,2106.57 1354.04,2124.58 1420.08,2094.97" fill="none" stroke="#d9420b" stroke-width="2.6" stroke-linejoin="round"/>
<g fill="#d9420b">
<circle cx="1288.39" cy="2000.11" r="3.7"/>
<circle cx="1321.22" cy="2106.57" r="3.7"/>
<circle cx="1354.04" cy="2124.58" r="3.7"/>
<circle cx="1420.08" cy="2094.97" r="3.7"/>
</g>
<line x1="1288.39" y1="2018.52" x2="1288.39" y2="2032.93" stroke="#000" stroke-width="1.1"/>
<line x1="1285.39" y1="2018.52" x2="1291.39" y2="2018.52" stroke="#000" stroke-width="1.1"/>
<line x1="1285.39" y1="2032.93" x2="1291.39" y2="2032.93" stroke="#000" stroke-width="1.1"/>
<line x1="1321.22" y1="2118.18" x2="1321.22" y2="2127.79" stroke="#000" stroke-width="1.1"/>
<line x1="1318.22" y1="2118.18" x2="1324.22" y2="2118.18" stroke="#000" stroke-width="1.1"/>
<line x1="1318.22" y1="2127.79" x2="1324.22" y2="2127.79" stroke="#000" stroke-width="1.1"/>
<line x1="1354.04" y1="2145.4" x2="1354.04" y2="2150.2" stroke="#000" stroke-width="1.1"/>
<line x1="1351.04" y1="2145.4" x2="1357.04" y2="2145.4" stroke="#000" stroke-width="1.1"/>
<line x1="1351.04" y1="2150.2" x2="1357.04" y2="2150.2" stroke="#000" stroke-width="1.1"/>
<line x1="1420.08" y1="2139.79" x2="1420.08" y2="2144.6" stroke="#000" stroke-width="1.1"/>
<line x1="1417.08" y1="2139.79" x2="1423.08" y2="2139.79" stroke="#000" stroke-width="1.1"/>
<line x1="1417.08" y1="2144.6" x2="1423.08" y2="2144.6" stroke="#000" stroke-width="1.1"/>
<polyline points="1288.39,2025.72 1321.22,2122.98 1354.04,2147.8 1420.08,2142.2" fill="none" stroke="#000" stroke-width="2.6" stroke-linejoin="round"/>
<g fill="#000">
<circle cx="1288.39" cy="2025.72" r="3.7"/>
<circle cx="1321.22" cy="2122.98" r="3.7"/>
<circle cx="1354.04" cy="2147.8" r="3.7"/>
<circle cx="1420.08" cy="2142.2" r="3.7"/>
</g>
<text x="1288.39" y="1999.9" font-size="30.43" text-anchor="middle">*</text>
<text x="1332.02" y="2105.96" font-size="30.43" text-anchor="middle" textLength="24.84" lengthAdjust="spacingAndGlyphs">**</text>
<text x="1354.04" y="2120.77" font-size="30.43" text-anchor="middle" textLength="37.84" lengthAdjust="spacingAndGlyphs">***</text>
<text x="1420.08" y="2085.95" font-size="30.43" text-anchor="middle">*</text>
<text x="1287.19" y="1923.26" font-size="22" textLength="66.84" lengthAdjust="spacingAndGlyphs">Group</text>
<text x="1374.05" y="1927.46" font-size="20.29" text-anchor="middle" textLength="25.09" lengthAdjust="spacingAndGlyphs">***</text>
<line x1="1556.96" y1="1910.13" x2="1556.96" y2="2162.53" stroke="#1a1a1a" stroke-width="1.45"/>
<line x1="1551.36" y1="1910.86" x2="1556.96" y2="1910.86" stroke="#1a1a1a" stroke-width="1.45"/>
<text x="1543.56" y="1917.16" font-size="18.29" text-anchor="end" textLength="17.69" lengthAdjust="spacingAndGlyphs">10</text>
<line x1="1551.36" y1="1960.89" x2="1556.96" y2="1960.89" stroke="#1a1a1a" stroke-width="1.45"/>
<text x="1543.56" y="1967.19" font-size="18.29" text-anchor="end" textLength="10.98" lengthAdjust="spacingAndGlyphs">8</text>
<line x1="1551.36" y1="2011.32" x2="1556.96" y2="2011.32" stroke="#1a1a1a" stroke-width="1.45"/>
<text x="1543.56" y="2017.63" font-size="18.29" text-anchor="end" textLength="10.98" lengthAdjust="spacingAndGlyphs">6</text>
<line x1="1551.36" y1="2061.35" x2="1556.96" y2="2061.35" stroke="#1a1a1a" stroke-width="1.45"/>
<text x="1543.56" y="2067.66" font-size="18.29" text-anchor="end" textLength="10.98" lengthAdjust="spacingAndGlyphs">4</text>
<line x1="1551.36" y1="2111.78" x2="1556.96" y2="2111.78" stroke="#1a1a1a" stroke-width="1.45"/>
<text x="1543.56" y="2118.09" font-size="18.29" text-anchor="end" textLength="10.98" lengthAdjust="spacingAndGlyphs">2</text>
<line x1="1551.36" y1="2161.81" x2="1556.96" y2="2161.81" stroke="#1a1a1a" stroke-width="1.45"/>
<text x="1543.56" y="2168.12" font-size="18.29" text-anchor="end" textLength="10.98" lengthAdjust="spacingAndGlyphs">0</text>
<text font-size="22" text-anchor="middle" textLength="110.07" lengthAdjust="spacingAndGlyphs" transform="translate(1503.83 2036.13) rotate(-90)">AUC (×10<tspan font-size="13.64" dy="-10.12">3</tspan><tspan dy="10.12">&#8203;</tspan>)</text>
<rect x="1571.37" y="2026.93" width="28.82" height="134.88" fill="#000"/>
<line x1="1585.78" y1="2024.52" x2="1585.78" y2="2026.93" stroke="#222" stroke-width="1.1"/>
<line x1="1582.38" y1="2024.52" x2="1589.18" y2="2024.52" stroke="#222" stroke-width="1.1"/>
<g fill="#9a9a9a" fill-opacity="0.92">
<circle cx="1584.67" cy="2028.44" r="2.6"/>
<circle cx="1595.62" cy="2026.37" r="2.6"/>
<circle cx="1585.96" cy="2029.05" r="2.6"/>
<circle cx="1578.46" cy="2027.39" r="2.6"/>
<circle cx="1588.79" cy="2033.57" r="2.6"/>
<circle cx="1576.35" cy="2022.8" r="2.6"/>
<circle cx="1576.27" cy="2033.94" r="2.6"/>
<circle cx="1590.27" cy="2017.04" r="2.6"/>
<circle cx="1596.97" cy="2037.36" r="2.6"/>
<circle cx="1589.35" cy="2029.67" r="2.6"/>
<circle cx="1577.83" cy="2016.45" r="2.6"/>
<circle cx="1586.44" cy="2017.43" r="2.6"/>
<circle cx="1578.59" cy="2021.44" r="2.6"/>
<circle cx="1574.87" cy="2026.33" r="2.6"/>
<circle cx="1584.4" cy="2034.66" r="2.6"/>
<circle cx="1586.22" cy="2030.21" r="2.6"/>
</g>
<rect x="1614.59" y="2004.11" width="28.42" height="157.7" fill="#d9420b"/>
<line x1="1628.8" y1="2000.91" x2="1628.8" y2="2004.11" stroke="#d9420b" stroke-width="1.1"/>
<line x1="1625.4" y1="2000.91" x2="1632.2" y2="2000.91" stroke="#d9420b" stroke-width="1.1"/>
<g fill="#f99a9a" fill-opacity="0.92">
<circle cx="1629" cy="2011.24" r="2.6"/>
<circle cx="1628.01" cy="2004.32" r="2.6"/>
<circle cx="1640.56" cy="2017.24" r="2.6"/>
<circle cx="1636.9" cy="2012.06" r="2.6"/>
<circle cx="1624.71" cy="2003.45" r="2.6"/>
<circle cx="1624.11" cy="2000.57" r="2.6"/>
<circle cx="1635.18" cy="2006.52" r="2.6"/>
<circle cx="1637.05" cy="2006.27" r="2.6"/>
<circle cx="1639.64" cy="2014.57" r="2.6"/>
<circle cx="1617.41" cy="2003.09" r="2.6"/>
<circle cx="1638.53" cy="2007.77" r="2.6"/>
<circle cx="1640.15" cy="2006.47" r="2.6"/>
<circle cx="1619.09" cy="2010.65" r="2.6"/>
<circle cx="1635.47" cy="2004.17" r="2.6"/>
<circle cx="1619.42" cy="2005.3" r="2.6"/>
<circle cx="1639.78" cy="2012.96" r="2.6"/>
<circle cx="1627.8" cy="1957.28" r="2.6"/>
</g>
<text x="1605.39" y="1946.67" font-size="30.43" text-anchor="middle" textLength="34.84" lengthAdjust="spacingAndGlyphs">***</text>
<line x1="1583.38" y1="1944.88" x2="1627.4" y2="1944.88" stroke="#000" stroke-width="1.3"/>
<!-- panel_u -->
<text x="1704.65" y="1865.1" font-size="38" textLength="24.6" lengthAdjust="spacingAndGlyphs" font-weight="bold" stroke="#000" stroke-width="1.7" stroke-linejoin="round">u</text>
<rect x="1754.28" y="1865.23" width="12.81" height="12.81" fill="#000"/>
<text x="1776.29" y="1878.04" font-size="18.5" textLength="60.84" lengthAdjust="spacingAndGlyphs">NCD<tspan font-size="12.03" dy="5.55">dev</tspan><tspan dy="-5.55">&#8203;</tspan></text>
<rect x="1865.15" y="1865.23" width="12.81" height="12.81" fill="#d9420b"/>
<text x="1887.16" y="1878.04" font-size="18.5" textLength="55.23" lengthAdjust="spacingAndGlyphs">BFD<tspan font-size="12.03" dy="5.55">dev</tspan><tspan dy="-5.55">&#8203;</tspan></text>
<line x1="1801.51" y1="1910.53" x2="1801.51" y2="2162.53" stroke="#1a1a1a" stroke-width="1.45"/>
<line x1="1795.91" y1="1911.26" x2="1801.51" y2="1911.26" stroke="#1a1a1a" stroke-width="1.45"/>
<text x="1788.11" y="1917.56" font-size="18.29" text-anchor="end" textLength="33.88" lengthAdjust="spacingAndGlyphs">200</text>
<line x1="1795.91" y1="1973.69" x2="1801.51" y2="1973.69" stroke="#1a1a1a" stroke-width="1.45"/>
<text x="1788.11" y="1980" font-size="18.29" text-anchor="end" textLength="29.38" lengthAdjust="spacingAndGlyphs">150</text>
<line x1="1795.91" y1="2036.53" x2="1801.51" y2="2036.53" stroke="#1a1a1a" stroke-width="1.45"/>
<text x="1788.11" y="2042.84" font-size="18.29" text-anchor="end" textLength="29.38" lengthAdjust="spacingAndGlyphs">100</text>
<line x1="1795.91" y1="2098.97" x2="1801.51" y2="2098.97" stroke="#1a1a1a" stroke-width="1.45"/>
<text x="1788.11" y="2105.28" font-size="18.29" text-anchor="end" textLength="22.18" lengthAdjust="spacingAndGlyphs">50</text>
<line x1="1795.91" y1="2161.81" x2="1801.51" y2="2161.81" stroke="#1a1a1a" stroke-width="1.45"/>
<text x="1788.11" y="2168.12" font-size="18.29" text-anchor="end" textLength="10.98" lengthAdjust="spacingAndGlyphs">0</text>
<text font-size="22" text-anchor="middle" textLength="250.15" lengthAdjust="spacingAndGlyphs" transform="translate(1732.77 2036.13) rotate(-90)">Blood glucose (mg dl<tspan font-size="13.64" dy="-10.12">−1</tspan><tspan dy="10.12">&#8203;</tspan>)</text>
<rect x="1815.52" y="1971.69" width="28.42" height="190.12" fill="#000"/>
<line x1="1829.72" y1="1967.69" x2="1829.72" y2="1971.69" stroke="#222" stroke-width="1.1"/>
<line x1="1826.32" y1="1967.69" x2="1833.12" y2="1967.69" stroke="#222" stroke-width="1.1"/>
<g fill="#9a9a9a" fill-opacity="0.92">
<circle cx="1829.52" cy="1942.07" r="2.6"/>
<circle cx="1841.53" cy="1940.87" r="2.6"/>
<circle cx="1818.32" cy="1954.88" r="2.6"/>
<circle cx="1829.52" cy="1948.08" r="2.6"/>
<circle cx="1829.52" cy="1958.08" r="2.6"/>
<circle cx="1840.33" cy="1958.08" r="2.6"/>
<circle cx="1818.32" cy="1968.09" r="2.6"/>
<circle cx="1834.33" cy="1968.89" r="2.6"/>
<circle cx="1824.32" cy="1976.9" r="2.6"/>
<circle cx="1841.53" cy="1974.09" r="2.6"/>
<circle cx="1829.52" cy="1982.1" r="2.6"/>
<circle cx="1818.32" cy="1986.1" r="2.6"/>
<circle cx="1840.33" cy="1984.9" r="2.6"/>
<circle cx="1829.52" cy="1991.3" r="2.6"/>
<circle cx="1829.52" cy="2000.11" r="2.6"/>
<circle cx="1829.52" cy="2007.31" r="2.6"/>
</g>
<rect x="1858.34" y="1955.28" width="28.42" height="206.53" fill="#d9420b"/>
<line x1="1872.55" y1="1950.48" x2="1872.55" y2="1955.28" stroke="#d9420b" stroke-width="1.1"/>
<line x1="1869.15" y1="1950.48" x2="1875.95" y2="1950.48" stroke="#d9420b" stroke-width="1.1"/>
<g fill="#f99a9a" fill-opacity="0.92">
<circle cx="1867.15" cy="1928.87" r="2.6"/>
<circle cx="1878.35" cy="1928.87" r="2.6"/>
<circle cx="1872.35" cy="1934.07" r="2.6"/>
<circle cx="1861.54" cy="1946.08" r="2.6"/>
<circle cx="1872.35" cy="1942.07" r="2.6"/>
<circle cx="1883.96" cy="1946.08" r="2.6"/>
<circle cx="1872.35" cy="1958.08" r="2.6"/>
<circle cx="1862.34" cy="1967.29" r="2.6"/>
<circle cx="1882.36" cy="1960.08" r="2.6"/>
<circle cx="1872.35" cy="1972.09" r="2.6"/>
<circle cx="1883.96" cy="1970.09" r="2.6"/>
<circle cx="1872.35" cy="1982.1" r="2.6"/>
<circle cx="1872.35" cy="1988.9" r="2.6"/>
</g>
<text x="1850.34" y="1919.05" font-size="30.43" text-anchor="middle">*</text>
<line x1="1827.52" y1="1914.86" x2="1871.55" y2="1914.86" stroke="#000" stroke-width="1.3"/>
<!-- panel_v -->
<text x="-0.4" y="2283.3" font-size="38" textLength="23.6" lengthAdjust="spacingAndGlyphs" font-weight="bold" stroke="#000" stroke-width="1.7" stroke-linejoin="round">v</text>
<text x="176.91" y="2292.26" font-size="22" textLength="112.47" lengthAdjust="spacingAndGlyphs">Adulthood</text>
<g transform="translate(93.04 2280.64) scale(0.19102 0.17184)">
<use href="#mouse2" fill="#0a0a0a"/>
<path d="M462 340C451.5 337.3 480.3 318.7 490 312C499.7 305.3 510.8 300 520 300C529.2 300 539.5 307.3 545 312C550.5 316.7 566.8 323.3 553 328" fill="none" stroke="#fff" stroke-width="7" stroke-linecap="round"/>
<path d="M552 330C554.2 324 559.2 350.7 558 362C556.8 373.3 546 403.3 545 398" fill="none" stroke="#fff" stroke-width="4.5" stroke-linecap="round"/>
<ellipse cx="388" cy="468" rx="18" ry="20" fill="#fff" transform="rotate(-25 388 468)"/>
</g>
<g transform="translate(355.94 2278.54) scale(0.19102 0.17184)">
<use href="#mouse2" fill="#0a0a0a"/>
<path d="M462 340C451.5 337.3 480.3 318.7 490 312C499.7 305.3 510.8 300 520 300C529.2 300 539.5 307.3 545 312C550.5 316.7 566.8 323.3 553 328" fill="none" stroke="#fff" stroke-width="7" stroke-linecap="round"/>
<path d="M552 330C554.2 324 559.2 350.7 558 362C556.8 373.3 546 403.3 545 398" fill="none" stroke="#fff" stroke-width="4.5" stroke-linecap="round"/>
<ellipse cx="388" cy="468" rx="18" ry="20" fill="#fff" transform="rotate(-25 388 468)"/>
</g>
<g transform="translate(95.84 2451.44) scale(0.19102 0.17184)">
<use href="#mouse2" fill="#8856a7"/>
<path d="M462 340C451.5 337.3 480.3 318.7 490 312C499.7 305.3 510.8 300 520 300C529.2 300 539.5 307.3 545 312C550.5 316.7 566.8 323.3 553 328" fill="none" stroke="#fff" stroke-width="7" stroke-linecap="round"/>
<path d="M552 330C554.2 324 559.2 350.7 558 362C556.8 373.3 546 403.3 545 398" fill="none" stroke="#fff" stroke-width="4.5" stroke-linecap="round"/>
<ellipse cx="388" cy="468" rx="18" ry="20" fill="#fff" transform="rotate(-25 388 468)"/>
</g>
<g transform="translate(355.94 2446.34) scale(0.19102 0.17184)">
<use href="#mouse2" fill="#8856a7"/>
<path d="M462 340C451.5 337.3 480.3 318.7 490 312C499.7 305.3 510.8 300 520 300C529.2 300 539.5 307.3 545 312C550.5 316.7 566.8 323.3 553 328" fill="none" stroke="#fff" stroke-width="7" stroke-linecap="round"/>
<path d="M552 330C554.2 324 559.2 350.7 558 362C556.8 373.3 546 403.3 545 398" fill="none" stroke="#fff" stroke-width="4.5" stroke-linecap="round"/>
<ellipse cx="388" cy="468" rx="18" ry="20" fill="#fff" transform="rotate(-25 388 468)"/>
</g>
<use href="#pellet3" fill="#e8d8a6" stroke="#2a2412" transform="translate(100 2280) scale(0.16981)"/>
<use href="#pellet3" fill="#e8d8a6" stroke="#2a2412" transform="translate(100 2448.5) scale(0.16981)"/>
<use href="#pellet2" fill="#f4fbbb" stroke="#3a3a1a" transform="translate(364 2346.7) scale(0.05337)"/>
<use href="#pellet2" fill="#f4fbbb" stroke="#3a3a1a" transform="translate(368.4 2514.8) scale(0.05337)"/>
<circle cx="144.09" cy="2514.4" r="1.7" fill="#8856a7"/>
<circle cx="137.28" cy="2524" r="1.7" fill="#8856a7"/>
<circle cx="130.48" cy="2527.21" r="1.7" fill="#8856a7"/>
<circle cx="134.48" cy="2532.81" r="1.7" fill="#8856a7"/>
<circle cx="143.29" cy="2533.61" r="1.7" fill="#8856a7"/>
<circle cx="127.28" cy="2538.81" r="1.7" fill="#8856a7"/>
<circle cx="146.09" cy="2540.01" r="1.7" fill="#8856a7"/>
<circle cx="134.08" cy="2525.2" r="1.7" fill="#8856a7"/>
<polygon points="108.87,2407.93 127.48,2402.33 146.09,2407.93" fill="#0a0a0a"/>
<polygon points="380.23,2407.53 398.24,2401.93 416.25,2407.53" fill="#8c8c8c"/>
<polygon points="108.87,2583.64 127.48,2578.04 146.09,2583.64" fill="#8856a7"/>
<polygon points="380.23,2583.24 398.24,2577.64 416.25,2583.24" fill="#8c8c8c"/>
<text x="108.87" y="2428.35" font-size="19" textLength="205.32" lengthAdjust="spacingAndGlyphs">NCD: Normal chow diet</text>
<text x="158.5" y="2452.36" font-size="19" textLength="154.49" lengthAdjust="spacingAndGlyphs">low fat, low sugar</text>
<text x="379.03" y="2429.55" font-size="19" textLength="58.44" lengthAdjust="spacingAndGlyphs" fill="#9a9a9a">HFD<tspan font-size="12.35" dy="5.7">lard</tspan><tspan dy="-5.7">&#8203;</tspan></text>
<text x="108.87" y="2608.46" font-size="19" textLength="228.14" lengthAdjust="spacingAndGlyphs" fill="#8856a7">BFD: Bacon-flavoured diet</text>
<text x="154.49" y="2630.47" font-size="19" textLength="179.71" lengthAdjust="spacingAndGlyphs" fill="#8856a7">NCD + bacon odours</text>
<text x="379.03" y="2605.25" font-size="19" textLength="58.44" lengthAdjust="spacingAndGlyphs" fill="#9a9a9a">HFD<tspan font-size="12.35" dy="5.7">lard</tspan><tspan dy="-5.7">&#8203;</tspan></text>
<text x="471.09" y="2361.91" font-size="19" textLength="69.24" lengthAdjust="spacingAndGlyphs" fill="#fff">NCD<tspan font-size="12.35" dy="5.7">adult</tspan><tspan dy="-5.7">&#8203;</tspan></text>
<text x="472.29" y="2534.01" font-size="19" textLength="64.84" lengthAdjust="spacingAndGlyphs" fill="#fff">BFD<tspan font-size="12.35" dy="5.7">adult</tspan><tspan dy="-5.7">&#8203;</tspan></text>
<text x="461.08" y="2641.68" font-size="23" textLength="142.49" lengthAdjust="spacingAndGlyphs">Weeks of age</text>
<line x1="104.06" y1="2654.48" x2="606.37" y2="2654.48" stroke="#000" stroke-width="2"/>
<polygon points="615.57,2654.48 601.56,2648.88 604.37,2654.48 601.56,2660.09" fill="#000"/>
<path d="M101.66 2660.09 L138.48 2660.09 Q124.88 2663.29 120.07 2666.49 Q115.27 2663.29 101.66 2660.09Z" fill="#000"/>
<path d="M345.81 2660.09 L382.63 2660.09 Q369.02 2663.29 364.22 2666.49 Q359.42 2663.29 345.81 2660.09Z" fill="#000"/>
<path d="M559.14 2660.09 L595.96 2660.09 Q582.35 2663.29 577.55 2666.49 Q572.75 2663.29 559.14 2660.09Z" fill="#000"/>
<text x="115.27" y="2686.5" font-size="18" textLength="10.01" lengthAdjust="spacingAndGlyphs">8</text>
<text x="355.42" y="2686.5" font-size="18" textLength="17.61" lengthAdjust="spacingAndGlyphs">16</text>
<text x="567.54" y="2686.5" font-size="18" textLength="20.81" lengthAdjust="spacingAndGlyphs">24</text>
<!-- panel_w -->
<text x="746.87" y="2283.3" font-size="38" textLength="30.1" lengthAdjust="spacingAndGlyphs" font-weight="bold" stroke="#000" stroke-width="1.7" stroke-linejoin="round">w</text>
<text x="790.09" y="2310.27" font-size="21" text-anchor="middle" style="font-family:DejaVu Sans,sans-serif">♂</text>
<line x1="833.32" y1="2306.27" x2="863.34" y2="2306.27" stroke="#000" stroke-width="2.6"/>
<circle cx="848.33" cy="2306.27" r="3.8" fill="#000"/>
<text x="871.34" y="2311.08" font-size="18.5" textLength="68.84" lengthAdjust="spacingAndGlyphs">NCD<tspan font-size="12.03" dy="5.55">adult</tspan><tspan dy="-5.55">&#8203;</tspan></text>
<line x1="952.19" y1="2306.27" x2="982.21" y2="2306.27" stroke="#8856a7" stroke-width="2.6"/>
<circle cx="967.2" cy="2306.27" r="3.8" fill="#8856a7"/>
<text x="991.01" y="2311.08" font-size="18.5" textLength="64.04" lengthAdjust="spacingAndGlyphs">BFD<tspan font-size="12.03" dy="5.55">adult</tspan><tspan dy="-5.55">&#8203;</tspan></text>
<line x1="824.11" y1="2358.38" x2="824.11" y2="2606.38" stroke="#1a1a1a" stroke-width="1.45"/>
<line x1="818.51" y1="2359.1" x2="824.11" y2="2359.1" stroke="#1a1a1a" stroke-width="1.45"/>
<text x="810.71" y="2365.41" font-size="18.29" text-anchor="end" textLength="22.18" lengthAdjust="spacingAndGlyphs">50</text>
<line x1="818.51" y1="2408.33" x2="824.11" y2="2408.33" stroke="#1a1a1a" stroke-width="1.45"/>
<text x="810.71" y="2414.64" font-size="18.29" text-anchor="end" textLength="22.18" lengthAdjust="spacingAndGlyphs">40</text>
<line x1="818.51" y1="2457.56" x2="824.11" y2="2457.56" stroke="#1a1a1a" stroke-width="1.45"/>
<text x="810.71" y="2463.87" font-size="18.29" text-anchor="end" textLength="22.18" lengthAdjust="spacingAndGlyphs">30</text>
<line x1="818.51" y1="2507.19" x2="824.11" y2="2507.19" stroke="#1a1a1a" stroke-width="1.45"/>
<text x="810.71" y="2513.5" font-size="18.29" text-anchor="end" textLength="22.18" lengthAdjust="spacingAndGlyphs">20</text>
<line x1="818.51" y1="2556.42" x2="824.11" y2="2556.42" stroke="#1a1a1a" stroke-width="1.45"/>
<text x="810.71" y="2562.73" font-size="18.29" text-anchor="end" textLength="17.69" lengthAdjust="spacingAndGlyphs">10</text>
<line x1="818.51" y1="2605.65" x2="824.11" y2="2605.65" stroke="#1a1a1a" stroke-width="1.45"/>
<text x="810.71" y="2611.96" font-size="18.29" text-anchor="end" textLength="10.98" lengthAdjust="spacingAndGlyphs">0</text>
<line x1="832.59" y1="2610.46" x2="1076.11" y2="2610.46" stroke="#1a1a1a" stroke-width="1.45"/>
<line x1="833.32" y1="2610.46" x2="833.32" y2="2615.26" stroke="#1a1a1a" stroke-width="1.45"/>
<text x="833.32" y="2637.27" font-size="18.03" text-anchor="middle" textLength="10.83" lengthAdjust="spacingAndGlyphs">8</text>
<line x1="863.58" y1="2610.46" x2="863.58" y2="2615.26" stroke="#1a1a1a" stroke-width="1.45"/>
<text x="863.58" y="2637.27" font-size="18.03" text-anchor="middle" textLength="17.43" lengthAdjust="spacingAndGlyphs">10</text>
<line x1="893.83" y1="2610.46" x2="893.83" y2="2615.26" stroke="#1a1a1a" stroke-width="1.45"/>
<text x="893.83" y="2637.27" font-size="18.03" text-anchor="middle" textLength="17.43" lengthAdjust="spacingAndGlyphs">12</text>
<line x1="924.09" y1="2610.46" x2="924.09" y2="2615.26" stroke="#1a1a1a" stroke-width="1.45"/>
<text x="924.09" y="2637.27" font-size="18.03" text-anchor="middle" textLength="17.43" lengthAdjust="spacingAndGlyphs">14</text>
<line x1="954.35" y1="2610.46" x2="954.35" y2="2615.26" stroke="#1a1a1a" stroke-width="1.45"/>
<text x="954.35" y="2637.27" font-size="18.03" text-anchor="middle" textLength="17.43" lengthAdjust="spacingAndGlyphs">16</text>
<line x1="984.61" y1="2610.46" x2="984.61" y2="2615.26" stroke="#1a1a1a" stroke-width="1.45"/>
<text x="984.61" y="2637.27" font-size="18.03" text-anchor="middle" textLength="17.43" lengthAdjust="spacingAndGlyphs">18</text>
<line x1="1014.87" y1="2610.46" x2="1014.87" y2="2615.26" stroke="#1a1a1a" stroke-width="1.45"/>
<text x="1014.87" y="2637.27" font-size="18.03" text-anchor="middle" textLength="21.87" lengthAdjust="spacingAndGlyphs">20</text>
<line x1="1045.13" y1="2610.46" x2="1045.13" y2="2615.26" stroke="#1a1a1a" stroke-width="1.45"/>
<text x="1045.13" y="2637.27" font-size="18.03" text-anchor="middle" textLength="21.87" lengthAdjust="spacingAndGlyphs">22</text>
<line x1="1075.38" y1="2610.46" x2="1075.38" y2="2615.26" stroke="#1a1a1a" stroke-width="1.45"/>
<text x="1075.38" y="2637.27" font-size="18.03" text-anchor="middle" textLength="21.87" lengthAdjust="spacingAndGlyphs">24</text>
<line x1="954.19" y1="2359.1" x2="954.19" y2="2610.46" stroke="#3a3a3a" stroke-width="1.7" stroke-dasharray="14.6 9.8"/>
<text x="850.13" y="2601.25" font-size="22" textLength="86.05" lengthAdjust="spacingAndGlyphs">Pre-HFD</text>
<text x="977.4" y="2601.25" font-size="22" textLength="96.86" lengthAdjust="spacingAndGlyphs">Post-HFD</text>
<text font-size="22" text-anchor="middle" textLength="164.9" lengthAdjust="spacingAndGlyphs" transform="translate(764.58 2482.38) rotate(-90)">Body weight (g)</text>
<text x="884.15" y="2670.09" font-size="22" textLength="141.29" lengthAdjust="spacingAndGlyphs">Weeks of age</text>
<line x1="954.35" y1="2437.95" x2="954.35" y2="2445.95" stroke="#8856a7" stroke-width="1.1"/>
<line x1="951.35" y1="2437.95" x2="957.35" y2="2437.95" stroke="#8856a7" stroke-width="1.1"/>
<line x1="951.35" y1="2445.95" x2="957.35" y2="2445.95" stroke="#8856a7" stroke-width="1.1"/>
<line x1="984.61" y1="2427.55" x2="984.61" y2="2435.55" stroke="#8856a7" stroke-width="1.1"/>
<line x1="981.61" y1="2427.55" x2="987.61" y2="2427.55" stroke="#8856a7" stroke-width="1.1"/>
<line x1="981.61" y1="2435.55" x2="987.61" y2="2435.55" stroke="#8856a7" stroke-width="1.1"/>
<line x1="999.74" y1="2405.14" x2="999.74" y2="2417.14" stroke="#8856a7" stroke-width="1.1"/>
<line x1="996.74" y1="2405.14" x2="1002.74" y2="2405.14" stroke="#8856a7" stroke-width="1.1"/>
<line x1="996.74" y1="2417.14" x2="1002.74" y2="2417.14" stroke="#8856a7" stroke-width="1.1"/>
<line x1="1030" y1="2377.52" x2="1030" y2="2389.52" stroke="#8856a7" stroke-width="1.1"/>
<line x1="1027" y1="2377.52" x2="1033" y2="2377.52" stroke="#8856a7" stroke-width="1.1"/>
<line x1="1027" y1="2389.52" x2="1033" y2="2389.52" stroke="#8856a7" stroke-width="1.1"/>
<line x1="1075.38" y1="2369.91" x2="1075.38" y2="2381.91" stroke="#8856a7" stroke-width="1.1"/>
<line x1="1072.38" y1="2369.91" x2="1078.38" y2="2369.91" stroke="#8856a7" stroke-width="1.1"/>
<line x1="1072.38" y1="2381.91" x2="1078.38" y2="2381.91" stroke="#8856a7" stroke-width="1.1"/>
<polyline points="833.32,2485.58 848.45,2488.38 863.58,2478.38 878.7,2474.37 893.83,2469.17 908.96,2456.76 924.09,2453.16 939.22,2449.56 954.35,2441.95 984.61,2431.55 999.74,2411.14 1030,2383.52 1075.38,2375.91" fill="none" stroke="#8856a7" stroke-width="2.6" stroke-linejoin="round"/>
<g fill="#8856a7">
<circle cx="833.32" cy="2485.58" r="3.7"/>
<circle cx="848.45" cy="2488.38" r="3.7"/>
<circle cx="863.58" cy="2478.38" r="3.7"/>
<circle cx="878.7" cy="2474.37" r="3.7"/>
<circle cx="893.83" cy="2469.17" r="3.7"/>
<circle cx="908.96" cy="2456.76" r="3.7"/>
<circle cx="924.09" cy="2453.16" r="3.7"/>
<circle cx="939.22" cy="2449.56" r="3.7"/>
<circle cx="954.35" cy="2441.95" r="3.7"/>
<circle cx="984.61" cy="2431.55" r="3.7"/>
<circle cx="999.74" cy="2411.14" r="3.7"/>
<circle cx="1030" cy="2383.52" r="3.7"/>
<circle cx="1075.38" cy="2375.91" r="3.7"/>
</g>
<line x1="954.35" y1="2439.56" x2="954.35" y2="2447.56" stroke="#000" stroke-width="1.1"/>
<line x1="951.35" y1="2439.56" x2="957.35" y2="2439.56" stroke="#000" stroke-width="1.1"/>
<line x1="951.35" y1="2447.56" x2="957.35" y2="2447.56" stroke="#000" stroke-width="1.1"/>
<line x1="984.61" y1="2432.15" x2="984.61" y2="2438.15" stroke="#000" stroke-width="1.1"/>
<line x1="981.61" y1="2432.15" x2="987.61" y2="2432.15" stroke="#000" stroke-width="1.1"/>
<line x1="981.61" y1="2438.15" x2="987.61" y2="2438.15" stroke="#000" stroke-width="1.1"/>
<line x1="999.74" y1="2399.73" x2="999.74" y2="2405.73" stroke="#000" stroke-width="1.1"/>
<line x1="996.74" y1="2399.73" x2="1002.74" y2="2399.73" stroke="#000" stroke-width="1.1"/>
<line x1="996.74" y1="2405.73" x2="1002.74" y2="2405.73" stroke="#000" stroke-width="1.1"/>
<line x1="1030" y1="2374.12" x2="1030" y2="2388.12" stroke="#000" stroke-width="1.1"/>
<line x1="1027" y1="2374.12" x2="1033" y2="2374.12" stroke="#000" stroke-width="1.1"/>
<line x1="1027" y1="2388.12" x2="1033" y2="2388.12" stroke="#000" stroke-width="1.1"/>
<line x1="1075.38" y1="2370.12" x2="1075.38" y2="2384.12" stroke="#000" stroke-width="1.1"/>
<line x1="1072.38" y1="2370.12" x2="1078.38" y2="2370.12" stroke="#000" stroke-width="1.1"/>
<line x1="1072.38" y1="2384.12" x2="1078.38" y2="2384.12" stroke="#000" stroke-width="1.1"/>
<polyline points="833.32,2485.58 848.45,2482.78 863.58,2481.18 878.7,2475.98 893.83,2471.17 908.96,2460.77 924.09,2457.96 939.22,2455.56 954.35,2443.56 984.61,2435.15 999.74,2402.73 1030,2381.12 1075.38,2377.12" fill="none" stroke="#000" stroke-width="2.6" stroke-linejoin="round"/>
<g fill="#000">
<circle cx="833.32" cy="2485.58" r="3.7"/>
<circle cx="848.45" cy="2482.78" r="3.7"/>
<circle cx="863.58" cy="2481.18" r="3.7"/>
<circle cx="878.7" cy="2475.98" r="3.7"/>
<circle cx="893.83" cy="2471.17" r="3.7"/>
<circle cx="908.96" cy="2460.77" r="3.7"/>
<circle cx="924.09" cy="2457.96" r="3.7"/>
<circle cx="939.22" cy="2455.56" r="3.7"/>
<circle cx="954.35" cy="2443.56" r="3.7"/>
<circle cx="984.61" cy="2435.15" r="3.7"/>
<circle cx="999.74" cy="2402.73" r="3.7"/>
<circle cx="1030" cy="2381.12" r="3.7"/>
<circle cx="1075.38" cy="2377.12" r="3.7"/>
</g>
<!-- panel_x -->
<text x="1137.9" y="2283.3" font-size="38" textLength="22.1" lengthAdjust="spacingAndGlyphs" font-weight="bold" stroke="#000" stroke-width="1.7" stroke-linejoin="round">x</text>
<rect x="1162.32" y="2296.27" width="13.61" height="13.61" fill="#000"/>
<text x="1185.53" y="2309.07" font-size="18.5" textLength="68.84" lengthAdjust="spacingAndGlyphs">NCD<tspan font-size="12.03" dy="5.55">adult</tspan><tspan dy="-5.55">&#8203;</tspan></text>
<rect x="1274.38" y="2296.27" width="13.61" height="13.61" fill="#8856a7"/>
<text x="1296.8" y="2309.07" font-size="18.5" textLength="64.04" lengthAdjust="spacingAndGlyphs">BFD<tspan font-size="12.03" dy="5.55">adult</tspan><tspan dy="-5.55">&#8203;</tspan></text>
<line x1="1211.15" y1="2357.18" x2="1211.15" y2="2609.98" stroke="#1a1a1a" stroke-width="1.45"/>
<line x1="1205.55" y1="2357.9" x2="1211.15" y2="2357.9" stroke="#1a1a1a" stroke-width="1.45"/>
<text x="1197.75" y="2364.21" font-size="18.29" text-anchor="end" textLength="22.18" lengthAdjust="spacingAndGlyphs">60</text>
<line x1="1205.55" y1="2441.55" x2="1211.15" y2="2441.55" stroke="#1a1a1a" stroke-width="1.45"/>
<text x="1197.75" y="2447.86" font-size="18.29" text-anchor="end" textLength="22.18" lengthAdjust="spacingAndGlyphs">40</text>
<line x1="1205.55" y1="2525.61" x2="1211.15" y2="2525.61" stroke="#1a1a1a" stroke-width="1.45"/>
<text x="1197.75" y="2531.91" font-size="18.29" text-anchor="end" textLength="22.18" lengthAdjust="spacingAndGlyphs">20</text>
<line x1="1205.55" y1="2609.26" x2="1211.15" y2="2609.26" stroke="#1a1a1a" stroke-width="1.45"/>
<text x="1197.75" y="2615.57" font-size="18.29" text-anchor="end" textLength="10.98" lengthAdjust="spacingAndGlyphs">0</text>
<text font-size="22" text-anchor="middle" textLength="232.14" lengthAdjust="spacingAndGlyphs" transform="translate(1154.81 2483.18) rotate(-90)">Body composition (%)</text>
<rect x="1221.15" y="2460.37" width="19.21" height="148.89" fill="#000"/>
<line x1="1230.76" y1="2457.16" x2="1230.76" y2="2460.37" stroke="#222" stroke-width="1.1"/>
<line x1="1227.96" y1="2457.16" x2="1233.56" y2="2457.16" stroke="#222" stroke-width="1.1"/>
<g fill="#9a9a9a" fill-opacity="0.92">
<circle cx="1224.35" cy="2455.56" r="2.6"/>
<circle cx="1230.76" cy="2453.16" r="2.6"/>
<circle cx="1237.16" cy="2456.36" r="2.6"/>
<circle cx="1224.35" cy="2464.37" r="2.6"/>
<circle cx="1230.76" cy="2473.97" r="2.6"/>
</g>
<rect x="1249.57" y="2455.56" width="19.61" height="153.69" fill="#8856a7"/>
<line x1="1259.38" y1="2449.96" x2="1259.38" y2="2455.56" stroke="#8856a7" stroke-width="1.1"/>
<line x1="1256.58" y1="2449.96" x2="1262.18" y2="2449.96" stroke="#8856a7" stroke-width="1.1"/>
<g fill="#ebc8f5" fill-opacity="0.92">
<circle cx="1252.37" cy="2445.16" r="2.6"/>
<circle cx="1266.38" cy="2441.95" r="2.6"/>
<circle cx="1259.58" cy="2457.16" r="2.6"/>
<circle cx="1252.37" cy="2465.17" r="2.6"/>
<circle cx="1266.38" cy="2463.97" r="2.6"/>
</g>
<rect x="1298" y="2387.12" width="20.01" height="222.13" fill="#000"/>
<line x1="1308" y1="2381.52" x2="1308" y2="2387.12" stroke="#222" stroke-width="1.1"/>
<line x1="1305.2" y1="2381.52" x2="1310.8" y2="2381.52" stroke="#222" stroke-width="1.1"/>
<g fill="#9a9a9a" fill-opacity="0.92">
<circle cx="1300.8" cy="2373.51" r="2.6"/>
<circle cx="1314.81" cy="2375.91" r="2.6"/>
<circle cx="1308.41" cy="2389.12" r="2.6"/>
<circle cx="1300.8" cy="2394.33" r="2.6"/>
<circle cx="1314.81" cy="2393.12" r="2.6"/>
<circle cx="1307.6" cy="2399.13" r="2.6"/>
</g>
<rect x="1326.82" y="2395.93" width="19.61" height="213.33" fill="#8856a7"/>
<line x1="1336.62" y1="2389.92" x2="1336.62" y2="2395.93" stroke="#8856a7" stroke-width="1.1"/>
<line x1="1333.82" y1="2389.92" x2="1339.42" y2="2389.92" stroke="#8856a7" stroke-width="1.1"/>
<g fill="#ebc8f5" fill-opacity="0.92">
<circle cx="1329.62" cy="2381.92" r="2.6"/>
<circle cx="1343.63" cy="2385.92" r="2.6"/>
<circle cx="1336.42" cy="2393.12" r="2.6"/>
<circle cx="1329.62" cy="2403.13" r="2.6"/>
<circle cx="1336.42" cy="2415.14" r="2.6"/>
</g>
<text x="1223.15" y="2634.07" font-size="22" textLength="48.43" lengthAdjust="spacingAndGlyphs">Lean</text>
<text x="1308" y="2633.27" font-size="22" textLength="32.02" lengthAdjust="spacingAndGlyphs">Fat</text>
<!-- panel_y -->
<text x="1415.67" y="2283.3" font-size="38" textLength="23.6" lengthAdjust="spacingAndGlyphs" font-weight="bold" stroke="#000" stroke-width="1.7" stroke-linejoin="round">y</text>
<line x1="1434.08" y1="2306.27" x2="1464.1" y2="2306.27" stroke="#000" stroke-width="2.6"/>
<circle cx="1449.09" cy="2306.27" r="3.6" fill="#000"/>
<text x="1472.91" y="2311.48" font-size="18.5" textLength="69.24" lengthAdjust="spacingAndGlyphs">NCD<tspan font-size="12.03" dy="5.55">adult</tspan><tspan dy="-5.55">&#8203;</tspan></text>
<line x1="1553.36" y1="2306.27" x2="1583.38" y2="2306.27" stroke="#8856a7" stroke-width="2.6"/>
<circle cx="1568.37" cy="2306.27" r="3.6" fill="#8856a7"/>
<text x="1592.18" y="2311.48" font-size="18.5" textLength="64.04" lengthAdjust="spacingAndGlyphs">BFD<tspan font-size="12.03" dy="5.55">adult</tspan><tspan dy="-5.55">&#8203;</tspan></text>
<line x1="1496.92" y1="2358.38" x2="1496.92" y2="2602.38" stroke="#1a1a1a" stroke-width="1.45"/>
<line x1="1491.32" y1="2359.1" x2="1496.92" y2="2359.1" stroke="#1a1a1a" stroke-width="1.45"/>
<text x="1483.52" y="2365.41" font-size="18.29" text-anchor="end" textLength="29.38" lengthAdjust="spacingAndGlyphs">175</text>
<line x1="1491.32" y1="2407.53" x2="1496.92" y2="2407.53" stroke="#1a1a1a" stroke-width="1.45"/>
<text x="1483.52" y="2413.84" font-size="18.29" text-anchor="end" textLength="29.38" lengthAdjust="spacingAndGlyphs">150</text>
<line x1="1491.32" y1="2455.96" x2="1496.92" y2="2455.96" stroke="#1a1a1a" stroke-width="1.45"/>
<text x="1483.52" y="2462.27" font-size="18.29" text-anchor="end" textLength="29.38" lengthAdjust="spacingAndGlyphs">125</text>
<line x1="1491.32" y1="2504.79" x2="1496.92" y2="2504.79" stroke="#1a1a1a" stroke-width="1.45"/>
<text x="1483.52" y="2511.1" font-size="18.29" text-anchor="end" textLength="29.38" lengthAdjust="spacingAndGlyphs">100</text>
<line x1="1491.32" y1="2553.22" x2="1496.92" y2="2553.22" stroke="#1a1a1a" stroke-width="1.45"/>
<text x="1483.52" y="2559.53" font-size="18.29" text-anchor="end" textLength="22.18" lengthAdjust="spacingAndGlyphs">75</text>
<line x1="1491.32" y1="2601.65" x2="1496.92" y2="2601.65" stroke="#1a1a1a" stroke-width="1.45"/>
<text x="1483.52" y="2607.96" font-size="18.29" text-anchor="end" textLength="22.18" lengthAdjust="spacingAndGlyphs">50</text>
<line x1="1511.41" y1="2610.46" x2="1648.94" y2="2610.46" stroke="#1a1a1a" stroke-width="1.45"/>
<line x1="1512.13" y1="2610.46" x2="1512.13" y2="2614.96" stroke="#1a1a1a" stroke-width="1.45"/>
<text x="1512.13" y="2637.27" font-size="18.03" text-anchor="middle" textLength="10.83" lengthAdjust="spacingAndGlyphs">0</text>
<line x1="1546.15" y1="2610.46" x2="1546.15" y2="2614.96" stroke="#1a1a1a" stroke-width="1.45"/>
<text x="1546.15" y="2637.27" font-size="18.03" text-anchor="middle" textLength="17.43" lengthAdjust="spacingAndGlyphs">15</text>
<line x1="1580.17" y1="2610.46" x2="1580.17" y2="2614.96" stroke="#1a1a1a" stroke-width="1.45"/>
<text x="1580.17" y="2637.27" font-size="18.03" text-anchor="middle" textLength="21.87" lengthAdjust="spacingAndGlyphs">30</text>
<line x1="1648.21" y1="2610.46" x2="1648.21" y2="2614.96" stroke="#1a1a1a" stroke-width="1.45"/>
<text x="1648.21" y="2637.27" font-size="18.03" text-anchor="middle" textLength="21.87" lengthAdjust="spacingAndGlyphs">60</text>
<text font-size="22" text-anchor="middle" textLength="248.15" lengthAdjust="spacingAndGlyphs" transform="translate(1430.58 2482.38) rotate(-90)">Blood glucose (mg dl<tspan font-size="13.64" dy="-10.12">−1</tspan><tspan dy="10.12">&#8203;</tspan>)</text>
<text x="1524.94" y="2670.09" font-size="22" textLength="112.07" lengthAdjust="spacingAndGlyphs">Time (min)</text>
<line x1="1512.13" y1="2379.92" x2="1512.13" y2="2399.93" stroke="#8856a7" stroke-width="1.1"/>
<line x1="1509.13" y1="2379.92" x2="1515.13" y2="2379.92" stroke="#8856a7" stroke-width="1.1"/>
<line x1="1509.13" y1="2399.93" x2="1515.13" y2="2399.93" stroke="#8856a7" stroke-width="1.1"/>
<line x1="1546.15" y1="2477.98" x2="1546.15" y2="2500.39" stroke="#8856a7" stroke-width="1.1"/>
<line x1="1543.15" y1="2477.98" x2="1549.15" y2="2477.98" stroke="#8856a7" stroke-width="1.1"/>
<line x1="1543.15" y1="2500.39" x2="1549.15" y2="2500.39" stroke="#8856a7" stroke-width="1.1"/>
<line x1="1580.17" y1="2509.2" x2="1580.17" y2="2526.81" stroke="#8856a7" stroke-width="1.1"/>
<line x1="1577.17" y1="2509.2" x2="1583.17" y2="2509.2" stroke="#8856a7" stroke-width="1.1"/>
<line x1="1577.17" y1="2526.81" x2="1583.17" y2="2526.81" stroke="#8856a7" stroke-width="1.1"/>
<line x1="1648.21" y1="2496.39" x2="1648.21" y2="2524.4" stroke="#8856a7" stroke-width="1.1"/>
<line x1="1645.21" y1="2496.39" x2="1651.21" y2="2496.39" stroke="#8856a7" stroke-width="1.1"/>
<line x1="1645.21" y1="2524.4" x2="1651.21" y2="2524.4" stroke="#8856a7" stroke-width="1.1"/>
<polyline points="1512.13,2389.92 1546.15,2489.18 1580.17,2518 1648.21,2510.4" fill="none" stroke="#8856a7" stroke-width="2.6" stroke-linejoin="round"/>
<g fill="#8856a7">
<circle cx="1512.13" cy="2389.92" r="3.7"/>
<circle cx="1546.15" cy="2489.18" r="3.7"/>
<circle cx="1580.17" cy="2518" r="3.7"/>
<circle cx="1648.21" cy="2510.4" r="3.7"/>
</g>
<line x1="1512.13" y1="2383.52" x2="1512.13" y2="2405.93" stroke="#000" stroke-width="1.1"/>
<line x1="1509.13" y1="2383.52" x2="1515.13" y2="2383.52" stroke="#000" stroke-width="1.1"/>
<line x1="1509.13" y1="2405.93" x2="1515.13" y2="2405.93" stroke="#000" stroke-width="1.1"/>
<line x1="1546.15" y1="2458.36" x2="1546.15" y2="2482.38" stroke="#000" stroke-width="1.1"/>
<line x1="1543.15" y1="2458.36" x2="1549.15" y2="2458.36" stroke="#000" stroke-width="1.1"/>
<line x1="1543.15" y1="2482.38" x2="1549.15" y2="2482.38" stroke="#000" stroke-width="1.1"/>
<line x1="1580.17" y1="2499.59" x2="1580.17" y2="2515.6" stroke="#000" stroke-width="1.1"/>
<line x1="1577.17" y1="2499.59" x2="1583.17" y2="2499.59" stroke="#000" stroke-width="1.1"/>
<line x1="1577.17" y1="2515.6" x2="1583.17" y2="2515.6" stroke="#000" stroke-width="1.1"/>
<line x1="1648.21" y1="2481.58" x2="1648.21" y2="2502.39" stroke="#000" stroke-width="1.1"/>
<line x1="1645.21" y1="2481.58" x2="1651.21" y2="2481.58" stroke="#000" stroke-width="1.1"/>
<line x1="1645.21" y1="2502.39" x2="1651.21" y2="2502.39" stroke="#000" stroke-width="1.1"/>
<polyline points="1512.13,2394.73 1546.15,2470.37 1580.17,2507.59 1648.21,2491.98" fill="none" stroke="#000" stroke-width="2.6" stroke-linejoin="round"/>
<g fill="#000">
<circle cx="1512.13" cy="2394.73" r="3.7"/>
<circle cx="1546.15" cy="2470.37" r="3.7"/>
<circle cx="1580.17" cy="2507.59" r="3.7"/>
<circle cx="1648.21" cy="2491.98" r="3.7"/>
</g>
<!-- panel_z -->
<text x="1703.85" y="2283.3" font-size="38" textLength="20.6" lengthAdjust="spacingAndGlyphs" font-weight="bold" stroke="#000" stroke-width="1.7" stroke-linejoin="round">z</text>
<rect x="1749.48" y="2296.27" width="13.61" height="13.61" fill="#000"/>
<text x="1772.29" y="2309.07" font-size="18.5" textLength="69.24" lengthAdjust="spacingAndGlyphs">NCD<tspan font-size="12.03" dy="5.55">adult</tspan><tspan dy="-5.55">&#8203;</tspan></text>
<rect x="1861.54" y="2296.27" width="13.61" height="13.61" fill="#8856a7"/>
<text x="1883.56" y="2309.07" font-size="18.5" textLength="63.64" lengthAdjust="spacingAndGlyphs">BFD<tspan font-size="12.03" dy="5.55">adult</tspan><tspan dy="-5.55">&#8203;</tspan></text>
<line x1="1811.11" y1="2358.38" x2="1811.11" y2="2610.78" stroke="#1a1a1a" stroke-width="1.45"/>
<line x1="1805.51" y1="2359.1" x2="1811.11" y2="2359.1" stroke="#1a1a1a" stroke-width="1.45"/>
<text x="1797.71" y="2365.41" font-size="18.29" text-anchor="end" textLength="33.88" lengthAdjust="spacingAndGlyphs">250</text>
<line x1="1805.51" y1="2409.13" x2="1811.11" y2="2409.13" stroke="#1a1a1a" stroke-width="1.45"/>
<text x="1797.71" y="2415.44" font-size="18.29" text-anchor="end" textLength="33.88" lengthAdjust="spacingAndGlyphs">200</text>
<line x1="1805.51" y1="2459.57" x2="1811.11" y2="2459.57" stroke="#1a1a1a" stroke-width="1.45"/>
<text x="1797.71" y="2465.87" font-size="18.29" text-anchor="end" textLength="29.38" lengthAdjust="spacingAndGlyphs">150</text>
<line x1="1805.51" y1="2509.6" x2="1811.11" y2="2509.6" stroke="#1a1a1a" stroke-width="1.45"/>
<text x="1797.71" y="2515.9" font-size="18.29" text-anchor="end" textLength="29.38" lengthAdjust="spacingAndGlyphs">100</text>
<line x1="1805.51" y1="2560.03" x2="1811.11" y2="2560.03" stroke="#1a1a1a" stroke-width="1.45"/>
<text x="1797.71" y="2566.34" font-size="18.29" text-anchor="end" textLength="22.18" lengthAdjust="spacingAndGlyphs">50</text>
<line x1="1805.51" y1="2610.06" x2="1811.11" y2="2610.06" stroke="#1a1a1a" stroke-width="1.45"/>
<text x="1797.71" y="2616.37" font-size="18.29" text-anchor="end" textLength="10.98" lengthAdjust="spacingAndGlyphs">0</text>
<text font-size="22" text-anchor="middle" textLength="249.35" lengthAdjust="spacingAndGlyphs" transform="translate(1742.77 2485.18) rotate(-90)">Blood glucose (mg dl<tspan font-size="13.64" dy="-10.12">−1</tspan><tspan dy="10.12">&#8203;</tspan>)</text>
<rect x="1825.12" y="2438.35" width="28.02" height="171.7" fill="#000"/>
<line x1="1839.13" y1="2430.35" x2="1839.13" y2="2438.35" stroke="#222" stroke-width="1.1"/>
<line x1="1835.73" y1="2430.35" x2="1842.53" y2="2430.35" stroke="#222" stroke-width="1.1"/>
<g fill="#9a9a9a" fill-opacity="0.92">
<circle cx="1838.73" cy="2399.13" r="2.6"/>
<circle cx="1838.73" cy="2406.33" r="2.6"/>
<circle cx="1838.73" cy="2413.14" r="2.6"/>
<circle cx="1838.73" cy="2437.15" r="2.6"/>
<circle cx="1828.32" cy="2443.16" r="2.6"/>
<circle cx="1828.32" cy="2449.16" r="2.6"/>
<circle cx="1850.34" cy="2451.96" r="2.6"/>
<circle cx="1838.73" cy="2451.16" r="2.6"/>
<circle cx="1844.33" cy="2463.17" r="2.6"/>
<circle cx="1833.13" cy="2468.37" r="2.6"/>
</g>
<rect x="1867.55" y="2446.36" width="28.02" height="163.7" fill="#8856a7"/>
<line x1="1881.56" y1="2440.35" x2="1881.56" y2="2446.36" stroke="#8856a7" stroke-width="1.1"/>
<line x1="1878.16" y1="2440.35" x2="1884.96" y2="2440.35" stroke="#8856a7" stroke-width="1.1"/>
<g fill="#ebc8f5" fill-opacity="0.92">
<circle cx="1881.16" cy="2417.14" r="2.6"/>
<circle cx="1881.16" cy="2425.14" r="2.6"/>
<circle cx="1881.16" cy="2430.35" r="2.6"/>
<circle cx="1876.35" cy="2439.95" r="2.6"/>
<circle cx="1886.36" cy="2441.15" r="2.6"/>
<circle cx="1870.35" cy="2458.36" r="2.6"/>
<circle cx="1881.16" cy="2459.16" r="2.6"/>
<circle cx="1892.36" cy="2459.97" r="2.6"/>
<circle cx="1881.16" cy="2473.17" r="2.6"/>
</g>
</svg>
</body></html>
